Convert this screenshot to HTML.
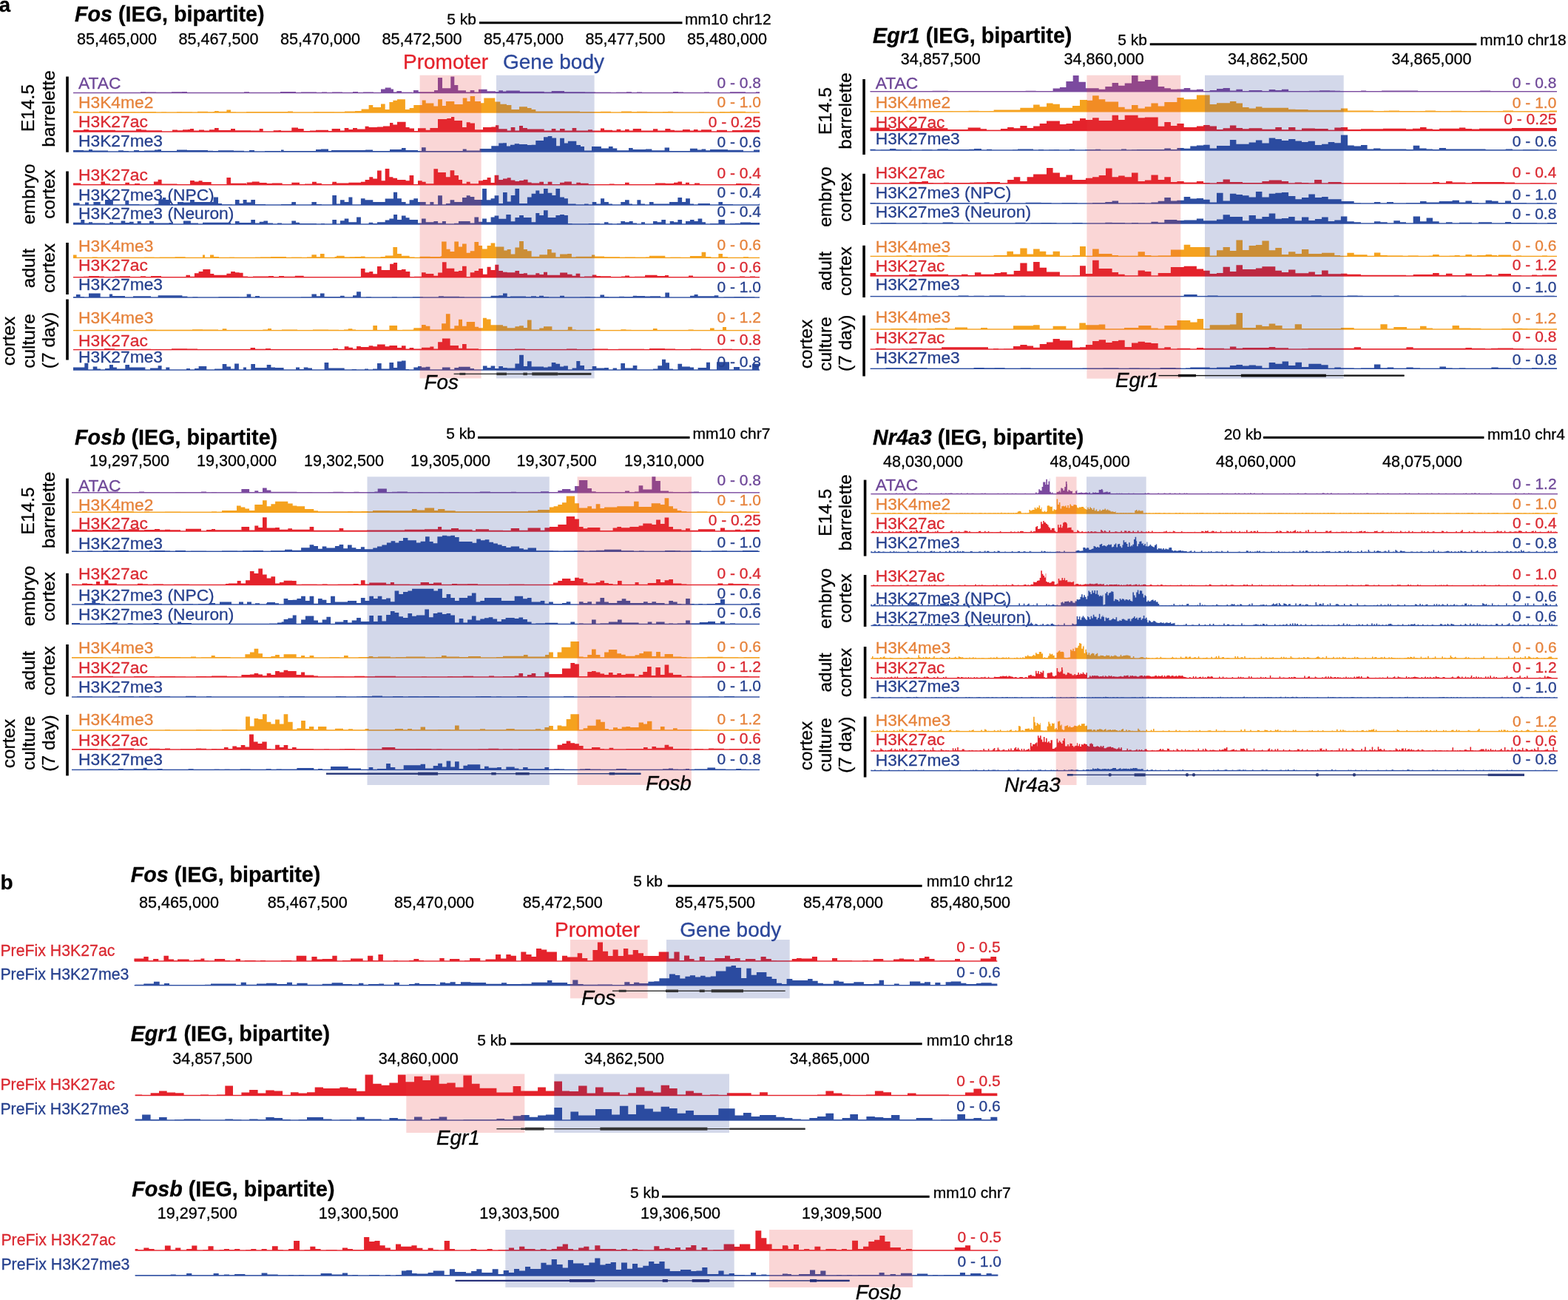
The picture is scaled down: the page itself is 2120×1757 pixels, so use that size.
<!DOCTYPE html>
<html><head><meta charset="utf-8"><title>IEG bipartite tracks</title>
<style>html,body{margin:0;padding:0;background:#fff;}svg{display:block;}</style>
</head><body>
<svg width="2120" height="1757" viewBox="0 0 2120 1757" font-family="'Liberation Sans', Arial, Helvetica, sans-serif" stroke-width="0.3">
<rect width="2120" height="1757" fill="#fff"/>
<text x="-1.2" y="16.0" font-size="27.5" fill="#000" stroke="#000" font-weight="bold">a</text>
<text x="0.6" y="1201.8" font-size="28" fill="#000" stroke="#000" font-weight="bold">b</text>
<text x="101" y="29.3" font-size="28.7" font-weight="bold" stroke="#000"><tspan font-style="italic">Fos</tspan> (IEG, bipartite)</text>
<text x="644.0" y="32.8" font-size="21" fill="#000" stroke="#000" text-anchor="end">5 kb</text>
<rect x="648" y="29.3" width="274.5" height="3" fill="#000"/>
<text x="926.0" y="32.8" font-size="21" fill="#000" stroke="#000">mm10 chr12</text>
<text x="104.0" y="60.0" font-size="21.6" fill="#000" stroke="#000">85,465,000</text>
<text x="241.5" y="60.0" font-size="21.6" fill="#000" stroke="#000">85,467,500</text>
<text x="379.0" y="60.0" font-size="21.6" fill="#000" stroke="#000">85,470,000</text>
<text x="516.5" y="60.0" font-size="21.6" fill="#000" stroke="#000">85,472,500</text>
<text x="654.0" y="60.0" font-size="21.6" fill="#000" stroke="#000">85,475,000</text>
<text x="791.5" y="60.0" font-size="21.6" fill="#000" stroke="#000">85,477,500</text>
<text x="929.0" y="60.0" font-size="21.6" fill="#000" stroke="#000">85,480,000</text>
<text x="545.0" y="93.0" font-size="28" fill="#E4222B" stroke="#E4222B">Promoter</text>
<text x="680.0" y="93.0" font-size="28" fill="#2B479A" stroke="#2B479A">Gene body</text>
<rect x="89.2" y="103.5" width="3.6" height="102.19999999999999" fill="#000"/>
<text transform="translate(46.3,146) rotate(-90)" font-size="24.5" text-anchor="middle" stroke="#000">E14.5</text>
<text transform="translate(73.5,147) rotate(-90)" font-size="24.5" text-anchor="middle" stroke="#000">barrelette</text>
<text x="106.0" y="119.9" font-size="22.8" fill="#6E4798" stroke="#6E4798">ATAC</text>
<path d="M106.0 125.5V124.9H113.0V125.5ZM127.0 125.5V124.9H148.0V125.5ZM148.0 125.5V124.9H169.0V125.5ZM190.0 125.5V124.3H197.0V125.5ZM197.0 125.5V124.5H211.0V125.5ZM211.0 125.5V124.8H232.0V125.5ZM232.0 125.5V124.3H246.0V125.5ZM246.0 125.5V124.0H253.0V125.5ZM330.0 125.5V124.2H337.0V125.5ZM337.0 125.5V124.9H358.0V125.5ZM379.0 125.5V124.1H400.0V125.5ZM407.0 125.5V124.4H428.0V125.5ZM428.0 125.5V124.9H435.0V125.5ZM435.0 125.5V124.4H442.0V125.5ZM449.0 125.5V124.4H463.0V125.5ZM477.0 125.5V123.9H484.0V125.5ZM491.0 125.5V124.5H505.0V125.5ZM505.0 125.5V124.9H512.0V125.5ZM515.0 125.5V120.5H520.7V125.5ZM520.7 125.5V118.5H528.6V125.5ZM528.6 125.5V120.5H532.0V125.5ZM532.0 125.5V124.4H536.4V125.5ZM536.4 125.5V122.9H543.0V125.5ZM543.0 125.5V124.7H557.0V125.5ZM559.0 125.5V121.9H565.7V125.5ZM565.7 125.5V124.3H587.0V125.5ZM587.0 125.5V121.9H592.0V125.5ZM592.0 125.5V105.0H598.0V125.5ZM598.0 125.5V119.3H609.3V125.5ZM609.3 125.5V103.5H614.3V125.5ZM614.3 125.5V115.0H619.3V125.5ZM619.3 125.5V122.2H630.0V125.5ZM630.0 125.5V124.5H635.7V125.5ZM635.7 125.5V121.9H641.4V125.5ZM641.4 125.5V124.5H647.0V125.5ZM647.0 125.5V120.7H658.6V125.5ZM658.6 125.5V123.3H670.0V125.5ZM670.0 125.5V124.0H674.3V125.5ZM674.3 125.5V122.2H680.0V125.5ZM680.0 125.5V123.5H684.3V125.5ZM684.3 125.5V122.5H702.9V125.5ZM702.9 125.5V123.7H735.7V125.5ZM735.7 125.5V124.5H745.7V125.5ZM745.7 125.5V123.0H763.0V125.5ZM763.0 125.5V124.3H777.0V125.5ZM777.0 125.5V124.3H791.0V125.5ZM791.0 125.5V124.4H805.0V125.5ZM805.0 125.5V124.8H819.0V125.5ZM819.0 125.5V124.8H826.0V125.5ZM833.0 125.5V124.7H847.0V125.5ZM847.0 125.5V124.2H854.0V125.5ZM861.0 125.5V124.6H868.0V125.5ZM910.0 125.5V124.1H917.0V125.5ZM917.0 125.5V124.6H924.0V125.5ZM952.0 125.5V124.6H959.0V125.5ZM987.0 125.5V124.2H1008.0V125.5ZM1015.0 125.5V124.9H1022.0V125.5ZM1022.0 125.5V124.3H1027.0V125.5Z" fill="#7B4A9F"/>
<rect x="99" y="124.8" width="928" height="1.4" fill="#7B4A9F"/>
<text x="1029.0" y="118.9" font-size="21" fill="#6E4798" stroke="#6E4798" text-anchor="end">0 - 0.8</text>
<text x="106.0" y="146.4" font-size="22.8" fill="#E6823A" stroke="#E6823A">H3K4me2</text>
<path d="M99.0 152.0V150.6H106.0V152.0ZM106.0 152.0V151.4H120.0V152.0ZM134.0 152.0V150.7H148.0V152.0ZM148.0 152.0V151.4H169.0V152.0ZM169.0 152.0V151.4H176.0V152.0ZM176.0 152.0V151.2H183.0V152.0ZM183.0 152.0V151.4H190.0V152.0ZM190.0 152.0V151.0H211.0V152.0ZM218.0 152.0V151.4H225.0V152.0ZM239.0 152.0V151.3H246.0V152.0ZM246.0 152.0V151.4H260.0V152.0ZM267.0 152.0V150.8H281.0V152.0ZM281.0 152.0V151.4H288.0V152.0ZM288.0 152.0V151.1H290.0V152.0ZM290.0 152.0V150.0H295.7V152.0ZM295.7 152.0V150.7H306.4V152.0ZM306.4 152.0V148.5H312.0V152.0ZM312.0 152.0V151.4H319.0V152.0ZM333.0 152.0V151.0H347.0V152.0ZM347.0 152.0V150.9H368.0V152.0ZM368.0 152.0V151.1H389.0V152.0ZM389.0 152.0V150.6H396.0V152.0ZM424.0 152.0V150.9H431.0V152.0ZM431.0 152.0V151.3H452.0V152.0ZM452.0 152.0V151.4H466.0V152.0ZM466.0 152.0V150.6H480.0V152.0ZM480.0 152.0V150.0H488.6V152.0ZM488.6 152.0V147.6H498.6V152.0ZM498.6 152.0V142.0H504.3V152.0ZM504.3 152.0V145.0H515.0V152.0ZM515.0 152.0V140.4H520.7V152.0ZM520.7 152.0V148.0H526.4V152.0ZM526.4 152.0V138.0H531.4V152.0ZM531.4 152.0V135.7H537.0V152.0ZM537.0 152.0V134.3H547.9V152.0ZM547.9 152.0V148.0H553.6V152.0ZM553.6 152.0V146.0H559.3V152.0ZM559.3 152.0V142.0H570.7V152.0ZM570.7 152.0V135.4H575.7V152.0ZM575.7 152.0V139.6H586.4V152.0ZM586.4 152.0V143.6H592.1V152.0ZM592.1 152.0V134.3H597.9V152.0ZM597.9 152.0V143.0H602.9V152.0ZM602.9 152.0V137.0H614.3V152.0ZM614.3 152.0V141.0H625.7V152.0ZM625.7 152.0V132.4H631.4V152.0ZM631.4 152.0V137.0H635.7V152.0ZM635.7 152.0V130.0H642.1V152.0ZM642.1 152.0V137.0H650.0V152.0ZM650.0 152.0V139.3H654.3V152.0ZM654.3 152.0V132.4H669.3V152.0ZM669.3 152.0V137.6H670.0V152.0ZM670.0 152.0V137.6H676.4V152.0ZM676.4 152.0V140.7H685.0V152.0ZM685.0 152.0V142.1H691.4V152.0ZM691.4 152.0V148.0H702.0V152.0ZM702.0 152.0V144.3H712.9V152.0ZM712.9 152.0V146.0H718.6V152.0ZM718.6 152.0V148.0H724.3V152.0ZM724.3 152.0V150.4H784.0V152.0ZM784.0 152.0V151.0H798.0V152.0ZM798.0 152.0V151.1H812.0V152.0ZM812.0 152.0V150.7H826.0V152.0ZM840.0 152.0V150.6H854.0V152.0ZM854.0 152.0V151.3H861.0V152.0ZM861.0 152.0V150.8H875.0V152.0ZM875.0 152.0V151.3H882.0V152.0ZM882.0 152.0V151.4H896.0V152.0ZM896.0 152.0V150.9H903.0V152.0ZM903.0 152.0V150.8H910.0V152.0ZM945.0 152.0V151.4H952.0V152.0ZM973.0 152.0V150.9H980.0V152.0ZM980.0 152.0V151.3H987.0V152.0ZM987.0 152.0V150.7H1008.0V152.0Z" fill="#F5A21E"/>
<rect x="99" y="151.3" width="928" height="1.4" fill="#F5A21E"/>
<text x="1029.0" y="145.1" font-size="21" fill="#E6823A" stroke="#E6823A" text-anchor="end">0 - 1.0</text>
<text x="106.0" y="172.1" font-size="22.8" fill="#DA2830" stroke="#DA2830">H3K27ac</text>
<path d="M99.0 178.0V176.0H113.0V178.0ZM113.0 178.0V175.0H120.0V178.0ZM120.0 178.0V176.0H135.0V178.0ZM135.0 178.0V175.7H156.0V178.0ZM156.0 178.0V176.4H170.0V178.0ZM170.0 178.0V176.4H184.0V178.0ZM184.0 178.0V174.4H191.0V178.0ZM191.0 178.0V175.4H198.0V178.0ZM198.0 178.0V176.3H212.0V178.0ZM212.0 178.0V176.3H219.0V178.0ZM233.0 178.0V175.6H240.0V178.0ZM240.0 178.0V176.2H247.0V178.0ZM247.0 178.0V175.3H254.0V178.0ZM254.0 178.0V174.9H257.0V178.0ZM257.0 178.0V174.0H262.0V178.0ZM262.0 178.0V176.4H269.0V178.0ZM269.0 178.0V175.4H276.0V178.0ZM276.0 178.0V176.4H283.0V178.0ZM283.0 178.0V175.3H290.0V178.0ZM290.0 178.0V173.0H295.7V178.0ZM295.7 178.0V176.0H309.7V178.0ZM309.7 178.0V176.0H312.0V178.0ZM312.0 178.0V174.0H318.0V178.0ZM318.0 178.0V176.3H325.0V178.0ZM325.0 178.0V176.3H339.0V178.0ZM339.0 178.0V176.4H350.7V178.0ZM350.7 178.0V174.0H355.7V178.0ZM369.7 178.0V176.2H376.7V178.0ZM376.7 178.0V175.9H380.0V178.0ZM380.0 178.0V176.7H394.3V178.0ZM394.3 178.0V172.5H403.0V178.0ZM403.0 178.0V174.0H410.7V178.0ZM410.7 178.0V177.0H419.0V178.0ZM419.0 178.0V176.4H427.0V178.0ZM427.0 178.0V175.7H444.0V178.0ZM444.0 178.0V177.0H448.6V178.0ZM448.6 178.0V174.0H460.0V178.0ZM460.0 178.0V176.4H465.7V178.0ZM465.7 178.0V173.0H471.4V178.0ZM471.4 178.0V175.0H477.0V178.0ZM477.0 178.0V173.0H482.9V178.0ZM482.9 178.0V174.6H493.6V178.0ZM493.6 178.0V170.7H498.6V178.0ZM498.6 178.0V172.0H510.0V178.0ZM510.0 178.0V171.5H518.0V178.0ZM518.0 178.0V170.5H527.0V178.0ZM527.0 178.0V166.0H531.4V178.0ZM531.4 178.0V168.6H537.0V178.0ZM537.0 178.0V164.7H548.6V178.0ZM548.6 178.0V172.0H553.6V178.0ZM553.6 178.0V173.6H560.0V178.0ZM560.0 178.0V177.0H565.0V178.0ZM565.0 178.0V173.3H575.7V178.0ZM575.7 178.0V175.7H581.4V178.0ZM581.4 178.0V173.0H592.0V178.0ZM592.0 178.0V161.0H604.3V178.0ZM604.3 178.0V160.0H610.0V178.0ZM610.0 178.0V158.0H614.3V178.0ZM614.3 178.0V163.0H625.0V178.0ZM625.0 178.0V172.0H630.7V178.0ZM630.7 178.0V165.3H635.7V178.0ZM635.7 178.0V166.4H642.0V178.0ZM642.0 178.0V175.3H653.0V178.0ZM653.0 178.0V172.0H664.3V178.0ZM664.3 178.0V171.4H670.0V178.0ZM670.0 178.0V169.3H674.3V178.0ZM674.3 178.0V174.3H685.7V178.0ZM685.7 178.0V176.5H690.7V178.0ZM690.7 178.0V172.0H696.4V178.0ZM696.4 178.0V176.5H702.0V178.0ZM702.0 178.0V170.0H707.0V178.0ZM707.0 178.0V173.0H712.9V178.0ZM712.9 178.0V174.5H735.7V178.0ZM735.7 178.0V176.5H745.7V178.0ZM745.7 178.0V174.0H751.4V178.0ZM751.4 178.0V176.5H757.0V178.0ZM757.0 178.0V174.0H763.6V178.0ZM763.6 178.0V176.5H773.6V178.0ZM773.6 178.0V173.0H779.3V178.0ZM779.3 178.0V176.5H795.0V178.0ZM795.0 178.0V175.3H801.0V178.0ZM801.0 178.0V176.5H812.0V178.0ZM812.0 178.0V173.6H817.0V178.0ZM817.0 178.0V175.7H828.0V178.0ZM828.0 178.0V176.5H833.6V178.0ZM833.6 178.0V174.7H839.3V178.0ZM839.3 178.0V176.5H845.0V178.0ZM845.0 178.0V174.7H850.7V178.0ZM850.7 178.0V176.5H855.7V178.0ZM855.7 178.0V174.0H867.0V178.0ZM867.0 178.0V176.5H882.9V178.0ZM882.9 178.0V174.3H889.3V178.0ZM889.3 178.0V176.5H899.3V178.0ZM899.3 178.0V174.0H906.4V178.0ZM906.4 178.0V175.7H912.0V178.0ZM912.0 178.0V176.5H922.9V178.0ZM922.9 178.0V175.0H932.9V178.0ZM932.9 178.0V176.5H937.9V178.0ZM937.9 178.0V175.0H943.6V178.0ZM943.6 178.0V176.5H948.0V178.0ZM948.0 178.0V175.3H962.0V178.0ZM969.0 178.0V175.8H983.0V178.0ZM990.0 178.0V175.9H997.0V178.0ZM997.0 178.0V175.9H1004.0V178.0ZM1004.0 178.0V175.4H1018.0V178.0ZM1018.0 178.0V175.7H1027.0V178.0Z" fill="#E4222B"/>
<rect x="99" y="177.3" width="928" height="1.4" fill="#E4222B"/>
<text x="1029.0" y="171.8" font-size="21" fill="#DA2830" stroke="#DA2830" text-anchor="end">0 - 0.25</text>
<text x="106.0" y="198.4" font-size="22.8" fill="#26408E" stroke="#26408E">H3K27me3</text>
<path d="M99.0 205.0V202.9H113.0V205.0ZM113.0 205.0V203.4H120.0V205.0ZM120.0 205.0V202.0H125.0V205.0ZM125.0 205.0V203.5H146.0V205.0ZM160.0 205.0V203.2H167.0V205.0ZM167.0 205.0V203.9H174.0V205.0ZM181.0 205.0V203.0H188.0V205.0ZM188.0 205.0V203.9H195.0V205.0ZM195.0 205.0V203.4H209.0V205.0ZM209.0 205.0V202.4H213.6V205.0ZM213.6 205.0V202.0H218.0V205.0ZM218.0 205.0V203.9H239.0V205.0ZM239.0 205.0V202.5H253.0V205.0ZM253.0 205.0V203.1H274.0V205.0ZM274.0 205.0V203.0H281.0V205.0ZM281.0 205.0V203.8H288.0V205.0ZM288.0 205.0V204.0H295.0V205.0ZM295.0 205.0V203.2H309.0V205.0ZM309.0 205.0V203.3H316.0V205.0ZM316.0 205.0V203.8H330.0V205.0ZM337.0 205.0V203.1H344.0V205.0ZM358.0 205.0V204.0H379.0V205.0ZM380.0 205.0V202.4H383.6V205.0ZM383.6 205.0V204.0H427.0V205.0ZM427.0 205.0V202.0H434.0V205.0ZM434.0 205.0V201.5H444.0V205.0ZM444.0 205.0V204.0H448.0V205.0ZM448.0 205.0V203.0H494.0V205.0ZM494.0 205.0V202.5H504.0V205.0ZM504.0 205.0V204.0H527.0V205.0ZM527.0 205.0V202.0H542.9V205.0ZM542.9 205.0V200.0H548.6V205.0ZM548.6 205.0V203.0H565.0V205.0ZM565.0 205.0V204.0H570.0V205.0ZM570.0 205.0V199.3H575.7V205.0ZM575.7 205.0V204.0H625.7V205.0ZM625.7 205.0V201.5H630.7V205.0ZM630.7 205.0V203.5H648.6V205.0ZM648.6 205.0V201.0H664.3V205.0ZM664.3 205.0V197.2H674.3V205.0ZM674.3 205.0V193.6H680.0V205.0ZM680.0 205.0V193.3H685.0V205.0ZM685.0 205.0V197.6H690.0V205.0ZM690.0 205.0V195.7H695.7V205.0ZM695.7 205.0V194.3H702.0V205.0ZM702.0 205.0V195.0H712.9V205.0ZM712.9 205.0V196.1H718.6V205.0ZM718.6 205.0V195.7H724.3V205.0ZM724.3 205.0V190.0H735.0V205.0ZM735.0 205.0V185.3H740.7V205.0ZM740.7 205.0V184.0H746.4V205.0ZM746.4 205.0V186.4H752.1V205.0ZM752.1 205.0V197.2H757.1V205.0ZM757.1 205.0V186.7H762.9V205.0ZM762.9 205.0V193.6H767.9V205.0ZM767.9 205.0V190.7H779.3V205.0ZM779.3 205.0V196.1H785.0V205.0ZM785.0 205.0V198.1H790.0V205.0ZM790.0 205.0V203.6H800.0V205.0ZM800.0 205.0V198.1H812.9V205.0ZM812.9 205.0V200.4H822.9V205.0ZM822.9 205.0V198.1H828.6V205.0ZM828.6 205.0V200.4H834.3V205.0ZM834.3 205.0V203.3H850.0V205.0ZM850.0 205.0V200.0H855.7V205.0ZM855.7 205.0V201.9H872.9V205.0ZM872.9 205.0V201.4H881.4V205.0ZM881.4 205.0V203.3H898.6V205.0ZM898.6 205.0V199.6H905.0V205.0ZM905.0 205.0V203.9H932.9V205.0ZM932.9 205.0V200.7H942.9V205.0ZM942.9 205.0V202.4H948.6V205.0ZM948.6 205.0V201.4H954.3V205.0ZM954.3 205.0V203.3H960.0V205.0ZM960.0 205.0V201.9H970.0V205.0ZM970.0 205.0V202.1H977.0V205.0ZM977.0 205.0V202.1H984.0V205.0ZM984.0 205.0V202.7H1005.0V205.0ZM1019.0 205.0V202.6H1027.0V205.0Z" fill="#2D4EA2"/>
<rect x="99" y="204.3" width="928" height="1.4" fill="#2D4EA2"/>
<text x="1029.0" y="198.8" font-size="21" fill="#26408E" stroke="#26408E" text-anchor="end">0 - 0.6</text>
<rect x="89.2" y="231.5" width="3.6" height="70.19999999999999" fill="#000"/>
<text transform="translate(46.6,262.3) rotate(-90)" font-size="24.5" text-anchor="middle" stroke="#000">embryo</text>
<text transform="translate(73.6,262.5) rotate(-90)" font-size="24.5" text-anchor="middle" stroke="#000">cortex</text>
<text x="106.0" y="243.5" font-size="22.8" fill="#DA2830" stroke="#DA2830">H3K27ac</text>
<path d="M99.0 249.7V247.4H109.3V249.7ZM109.3 249.7V248.9H116.3V249.7ZM136.4 249.7V245.4H142.0V249.7ZM142.0 249.7V248.2H149.0V249.7ZM149.0 249.7V249.0H169.3V249.7ZM169.3 249.7V246.8H175.0V249.7ZM175.0 249.7V249.0H182.0V249.7ZM182.0 249.7V248.0H189.0V249.7ZM189.0 249.7V248.9H207.9V249.7ZM207.9 249.7V245.4H213.6V249.7ZM213.6 249.7V242.8H218.6V249.7ZM218.6 249.7V248.5H239.6V249.7ZM239.6 249.7V249.1H246.6V249.7ZM246.6 249.7V249.0H253.6V249.7ZM257.0 249.7V244.0H262.9V249.7ZM262.9 249.7V245.4H268.6V249.7ZM268.6 249.7V244.3H273.6V249.7ZM273.6 249.7V246.0H285.7V249.7ZM285.7 249.7V249.1H306.4V249.7ZM306.4 249.7V240.0H312.0V249.7ZM312.0 249.7V247.7H333.0V249.7ZM333.6 249.7V246.4H340.7V249.7ZM340.7 249.7V245.4H350.7V249.7ZM350.7 249.7V247.1H360.7V249.7ZM360.7 249.7V248.1H367.7V249.7ZM367.7 249.7V247.6H381.7V249.7ZM381.7 249.7V248.9H394.3V249.7ZM394.3 249.7V246.8H405.0V249.7ZM412.0 249.7V248.4H422.0V249.7ZM422.0 249.7V245.7H427.9V249.7ZM427.9 249.7V247.8H434.9V249.7ZM448.9 249.7V248.1H449.3V249.7ZM449.3 249.7V245.7H455.0V249.7ZM455.0 249.7V247.6H471.4V249.7ZM471.4 249.7V246.8H487.9V249.7ZM487.9 249.7V245.7H493.6V249.7ZM493.6 249.7V243.1H499.3V249.7ZM499.3 249.7V239.3H504.3V249.7ZM504.3 249.7V241.4H510.0V249.7ZM510.0 249.7V230.4H515.7V249.7ZM515.7 249.7V244.3H520.7V249.7ZM520.7 249.7V228.0H526.4V249.7ZM526.4 249.7V239.3H531.4V249.7ZM531.4 249.7V240.7H537.1V249.7ZM537.1 249.7V243.1H548.6V249.7ZM548.6 249.7V244.3H553.6V249.7ZM553.6 249.7V237.1H559.3V249.7ZM565.0 249.7V244.3H570.7V249.7ZM570.7 249.7V245.7H575.7V249.7ZM575.7 249.7V248.3H586.4V249.7ZM586.4 249.7V228.3H592.1V249.7ZM592.1 249.7V233.1H602.9V249.7ZM602.9 249.7V239.3H608.6V249.7ZM608.6 249.7V230.3H614.3V249.7ZM614.3 249.7V237.1H620.0V249.7ZM620.0 249.7V243.1H625.0V249.7ZM625.0 249.7V248.3H630.7V249.7ZM630.7 249.7V245.7H635.7V249.7ZM635.7 249.7V248.3H647.0V249.7ZM647.0 249.7V244.3H652.9V249.7ZM652.9 249.7V243.1H658.6V249.7ZM658.6 249.7V240.0H663.6V249.7ZM663.6 249.7V247.1H668.6V249.7ZM668.6 249.7V236.8H674.3V249.7ZM674.3 249.7V243.1H680.0V249.7ZM680.0 249.7V241.4H685.7V249.7ZM685.7 249.7V240.3H690.7V249.7ZM690.7 249.7V243.6H696.4V249.7ZM696.4 249.7V245.0H702.1V249.7ZM702.1 249.7V244.0H707.9V249.7ZM707.9 249.7V242.8H713.6V249.7ZM713.6 249.7V246.4H718.6V249.7ZM718.6 249.7V247.4H729.3V249.7ZM729.3 249.7V245.7H735.0V249.7ZM735.0 249.7V248.7H740.7V249.7ZM740.7 249.7V245.7H746.4V249.7ZM757.0 249.7V246.8H762.9V249.7ZM762.9 249.7V245.4H772.9V249.7ZM772.9 249.7V248.7H779.3V249.7ZM779.3 249.7V246.8H785.0V249.7ZM785.0 249.7V247.8H795.7V249.7ZM823.7 249.7V248.5H830.7V249.7ZM845.0 249.7V246.8H850.7V249.7ZM864.7 249.7V249.1H885.7V249.7ZM885.7 249.7V247.4H899.7V249.7ZM899.7 249.7V248.0H911.0V249.7ZM911.0 249.7V246.8H916.4V249.7ZM916.4 249.7V245.4H922.1V249.7ZM922.1 249.7V248.7H927.0V249.7ZM927.0 249.7V246.8H932.0V249.7ZM939.0 249.7V247.6H946.0V249.7ZM953.0 249.7V249.1H960.0V249.7ZM988.0 249.7V249.1H995.0V249.7ZM995.0 249.7V248.1H1002.0V249.7ZM1002.0 249.7V248.2H1016.0V249.7ZM1016.0 249.7V248.9H1027.0V249.7Z" fill="#E4222B"/>
<rect x="99" y="249.0" width="928" height="1.4" fill="#E4222B"/>
<text x="1029.0" y="240.5" font-size="21" fill="#DA2830" stroke="#DA2830" text-anchor="end">0 - 0.4</text>
<text x="106.0" y="270.9" font-size="22.8" fill="#26408E" stroke="#26408E">H3K27me3 (NPC)</text>
<path d="M99.0 277.0V274.3H107.6V277.0ZM115.0 277.0V273.6H120.0V277.0ZM126.4 277.0V272.9H135.7V277.0ZM135.7 277.0V276.4H142.0V277.0ZM142.0 277.0V270.0H152.9V277.0ZM169.3 277.0V270.7H174.3V277.0ZM174.3 277.0V276.0H188.3V277.0ZM209.3 277.0V275.8H214.3V277.0ZM214.3 277.0V269.3H220.0V277.0ZM220.0 277.0V267.1H224.3V277.0ZM224.3 277.0V270.0H230.0V277.0ZM230.0 277.0V276.0H240.0V277.0ZM240.0 277.0V273.1H248.0V277.0ZM248.0 277.0V273.6H257.0V277.0ZM257.0 277.0V270.0H262.9V277.0ZM262.9 277.0V272.9H288.6V277.0ZM288.6 277.0V266.4H295.0V277.0ZM295.0 277.0V275.0H300.0V277.0ZM300.0 277.0V276.4H314.0V277.0ZM317.9 277.0V270.0H323.6V277.0ZM323.6 277.0V275.0H328.6V277.0ZM328.6 277.0V270.0H333.6V277.0ZM333.6 277.0V273.6H339.3V277.0ZM339.3 277.0V270.0H345.0V277.0ZM345.0 277.0V276.1H359.0V277.0ZM380.0 277.0V276.0H394.0V277.0ZM394.0 277.0V275.0H394.3V277.0ZM394.3 277.0V272.9H400.0V277.0ZM421.0 277.0V276.0H421.4V277.0ZM421.4 277.0V272.9H427.9V277.0ZM427.9 277.0V276.1H434.9V277.0ZM449.3 277.0V264.0H455.0V277.0ZM455.0 277.0V275.4H460.0V277.0ZM460.0 277.0V270.3H465.7V277.0ZM465.7 277.0V272.9H471.4V277.0ZM471.4 277.0V266.4H476.4V277.0ZM487.9 277.0V268.3H493.6V277.0ZM493.6 277.0V270.3H504.3V277.0ZM504.3 277.0V272.9H520.7V277.0ZM520.7 277.0V268.6H532.0V277.0ZM532.0 277.0V259.7H537.1V277.0ZM537.1 277.0V268.3H542.9V277.0ZM542.9 277.0V272.9H548.6V277.0ZM548.6 277.0V275.4H553.6V277.0ZM553.6 277.0V270.3H559.3V277.0ZM559.3 277.0V268.3H565.0V277.0ZM565.0 277.0V273.1H575.7V277.0ZM581.4 277.0V272.9H586.4V277.0ZM592.1 277.0V264.3H597.9V277.0ZM602.9 277.0V275.0H608.6V277.0ZM608.6 277.0V270.3H614.3V277.0ZM614.3 277.0V272.9H625.0V277.0ZM625.0 277.0V266.9H630.7V277.0ZM630.7 277.0V264.3H635.7V277.0ZM635.7 277.0V266.0H641.4V277.0ZM641.4 277.0V270.0H652.1V277.0ZM652.1 277.0V255.0H657.9V277.0ZM657.9 277.0V270.3H663.6V277.0ZM663.6 277.0V268.3H668.6V277.0ZM668.6 277.0V264.3H674.3V277.0ZM674.3 277.0V275.0H680.0V277.0ZM680.0 277.0V260.0H685.7V277.0ZM685.7 277.0V272.6H690.7V277.0ZM690.7 277.0V264.0H696.4V277.0ZM696.4 277.0V255.0H702.1V277.0ZM702.1 277.0V275.0H712.9V277.0ZM712.9 277.0V266.4H718.6V277.0ZM718.6 277.0V261.7H724.3V277.0ZM724.3 277.0V257.4H729.3V277.0ZM729.3 277.0V261.7H735.0V277.0ZM735.0 277.0V255.0H740.7V277.0ZM740.7 277.0V260.7H746.4V277.0ZM746.4 277.0V264.0H751.4V277.0ZM751.4 277.0V255.0H757.1V277.0ZM757.1 277.0V266.4H762.9V277.0ZM762.9 277.0V268.3H767.9V277.0ZM767.9 277.0V275.4H778.6V277.0ZM790.0 277.0V275.4H795.7V277.0ZM800.7 277.0V272.9H806.4V277.0ZM806.4 277.0V275.5H812.1V277.0ZM812.1 277.0V268.3H817.1V277.0ZM817.1 277.0V272.9H822.9V277.0ZM822.9 277.0V275.5H828.0V277.0ZM839.3 277.0V272.9H845.0V277.0ZM845.0 277.0V270.3H850.7V277.0ZM850.7 277.0V275.5H855.0V277.0ZM861.4 277.0V270.3H866.4V277.0ZM866.4 277.0V275.5H872.0V277.0ZM877.9 277.0V272.9H883.6V277.0ZM883.6 277.0V275.4H905.0V277.0ZM905.0 277.0V272.9H916.4V277.0ZM916.4 277.0V266.9H922.1V277.0ZM922.1 277.0V272.9H927.1V277.0ZM927.1 277.0V268.3H932.9V277.0ZM932.9 277.0V275.5H938.0V277.0ZM943.6 277.0V275.0H960.0V277.0ZM971.4 277.0V272.9H977.0V277.0ZM977.0 277.0V276.1H991.0V277.0ZM1026.0 277.0V275.6H1027.0V277.0Z" fill="#2D4EA2"/>
<rect x="99" y="276.3" width="928" height="1.4" fill="#2D4EA2"/>
<text x="1029.0" y="266.7" font-size="21" fill="#26408E" stroke="#26408E" text-anchor="end">0 - 0.4</text>
<text x="106.0" y="295.5" font-size="22.8" fill="#26408E" stroke="#26408E">H3K27me3 (Neuron)</text>
<path d="M99.0 303.0V300.7H109.3V303.0ZM109.3 303.0V297.1H114.3V303.0ZM114.3 303.0V301.4H120.0V303.0ZM120.0 303.0V300.3H125.0V303.0ZM125.0 303.0V301.5H132.0V303.0ZM132.0 303.0V301.5H142.0V303.0ZM142.0 303.0V302.0H148.0V303.0ZM148.0 303.0V300.3H153.0V303.0ZM153.0 303.0V301.4H163.6V303.0ZM163.6 303.0V298.6H169.3V303.0ZM169.3 303.0V301.0H175.0V303.0ZM175.0 303.0V299.7H180.7V303.0ZM180.7 303.0V302.0H185.7V303.0ZM185.7 303.0V298.9H190.7V303.0ZM190.7 303.0V301.8H202.0V303.0ZM202.0 303.0V298.9H207.9V303.0ZM207.9 303.0V301.4H228.6V303.0ZM228.6 303.0V301.0H234.0V303.0ZM247.9 303.0V298.6H257.9V303.0ZM257.9 303.0V301.4H268.0V303.0ZM274.0 303.0V300.7H312.0V303.0ZM317.9 303.0V298.9H323.6V303.0ZM323.6 303.0V301.1H339.3V303.0ZM339.3 303.0V297.1H345.0V303.0ZM345.0 303.0V301.5H350.7V303.0ZM350.7 303.0V299.7H356.4V303.0ZM356.4 303.0V298.6H362.0V303.0ZM362.0 303.0V301.5H369.0V303.0ZM375.0 303.0V301.5H381.0V303.0ZM394.3 303.0V298.6H400.0V303.0ZM400.0 303.0V300.7H405.0V303.0ZM405.0 303.0V302.0H427.9V303.0ZM434.0 303.0V302.0H439.0V303.0ZM449.3 303.0V296.9H455.0V303.0ZM460.0 303.0V298.3H465.7V303.0ZM465.7 303.0V295.4H471.4V303.0ZM471.4 303.0V300.3H482.1V303.0ZM482.1 303.0V293.6H487.9V303.0ZM498.6 303.0V300.7H504.3V303.0ZM504.3 303.0V302.0H510.0V303.0ZM510.0 303.0V300.3H520.7V303.0ZM520.7 303.0V297.4H526.4V303.0ZM526.4 303.0V295.4H532.1V303.0ZM532.1 303.0V290.0H537.1V303.0ZM537.1 303.0V297.1H542.9V303.0ZM542.9 303.0V291.4H548.6V303.0ZM548.6 303.0V294.3H553.6V303.0ZM553.6 303.0V296.9H565.0V303.0ZM565.0 303.0V301.4H570.0V303.0ZM570.0 303.0V295.4H575.7V303.0ZM575.7 303.0V300.3H586.4V303.0ZM586.4 303.0V298.9H592.1V303.0ZM592.1 303.0V301.5H597.9V303.0ZM597.9 303.0V298.9H602.9V303.0ZM614.0 303.0V301.7H620.0V303.0ZM620.0 303.0V298.9H635.7V303.0ZM635.7 303.0V301.5H641.4V303.0ZM641.4 303.0V293.6H647.1V303.0ZM647.1 303.0V299.7H652.1V303.0ZM652.1 303.0V295.4H657.9V303.0ZM657.9 303.0V300.3H663.6V303.0ZM663.6 303.0V293.6H668.6V303.0ZM668.6 303.0V291.4H674.3V303.0ZM674.3 303.0V295.7H684.3V303.0ZM684.3 303.0V290.0H690.7V303.0ZM690.7 303.0V299.3H696.4V303.0ZM696.4 303.0V294.0H702.1V303.0ZM702.1 303.0V291.1H707.9V303.0ZM707.9 303.0V294.0H718.6V303.0ZM718.6 303.0V300.3H724.3V303.0ZM724.3 303.0V287.9H729.3V303.0ZM729.3 303.0V291.1H735.0V303.0ZM735.0 303.0V284.3H740.7V303.0ZM740.7 303.0V294.0H751.4V303.0ZM751.4 303.0V291.1H757.1V303.0ZM757.1 303.0V290.0H762.9V303.0ZM762.9 303.0V291.1H767.9V303.0ZM767.9 303.0V302.0H773.6V303.0ZM795.7 303.0V302.0H811.0V303.0ZM817.0 303.0V300.3H822.6V303.0ZM822.6 303.0V302.0H828.0V303.0ZM834.0 303.0V302.0H839.3V303.0ZM839.3 303.0V298.9H845.0V303.0ZM845.0 303.0V300.3H850.7V303.0ZM850.7 303.0V298.9H855.7V303.0ZM855.7 303.0V301.5H861.0V303.0ZM867.0 303.0V300.3H872.0V303.0ZM883.0 303.0V298.9H888.6V303.0ZM888.6 303.0V300.3H894.3V303.0ZM894.3 303.0V296.9H900.0V303.0ZM905.7 303.0V298.9H911.0V303.0ZM911.0 303.0V300.3H916.4V303.0ZM916.4 303.0V296.9H922.1V303.0ZM927.0 303.0V298.9H932.9V303.0ZM932.9 303.0V297.1H938.6V303.0ZM938.6 303.0V298.9H943.6V303.0ZM943.6 303.0V295.4H949.3V303.0ZM949.3 303.0V300.3H954.0V303.0ZM960.0 303.0V302.0H971.4V303.0ZM971.4 303.0V297.1H980.0V303.0ZM987.0 303.0V302.1H994.0V303.0ZM994.0 303.0V301.7H1001.0V303.0ZM1001.0 303.0V300.6H1015.0V303.0ZM1015.0 303.0V301.1H1027.0V303.0Z" fill="#2D4EA2"/>
<rect x="99" y="302.3" width="928" height="1.4" fill="#2D4EA2"/>
<text x="1029.0" y="293.0" font-size="21" fill="#26408E" stroke="#26408E" text-anchor="end">0 - 0.4</text>
<rect x="89.2" y="328" width="3.6" height="70" fill="#000"/>
<text transform="translate(46.6,362.6) rotate(-90)" font-size="24.5" text-anchor="middle" stroke="#000">adult</text>
<text transform="translate(73.6,362.3) rotate(-90)" font-size="24.5" text-anchor="middle" stroke="#000">cortex</text>
<text x="106.0" y="340.4" font-size="22.8" fill="#E6823A" stroke="#E6823A">H3K4me3</text>
<path d="M99.0 348.4V344.4H103.6V348.4ZM124.6 348.4V347.5H131.6V348.4ZM194.6 348.4V347.7H208.6V348.4ZM215.6 348.4V347.7H236.6V348.4ZM236.6 348.4V347.3H250.6V348.4ZM274.0 348.4V344.4H277.0V348.4ZM284.0 348.4V344.4H289.0V348.4ZM289.0 348.4V347.1H296.0V348.4ZM310.0 348.4V347.7H317.0V348.4ZM345.0 348.4V347.7H352.0V348.4ZM352.0 348.4V347.5H366.0V348.4ZM366.0 348.4V346.9H387.0V348.4ZM394.0 348.4V347.7H408.0V348.4ZM415.0 348.4V347.6H421.4V348.4ZM421.4 348.4V344.3H427.9V348.4ZM427.9 348.4V347.2H432.9V348.4ZM432.9 348.4V343.1H438.6V348.4ZM452.6 348.4V347.0H455.0V348.4ZM455.0 348.4V345.7H465.7V348.4ZM465.7 348.4V347.5H472.7V348.4ZM472.7 348.4V347.3H479.7V348.4ZM479.7 348.4V346.9H486.7V348.4ZM486.7 348.4V347.1H487.9V348.4ZM487.9 348.4V346.4H493.6V348.4ZM493.6 348.4V347.8H514.6V348.4ZM514.6 348.4V347.1H520.7V348.4ZM520.7 348.4V345.4H531.4V348.4ZM531.4 348.4V334.0H537.1V348.4ZM537.1 348.4V343.1H542.9V348.4ZM542.9 348.4V345.7H553.6V348.4ZM553.6 348.4V347.6H560.6V348.4ZM567.6 348.4V346.8H581.6V348.4ZM581.6 348.4V347.1H595.6V348.4ZM595.6 348.4V346.3H597.1V348.4ZM597.1 348.4V326.4H603.6V348.4ZM603.6 348.4V336.8H608.6V348.4ZM608.6 348.4V340.0H614.3V348.4ZM614.3 348.4V326.4H620.0V348.4ZM620.0 348.4V333.5H625.0V348.4ZM625.0 348.4V329.4H630.7V348.4ZM630.7 348.4V341.7H635.7V348.4ZM635.7 348.4V339.3H641.4V348.4ZM641.4 348.4V327.1H647.1V348.4ZM647.1 348.4V332.1H652.1V348.4ZM652.1 348.4V336.4H658.6V348.4ZM658.6 348.4V332.1H663.6V348.4ZM663.6 348.4V328.5H669.3V348.4ZM669.3 348.4V333.5H680.0V348.4ZM680.0 348.4V333.5H681.4V348.4ZM681.4 348.4V338.4H685.7V348.4ZM685.7 348.4V337.1H690.7V348.4ZM690.7 348.4V343.5H696.4V348.4ZM696.4 348.4V334.4H702.1V348.4ZM702.1 348.4V326.0H707.9V348.4ZM707.9 348.4V337.1H712.9V348.4ZM712.9 348.4V339.3H718.6V348.4ZM718.6 348.4V346.8H729.3V348.4ZM729.3 348.4V344.3H740.0V348.4ZM740.0 348.4V337.1H745.7V348.4ZM745.7 348.4V341.4H751.4V348.4ZM751.4 348.4V347.4H757.1V348.4ZM757.1 348.4V343.5H767.1V348.4ZM767.1 348.4V343.1H772.9V348.4ZM772.9 348.4V347.4H778.6V348.4ZM778.6 348.4V346.8H800.0V348.4ZM800.0 348.4V344.4H804.3V348.4ZM804.3 348.4V346.4H817.0V348.4ZM817.0 348.4V347.2H838.0V348.4ZM838.0 348.4V347.8H845.0V348.4ZM845.0 348.4V347.4H859.0V348.4ZM859.0 348.4V347.8H873.0V348.4ZM873.0 348.4V347.6H877.9V348.4ZM877.9 348.4V345.7H899.3V348.4ZM906.3 348.4V347.8H920.3V348.4ZM932.9 348.4V346.0H948.6V348.4ZM948.6 348.4V340.7H954.3V348.4ZM954.3 348.4V346.9H961.3V348.4ZM971.4 348.4V343.1H977.0V348.4ZM977.0 348.4V347.3H984.0V348.4ZM1005.0 348.4V347.3H1012.0V348.4Z" fill="#F5A21E"/>
<rect x="99" y="347.7" width="928" height="1.4" fill="#F5A21E"/>
<text x="1029.0" y="338.3" font-size="21" fill="#E6823A" stroke="#E6823A" text-anchor="end">0 - 0.6</text>
<text x="106.0" y="365.8" font-size="22.8" fill="#DA2830" stroke="#DA2830">H3K27ac</text>
<path d="M99.0 374.7V373.9H113.0V374.7ZM113.0 374.7V373.8H120.0V374.7ZM120.0 374.7V372.9H134.0V374.7ZM134.0 374.7V373.6H141.0V374.7ZM155.0 374.7V373.5H162.0V374.7ZM162.0 374.7V373.2H176.0V374.7ZM176.0 374.7V374.1H190.0V374.7ZM190.0 374.7V373.3H197.0V374.7ZM197.0 374.7V374.0H204.0V374.7ZM204.0 374.7V373.0H218.0V374.7ZM218.0 374.7V374.1H232.0V374.7ZM251.4 374.7V371.7H257.0V374.7ZM257.0 374.7V373.7H262.9V374.7ZM262.9 374.7V369.3H268.6V374.7ZM268.6 374.7V367.1H274.3V374.7ZM274.3 374.7V364.0H284.3V374.7ZM284.3 374.7V370.0H289.3V374.7ZM289.3 374.7V371.7H306.4V374.7ZM306.4 374.7V369.7H312.1V374.7ZM312.1 374.7V367.1H317.9V374.7ZM317.9 374.7V368.3H323.6V374.7ZM323.6 374.7V368.8H328.6V374.7ZM328.6 374.7V373.6H335.0V374.7ZM342.0 374.7V373.6H363.0V374.7ZM363.0 374.7V373.1H370.0V374.7ZM370.0 374.7V374.1H377.0V374.7ZM377.0 374.7V372.9H384.0V374.7ZM384.0 374.7V373.7H391.0V374.7ZM391.0 374.7V373.7H398.0V374.7ZM398.6 374.7V372.7H410.7V374.7ZM410.7 374.7V373.9H417.7V374.7ZM417.7 374.7V373.9H438.7V374.7ZM438.7 374.7V374.1H452.7V374.7ZM473.7 374.7V374.1H487.9V374.7ZM487.9 374.7V363.1H493.6V374.7ZM493.6 374.7V368.3H499.3V374.7ZM499.3 374.7V367.1H504.3V374.7ZM504.3 374.7V370.3H510.0V374.7ZM510.0 374.7V360.0H515.7V374.7ZM515.7 374.7V365.0H527.1V374.7ZM527.1 374.7V356.8H532.1V374.7ZM532.1 374.7V355.0H537.1V374.7ZM537.1 374.7V365.0H542.9V374.7ZM542.9 374.7V364.0H548.6V374.7ZM548.6 374.7V367.1H554.3V374.7ZM554.3 374.7V374.2H560.0V374.7ZM560.0 374.7V373.8H570.0V374.7ZM570.0 374.7V368.3H575.7V374.7ZM575.7 374.7V370.0H586.4V374.7ZM586.4 374.7V372.7H592.1V374.7ZM592.1 374.7V368.6H597.9V374.7ZM597.9 374.7V354.3H603.6V374.7ZM603.6 374.7V362.8H614.3V374.7ZM614.3 374.7V367.1H620.0V374.7ZM620.0 374.7V366.0H625.0V374.7ZM625.0 374.7V359.7H630.7V374.7ZM630.7 374.7V374.0H635.7V374.7ZM635.7 374.7V368.3H641.4V374.7ZM641.4 374.7V366.0H647.1V374.7ZM647.1 374.7V363.1H652.9V374.7ZM652.9 374.7V370.7H658.6V374.7ZM658.6 374.7V360.7H663.6V374.7ZM663.6 374.7V365.0H669.3V374.7ZM669.3 374.7V357.8H674.3V374.7ZM674.3 374.7V366.0H680.0V374.7ZM680.0 374.7V367.8H685.7V374.7ZM685.7 374.7V368.3H696.4V374.7ZM696.4 374.7V366.0H702.1V374.7ZM702.1 374.7V370.0H707.9V374.7ZM707.9 374.7V369.3H712.9V374.7ZM712.9 374.7V371.4H724.3V374.7ZM724.3 374.7V369.3H729.3V374.7ZM729.3 374.7V371.1H735.0V374.7ZM735.0 374.7V367.8H740.0V374.7ZM740.0 374.7V371.7H757.1V374.7ZM757.1 374.7V368.6H767.1V374.7ZM767.1 374.7V370.7H773.6V374.7ZM773.6 374.7V372.8H778.6V374.7ZM778.6 374.7V369.7H784.3V374.7ZM790.0 374.7V373.6H800.7V374.7ZM800.7 374.7V371.4H806.4V374.7ZM806.4 374.7V373.1H812.0V374.7ZM812.0 374.7V373.2H826.0V374.7ZM826.0 374.7V374.1H840.0V374.7ZM840.0 374.7V373.6H845.0V374.7ZM845.0 374.7V372.6H851.0V374.7ZM851.0 374.7V373.9H858.0V374.7ZM858.0 374.7V373.8H872.0V374.7ZM872.0 374.7V372.9H872.1V374.7ZM872.1 374.7V371.7H888.6V374.7ZM888.6 374.7V373.0H899.0V374.7ZM899.0 374.7V372.1H904.0V374.7ZM918.0 374.7V374.0H931.0V374.7ZM931.0 374.7V372.6H937.0V374.7ZM937.0 374.7V374.1H958.0V374.7ZM1000.0 374.7V373.6H1007.0V374.7ZM1007.0 374.7V374.0H1014.0V374.7ZM1014.0 374.7V373.5H1021.0V374.7ZM1021.0 374.7V374.1H1027.0V374.7Z" fill="#E4222B"/>
<rect x="99" y="374.0" width="928" height="1.4" fill="#E4222B"/>
<text x="1029.0" y="368.0" font-size="21" fill="#DA2830" stroke="#DA2830" text-anchor="end">0 - 0.6</text>
<text x="106.0" y="392.1" font-size="22.8" fill="#26408E" stroke="#26408E">H3K27me3</text>
<path d="M99.0 402.0V400.9H102.9V402.0ZM102.9 402.0V397.9H108.6V402.0ZM108.6 402.0V401.0H114.0V402.0ZM120.0 402.0V396.4H135.7V402.0ZM147.9 402.0V397.4H152.1V402.0ZM152.1 402.0V400.0H169.0V402.0ZM180.0 402.0V400.3H204.0V402.0ZM213.6 402.0V399.3H246.4V402.0ZM246.4 402.0V400.5H253.4V402.0ZM260.4 402.0V401.3H267.4V402.0ZM295.4 402.0V401.3H309.4V402.0ZM309.4 402.0V401.3H323.4V402.0ZM323.4 402.0V401.4H330.4V402.0ZM330.4 402.0V401.3H333.6V402.0ZM333.6 402.0V397.4H339.3V402.0ZM345.0 402.0V400.0H351.0V402.0ZM407.0 402.0V401.4H421.0V402.0ZM421.4 402.0V397.4H427.9V402.0ZM427.9 402.0V400.3H432.9V402.0ZM432.9 402.0V396.4H438.6V402.0ZM438.6 402.0V401.0H460.0V402.0ZM460.0 402.0V399.7H465.7V402.0ZM477.0 402.0V399.3H482.1V402.0ZM482.1 402.0V394.3H487.9V402.0ZM494.9 402.0V401.3H501.9V402.0ZM529.9 402.0V401.3H536.9V402.0ZM557.9 402.0V401.3H571.9V402.0ZM592.9 402.0V400.3H599.9V402.0ZM599.9 402.0V400.8H606.9V402.0ZM606.9 402.0V400.7H620.9V402.0ZM620.9 402.0V401.2H627.9V402.0ZM663.6 402.0V399.7H674.3V402.0ZM674.3 402.0V399.3H680.0V402.0ZM680.0 402.0V396.4H685.7V402.0ZM685.7 402.0V401.0H690.0V402.0ZM690.0 402.0V400.4H711.0V402.0ZM711.0 402.0V401.2H718.0V402.0ZM718.0 402.0V400.3H725.0V402.0ZM725.0 402.0V401.2H729.0V402.0ZM729.0 402.0V399.7H735.0V402.0ZM735.0 402.0V400.9H742.0V402.0ZM757.0 402.0V399.7H763.0V402.0ZM784.0 402.0V401.4H791.0V402.0ZM791.0 402.0V401.1H798.0V402.0ZM798.0 402.0V401.4H805.0V402.0ZM811.4 402.0V398.6H817.1V402.0ZM817.1 402.0V401.0H823.0V402.0ZM823.0 402.0V401.4H837.0V402.0ZM837.0 402.0V400.8H844.0V402.0ZM844.0 402.0V400.9H855.7V402.0ZM855.7 402.0V399.7H861.0V402.0ZM861.0 402.0V400.0H872.0V402.0ZM872.0 402.0V400.5H879.0V402.0ZM879.0 402.0V400.2H893.0V402.0ZM899.3 402.0V395.4H905.0V402.0ZM933.0 402.0V399.7H938.6V402.0ZM938.6 402.0V397.9H943.6V402.0ZM943.6 402.0V400.3H954.0V402.0ZM954.0 402.0V400.2H965.7V402.0ZM965.7 402.0V399.3H971.4V402.0ZM978.4 402.0V401.4H992.4V402.0ZM992.4 402.0V400.9H1006.4V402.0ZM1006.4 402.0V401.3H1020.4V402.0Z" fill="#2D4EA2"/>
<rect x="99" y="401.3" width="928" height="1.4" fill="#2D4EA2"/>
<text x="1029.0" y="395.0" font-size="21" fill="#26408E" stroke="#26408E" text-anchor="end">0 - 1.0</text>
<rect x="89.2" y="404.5" width="3.6" height="82.0" fill="#000"/>
<text transform="translate(20,461) rotate(-90)" font-size="24.5" text-anchor="middle" stroke="#000">cortex</text>
<text transform="translate(46.6,461) rotate(-90)" font-size="24.5" text-anchor="middle" stroke="#000">culture</text>
<text transform="translate(73.5,460) rotate(-90)" font-size="24.5" text-anchor="middle" stroke="#000">(7 day)</text>
<text x="106.0" y="437.0" font-size="22.8" fill="#E6823A" stroke="#E6823A">H3K4me3</text>
<path d="M141.0 446.6V445.6H148.0V446.6ZM148.0 446.6V445.9H155.0V446.6ZM155.0 446.6V445.8H176.0V446.6ZM176.0 446.6V445.7H183.0V446.6ZM197.0 446.6V445.5H211.0V446.6ZM211.0 446.6V445.7H225.0V446.6ZM225.0 446.6V445.8H239.0V446.6ZM239.0 446.6V445.7H260.0V446.6ZM260.0 446.6V445.3H274.0V446.6ZM274.0 446.6V445.4H295.0V446.6ZM295.0 446.6V445.9H300.7V446.6ZM300.7 446.6V444.3H306.4V446.6ZM306.4 446.6V446.0H313.4V446.6ZM341.4 446.6V445.9H355.4V446.6ZM355.4 446.6V445.5H362.0V446.6ZM362.0 446.6V444.0H367.0V446.6ZM367.0 446.6V445.9H381.0V446.6ZM381.0 446.6V445.5H402.0V446.6ZM423.0 446.6V445.4H444.0V446.6ZM444.0 446.6V445.7H451.0V446.6ZM451.0 446.6V445.8H458.0V446.6ZM465.0 446.6V445.5H470.7V446.6ZM470.7 446.6V444.3H476.4V446.6ZM476.4 446.6V445.6H481.0V446.6ZM481.0 446.6V445.9H495.0V446.6ZM495.0 446.6V445.9H504.3V446.6ZM504.3 446.6V440.0H510.0V446.6ZM526.4 446.6V440.0H537.1V446.6ZM544.1 446.6V445.8H558.1V446.6ZM558.1 446.6V445.6H559.3V446.6ZM559.3 446.6V443.2H570.0V446.6ZM570.0 446.6V438.9H575.7V446.6ZM575.7 446.6V440.7H581.4V446.6ZM581.4 446.6V445.5H597.1V446.6ZM597.1 446.6V437.2H602.9V446.6ZM602.9 446.6V424.3H608.6V446.6ZM608.6 446.6V444.3H614.3V446.6ZM614.3 446.6V440.3H620.0V446.6ZM620.0 446.6V431.7H625.0V446.6ZM625.0 446.6V440.7H630.7V446.6ZM630.7 446.6V435.0H642.1V446.6ZM642.1 446.6V441.7H647.1V446.6ZM647.1 446.6V443.2H652.9V446.6ZM652.9 446.6V429.7H657.9V446.6ZM657.9 446.6V431.5H663.6V446.6ZM663.6 446.6V439.3H680.0V446.6ZM680.0 446.6V440.7H685.7V446.6ZM685.7 446.6V443.2H696.4V446.6ZM696.4 446.6V441.2H702.1V446.6ZM702.1 446.6V440.3H707.9V446.6ZM707.9 446.6V442.9H712.9V446.6ZM712.9 446.6V432.6H718.6V446.6ZM718.6 446.6V445.6H729.3V446.6ZM729.3 446.6V443.6H735.0V446.6ZM735.0 446.6V441.2H746.4V446.6ZM746.4 446.6V445.9H753.4V446.6ZM767.4 446.6V445.6H767.9V446.6ZM767.9 446.6V441.7H773.6V446.6ZM773.6 446.6V445.6H778.6V446.6ZM805.7 446.6V444.0H811.4V446.6ZM818.4 446.6V445.9H839.4V446.6ZM839.4 446.6V445.3H846.4V446.6ZM846.4 446.6V445.8H853.4V446.6ZM853.4 446.6V445.9H860.4V446.6ZM882.9 446.6V444.0H888.6V446.6ZM888.6 446.6V445.9H902.6V446.6ZM930.6 446.6V445.5H937.6V446.6ZM937.6 446.6V446.0H944.6V446.6ZM944.6 446.6V446.0H958.6V446.6ZM960.0 446.6V443.6H965.7V446.6ZM965.7 446.6V446.0H972.7V446.6ZM977.0 446.6V442.1H982.0V446.6ZM982.0 446.6V445.9H989.0V446.6ZM1010.0 446.6V446.0H1024.0V446.6ZM1024.0 446.6V446.0H1027.0V446.6Z" fill="#F5A21E"/>
<rect x="99" y="445.90000000000003" width="928" height="1.4" fill="#F5A21E"/>
<text x="1029.0" y="436.0" font-size="21" fill="#E6823A" stroke="#E6823A" text-anchor="end">0 - 1.2</text>
<text x="106.0" y="467.5" font-size="22.8" fill="#DA2830" stroke="#DA2830">H3K27ac</text>
<path d="M134.0 472.6V471.9H141.0V472.6ZM141.0 472.6V470.9H148.0V472.6ZM148.0 472.6V471.3H155.0V472.6ZM155.0 472.6V472.0H176.0V472.6ZM176.0 472.6V471.9H190.0V472.6ZM190.0 472.6V471.7H204.0V472.6ZM218.0 472.6V472.0H225.0V472.6ZM225.0 472.6V472.0H232.0V472.6ZM232.0 472.6V471.2H253.0V472.6ZM253.0 472.6V471.6H267.0V472.6ZM302.0 472.6V471.9H316.0V472.6ZM338.6 472.6V470.0H345.0V472.6ZM345.0 472.6V471.7H359.0V472.6ZM359.0 472.6V471.0H366.0V472.6ZM366.0 472.6V471.9H380.0V472.6ZM380.0 472.6V472.0H387.0V472.6ZM387.0 472.6V471.9H408.0V472.6ZM422.0 472.6V471.9H429.0V472.6ZM429.0 472.6V472.0H436.0V472.6ZM450.0 472.6V470.9H457.0V472.6ZM465.7 472.6V468.3H471.4V472.6ZM471.4 472.6V469.7H477.0V472.6ZM477.0 472.6V471.6H482.1V472.6ZM482.1 472.6V467.9H487.9V472.6ZM487.9 472.6V468.9H498.6V472.6ZM498.6 472.6V467.2H504.3V472.6ZM504.3 472.6V468.3H510.0V472.6ZM510.0 472.6V465.5H520.7V472.6ZM520.7 472.6V468.3H526.4V472.6ZM526.4 472.6V466.9H537.1V472.6ZM537.1 472.6V470.0H542.9V472.6ZM542.9 472.6V467.2H548.6V472.6ZM548.6 472.6V471.6H553.6V472.6ZM553.6 472.6V470.0H559.3V472.6ZM559.3 472.6V471.5H570.0V472.6ZM570.0 472.6V469.7H581.4V472.6ZM581.4 472.6V468.6H586.4V472.6ZM586.4 472.6V471.6H592.1V472.6ZM592.1 472.6V462.2H597.9V472.6ZM597.9 472.6V457.5H608.6V472.6ZM608.6 472.6V466.9H620.0V472.6ZM620.0 472.6V470.7H625.0V472.6ZM625.0 472.6V465.0H630.7V472.6ZM630.7 472.6V471.2H647.0V472.6ZM647.0 472.6V471.9H661.0V472.6ZM661.0 472.6V472.0H668.0V472.6ZM696.0 472.6V471.6H710.0V472.6ZM710.0 472.6V472.0H724.0V472.6ZM724.0 472.6V471.9H731.0V472.6ZM745.0 472.6V471.9H766.0V472.6ZM766.0 472.6V471.4H780.0V472.6ZM801.0 472.6V471.4H822.0V472.6ZM822.0 472.6V471.9H836.0V472.6ZM836.0 472.6V471.8H850.0V472.6ZM850.0 472.6V471.8H871.0V472.6ZM878.0 472.6V470.9H899.0V472.6ZM899.0 472.6V471.6H913.0V472.6ZM913.0 472.6V471.9H927.0V472.6ZM934.0 472.6V471.4H948.0V472.6ZM976.0 472.6V471.7H990.0V472.6Z" fill="#E4222B"/>
<rect x="99" y="471.90000000000003" width="928" height="1.4" fill="#E4222B"/>
<text x="1029.0" y="466.0" font-size="21" fill="#DA2830" stroke="#DA2830" text-anchor="end">0 - 0.8</text>
<text x="106.0" y="489.6" font-size="22.8" fill="#26408E" stroke="#26408E">H3K27me3</text>
<path d="M99.0 500.0V496.4H114.3V500.0ZM114.3 500.0V490.7H119.3V500.0ZM125.7 500.0V495.4H131.4V500.0ZM131.4 500.0V498.6H136.0V500.0ZM142.0 500.0V497.9H147.9V500.0ZM147.9 500.0V492.9H152.9V500.0ZM152.9 500.0V496.4H157.9V500.0ZM157.9 500.0V498.5H169.3V500.0ZM169.3 500.0V492.9H175.0V500.0ZM175.0 500.0V496.4H196.4V500.0ZM203.0 500.0V497.4H213.6V500.0ZM213.6 500.0V494.3H218.6V500.0ZM224.3 500.0V496.4H229.3V500.0ZM252.0 500.0V497.9H257.0V500.0ZM263.0 500.0V497.9H268.6V500.0ZM268.6 500.0V495.0H279.3V500.0ZM290.0 500.0V498.6H300.7V500.0ZM300.7 500.0V492.1H306.4V500.0ZM306.4 500.0V495.4H312.0V500.0ZM312.0 500.0V498.6H317.1V500.0ZM317.1 500.0V491.4H322.9V500.0ZM329.0 500.0V496.4H333.0V500.0ZM339.3 500.0V492.1H345.0V500.0ZM345.0 500.0V496.9H360.7V500.0ZM360.7 500.0V492.9H366.4V500.0ZM366.4 500.0V496.4H372.0V500.0ZM372.0 500.0V497.1H383.6V500.0ZM400.0 500.0V496.4H405.0V500.0ZM405.0 500.0V499.0H410.7V500.0ZM410.7 500.0V496.4H416.4V500.0ZM416.4 500.0V497.4H422.0V500.0ZM438.6 500.0V490.0H444.3V500.0ZM444.3 500.0V497.4H465.7V500.0ZM475.7 500.0V499.0H482.0V500.0ZM493.0 500.0V498.6H498.0V500.0ZM504.0 500.0V498.6H510.0V500.0ZM510.0 500.0V491.1H515.7V500.0ZM515.7 500.0V498.6H526.4V500.0ZM526.4 500.0V490.0H532.1V500.0ZM532.1 500.0V497.1H537.1V500.0ZM537.1 500.0V488.6H542.9V500.0ZM542.9 500.0V487.4H548.6V500.0ZM548.6 500.0V499.0H553.0V500.0ZM559.3 500.0V496.4H565.0V500.0ZM565.0 500.0V495.0H570.0V500.0ZM570.0 500.0V496.4H575.7V500.0ZM575.7 500.0V495.7H581.4V500.0ZM597.9 500.0V496.4H608.6V500.0ZM614.3 500.0V496.9H620.0V500.0ZM620.0 500.0V495.7H635.7V500.0ZM635.7 500.0V497.9H641.0V500.0ZM652.9 500.0V494.6H658.6V500.0ZM658.6 500.0V497.1H663.6V500.0ZM663.6 500.0V494.6H669.3V500.0ZM669.3 500.0V498.0H674.3V500.0ZM674.3 500.0V495.0H680.0V500.0ZM680.0 500.0V496.9H685.7V500.0ZM685.7 500.0V497.4H696.4V500.0ZM696.4 500.0V491.4H702.1V500.0ZM702.1 500.0V479.7H707.9V500.0ZM707.9 500.0V495.0H712.9V500.0ZM712.9 500.0V488.3H718.6V500.0ZM718.6 500.0V495.4H735.0V500.0ZM735.0 500.0V496.4H740.7V500.0ZM740.7 500.0V495.4H745.7V500.0ZM745.7 500.0V490.0H751.4V500.0ZM751.4 500.0V491.7H757.1V500.0ZM757.1 500.0V495.4H762.1V500.0ZM762.1 500.0V494.6H767.9V500.0ZM773.6 500.0V497.4H779.3V500.0ZM779.3 500.0V487.9H784.3V500.0ZM784.3 500.0V494.0H790.0V500.0ZM795.7 500.0V499.0H800.7V500.0ZM800.7 500.0V495.0H806.4V500.0ZM806.4 500.0V497.4H817.1V500.0ZM817.1 500.0V496.9H822.9V500.0ZM828.6 500.0V497.4H834.0V500.0ZM839.3 500.0V491.1H845.0V500.0ZM845.0 500.0V497.4H855.7V500.0ZM855.7 500.0V494.0H861.4V500.0ZM883.0 500.0V498.6H889.3V500.0ZM889.3 500.0V494.3H895.0V500.0ZM895.0 500.0V485.7H900.0V500.0ZM900.0 500.0V490.3H905.0V500.0ZM905.0 500.0V498.6H910.0V500.0ZM916.4 500.0V491.7H922.1V500.0ZM922.1 500.0V495.4H932.9V500.0ZM932.9 500.0V496.4H938.0V500.0ZM943.6 500.0V497.1H955.0V500.0ZM955.0 500.0V489.7H960.0V500.0ZM969.0 500.0V489.3H986.0V500.0ZM992.0 500.0V496.0H1000.0V500.0ZM1017.0 500.0V491.7H1026.0V500.0Z" fill="#2D4EA2"/>
<rect x="99" y="499.3" width="928" height="1.4" fill="#2D4EA2"/>
<text x="1029.0" y="495.7" font-size="21" fill="#26408E" stroke="#26408E" text-anchor="end">0 - 0.8</text>
<rect x="567.6" y="101.7" width="83.10000000000002" height="409.7" fill="rgba(232,60,62,0.21)"/>
<rect x="671" y="101.7" width="132.60000000000002" height="409.7" fill="rgba(38,62,150,0.205)"/>
<rect x="613.6" y="504.7" width="185.69999999999993" height="1.4" fill="#333"/>
<rect x="621.4" y="503.9" width="7.899999999999977" height="3" fill="#333"/>
<rect x="671.4" y="503.65" width="13.600000000000023" height="3.5" fill="#333"/>
<rect x="707.4" y="503.65" width="5.5" height="3.5" fill="#333"/>
<rect x="719.3" y="503.4" width="35.0" height="4" fill="#333"/>
<rect x="754.3" y="503.9" width="45.0" height="3" fill="#333"/>
<text x="573.6" y="526.4" font-size="27.8" fill="#000" stroke="#000" font-style="italic">Fos</text>
<text x="1180" y="58" font-size="28.7" font-weight="bold" stroke="#000"><tspan font-style="italic">Egr1</tspan> (IEG, bipartite)</text>
<text x="1551.0" y="61.0" font-size="21" fill="#000" stroke="#000" text-anchor="end">5 kb</text>
<rect x="1554.7" y="58.3" width="441.70000000000005" height="3" fill="#000"/>
<text x="2001.0" y="61.0" font-size="21" fill="#000" stroke="#000">mm10 chr18</text>
<text x="1217.7" y="87.0" font-size="21.6" fill="#000" stroke="#000">34,857,500</text>
<text x="1438.6" y="87.0" font-size="21.6" fill="#000" stroke="#000">34,860,000</text>
<text x="1660.0" y="87.0" font-size="21.6" fill="#000" stroke="#000">34,862,500</text>
<text x="1881.5" y="87.0" font-size="21.6" fill="#000" stroke="#000">34,865,000</text>
<rect x="1166.3" y="107" width="3.6" height="102" fill="#000"/>
<text transform="translate(1124,150) rotate(-90)" font-size="24.5" text-anchor="middle" stroke="#000">E14.5</text>
<text transform="translate(1151,150) rotate(-90)" font-size="24.5" text-anchor="middle" stroke="#000">barrelette</text>
<text x="1183.7" y="120.0" font-size="22.8" fill="#6E4798" stroke="#6E4798">ATAC</text>
<path d="M1176.6 123.7V122.9H1197.6V123.7ZM1260.6 123.7V122.7H1281.6V123.7ZM1351.6 123.7V123.0H1358.6V123.7ZM1358.6 123.7V123.0H1365.6V123.7ZM1386.6 123.7V122.8H1400.6V123.7ZM1400.6 123.7V122.9H1407.6V123.7ZM1423.6 123.7V119.6H1432.9V123.7ZM1432.9 123.7V117.9H1441.4V123.7ZM1441.4 123.7V110.0H1450.7V123.7ZM1450.7 123.7V102.1H1458.6V123.7ZM1458.6 123.7V110.7H1467.9V123.7ZM1467.9 123.7V119.3H1485.7V123.7ZM1485.7 123.7V120.7H1494.3V123.7ZM1494.3 123.7V117.1H1503.6V123.7ZM1503.6 123.7V111.9H1512.1V123.7ZM1512.1 123.7V115.7H1520.7V123.7ZM1520.7 123.7V112.4H1530.0V123.7ZM1530.0 123.7V102.1H1538.6V123.7ZM1538.6 123.7V110.0H1547.9V123.7ZM1547.9 123.7V108.1H1556.4V123.7ZM1556.4 123.7V102.4H1565.7V123.7ZM1565.7 123.7V117.1H1574.3V123.7ZM1574.3 123.7V119.3H1582.9V123.7ZM1582.9 123.7V120.7H1591.4V123.7ZM1591.4 123.7V120.4H1600.7V123.7ZM1600.7 123.7V119.0H1609.3V123.7ZM1609.3 123.7V121.4H1617.9V123.7ZM1617.9 123.7V120.7H1627.1V123.7ZM1627.1 123.7V122.9H1635.7V123.7ZM1635.7 123.7V122.1H1645.0V123.7ZM1645.0 123.7V120.0H1653.6V123.7ZM1653.6 123.7V119.0H1662.9V123.7ZM1662.9 123.7V122.4H1671.4V123.7ZM1671.4 123.7V120.7H1680.0V123.7ZM1680.0 123.7V122.9H1688.6V123.7ZM1688.6 123.7V121.9H1706.4V123.7ZM1706.4 123.7V122.9H1715.7V123.7ZM1715.7 123.7V121.0H1724.3V123.7ZM1724.3 123.7V122.1H1732.9V123.7ZM1732.9 123.7V120.7H1742.1V123.7ZM1749.1 123.7V123.1H1770.1V123.7ZM1770.1 123.7V122.8H1784.1V123.7ZM1784.1 123.7V122.3H1798.1V123.7ZM1798.1 123.7V122.6H1805.1V123.7ZM1805.1 123.7V122.7H1812.1V123.7ZM1826.1 123.7V123.0H1840.1V123.7ZM1840.1 123.7V122.5H1847.1V123.7ZM1868.1 123.7V122.5H1882.1V123.7ZM1882.1 123.7V122.6H1889.1V123.7ZM1889.1 123.7V122.6H1896.1V123.7ZM1896.1 123.7V122.5H1917.1V123.7ZM1931.1 123.7V123.1H1945.1V123.7ZM1966.1 123.7V123.1H1973.1V123.7ZM1973.1 123.7V123.0H1980.1V123.7ZM1980.1 123.7V122.9H2001.1V123.7ZM2001.1 123.7V122.6H2015.1V123.7ZM2015.1 123.7V123.1H2022.1V123.7ZM2022.1 123.7V123.1H2043.1V123.7ZM2043.1 123.7V122.9H2050.1V123.7ZM2057.1 123.7V123.0H2071.1V123.7ZM2071.1 123.7V123.1H2085.1V123.7Z" fill="#7B4A9F"/>
<rect x="1176.6" y="123.0" width="928.4000000000001" height="1.4" fill="#7B4A9F"/>
<text x="2104.4" y="118.8" font-size="21" fill="#6E4798" stroke="#6E4798" text-anchor="end">0 - 0.8</text>
<text x="1183.7" y="146.3" font-size="22.8" fill="#E6823A" stroke="#E6823A">H3K4me2</text>
<path d="M1176.6 150.8V150.0H1190.6V150.8ZM1190.6 150.8V150.1H1204.6V150.8ZM1211.6 150.8V150.2H1218.6V150.8ZM1225.6 150.8V149.8H1232.6V150.8ZM1260.6 150.8V150.2H1274.6V150.8ZM1281.6 150.8V150.2H1288.6V150.8ZM1309.6 150.8V149.7H1323.6V150.8ZM1323.6 150.8V150.2H1337.6V150.8ZM1337.6 150.8V150.1H1343.6V150.8ZM1343.6 150.8V148.6H1379.3V150.8ZM1379.3 150.8V145.8H1397.1V150.8ZM1397.1 150.8V141.4H1405.7V150.8ZM1405.7 150.8V144.3H1415.0V150.8ZM1415.0 150.8V139.6H1423.6V150.8ZM1423.6 150.8V140.8H1432.9V150.8ZM1432.9 150.8V145.8H1450.0V150.8ZM1450.0 150.8V142.9H1460.0V150.8ZM1460.0 150.8V135.0H1470.0V150.8ZM1470.0 150.8V135.8H1477.1V150.8ZM1477.1 150.8V129.3H1485.7V150.8ZM1485.7 150.8V134.3H1494.3V150.8ZM1494.3 150.8V137.6H1512.1V150.8ZM1512.1 150.8V144.8H1520.7V150.8ZM1520.7 150.8V147.6H1530.0V150.8ZM1530.0 150.8V141.9H1538.6V150.8ZM1538.6 150.8V146.4H1547.9V150.8ZM1547.9 150.8V144.3H1556.4V150.8ZM1556.4 150.8V139.6H1565.7V150.8ZM1565.7 150.8V143.6H1574.3V150.8ZM1574.3 150.8V137.9H1591.4V150.8ZM1591.4 150.8V131.9H1600.7V150.8ZM1600.7 150.8V134.3H1617.9V150.8ZM1617.9 150.8V128.6H1635.7V150.8ZM1635.7 150.8V141.0H1645.0V150.8ZM1645.0 150.8V139.3H1662.9V150.8ZM1662.9 150.8V137.1H1671.4V150.8ZM1671.4 150.8V139.6H1680.0V150.8ZM1680.0 150.8V145.0H1688.6V150.8ZM1688.6 150.8V146.4H1697.9V150.8ZM1697.9 150.8V144.3H1706.4V150.8ZM1706.4 150.8V145.8H1742.0V150.8ZM1742.0 150.8V147.8H1751.4V150.8ZM1751.4 150.8V148.1H1768.6V150.8ZM1768.6 150.8V148.8H1812.9V150.8ZM1812.9 150.8V146.4H1822.1V150.8ZM1822.1 150.8V149.6H1857.0V150.8ZM1857.0 150.8V150.2H1871.0V150.8ZM1871.0 150.8V149.8H1878.0V150.8ZM1878.0 150.8V149.5H1892.0V150.8ZM1892.0 150.8V150.1H1913.0V150.8ZM1920.0 150.8V149.9H1927.0V150.8ZM1927.0 150.8V149.6H1941.0V150.8ZM1941.0 150.8V150.2H1948.0V150.8ZM1962.0 150.8V149.7H1976.0V150.8ZM1976.0 150.8V150.1H1983.0V150.8ZM1990.0 150.8V150.2H2011.0V150.8ZM2025.0 150.8V150.2H2032.0V150.8ZM2032.0 150.8V149.5H2046.0V150.8ZM2060.0 150.8V150.2H2067.0V150.8ZM2095.0 150.8V149.6H2105.0V150.8Z" fill="#F5A21E"/>
<rect x="1176.6" y="150.10000000000002" width="928.4000000000001" height="1.4" fill="#F5A21E"/>
<text x="2104.4" y="145.6" font-size="21" fill="#E6823A" stroke="#E6823A" text-anchor="end">0 - 1.0</text>
<text x="1183.7" y="172.5" font-size="22.8" fill="#DA2830" stroke="#DA2830">H3K27ac</text>
<path d="M1176.6 176.5V172.5H1202.9V176.5ZM1202.9 176.5V175.0H1211.4V176.5ZM1211.4 176.5V173.3H1281.4V176.5ZM1281.4 176.5V175.0H1308.6V176.5ZM1308.6 176.5V172.5H1325.7V176.5ZM1325.7 176.5V174.3H1334.0V176.5ZM1334.0 176.5V175.7H1352.9V176.5ZM1352.9 176.5V173.9H1362.1V176.5ZM1362.1 176.5V171.9H1370.7V176.5ZM1370.7 176.5V173.3H1379.3V176.5ZM1379.3 176.5V170.0H1388.6V176.5ZM1388.6 176.5V172.9H1397.1V176.5ZM1397.1 176.5V170.4H1405.7V176.5ZM1405.7 176.5V167.1H1415.0V176.5ZM1415.0 176.5V163.6H1432.9V176.5ZM1432.9 176.5V167.9H1441.4V176.5ZM1441.4 176.5V167.1H1450.0V176.5ZM1450.0 176.5V163.3H1460.0V176.5ZM1460.0 176.5V160.0H1467.9V176.5ZM1467.9 176.5V161.9H1477.1V176.5ZM1477.1 176.5V159.3H1485.7V176.5ZM1485.7 176.5V162.9H1503.6V176.5ZM1503.6 176.5V155.7H1512.1V176.5ZM1512.1 176.5V161.9H1520.7V176.5ZM1520.7 176.5V155.7H1538.6V176.5ZM1538.6 176.5V159.3H1547.9V176.5ZM1547.9 176.5V158.6H1565.7V176.5ZM1565.7 176.5V170.7H1574.3V176.5ZM1574.3 176.5V165.0H1582.9V176.5ZM1582.9 176.5V170.0H1591.4V176.5ZM1591.4 176.5V167.1H1600.7V176.5ZM1600.7 176.5V172.1H1617.9V176.5ZM1617.9 176.5V170.4H1627.1V176.5ZM1627.1 176.5V169.0H1635.7V176.5ZM1635.7 176.5V170.4H1645.0V176.5ZM1645.0 176.5V175.0H1653.6V176.5ZM1653.6 176.5V173.3H1662.9V176.5ZM1662.9 176.5V169.6H1671.4V176.5ZM1671.4 176.5V172.9H1680.0V176.5ZM1680.0 176.5V174.3H1688.6V176.5ZM1688.6 176.5V173.3H1706.4V176.5ZM1706.4 176.5V174.7H1724.3V176.5ZM1724.3 176.5V171.9H1732.9V176.5ZM1732.9 176.5V175.3H1742.1V176.5ZM1742.1 176.5V172.1H1751.4V176.5ZM1751.4 176.5V175.7H1760.0V176.5ZM1760.0 176.5V173.6H1777.9V176.5ZM1777.9 176.5V173.9H1795.7V176.5ZM1795.7 176.5V175.7H1804.3V176.5ZM1804.3 176.5V172.5H1812.9V176.5ZM1812.9 176.5V171.9H1822.1V176.5ZM1822.1 176.5V174.9H1840.0V176.5ZM1840.0 176.5V174.3H1870.0V176.5ZM1870.0 176.5V173.7H1901.0V176.5ZM1901.0 176.5V174.5H1910.0V176.5ZM1910.0 176.5V173.7H1920.0V176.5ZM1920.0 176.5V172.1H1928.6V176.5ZM1928.6 176.5V174.3H1937.0V176.5ZM1937.0 176.5V174.9H1946.0V176.5ZM1946.0 176.5V173.7H1972.9V176.5ZM1972.9 176.5V172.5H1981.4V176.5ZM1981.4 176.5V174.0H1990.0V176.5ZM1990.0 176.5V174.5H2000.0V176.5ZM2000.0 176.5V173.7H2044.0V176.5ZM2044.0 176.5V172.9H2105.0V176.5Z" fill="#E4222B"/>
<rect x="1176.6" y="175.8" width="928.4000000000001" height="1.4" fill="#E4222B"/>
<text x="2104.4" y="167.7" font-size="21" fill="#DA2830" stroke="#DA2830" text-anchor="end">0 - 0.25</text>
<text x="1183.7" y="195.2" font-size="22.8" fill="#26408E" stroke="#26408E">H3K27me3</text>
<path d="M1176.6 203.0V201.7H1183.6V203.0ZM1190.6 203.0V202.4H1202.9V203.0ZM1202.9 203.0V201.0H1211.4V203.0ZM1211.4 203.0V202.2H1232.4V203.0ZM1246.4 203.0V202.3H1260.4V203.0ZM1267.4 203.0V201.4H1273.6V203.0ZM1273.6 203.0V201.4H1282.0V203.0ZM1282.0 203.0V202.3H1296.0V203.0ZM1296.0 203.0V202.1H1310.0V203.0ZM1310.0 203.0V201.7H1317.0V203.0ZM1317.0 203.0V201.0H1327.0V203.0ZM1334.0 203.0V201.8H1341.0V203.0ZM1369.0 203.0V202.4H1376.0V203.0ZM1376.0 203.0V201.5H1397.0V203.0ZM1404.0 203.0V202.1H1411.0V203.0ZM1418.0 203.0V202.4H1425.0V203.0ZM1425.0 203.0V202.2H1432.0V203.0ZM1446.0 203.0V201.8H1453.0V203.0ZM1467.0 203.0V202.2H1481.0V203.0ZM1481.0 203.0V201.7H1488.0V203.0ZM1516.0 203.0V201.5H1523.0V203.0ZM1530.0 203.0V202.4H1537.0V203.0ZM1537.0 203.0V201.9H1544.0V203.0ZM1544.0 203.0V202.1H1551.0V203.0ZM1551.0 203.0V202.0H1558.0V203.0ZM1558.0 203.0V201.9H1565.0V203.0ZM1565.0 203.0V202.1H1574.3V203.0ZM1574.3 203.0V200.4H1582.9V203.0ZM1582.9 203.0V202.1H1591.4V203.0ZM1591.4 203.0V200.0H1600.7V203.0ZM1600.7 203.0V200.7H1609.3V203.0ZM1609.3 203.0V197.6H1617.9V203.0ZM1617.9 203.0V196.4H1627.1V203.0ZM1627.1 203.0V195.7H1635.7V203.0ZM1635.7 203.0V200.4H1645.0V203.0ZM1645.0 203.0V197.1H1662.9V203.0ZM1662.9 203.0V189.0H1671.4V203.0ZM1671.4 203.0V194.7H1688.6V203.0ZM1688.6 203.0V192.4H1697.9V203.0ZM1697.9 203.0V189.6H1706.4V203.0ZM1706.4 203.0V193.6H1715.7V203.0ZM1715.7 203.0V186.4H1724.3V203.0ZM1724.3 203.0V187.9H1732.9V203.0ZM1732.9 203.0V190.0H1742.1V203.0ZM1742.1 203.0V187.9H1751.4V203.0ZM1751.4 203.0V190.4H1760.0V203.0ZM1760.0 203.0V192.1H1768.6V203.0ZM1768.6 203.0V190.7H1777.9V203.0ZM1777.9 203.0V196.1H1787.1V203.0ZM1787.1 203.0V194.7H1795.7V203.0ZM1795.7 203.0V191.9H1804.3V203.0ZM1804.3 203.0V193.3H1812.9V203.0ZM1812.9 203.0V182.4H1822.1V203.0ZM1822.1 203.0V196.4H1830.7V203.0ZM1830.7 203.0V197.6H1840.0V203.0ZM1840.0 203.0V196.1H1848.6V203.0ZM1848.6 203.0V201.4H1857.1V203.0ZM1857.1 203.0V200.4H1866.4V203.0ZM1866.4 203.0V201.4H1901.4V203.0ZM1901.4 203.0V202.1H1910.7V203.0ZM1910.7 203.0V196.7H1919.3V203.0ZM1919.3 203.0V200.4H1928.6V203.0ZM1928.6 203.0V201.4H1937.0V203.0ZM1937.0 203.0V202.1H1945.7V203.0ZM1945.7 203.0V200.0H1955.0V203.0ZM1955.0 203.0V201.4H2008.6V203.0ZM2008.6 203.0V202.4H2035.7V203.0ZM2035.7 203.0V201.4H2045.0V203.0ZM2059.0 203.0V202.2H2080.0V203.0Z" fill="#2D4EA2"/>
<rect x="1176.6" y="202.3" width="928.4000000000001" height="1.4" fill="#2D4EA2"/>
<text x="2104.4" y="198.0" font-size="21" fill="#26408E" stroke="#26408E" text-anchor="end">0 - 0.6</text>
<rect x="1166.3" y="234.8" width="3.6" height="69.19999999999999" fill="#000"/>
<text transform="translate(1124,266) rotate(-90)" font-size="24.5" text-anchor="middle" stroke="#000">embryo</text>
<text transform="translate(1151,266.5) rotate(-90)" font-size="24.5" text-anchor="middle" stroke="#000">cortex</text>
<text x="1183.7" y="240.5" font-size="22.8" fill="#DA2830" stroke="#DA2830">H3K27ac</text>
<path d="M1176.6 248.0V247.2H1183.6V248.0ZM1204.6 248.0V247.2H1225.6V248.0ZM1229.3 248.0V245.7H1237.9V248.0ZM1237.9 248.0V246.0H1246.4V248.0ZM1246.4 248.0V245.0H1255.0V248.0ZM1255.0 248.0V247.1H1262.0V248.0ZM1262.0 248.0V247.4H1276.0V248.0ZM1276.0 248.0V246.8H1283.0V248.0ZM1283.0 248.0V247.3H1290.0V248.0ZM1290.0 248.0V247.0H1311.0V248.0ZM1311.0 248.0V246.8H1317.0V248.0ZM1317.0 248.0V246.4H1334.0V248.0ZM1334.0 248.0V246.0H1352.0V248.0ZM1352.0 248.0V247.5H1362.1V248.0ZM1362.1 248.0V243.1H1370.7V248.0ZM1370.7 248.0V239.3H1379.3V248.0ZM1379.3 248.0V245.0H1388.6V248.0ZM1388.6 248.0V239.3H1397.1V248.0ZM1397.1 248.0V235.4H1415.0V248.0ZM1415.0 248.0V227.1H1423.6V248.0ZM1423.6 248.0V233.6H1432.9V248.0ZM1432.9 248.0V239.3H1441.4V248.0ZM1441.4 248.0V236.4H1450.0V248.0ZM1450.0 248.0V243.1H1467.9V248.0ZM1467.9 248.0V240.7H1477.1V248.0ZM1477.1 248.0V239.3H1485.7V248.0ZM1485.7 248.0V237.1H1495.0V248.0ZM1495.0 248.0V227.4H1503.6V248.0ZM1503.6 248.0V239.3H1512.1V248.0ZM1512.1 248.0V237.4H1520.7V248.0ZM1520.7 248.0V239.3H1530.0V248.0ZM1530.0 248.0V233.6H1538.6V248.0ZM1538.6 248.0V245.0H1547.9V248.0ZM1547.9 248.0V243.6H1556.4V248.0ZM1556.4 248.0V236.4H1565.7V248.0ZM1565.7 248.0V243.1H1574.3V248.0ZM1574.3 248.0V239.3H1582.9V248.0ZM1582.9 248.0V246.0H1591.4V248.0ZM1591.4 248.0V245.0H1600.7V248.0ZM1600.7 248.0V246.4H1617.9V248.0ZM1617.9 248.0V245.0H1627.1V248.0ZM1627.1 248.0V247.1H1635.7V248.0ZM1645.0 248.0V246.0H1653.6V248.0ZM1653.6 248.0V242.6H1662.9V248.0ZM1662.9 248.0V246.0H1680.0V248.0ZM1680.0 248.0V246.9H1706.4V248.0ZM1706.4 248.0V245.0H1715.7V248.0ZM1715.7 248.0V243.6H1732.9V248.0ZM1732.9 248.0V245.0H1742.1V248.0ZM1750.7 248.0V246.4H1760.0V248.0ZM1760.0 248.0V246.9H1769.3V248.0ZM1777.1 248.0V243.1H1787.1V248.0ZM1795.7 248.0V246.0H1813.6V248.0ZM1813.6 248.0V247.5H1892.0V248.0ZM1892.0 248.0V246.9H1901.0V248.0ZM1901.0 248.0V247.5H1937.0V248.0ZM1937.0 248.0V246.0H1946.0V248.0ZM1946.0 248.0V247.5H1955.0V248.0ZM1955.0 248.0V245.0H1963.6V248.0ZM1963.6 248.0V246.4H1981.4V248.0ZM1981.4 248.0V247.5H1990.0V248.0ZM1990.0 248.0V246.0H2034.0V248.0ZM2034.0 248.0V246.4H2048.0V248.0ZM2069.0 248.0V247.4H2090.0V248.0Z" fill="#E4222B"/>
<rect x="1176.6" y="247.3" width="928.4000000000001" height="1.4" fill="#E4222B"/>
<text x="2104.4" y="240.0" font-size="21" fill="#DA2830" stroke="#DA2830" text-anchor="end">0 - 0.4</text>
<text x="1183.7" y="267.9" font-size="22.8" fill="#26408E" stroke="#26408E">H3K27me3 (NPC)</text>
<path d="M1176.6 275.0V274.1H1183.6V275.0ZM1183.6 275.0V274.4H1190.6V275.0ZM1211.6 275.0V274.4H1218.6V275.0ZM1218.6 275.0V274.4H1232.6V275.0ZM1232.6 275.0V274.4H1246.6V275.0ZM1288.6 275.0V274.2H1309.6V275.0ZM1330.6 275.0V273.5H1337.6V275.0ZM1344.6 275.0V274.4H1358.6V275.0ZM1386.6 275.0V273.8H1407.6V275.0ZM1407.6 275.0V273.9H1421.6V275.0ZM1435.6 275.0V274.3H1456.6V275.0ZM1477.1 275.0V274.0H1494.3V275.0ZM1494.3 275.0V272.9H1503.6V275.0ZM1503.6 275.0V271.4H1512.1V275.0ZM1530.0 275.0V274.5H1538.6V275.0ZM1538.6 275.0V274.0H1547.9V275.0ZM1556.4 275.0V273.6H1565.7V275.0ZM1565.7 275.0V271.7H1574.3V275.0ZM1574.3 275.0V267.1H1582.9V275.0ZM1582.9 275.0V271.4H1591.4V275.0ZM1591.4 275.0V270.7H1600.7V275.0ZM1600.7 275.0V266.0H1609.3V275.0ZM1609.3 275.0V268.6H1617.9V275.0ZM1617.9 275.0V267.9H1627.1V275.0ZM1627.1 275.0V269.7H1635.7V275.0ZM1635.7 275.0V273.6H1645.0V275.0ZM1645.0 275.0V260.7H1653.6V275.0ZM1653.6 275.0V271.4H1662.9V275.0ZM1662.9 275.0V261.7H1671.4V275.0ZM1671.4 275.0V263.1H1680.0V275.0ZM1680.0 275.0V264.3H1688.6V275.0ZM1688.6 275.0V266.4H1697.9V275.0ZM1697.9 275.0V258.9H1706.4V275.0ZM1706.4 275.0V266.4H1715.7V275.0ZM1715.7 275.0V261.7H1724.3V275.0ZM1724.3 275.0V260.7H1732.9V275.0ZM1732.9 275.0V260.0H1742.1V275.0ZM1742.1 275.0V265.0H1751.4V275.0ZM1751.4 275.0V269.3H1760.0V275.0ZM1760.0 275.0V267.1H1769.3V275.0ZM1769.3 275.0V262.6H1777.9V275.0ZM1777.9 275.0V267.1H1787.1V275.0ZM1787.1 275.0V266.0H1795.7V275.0ZM1795.7 275.0V269.3H1813.6V275.0ZM1813.6 275.0V272.1H1830.7V275.0ZM1830.7 275.0V274.6H1840.0V275.0ZM1857.9 275.0V273.1H1866.4V275.0ZM1875.0 275.0V273.1H1884.0V275.0ZM1901.0 275.0V274.3H1920.0V275.0ZM1920.0 275.0V272.1H1928.6V275.0ZM1928.6 275.0V273.6H1945.7V275.0ZM1945.7 275.0V272.1H1963.6V275.0ZM1963.6 275.0V270.7H1972.9V275.0ZM1972.9 275.0V273.6H1981.4V275.0ZM1981.4 275.0V271.4H1990.0V275.0ZM1990.0 275.0V274.0H1999.0V275.0ZM2008.6 275.0V270.7H2017.1V275.0ZM2017.1 275.0V271.7H2025.7V275.0ZM2025.7 275.0V274.0H2035.0V275.0ZM2035.0 275.0V271.4H2043.0V275.0ZM2043.0 275.0V274.2H2064.0V275.0ZM2078.0 275.0V274.2H2085.0V275.0ZM2085.0 275.0V274.4H2099.0V275.0Z" fill="#2D4EA2"/>
<rect x="1176.6" y="274.3" width="928.4000000000001" height="1.4" fill="#2D4EA2"/>
<text x="2104.4" y="269.6" font-size="21" fill="#26408E" stroke="#26408E" text-anchor="end">0 - 1.0</text>
<text x="1183.7" y="294.1" font-size="22.8" fill="#26408E" stroke="#26408E">H3K27me3 (Neuron)</text>
<path d="M1190.6 302.0V301.1H1204.6V302.0ZM1204.6 302.0V301.0H1211.6V302.0ZM1246.6 302.0V301.2H1253.6V302.0ZM1274.6 302.0V300.6H1288.6V302.0ZM1288.6 302.0V301.4H1302.6V302.0ZM1372.6 302.0V300.8H1386.6V302.0ZM1393.6 302.0V301.4H1407.6V302.0ZM1407.6 302.0V300.9H1414.6V302.0ZM1414.6 302.0V301.1H1421.6V302.0ZM1421.6 302.0V301.2H1428.6V302.0ZM1449.6 302.0V301.0H1463.6V302.0ZM1494.3 302.0V300.7H1503.6V302.0ZM1503.6 302.0V301.1H1521.0V302.0ZM1530.0 302.0V301.1H1539.0V302.0ZM1556.4 302.0V299.7H1565.7V302.0ZM1565.7 302.0V300.7H1574.3V302.0ZM1574.3 302.0V297.1H1591.4V302.0ZM1591.4 302.0V297.9H1600.7V302.0ZM1600.7 302.0V297.4H1617.9V302.0ZM1617.9 302.0V295.4H1627.1V302.0ZM1627.1 302.0V298.3H1645.0V302.0ZM1645.0 302.0V296.4H1653.6V302.0ZM1653.6 302.0V290.3H1662.9V302.0ZM1662.9 302.0V292.9H1680.0V302.0ZM1680.0 302.0V298.3H1688.6V302.0ZM1688.6 302.0V291.1H1697.9V302.0ZM1697.9 302.0V295.7H1706.4V302.0ZM1706.4 302.0V292.9H1715.7V302.0ZM1715.7 302.0V288.6H1724.3V302.0ZM1724.3 302.0V295.7H1732.9V302.0ZM1732.9 302.0V295.0H1742.1V302.0ZM1742.1 302.0V292.9H1750.7V302.0ZM1750.7 302.0V298.3H1760.0V302.0ZM1760.0 302.0V293.6H1769.3V302.0ZM1769.3 302.0V297.9H1777.9V302.0ZM1777.9 302.0V296.0H1787.1V302.0ZM1787.1 302.0V293.6H1795.7V302.0ZM1795.7 302.0V298.9H1804.3V302.0ZM1804.3 302.0V297.4H1812.9V302.0ZM1812.9 302.0V292.6H1821.4V302.0ZM1821.4 302.0V299.3H1830.7V302.0ZM1830.7 302.0V300.3H1840.0V302.0ZM1857.9 302.0V299.3H1866.4V302.0ZM1866.4 302.0V300.3H1875.7V302.0ZM1884.3 302.0V298.3H1892.9V302.0ZM1892.9 302.0V300.3H1901.0V302.0ZM1910.7 302.0V292.6H1920.0V302.0ZM1920.0 302.0V299.3H1928.6V302.0ZM1928.6 302.0V294.6H1937.1V302.0ZM1937.1 302.0V299.3H1945.7V302.0ZM1955.0 302.0V300.3H1963.6V302.0ZM1972.9 302.0V300.7H1990.0V302.0ZM1999.0 302.0V300.3H2017.0V302.0ZM2035.0 302.0V300.0H2043.0V302.0ZM2043.0 302.0V301.3H2050.0V302.0ZM2050.0 302.0V301.1H2057.0V302.0ZM2057.0 302.0V301.3H2078.0V302.0ZM2092.0 302.0V301.0H2105.0V302.0Z" fill="#2D4EA2"/>
<rect x="1176.6" y="301.3" width="928.4000000000001" height="1.4" fill="#2D4EA2"/>
<text x="2104.4" y="295.8" font-size="21" fill="#26408E" stroke="#26408E" text-anchor="end">0 - 0.8</text>
<rect x="1166.3" y="331.8" width="3.6" height="70.19999999999999" fill="#000"/>
<text transform="translate(1124,366.5) rotate(-90)" font-size="24.5" text-anchor="middle" stroke="#000">adult</text>
<text transform="translate(1151,366.6) rotate(-90)" font-size="24.5" text-anchor="middle" stroke="#000">cortex</text>
<text x="1183.7" y="340.6" font-size="22.8" fill="#E6823A" stroke="#E6823A">H3K4me3</text>
<path d="M1211.6 346.4V345.8H1225.6V346.4ZM1225.6 346.4V344.9H1232.6V346.4ZM1232.6 346.4V345.8H1246.6V346.4ZM1246.6 346.4V345.5H1267.6V346.4ZM1267.6 346.4V345.1H1281.6V346.4ZM1343.6 346.4V345.0H1361.4V346.4ZM1361.4 346.4V339.7H1370.0V346.4ZM1370.0 346.4V343.6H1379.3V346.4ZM1379.3 346.4V335.4H1388.6V346.4ZM1388.6 346.4V343.6H1397.1V346.4ZM1397.1 346.4V336.4H1405.7V346.4ZM1405.7 346.4V339.7H1414.3V346.4ZM1414.3 346.4V344.3H1423.6V346.4ZM1423.6 346.4V339.7H1432.9V346.4ZM1450.0 346.4V345.0H1460.0V346.4ZM1460.0 346.4V333.1H1467.9V346.4ZM1477.1 346.4V336.4H1485.7V346.4ZM1485.7 346.4V343.1H1503.6V346.4ZM1503.6 346.4V345.0H1512.0V346.4ZM1512.0 346.4V346.0H1538.6V346.4ZM1538.6 346.4V340.3H1547.9V346.4ZM1547.9 346.4V345.0H1556.4V346.4ZM1565.7 346.4V345.4H1582.9V346.4ZM1582.9 346.4V337.4H1600.7V346.4ZM1600.7 346.4V330.7H1609.3V346.4ZM1609.3 346.4V334.0H1635.7V346.4ZM1635.7 346.4V345.7H1645.0V346.4ZM1645.0 346.4V338.3H1653.6V346.4ZM1653.6 346.4V334.0H1662.9V346.4ZM1662.9 346.4V338.9H1671.4V346.4ZM1671.4 346.4V324.6H1680.0V346.4ZM1680.0 346.4V337.9H1688.6V346.4ZM1688.6 346.4V332.1H1697.9V346.4ZM1697.9 346.4V331.1H1706.4V346.4ZM1706.4 346.4V325.4H1715.7V346.4ZM1715.7 346.4V338.3H1724.3V346.4ZM1724.3 346.4V335.0H1732.9V346.4ZM1732.9 346.4V344.0H1742.1V346.4ZM1742.1 346.4V340.3H1751.4V346.4ZM1751.4 346.4V343.1H1760.0V346.4ZM1760.0 346.4V337.1H1769.3V346.4ZM1769.3 346.4V343.1H1787.1V346.4ZM1787.1 346.4V341.7H1804.3V346.4ZM1804.3 346.4V345.0H1812.0V346.4ZM1821.4 346.4V341.7H1830.7V346.4ZM1830.7 346.4V344.3H1848.6V346.4ZM1857.9 346.4V341.4H1866.4V346.4ZM1866.4 346.4V345.0H1875.7V346.4ZM1875.7 346.4V345.6H1896.7V346.4ZM1903.7 346.4V345.5H1910.7V346.4ZM1910.7 346.4V345.5H1917.7V346.4ZM1931.7 346.4V345.8H1937.1V346.4ZM1937.1 346.4V344.0H1945.7V346.4ZM1959.7 346.4V345.7H1966.7V346.4ZM1966.7 346.4V344.9H1973.7V346.4ZM1981.4 346.4V344.0H1990.0V346.4ZM1990.0 346.4V345.8H1997.0V346.4ZM1997.0 346.4V344.9H2008.6V346.4ZM2008.6 346.4V344.0H2017.0V346.4ZM2017.0 346.4V345.0H2024.0V346.4ZM2025.7 346.4V344.6H2043.0V346.4ZM2050.0 346.4V345.6H2057.0V346.4ZM2085.0 346.4V345.6H2092.0V346.4Z" fill="#F5A21E"/>
<rect x="1176.6" y="345.7" width="928.4000000000001" height="1.4" fill="#F5A21E"/>
<text x="2104.4" y="338.7" font-size="21" fill="#E6823A" stroke="#E6823A" text-anchor="end">0 - 0.6</text>
<text x="1183.7" y="366.9" font-size="22.8" fill="#DA2830" stroke="#DA2830">H3K27ac</text>
<path d="M1176.6 373.0V368.9H1184.3V373.0ZM1184.3 373.0V371.7H1229.0V373.0ZM1229.0 373.0V370.7H1237.9V373.0ZM1237.9 373.0V371.7H1247.0V373.0ZM1247.0 373.0V370.7H1282.0V373.0ZM1282.0 373.0V371.7H1300.0V373.0ZM1300.0 373.0V370.7H1308.6V373.0ZM1308.6 373.0V372.1H1317.9V373.0ZM1317.9 373.0V368.3H1326.4V373.0ZM1326.4 373.0V370.7H1344.3V373.0ZM1344.3 373.0V368.9H1352.9V373.0ZM1352.9 373.0V367.9H1361.4V373.0ZM1361.4 373.0V370.7H1370.7V373.0ZM1370.7 373.0V366.0H1379.3V373.0ZM1379.3 373.0V355.4H1388.6V373.0ZM1388.6 373.0V366.4H1397.1V373.0ZM1397.1 373.0V354.0H1405.7V373.0ZM1405.7 373.0V361.7H1415.0V373.0ZM1415.0 373.0V367.4H1432.9V373.0ZM1432.9 373.0V372.8H1450.0V373.0ZM1450.0 373.0V372.6H1460.0V373.0ZM1460.0 373.0V359.3H1467.9V373.0ZM1467.9 373.0V370.0H1477.1V373.0ZM1477.1 373.0V351.7H1485.7V373.0ZM1485.7 373.0V363.1H1503.6V373.0ZM1503.6 373.0V367.9H1512.1V373.0ZM1512.1 373.0V370.7H1520.7V373.0ZM1520.7 373.0V372.8H1538.6V373.0ZM1538.6 373.0V365.4H1547.9V373.0ZM1547.9 373.0V366.9H1556.4V373.0ZM1565.7 373.0V368.9H1582.9V373.0ZM1582.9 373.0V361.1H1600.7V373.0ZM1600.7 373.0V359.7H1617.9V373.0ZM1617.9 373.0V363.6H1627.1V373.0ZM1627.1 373.0V365.7H1635.7V373.0ZM1635.7 373.0V370.0H1645.0V373.0ZM1645.0 373.0V368.9H1653.6V373.0ZM1653.6 373.0V360.7H1662.9V373.0ZM1662.9 373.0V366.9H1671.4V373.0ZM1671.4 373.0V358.3H1680.0V373.0ZM1680.0 373.0V364.0H1697.9V373.0ZM1697.9 373.0V362.6H1706.4V373.0ZM1706.4 373.0V360.3H1724.3V373.0ZM1724.3 373.0V365.7H1732.9V373.0ZM1732.9 373.0V367.9H1742.1V373.0ZM1742.1 373.0V364.6H1751.4V373.0ZM1751.4 373.0V369.3H1769.3V373.0ZM1769.3 373.0V367.4H1777.9V373.0ZM1777.9 373.0V371.1H1787.1V373.0ZM1787.1 373.0V365.4H1795.7V373.0ZM1795.7 373.0V370.3H1812.9V373.0ZM1812.9 373.0V369.7H1821.4V373.0ZM1821.4 373.0V370.7H1840.0V373.0ZM1840.0 373.0V371.7H1901.0V373.0ZM1901.0 373.0V372.7H1910.7V373.0ZM1910.7 373.0V371.1H1937.1V373.0ZM1937.1 373.0V368.9H1945.7V373.0ZM1945.7 373.0V371.7H1955.0V373.0ZM1955.0 373.0V369.7H1963.6V373.0ZM1963.6 373.0V372.1H1981.4V373.0ZM1981.4 373.0V369.7H1990.0V373.0ZM1990.0 373.0V372.1H2008.6V373.0ZM2008.6 373.0V370.7H2017.0V373.0ZM2017.0 373.0V372.5H2025.7V373.0ZM2025.7 373.0V370.0H2043.0V373.0ZM2043.0 373.0V372.2H2057.0V373.0ZM2071.0 373.0V371.6H2078.0V373.0ZM2078.0 373.0V372.2H2085.0V373.0ZM2085.0 373.0V371.5H2099.0V373.0ZM2099.0 373.0V371.6H2105.0V373.0Z" fill="#E4222B"/>
<rect x="1176.6" y="372.3" width="928.4000000000001" height="1.4" fill="#E4222B"/>
<text x="2104.4" y="364.5" font-size="21" fill="#DA2830" stroke="#DA2830" text-anchor="end">0 - 1.2</text>
<text x="1183.7" y="391.9" font-size="22.8" fill="#26408E" stroke="#26408E">H3K27me3</text>
<path d="M1197.6 400.6V400.0H1211.6V400.6ZM1246.6 400.6V399.8H1253.6V400.6ZM1281.6 400.6V400.0H1295.6V400.6ZM1295.6 400.6V399.4H1309.6V400.6ZM1316.6 400.6V399.8H1330.6V400.6ZM1337.6 400.6V399.6H1351.6V400.6ZM1351.6 400.6V399.5H1358.6V400.6ZM1372.6 400.6V400.0H1379.6V400.6ZM1379.6 400.6V399.8H1386.6V400.6ZM1484.6 400.6V400.0H1505.6V400.6ZM1540.6 400.6V400.0H1561.6V400.6ZM1561.6 400.6V400.0H1575.6V400.6ZM1589.6 400.6V400.0H1600.7V400.6ZM1600.7 400.6V397.9H1618.6V400.6ZM1632.6 400.6V399.5H1639.6V400.6ZM1639.6 400.6V399.5H1646.6V400.6ZM1772.6 400.6V399.5H1786.6V400.6ZM1793.6 400.6V400.0H1807.6V400.6ZM1814.6 400.6V400.0H1821.6V400.6ZM1821.6 400.6V399.5H1835.6V400.6ZM1835.6 400.6V399.8H1842.6V400.6ZM1842.6 400.6V399.9H1849.6V400.6ZM1884.6 400.6V399.4H1891.6V400.6ZM1961.6 400.6V400.0H1975.6V400.6ZM1975.6 400.6V399.7H1982.6V400.6ZM2024.6 400.6V400.0H2031.6V400.6ZM2087.6 400.6V399.8H2101.6V400.6Z" fill="#2D4EA2"/>
<rect x="1176.6" y="399.90000000000003" width="928.4000000000001" height="1.4" fill="#2D4EA2"/>
<text x="2104.4" y="395.0" font-size="21" fill="#26408E" stroke="#26408E" text-anchor="end">0 - 1.0</text>
<rect x="1166.3" y="426.4" width="3.6" height="82.10000000000002" fill="#000"/>
<text transform="translate(1098,465) rotate(-90)" font-size="24.5" text-anchor="middle" stroke="#000">cortex</text>
<text transform="translate(1124,465) rotate(-90)" font-size="24.5" text-anchor="middle" stroke="#000">culture</text>
<text transform="translate(1151,463.8) rotate(-90)" font-size="24.5" text-anchor="middle" stroke="#000">(7 day)</text>
<text x="1183.7" y="436.0" font-size="22.8" fill="#E6823A" stroke="#E6823A">H3K4me3</text>
<path d="M1204.6 445.0V444.0H1211.6V445.0ZM1211.6 445.0V444.1H1218.6V445.0ZM1218.6 445.0V443.9H1225.6V445.0ZM1225.6 445.0V444.3H1239.6V445.0ZM1253.6 445.0V444.0H1264.0V445.0ZM1264.0 445.0V443.6H1281.0V445.0ZM1291.0 445.0V442.6H1308.0V445.0ZM1326.0 445.0V443.1H1335.0V445.0ZM1370.0 445.0V440.3H1397.1V445.0ZM1397.1 445.0V439.3H1405.7V445.0ZM1423.6 445.0V440.7H1441.4V445.0ZM1459.3 445.0V436.4H1467.9V445.0ZM1467.9 445.0V439.3H1485.7V445.0ZM1485.7 445.0V438.6H1494.3V445.0ZM1494.3 445.0V444.7H1520.0V445.0ZM1520.0 445.0V443.1H1539.3V445.0ZM1539.3 445.0V440.0H1556.4V445.0ZM1556.4 445.0V443.6H1565.7V445.0ZM1574.3 445.0V440.0H1591.4V445.0ZM1591.4 445.0V432.9H1609.3V445.0ZM1609.3 445.0V435.4H1618.6V445.0ZM1618.6 445.0V431.1H1627.1V445.0ZM1627.1 445.0V444.5H1635.7V445.0ZM1635.7 445.0V439.3H1662.9V445.0ZM1662.9 445.0V438.6H1671.4V445.0ZM1671.4 445.0V423.1H1680.0V445.0ZM1680.0 445.0V442.9H1697.9V445.0ZM1697.9 445.0V439.3H1706.4V445.0ZM1706.4 445.0V441.1H1715.7V445.0ZM1715.7 445.0V437.4H1724.3V445.0ZM1724.3 445.0V440.0H1733.6V445.0ZM1733.6 445.0V444.3H1750.7V445.0ZM1750.7 445.0V438.3H1760.0V445.0ZM1760.0 445.0V444.3H1812.9V445.0ZM1812.9 445.0V443.1H1830.7V445.0ZM1866.4 445.0V438.3H1875.7V445.0ZM1875.7 445.0V444.5H1884.3V445.0ZM1884.3 445.0V442.1H1902.1V445.0ZM1902.1 445.0V444.5H1920.0V445.0ZM1920.0 445.0V440.7H1928.6V445.0ZM1928.6 445.0V443.6H1937.0V445.0ZM1963.6 445.0V440.0H1972.9V445.0ZM1972.9 445.0V443.6H1981.4V445.0ZM1981.4 445.0V443.6H1988.4V445.0ZM1988.4 445.0V443.8H2002.4V445.0ZM2030.4 445.0V444.1H2051.4V445.0ZM2051.4 445.0V443.7H2058.4V445.0ZM2058.4 445.0V444.1H2065.4V445.0ZM2065.4 445.0V444.4H2079.4V445.0ZM2100.4 445.0V444.4H2105.0V445.0Z" fill="#F5A21E"/>
<rect x="1176.6" y="444.3" width="928.4000000000001" height="1.4" fill="#F5A21E"/>
<text x="2104.4" y="436.5" font-size="21" fill="#E6823A" stroke="#E6823A" text-anchor="end">0 - 1.2</text>
<text x="1183.7" y="463.5" font-size="22.8" fill="#DA2830" stroke="#DA2830">H3K27ac</text>
<path d="M1183.6 472.0V470.8H1197.6V472.0ZM1218.6 472.0V471.4H1232.6V472.0ZM1232.6 472.0V470.8H1246.6V472.0ZM1246.6 472.0V471.0H1253.6V472.0ZM1253.6 472.0V471.0H1273.0V472.0ZM1273.0 472.0V469.3H1336.0V472.0ZM1343.0 472.0V471.0H1350.0V472.0ZM1357.0 472.0V471.4H1370.0V472.0ZM1370.0 472.0V467.9H1379.3V472.0ZM1379.3 472.0V466.0H1388.6V472.0ZM1388.6 472.0V467.4H1397.1V472.0ZM1397.1 472.0V469.7H1405.7V472.0ZM1405.7 472.0V465.0H1415.0V472.0ZM1415.0 472.0V462.6H1423.6V472.0ZM1423.6 472.0V457.9H1432.9V472.0ZM1432.9 472.0V460.3H1450.0V472.0ZM1450.0 472.0V469.7H1460.0V472.0ZM1460.0 472.0V469.3H1467.9V472.0ZM1467.9 472.0V466.0H1477.1V472.0ZM1477.1 472.0V461.1H1485.7V472.0ZM1485.7 472.0V459.3H1495.0V472.0ZM1495.0 472.0V463.1H1503.6V472.0ZM1503.6 472.0V461.1H1512.1V472.0ZM1512.1 472.0V459.7H1520.7V472.0ZM1520.7 472.0V468.9H1530.0V472.0ZM1530.0 472.0V463.6H1538.6V472.0ZM1538.6 472.0V461.7H1547.9V472.0ZM1547.9 472.0V463.1H1556.4V472.0ZM1556.4 472.0V464.0H1565.7V472.0ZM1565.7 472.0V470.7H1574.3V472.0ZM1574.3 472.0V469.3H1582.9V472.0ZM1591.4 472.0V470.7H1609.3V472.0ZM1617.9 472.0V470.0H1627.0V472.0ZM1627.0 472.0V470.7H1655.0V472.0ZM1662.9 472.0V468.6H1671.4V472.0ZM1671.4 472.0V470.7H1680.0V472.0ZM1680.0 472.0V470.0H1715.7V472.0ZM1715.7 472.0V468.9H1724.3V472.0ZM1724.3 472.0V470.3H1742.0V472.0ZM1760.0 472.0V471.5H1768.6V472.0ZM1768.6 472.0V470.7H1830.7V472.0ZM1830.7 472.0V469.3H1840.0V472.0ZM1840.0 472.0V471.2H1901.4V472.0ZM1901.4 472.0V469.3H1910.7V472.0ZM1910.7 472.0V470.7H1981.4V472.0ZM1981.4 472.0V470.0H1990.0V472.0ZM1990.0 472.0V470.7H2008.0V472.0ZM2008.0 472.0V471.5H2016.0V472.0ZM2016.0 472.0V470.7H2025.0V472.0ZM2025.0 472.0V470.5H2046.0V472.0ZM2046.0 472.0V470.9H2060.0V472.0Z" fill="#E4222B"/>
<rect x="1176.6" y="471.3" width="928.4000000000001" height="1.4" fill="#E4222B"/>
<text x="2104.4" y="462.3" font-size="21" fill="#DA2830" stroke="#DA2830" text-anchor="end">0 - 0.8</text>
<text x="1183.7" y="490.9" font-size="22.8" fill="#26408E" stroke="#26408E">H3K27me3</text>
<path d="M1197.6 498.3V497.3H1218.6V498.3ZM1218.6 498.3V497.2H1232.6V498.3ZM1232.6 498.3V497.3H1246.6V498.3ZM1246.6 498.3V497.3H1253.6V498.3ZM1316.6 498.3V497.0H1330.6V498.3ZM1330.6 498.3V497.6H1344.6V498.3ZM1344.6 498.3V497.3H1358.6V498.3ZM1379.6 498.3V497.5H1393.6V498.3ZM1463.6 498.3V497.7H1477.6V498.3ZM1477.6 498.3V497.7H1491.6V498.3ZM1491.6 498.3V497.5H1512.6V498.3ZM1526.6 498.3V497.4H1540.6V498.3ZM1540.6 498.3V497.7H1554.6V498.3ZM1568.6 498.3V497.1H1589.6V498.3ZM1589.6 498.3V497.4H1596.6V498.3ZM1603.0 498.3V497.4H1609.3V498.3ZM1609.3 498.3V496.4H1635.7V498.3ZM1635.7 498.3V497.4H1645.0V498.3ZM1645.0 498.3V496.4H1662.9V498.3ZM1662.9 498.3V494.0H1671.4V498.3ZM1671.4 498.3V492.9H1680.0V498.3ZM1680.0 498.3V494.6H1688.6V498.3ZM1688.6 498.3V493.6H1697.9V498.3ZM1697.9 498.3V494.6H1706.4V498.3ZM1706.4 498.3V497.4H1715.7V498.3ZM1715.7 498.3V490.0H1724.3V498.3ZM1724.3 498.3V491.7H1733.6V498.3ZM1733.6 498.3V488.6H1742.1V498.3ZM1742.1 498.3V494.0H1751.4V498.3ZM1751.4 498.3V489.7H1760.0V498.3ZM1760.0 498.3V496.0H1769.3V498.3ZM1769.3 498.3V491.7H1786.4V498.3ZM1786.4 498.3V493.2H1795.7V498.3ZM1795.7 498.3V497.9H1804.3V498.3ZM1804.3 498.3V496.4H1812.9V498.3ZM1812.9 498.3V497.4H1830.7V498.3ZM1840.0 498.3V497.4H1857.9V498.3ZM1857.9 498.3V492.6H1866.4V498.3ZM1866.4 498.3V497.4H1875.7V498.3ZM1875.7 498.3V496.4H1884.3V498.3ZM1901.4 498.3V496.4H1910.7V498.3ZM1910.7 498.3V497.4H1920.0V498.3ZM1946.4 498.3V495.4H1955.0V498.3ZM1955.0 498.3V497.4H1963.6V498.3ZM1972.9 498.3V497.4H1981.4V498.3ZM2016.4 498.3V496.4H2025.7V498.3ZM2025.7 498.3V497.4H2043.0V498.3ZM2050.0 498.3V497.7H2057.0V498.3ZM2071.0 498.3V497.2H2078.0V498.3ZM2078.0 498.3V497.5H2085.0V498.3ZM2085.0 498.3V497.6H2092.0V498.3ZM2092.0 498.3V497.4H2105.0V498.3Z" fill="#2D4EA2"/>
<rect x="1176.6" y="497.6" width="928.4000000000001" height="1.4" fill="#2D4EA2"/>
<text x="2104.4" y="492.8" font-size="21" fill="#26408E" stroke="#26408E" text-anchor="end">0 - 0.8</text>
<rect x="1469.4" y="101.7" width="126.89999999999986" height="410.0" fill="rgba(232,60,62,0.21)"/>
<rect x="1629" y="101.7" width="187.70000000000005" height="410.0" fill="rgba(38,62,150,0.205)"/>
<rect x="1566.4" y="506.90000000000003" width="332.1999999999998" height="1.4" fill="#151515"/>
<rect x="1592.9" y="505.85" width="24.09999999999991" height="3.5" fill="#151515"/>
<rect x="1677.9" y="505.70000000000005" width="115.0" height="3.8" fill="#151515"/>
<rect x="1817" y="506.5" width="81.59999999999991" height="2.2" fill="#151515"/>
<text x="1508.0" y="523.0" font-size="27.8" fill="#000" stroke="#000" font-style="italic">Egr1</text>
<text x="101" y="601.4" font-size="28.7" font-weight="bold" stroke="#000"><tspan font-style="italic">Fosb</tspan> (IEG, bipartite)</text>
<text x="643.0" y="593.0" font-size="21" fill="#000" stroke="#000" text-anchor="end">5 kb</text>
<rect x="646" y="589.8" width="286.6" height="3" fill="#000"/>
<text x="936.4" y="593.0" font-size="21" fill="#000" stroke="#000">mm10 chr7</text>
<text x="121.0" y="629.7" font-size="21.6" fill="#000" stroke="#000">19,297,500</text>
<text x="266.0" y="629.7" font-size="21.6" fill="#000" stroke="#000">19,300,000</text>
<text x="411.0" y="629.7" font-size="21.6" fill="#000" stroke="#000">19,302,500</text>
<text x="555.0" y="629.7" font-size="21.6" fill="#000" stroke="#000">19,305,000</text>
<text x="698.6" y="629.7" font-size="21.6" fill="#000" stroke="#000">19,307,500</text>
<text x="844.0" y="629.7" font-size="21.6" fill="#000" stroke="#000">19,310,000</text>
<rect x="89.2" y="646.6" width="3.6" height="101.69999999999993" fill="#000"/>
<text transform="translate(46.3,690.4) rotate(-90)" font-size="24.5" text-anchor="middle" stroke="#000">E14.5</text>
<text transform="translate(73.5,689.5) rotate(-90)" font-size="24.5" text-anchor="middle" stroke="#000">barrelette</text>
<text x="106.0" y="664.0" font-size="22.8" fill="#6E4798" stroke="#6E4798">ATAC</text>
<path d="M111.0 665.8V664.8H118.0V665.8ZM139.0 665.8V665.0H146.0V665.8ZM146.0 665.8V664.4H160.0V665.8ZM160.0 665.8V665.1H174.0V665.8ZM174.0 665.8V665.2H181.0V665.8ZM181.0 665.8V665.1H188.0V665.8ZM188.0 665.8V664.4H195.0V665.8ZM195.0 665.8V665.0H216.0V665.8ZM237.0 665.8V665.0H251.0V665.8ZM251.0 665.8V665.2H272.0V665.8ZM272.0 665.8V664.5H279.0V665.8ZM286.0 665.8V665.1H293.0V665.8ZM326.4 665.8V661.0H337.1V665.8ZM337.1 665.8V665.1H344.3V665.8ZM344.3 665.8V663.3H349.3V665.8ZM349.3 665.8V665.1H355.0V665.8ZM355.0 665.8V659.6H360.7V665.8ZM360.7 665.8V662.4H366.4V665.8ZM366.4 665.8V664.8H380.4V665.8ZM380.4 665.8V664.7H401.4V665.8ZM401.4 665.8V665.2H415.4V665.8ZM415.4 665.8V665.1H422.4V665.8ZM443.4 665.8V665.2H450.4V665.8ZM450.4 665.8V664.8H464.4V665.8ZM464.4 665.8V665.2H478.4V665.8ZM478.4 665.8V664.8H485.4V665.8ZM485.4 665.8V665.1H492.4V665.8ZM492.4 665.8V665.2H499.4V665.8ZM499.4 665.8V665.0H506.4V665.8ZM506.4 665.8V664.6H510.7V665.8ZM510.7 665.8V660.4H522.9V665.8ZM522.9 665.8V665.2H529.9V665.8ZM529.9 665.8V664.7H536.9V665.8ZM536.9 665.8V664.4H550.9V665.8ZM564.9 665.8V665.1H571.9V665.8ZM592.9 665.8V664.9H599.9V665.8ZM606.9 665.8V665.1H620.9V665.8ZM641.9 665.8V665.0H648.9V665.8ZM648.9 665.8V664.6H662.9V665.8ZM662.9 665.8V665.1H669.9V665.8ZM669.9 665.8V665.1H683.9V665.8ZM683.9 665.8V665.1H690.9V665.8ZM690.9 665.8V664.7H697.9V665.8ZM718.9 665.8V665.2H725.9V665.8ZM725.9 665.8V665.2H731.0V665.8ZM731.0 665.8V664.3H742.0V665.8ZM742.0 665.8V665.1H749.0V665.8ZM749.0 665.8V665.1H754.3V665.8ZM754.3 665.8V662.9H760.0V665.8ZM760.0 665.8V661.0H771.4V665.8ZM771.4 665.8V663.3H777.1V665.8ZM777.1 665.8V657.1H782.9V665.8ZM782.9 665.8V649.0H794.3V665.8ZM794.3 665.8V660.0H800.0V665.8ZM800.0 665.8V664.3H805.7V665.8ZM805.7 665.8V665.2H826.7V665.8ZM845.0 665.8V663.6H851.0V665.8ZM858.0 665.8V664.5H863.6V665.8ZM863.6 665.8V656.2H869.3V665.8ZM869.3 665.8V661.4H881.4V665.8ZM881.4 665.8V644.3H886.4V665.8ZM886.4 665.8V650.0H892.9V665.8ZM892.9 665.8V663.6H904.0V665.8ZM904.0 665.8V664.8H910.0V665.8ZM910.0 665.8V665.0H931.0V665.8ZM931.0 665.8V664.8H938.0V665.8ZM938.0 665.8V664.5H945.0V665.8ZM959.0 665.8V665.2H966.0V665.8ZM966.0 665.8V665.1H973.0V665.8ZM973.0 665.8V665.2H980.0V665.8ZM980.0 665.8V665.1H987.0V665.8Z" fill="#7B4A9F"/>
<rect x="97" y="665.0999999999999" width="930" height="1.4" fill="#7B4A9F"/>
<text x="1029.0" y="656.0" font-size="21" fill="#6E4798" stroke="#6E4798" text-anchor="end">0 - 0.8</text>
<text x="106.0" y="690.3" font-size="22.8" fill="#E6823A" stroke="#E6823A">H3K4me2</text>
<path d="M111.0 692.3V691.1H118.0V692.3ZM146.0 692.3V691.6H153.0V692.3ZM153.0 692.3V691.0H160.0V692.3ZM160.0 692.3V691.3H181.0V692.3ZM195.0 692.3V691.4H202.0V692.3ZM223.0 692.3V691.7H230.0V692.3ZM230.0 692.3V691.7H237.0V692.3ZM237.0 692.3V691.7H244.0V692.3ZM286.0 692.3V691.5H293.0V692.3ZM300.0 692.3V689.9H320.0V692.3ZM320.0 692.3V683.4H325.7V692.3ZM325.7 692.3V685.6H331.4V692.3ZM331.4 692.3V687.4H337.1V692.3ZM337.1 692.3V689.9H344.3V692.3ZM344.3 692.3V682.0H355.0V692.3ZM355.0 692.3V676.3H360.7V692.3ZM360.7 692.3V684.2H366.4V692.3ZM366.4 692.3V681.3H372.1V692.3ZM372.1 692.3V677.7H389.3V692.3ZM389.3 692.3V680.6H395.7V692.3ZM395.7 692.3V683.4H401.4V692.3ZM401.4 692.3V684.2H412.1V692.3ZM412.1 692.3V688.0H424.3V692.3ZM424.3 692.3V690.3H430.0V692.3ZM430.0 692.3V691.3H470.0V692.3ZM470.0 692.3V690.9H477.0V692.3ZM477.0 692.3V691.3H488.6V692.3ZM488.6 692.3V690.9H498.0V692.3ZM498.0 692.3V691.3H504.0V692.3ZM504.0 692.3V689.9H527.0V692.3ZM527.0 692.3V690.3H557.0V692.3ZM557.0 692.3V688.0H563.6V692.3ZM563.6 692.3V689.4H574.3V692.3ZM574.3 692.3V686.6H587.1V692.3ZM587.1 692.3V689.9H592.1V692.3ZM592.1 692.3V688.0H601.4V692.3ZM601.4 692.3V690.3H615.7V692.3ZM615.7 692.3V691.3H714.0V692.3ZM714.0 692.3V690.6H727.0V692.3ZM727.0 692.3V688.9H742.9V692.3ZM742.9 692.3V685.6H748.6V692.3ZM748.6 692.3V684.2H754.3V692.3ZM754.3 692.3V682.0H760.0V692.3ZM760.0 692.3V679.2H765.7V692.3ZM765.7 692.3V670.6H777.1V692.3ZM777.1 692.3V680.3H782.9V692.3ZM782.9 692.3V686.6H794.3V692.3ZM794.3 692.3V684.2H800.0V692.3ZM800.0 692.3V687.4H805.7V692.3ZM805.7 692.3V681.3H811.4V692.3ZM811.4 692.3V687.0H817.1V692.3ZM817.1 692.3V685.6H834.3V692.3ZM834.3 692.3V684.2H857.1V692.3ZM857.1 692.3V677.7H863.6V692.3ZM863.6 692.3V684.9H880.7V692.3ZM880.7 692.3V680.3H892.9V692.3ZM892.9 692.3V682.0H898.6V692.3ZM898.6 692.3V673.2H904.3V692.3ZM904.3 692.3V684.2H910.0V692.3ZM910.0 692.3V687.4H915.7V692.3ZM915.7 692.3V689.9H921.4V692.3ZM921.4 692.3V691.3H928.4V692.3ZM942.4 692.3V691.6H956.4V692.3ZM970.4 692.3V691.7H977.4V692.3ZM998.4 692.3V691.4H1019.4V692.3Z" fill="#F5A21E"/>
<rect x="97" y="691.5999999999999" width="930" height="1.4" fill="#F5A21E"/>
<text x="1029.0" y="682.6" font-size="21" fill="#E6823A" stroke="#E6823A" text-anchor="end">0 - 1.0</text>
<text x="106.0" y="715.4" font-size="22.8" fill="#DA2830" stroke="#DA2830">H3K27ac</text>
<path d="M97.0 718.0V715.7H118.0V718.0ZM118.0 718.0V716.5H125.0V718.0ZM125.0 718.0V716.0H132.0V718.0ZM132.0 718.0V715.9H146.0V718.0ZM146.0 718.0V716.3H160.0V718.0ZM160.0 718.0V715.9H174.0V718.0ZM174.0 718.0V715.3H188.0V718.0ZM188.0 718.0V716.5H195.0V718.0ZM195.0 718.0V716.0H209.0V718.0ZM209.0 718.0V714.9H216.0V718.0ZM216.0 718.0V716.3H223.0V718.0ZM223.0 718.0V715.8H230.0V718.0ZM230.0 718.0V716.3H244.0V718.0ZM251.0 718.0V714.8H272.0V718.0ZM279.0 718.0V716.0H286.0V718.0ZM286.0 718.0V715.0H291.0V718.0ZM291.0 718.0V716.3H305.0V718.0ZM305.0 718.0V716.3H326.0V718.0ZM326.0 718.0V716.5H326.4V718.0ZM326.4 718.0V712.1H337.1V718.0ZM337.1 718.0V716.5H344.3V718.0ZM344.3 718.0V710.4H349.3V718.0ZM349.3 718.0V712.9H355.0V718.0ZM355.0 718.0V699.3H360.7V718.0ZM360.7 718.0V713.6H372.1V718.0ZM372.1 718.0V712.9H377.9V718.0ZM377.9 718.0V715.7H389.3V718.0ZM389.3 718.0V714.3H395.0V718.0ZM395.0 718.0V715.7H418.6V718.0ZM418.6 718.0V712.1H424.3V718.0ZM424.3 718.0V716.7H458.6V718.0ZM458.6 718.0V713.9H464.3V718.0ZM464.3 718.0V716.7H496.0V718.0ZM496.0 718.0V716.4H547.0V718.0ZM547.0 718.0V715.7H574.0V718.0ZM574.0 718.0V715.3H592.1V718.0ZM592.1 718.0V712.1H597.1V718.0ZM597.1 718.0V715.7H610.0V718.0ZM610.0 718.0V713.9H620.0V718.0ZM620.0 718.0V715.7H638.6V718.0ZM638.6 718.0V717.5H643.0V718.0ZM643.0 718.0V715.3H661.0V718.0ZM661.0 718.0V716.7H680.0V718.0ZM680.0 718.0V717.1H690.7V718.0ZM690.7 718.0V713.9H702.1V718.0ZM702.1 718.0V716.7H713.6V718.0ZM713.6 718.0V713.6H730.7V718.0ZM730.7 718.0V716.7H736.4V718.0ZM736.4 718.0V713.3H742.9V718.0ZM742.9 718.0V712.1H754.3V718.0ZM754.3 718.0V709.0H765.7V718.0ZM765.7 718.0V697.9H777.1V718.0ZM777.1 718.0V701.4H782.9V718.0ZM782.9 718.0V712.1H788.6V718.0ZM788.6 718.0V714.3H794.3V718.0ZM794.3 718.0V712.9H811.4V718.0ZM811.4 718.0V717.1H828.6V718.0ZM828.6 718.0V713.6H834.3V718.0ZM834.3 718.0V711.9H840.0V718.0ZM840.0 718.0V713.3H851.4V718.0ZM851.4 718.0V712.1H863.6V718.0ZM863.6 718.0V710.4H869.3V718.0ZM869.3 718.0V707.6H881.4V718.0ZM881.4 718.0V709.0H887.1V718.0ZM887.1 718.0V702.4H892.9V718.0ZM892.9 718.0V708.1H898.6V718.0ZM898.6 718.0V699.6H904.3V718.0ZM904.3 718.0V711.9H910.0V718.0ZM910.0 718.0V715.3H921.4V718.0ZM921.4 718.0V716.4H927.0V718.0ZM927.0 718.0V714.3H932.9V718.0ZM932.9 718.0V716.7H944.0V718.0ZM944.0 718.0V715.3H967.0V718.0ZM974.0 718.0V713.6H980.0V718.0ZM980.0 718.0V716.5H994.0V718.0ZM994.0 718.0V715.7H1001.0V718.0ZM1001.0 718.0V716.4H1008.0V718.0ZM1008.0 718.0V715.7H1015.0V718.0ZM1015.0 718.0V716.0H1027.0V718.0Z" fill="#E4222B"/>
<rect x="97" y="717.3" width="930" height="1.4" fill="#E4222B"/>
<text x="1029.0" y="709.5" font-size="21" fill="#DA2830" stroke="#DA2830" text-anchor="end">0 - 0.25</text>
<text x="106.0" y="741.7" font-size="22.8" fill="#26408E" stroke="#26408E">H3K27me3</text>
<path d="M97.0 745.3V744.7H104.0V745.3ZM118.0 745.3V744.5H125.0V745.3ZM139.0 745.3V744.1H146.0V745.3ZM146.0 745.3V744.4H153.0V745.3ZM153.0 745.3V744.4H160.0V745.3ZM160.0 745.3V744.1H174.0V745.3ZM202.0 745.3V744.2H209.0V745.3ZM209.0 745.3V744.1H223.0V745.3ZM223.0 745.3V744.6H230.0V745.3ZM237.0 745.3V744.0H251.0V745.3ZM258.0 745.3V744.7H279.0V745.3ZM300.0 745.3V744.6H321.0V745.3ZM321.0 745.3V744.7H328.0V745.3ZM328.0 745.3V744.3H342.0V745.3ZM342.0 745.3V744.1H356.0V745.3ZM366.0 745.3V744.2H385.0V745.3ZM385.0 745.3V742.7H395.0V745.3ZM395.0 745.3V743.7H407.1V745.3ZM407.1 745.3V740.3H418.6V745.3ZM418.6 745.3V736.3H424.3V745.3ZM424.3 745.3V738.0H430.0V745.3ZM430.0 745.3V741.7H435.7V745.3ZM435.7 745.3V738.4H441.4V745.3ZM441.4 745.3V740.6H452.9V745.3ZM452.9 745.3V738.0H458.6V745.3ZM458.6 745.3V736.0H464.3V745.3ZM464.3 745.3V741.3H470.0V745.3ZM470.0 745.3V736.6H475.7V745.3ZM475.7 745.3V740.3H481.4V745.3ZM481.4 745.3V742.0H487.9V745.3ZM487.9 745.3V739.2H492.9V745.3ZM492.9 745.3V742.3H504.3V745.3ZM504.3 745.3V740.6H510.0V745.3ZM510.0 745.3V738.4H516.4V745.3ZM516.4 745.3V736.6H522.9V745.3ZM522.9 745.3V733.4H528.6V745.3ZM528.6 745.3V731.3H534.3V745.3ZM534.3 745.3V733.4H539.3V745.3ZM539.3 745.3V730.9H545.0V745.3ZM545.0 745.3V727.0H551.4V745.3ZM551.4 745.3V730.3H562.9V745.3ZM562.9 745.3V733.4H568.6V745.3ZM568.6 745.3V731.7H575.0V745.3ZM575.0 745.3V725.2H580.7V745.3ZM580.7 745.3V732.0H585.7V745.3ZM585.7 745.3V734.2H591.4V745.3ZM591.4 745.3V725.2H597.9V745.3ZM597.9 745.3V723.7H604.3V745.3ZM604.3 745.3V724.6H609.3V745.3ZM609.3 745.3V723.7H615.0V745.3ZM615.0 745.3V726.0H620.7V745.3ZM620.7 745.3V732.0H638.6V745.3ZM638.6 745.3V733.7H644.3V745.3ZM644.3 745.3V728.4H650.0V745.3ZM650.0 745.3V730.3H655.7V745.3ZM655.7 745.3V729.2H661.4V745.3ZM661.4 745.3V732.7H667.1V745.3ZM667.1 745.3V734.6H672.9V745.3ZM672.9 745.3V736.3H678.6V745.3ZM678.6 745.3V738.0H684.3V745.3ZM684.3 745.3V739.9H690.7V745.3ZM690.7 745.3V738.4H702.1V745.3ZM702.1 745.3V741.3H707.9V745.3ZM707.9 745.3V742.7H713.6V745.3ZM713.6 745.3V740.6H725.0V745.3ZM725.0 745.3V744.2H748.0V745.3ZM748.0 745.3V744.6H755.0V745.3ZM755.0 745.3V744.7H762.0V745.3ZM762.0 745.3V744.5H776.0V745.3ZM776.0 745.3V744.2H790.0V745.3ZM790.0 745.3V744.7H797.0V745.3ZM797.0 745.3V744.3H806.0V745.3ZM806.0 745.3V743.7H817.0V745.3ZM817.0 745.3V742.7H840.0V745.3ZM840.0 745.3V744.2H857.0V745.3ZM864.0 745.3V744.5H871.0V745.3ZM899.0 745.3V744.1H913.0V745.3ZM913.0 745.3V744.3H920.0V745.3ZM920.0 745.3V744.7H934.0V745.3ZM934.0 745.3V744.3H948.0V745.3ZM962.0 745.3V744.4H976.0V745.3ZM976.0 745.3V744.3H983.0V745.3ZM983.0 745.3V744.7H997.0V745.3ZM997.0 745.3V744.7H1004.0V745.3ZM1004.0 745.3V744.0H1011.0V745.3ZM1011.0 745.3V744.1H1025.0V745.3Z" fill="#2D4EA2"/>
<rect x="97" y="744.5999999999999" width="930" height="1.4" fill="#2D4EA2"/>
<text x="1029.0" y="740.3" font-size="21" fill="#26408E" stroke="#26408E" text-anchor="end">0 - 1.0</text>
<rect x="89.2" y="774.8" width="3.6" height="69.40000000000009" fill="#000"/>
<text transform="translate(46.6,805.5) rotate(-90)" font-size="24.5" text-anchor="middle" stroke="#000">embryo</text>
<text transform="translate(73.6,806.3) rotate(-90)" font-size="24.5" text-anchor="middle" stroke="#000">cortex</text>
<text x="106.0" y="783.0" font-size="22.8" fill="#DA2830" stroke="#DA2830">H3K27ac</text>
<path d="M97.0 790.5V789.8H104.0V790.5ZM111.0 790.5V788.6H118.0V790.5ZM118.0 790.5V789.1H125.0V790.5ZM125.0 790.5V789.8H130.0V790.5ZM130.0 790.5V786.1H135.0V790.5ZM135.0 790.5V789.5H141.4V790.5ZM141.4 790.5V784.3H146.4V790.5ZM146.4 790.5V788.6H157.9V790.5ZM157.9 790.5V789.9H164.9V790.5ZM185.9 790.5V788.8H192.9V790.5ZM192.9 790.5V789.6H199.9V790.5ZM199.9 790.5V789.9H206.9V790.5ZM206.9 790.5V789.4H220.9V790.5ZM234.9 790.5V789.7H241.9V790.5ZM241.9 790.5V789.8H255.9V790.5ZM297.9 790.5V789.9H304.9V790.5ZM304.9 790.5V788.9H309.0V790.5ZM309.0 790.5V788.6H320.7V790.5ZM320.7 790.5V785.0H325.7V790.5ZM325.7 790.5V788.6H332.1V790.5ZM332.1 790.5V784.3H337.9V790.5ZM337.9 790.5V772.1H343.6V790.5ZM343.6 790.5V775.0H349.3V790.5ZM349.3 790.5V768.6H355.0V790.5ZM355.0 790.5V776.4H360.7V790.5ZM360.7 790.5V781.4H366.4V790.5ZM366.4 790.5V779.3H372.1V790.5ZM372.1 790.5V788.6H377.9V790.5ZM377.9 790.5V787.1H383.6V790.5ZM383.6 790.5V784.7H395.0V790.5ZM395.0 790.5V785.0H400.7V790.5ZM407.7 790.5V789.7H421.7V790.5ZM421.7 790.5V789.8H428.7V790.5ZM435.7 790.5V789.5H442.7V790.5ZM442.7 790.5V789.9H449.7V790.5ZM456.7 790.5V789.7H470.7V790.5ZM470.7 790.5V789.7H477.7V790.5ZM477.7 790.5V789.0H484.7V790.5ZM487.9 790.5V784.3H493.6V790.5ZM493.6 790.5V789.5H499.3V790.5ZM499.3 790.5V787.6H522.1V790.5ZM522.1 790.5V789.5H527.9V790.5ZM527.9 790.5V787.1H532.9V790.5ZM532.9 790.5V789.7H553.9V790.5ZM568.6 790.5V787.1H580.0V790.5ZM580.0 790.5V789.0H586.0V790.5ZM586.0 790.5V787.6H597.0V790.5ZM604.0 790.5V789.9H611.0V790.5ZM611.0 790.5V789.1H618.0V790.5ZM618.0 790.5V789.4H632.0V790.5ZM632.0 790.5V789.3H646.0V790.5ZM674.0 790.5V789.9H688.0V790.5ZM688.0 790.5V789.7H709.0V790.5ZM747.9 790.5V787.6H754.3V790.5ZM754.3 790.5V785.0H760.0V790.5ZM760.0 790.5V781.9H771.4V790.5ZM771.4 790.5V785.0H777.1V790.5ZM777.1 790.5V780.7H782.9V790.5ZM782.9 790.5V781.9H788.6V790.5ZM788.6 790.5V787.1H794.3V790.5ZM794.3 790.5V788.6H805.7V790.5ZM805.7 790.5V787.1H811.4V790.5ZM811.4 790.5V784.7H817.1V790.5ZM817.1 790.5V788.1H822.9V790.5ZM822.9 790.5V789.0H828.6V790.5ZM828.6 790.5V790.0H835.0V790.5ZM835.0 790.5V785.0H840.7V790.5ZM840.7 790.5V790.0H858.6V790.5ZM858.6 790.5V787.1H863.6V790.5ZM863.6 790.5V790.0H875.7V790.5ZM875.7 790.5V788.1H887.1V790.5ZM887.1 790.5V782.9H892.9V790.5ZM892.9 790.5V787.1H898.6V790.5ZM898.6 790.5V784.3H904.3V790.5ZM904.3 790.5V782.9H910.0V790.5ZM910.0 790.5V788.6H921.4V790.5ZM921.4 790.5V789.6H928.4V790.5ZM928.4 790.5V789.9H949.4V790.5ZM970.4 790.5V788.6H977.4V790.5ZM984.4 790.5V788.6H991.4V790.5ZM991.4 790.5V789.3H1012.4V790.5Z" fill="#E4222B"/>
<rect x="97" y="789.8" width="930" height="1.4" fill="#E4222B"/>
<text x="1029.0" y="781.5" font-size="21" fill="#DA2830" stroke="#DA2830" text-anchor="end">0 - 0.4</text>
<text x="106.0" y="811.8" font-size="22.8" fill="#26408E" stroke="#26408E">H3K27me3 (NPC)</text>
<path d="M114.0 817.0V815.0H124.3V817.0ZM124.3 817.0V811.4H129.3V817.0ZM129.3 817.0V815.0H135.0V817.0ZM135.0 817.0V815.8H142.0V817.0ZM156.0 817.0V816.3H163.0V817.0ZM205.0 817.0V815.8H219.0V817.0ZM247.0 817.0V816.2H261.0V817.0ZM268.0 817.0V816.3H282.0V817.0ZM282.0 817.0V815.5H285.0V817.0ZM285.0 817.0V815.0H291.0V817.0ZM297.0 817.0V813.6H313.0V817.0ZM323.0 817.0V813.6H329.0V817.0ZM334.0 817.0V813.6H340.0V817.0ZM345.0 817.0V815.3H351.0V817.0ZM360.0 817.0V815.3H361.0V817.0ZM361.0 817.0V813.9H372.0V817.0ZM372.0 817.0V815.3H377.0V817.0ZM383.6 817.0V809.0H389.3V817.0ZM389.3 817.0V811.0H395.7V817.0ZM395.7 817.0V810.7H401.4V817.0ZM401.4 817.0V809.0H407.1V817.0ZM407.1 817.0V805.7H412.9V817.0ZM412.9 817.0V812.1H418.6V817.0ZM418.6 817.0V805.7H424.3V817.0ZM424.3 817.0V815.7H430.0V817.0ZM430.0 817.0V809.0H435.7V817.0ZM435.7 817.0V810.7H441.4V817.0ZM441.4 817.0V815.0H447.1V817.0ZM447.1 817.0V805.7H452.9V817.0ZM452.9 817.0V813.6H470.0V817.0ZM470.0 817.0V811.9H482.1V817.0ZM482.1 817.0V815.0H487.9V817.0ZM487.9 817.0V807.9H493.6V817.0ZM493.6 817.0V811.9H499.3V817.0ZM499.3 817.0V805.7H505.0V817.0ZM505.0 817.0V809.0H510.7V817.0ZM510.7 817.0V805.7H516.4V817.0ZM516.4 817.0V810.0H522.1V817.0ZM522.1 817.0V808.6H527.9V817.0ZM527.9 817.0V813.3H533.6V817.0ZM533.6 817.0V798.6H539.3V817.0ZM539.3 817.0V802.9H545.0V817.0ZM545.0 817.0V800.0H551.4V817.0ZM551.4 817.0V798.6H557.1V817.0ZM557.1 817.0V795.7H586.4V817.0ZM586.4 817.0V798.6H592.1V817.0ZM592.1 817.0V795.7H597.9V817.0ZM597.9 817.0V807.9H603.6V817.0ZM603.6 817.0V802.9H609.3V817.0ZM609.3 817.0V807.9H615.0V817.0ZM615.0 817.0V811.9H620.7V817.0ZM620.7 817.0V807.9H632.1V817.0ZM632.1 817.0V805.3H637.9V817.0ZM637.9 817.0V801.4H643.6V817.0ZM643.6 817.0V813.6H649.3V817.0ZM649.3 817.0V811.9H655.0V817.0ZM655.0 817.0V807.9H677.9V817.0ZM677.9 817.0V811.9H680.0V817.0ZM680.0 817.0V812.1H695.7V817.0ZM695.7 817.0V805.7H707.1V817.0ZM707.1 817.0V809.3H712.9V817.0ZM712.9 817.0V807.9H718.6V817.0ZM718.6 817.0V813.6H730.7V817.0ZM730.7 817.0V811.9H736.4V817.0ZM736.4 817.0V815.7H742.1V817.0ZM742.1 817.0V813.6H747.9V817.0ZM747.9 817.0V816.1H760.0V817.0ZM760.0 817.0V815.0H765.7V817.0ZM765.7 817.0V813.3H771.4V817.0ZM782.9 817.0V813.3H788.6V817.0ZM788.6 817.0V815.0H794.3V817.0ZM794.3 817.0V813.3H800.0V817.0ZM805.7 817.0V813.3H811.4V817.0ZM811.4 817.0V808.1H817.1V817.0ZM817.1 817.0V813.6H822.9V817.0ZM822.9 817.0V815.0H834.3V817.0ZM834.3 817.0V811.9H840.7V817.0ZM840.7 817.0V809.3H846.4V817.0ZM846.4 817.0V811.9H852.1V817.0ZM852.1 817.0V815.0H870.0V817.0ZM870.0 817.0V813.3H875.7V817.0ZM875.7 817.0V815.0H881.4V817.0ZM881.4 817.0V813.3H887.1V817.0ZM887.1 817.0V815.0H898.6V817.0ZM904.3 817.0V811.9H910.0V817.0ZM910.0 817.0V813.6H915.7V817.0ZM915.7 817.0V816.1H921.4V817.0ZM927.1 817.0V809.0H932.9V817.0ZM932.9 817.0V816.1H938.6V817.0ZM944.3 817.0V816.1H950.0V817.0ZM955.7 817.0V816.1H967.0V817.0ZM967.0 817.0V815.0H974.0V817.0ZM974.0 817.0V810.0H980.0V817.0ZM1008.0 817.0V816.4H1015.0V817.0ZM1015.0 817.0V815.6H1022.0V817.0ZM1022.0 817.0V815.3H1027.0V817.0Z" fill="#2D4EA2"/>
<rect x="97" y="816.3" width="930" height="1.4" fill="#2D4EA2"/>
<text x="1029.0" y="808.5" font-size="21" fill="#26408E" stroke="#26408E" text-anchor="end">0 - 0.6</text>
<text x="106.0" y="838.0" font-size="22.8" fill="#26408E" stroke="#26408E">H3K27me3 (Neuron)</text>
<path d="M97.0 843.5V842.1H108.0V843.5ZM108.0 843.5V842.9H115.0V843.5ZM136.0 843.5V842.4H143.0V843.5ZM143.0 843.5V842.0H152.0V843.5ZM152.0 843.5V841.4H158.0V843.5ZM158.0 843.5V840.4H158.6V843.5ZM172.6 843.5V842.3H179.6V843.5ZM193.6 843.5V842.8H207.6V843.5ZM207.6 843.5V841.9H214.6V843.5ZM235.6 843.5V842.8H240.0V843.5ZM240.0 843.5V840.4H245.0V843.5ZM245.0 843.5V842.0H259.0V843.5ZM259.0 843.5V842.9H266.0V843.5ZM266.0 843.5V842.9H273.0V843.5ZM364.0 843.5V842.8H375.0V843.5ZM375.0 843.5V841.4H380.7V843.5ZM380.7 843.5V840.4H383.6V843.5ZM383.6 843.5V837.1H389.3V843.5ZM389.3 843.5V835.6H395.7V843.5ZM395.7 843.5V831.4H400.7V843.5ZM400.7 843.5V843.0H407.1V843.5ZM407.1 843.5V837.5H412.9V843.5ZM412.9 843.5V832.4H424.3V843.5ZM424.3 843.5V838.5H430.0V843.5ZM430.0 843.5V841.4H435.7V843.5ZM435.7 843.5V837.5H441.4V843.5ZM441.4 843.5V833.8H447.1V843.5ZM447.1 843.5V843.0H452.9V843.5ZM452.9 843.5V840.6H464.3V843.5ZM464.3 843.5V838.1H470.0V843.5ZM470.0 843.5V841.4H475.7V843.5ZM475.7 843.5V838.5H482.1V843.5ZM482.1 843.5V834.9H487.9V843.5ZM487.9 843.5V839.9H499.3V843.5ZM499.3 843.5V832.1H505.0V843.5ZM505.0 843.5V839.9H510.7V843.5ZM510.7 843.5V832.1H516.4V843.5ZM516.4 843.5V839.5H522.1V843.5ZM522.1 843.5V830.9H527.9V843.5ZM527.9 843.5V826.1H533.6V843.5ZM533.6 843.5V828.1H539.3V843.5ZM539.3 843.5V833.2H545.0V843.5ZM545.0 843.5V834.9H551.4V843.5ZM551.4 843.5V828.9H557.1V843.5ZM557.1 843.5V832.8H562.9V843.5ZM562.9 843.5V831.4H574.3V843.5ZM574.3 843.5V823.5H580.0V843.5ZM580.0 843.5V834.2H585.7V843.5ZM585.7 843.5V828.9H591.4V843.5ZM591.4 843.5V827.8H597.9V843.5ZM597.9 843.5V829.9H603.6V843.5ZM603.6 843.5V828.9H609.3V843.5ZM609.3 843.5V831.4H615.0V843.5ZM615.0 843.5V841.4H620.7V843.5ZM620.7 843.5V836.1H626.4V843.5ZM626.4 843.5V841.4H632.1V843.5ZM632.1 843.5V837.5H637.9V843.5ZM637.9 843.5V832.4H643.6V843.5ZM643.6 843.5V838.5H649.3V843.5ZM649.3 843.5V836.4H655.0V843.5ZM655.0 843.5V835.2H660.7V843.5ZM660.7 843.5V834.2H666.4V843.5ZM666.4 843.5V836.4H672.1V843.5ZM672.1 843.5V839.9H677.9V843.5ZM677.9 843.5V837.1H683.6V843.5ZM683.6 843.5V834.9H690.0V843.5ZM690.0 843.5V834.9H695.7V843.5ZM695.7 843.5V836.1H701.4V843.5ZM701.4 843.5V834.6H707.1V843.5ZM707.1 843.5V837.1H712.9V843.5ZM712.9 843.5V840.6H718.6V843.5ZM718.6 843.5V843.0H724.3V843.5ZM724.3 843.5V842.4H737.0V843.5ZM737.0 843.5V841.8H754.3V843.5ZM771.4 843.5V840.6H777.1V843.5ZM783.0 843.5V842.5H788.6V843.5ZM800.0 843.5V837.5H805.7V843.5ZM811.4 843.5V842.5H822.9V843.5ZM822.9 843.5V840.6H835.0V843.5ZM835.0 843.5V837.5H840.7V843.5ZM840.7 843.5V841.4H863.6V843.5ZM875.7 843.5V840.6H881.4V843.5ZM887.1 843.5V840.6H898.6V843.5ZM904.3 843.5V842.5H910.0V843.5ZM915.7 843.5V842.5H927.1V843.5ZM927.1 843.5V838.5H932.9V843.5ZM932.9 843.5V842.5H945.7V843.5ZM945.7 843.5V840.9H957.0V843.5ZM957.0 843.5V839.9H967.0V843.5ZM967.0 843.5V842.5H974.0V843.5ZM974.0 843.5V839.9H980.0V843.5ZM987.0 843.5V842.6H994.0V843.5Z" fill="#2D4EA2"/>
<rect x="97" y="842.8" width="930" height="1.4" fill="#2D4EA2"/>
<text x="1029.0" y="835.4" font-size="21" fill="#26408E" stroke="#26408E" text-anchor="end">0 - 0.6</text>
<rect x="89.2" y="871" width="3.6" height="70.39999999999998" fill="#000"/>
<text transform="translate(46.6,906.5) rotate(-90)" font-size="24.5" text-anchor="middle" stroke="#000">adult</text>
<text transform="translate(73.6,906.6) rotate(-90)" font-size="24.5" text-anchor="middle" stroke="#000">cortex</text>
<text x="106.0" y="883.0" font-size="22.8" fill="#E6823A" stroke="#E6823A">H3K4me3</text>
<path d="M97.0 889.0V888.3H111.0V889.0ZM111.0 889.0V888.3H125.0V889.0ZM125.0 889.0V888.0H132.0V889.0ZM132.0 889.0V888.2H139.0V889.0ZM160.0 889.0V888.2H167.0V889.0ZM167.0 889.0V887.9H188.0V889.0ZM188.0 889.0V888.3H195.0V889.0ZM195.0 889.0V888.1H209.0V889.0ZM209.0 889.0V887.5H216.0V889.0ZM216.0 889.0V888.0H223.0V889.0ZM223.0 889.0V888.0H244.0V889.0ZM244.0 889.0V888.4H258.0V889.0ZM258.0 889.0V887.6H265.0V889.0ZM272.0 889.0V888.4H285.7V889.0ZM285.7 889.0V886.1H290.7V889.0ZM290.7 889.0V888.1H297.7V889.0ZM297.7 889.0V888.0H311.7V889.0ZM331.4 889.0V884.3H337.9V889.0ZM337.9 889.0V881.4H343.6V889.0ZM343.6 889.0V876.7H349.3V889.0ZM349.3 889.0V883.3H355.0V889.0ZM355.0 889.0V888.1H366.4V889.0ZM366.4 889.0V887.1H372.1V889.0ZM372.1 889.0V885.0H377.9V889.0ZM377.9 889.0V888.5H383.6V889.0ZM383.6 889.0V884.3H395.0V889.0ZM395.0 889.0V884.3H400.7V889.0ZM400.7 889.0V888.5H407.1V889.0ZM407.1 889.0V886.1H412.1V889.0ZM412.1 889.0V888.5H418.6V889.0ZM418.6 889.0V886.1H424.3V889.0ZM445.3 889.0V888.3H459.3V889.0ZM465.0 889.0V886.1H470.7V889.0ZM484.7 889.0V888.1H498.6V889.0ZM498.6 889.0V887.1H504.3V889.0ZM504.3 889.0V888.3H511.0V889.0ZM511.0 889.0V887.6H527.9V889.0ZM534.9 889.0V888.3H548.9V889.0ZM548.9 889.0V887.4H568.6V889.0ZM568.6 889.0V887.6H575.0V889.0ZM589.0 889.0V888.3H597.0V889.0ZM597.0 889.0V886.1H603.6V889.0ZM603.6 889.0V887.6H621.0V889.0ZM621.0 889.0V887.9H633.0V889.0ZM633.0 889.0V887.1H650.0V889.0ZM671.0 889.0V887.9H680.0V889.0ZM680.0 889.0V886.7H707.9V889.0ZM707.9 889.0V885.0H713.6V889.0ZM713.6 889.0V887.6H737.1V889.0ZM737.1 889.0V885.0H742.1V889.0ZM742.1 889.0V881.4H747.9V889.0ZM747.9 889.0V888.5H753.6V889.0ZM753.6 889.0V881.4H759.3V889.0ZM759.3 889.0V874.7H771.4V889.0ZM771.4 889.0V867.1H782.9V889.0ZM782.9 889.0V887.6H788.6V889.0ZM788.6 889.0V888.5H794.3V889.0ZM794.3 889.0V885.0H800.0V889.0ZM800.0 889.0V877.6H805.7V889.0ZM805.7 889.0V885.0H811.4V889.0ZM811.4 889.0V888.5H817.1V889.0ZM817.1 889.0V881.4H822.9V889.0ZM822.9 889.0V877.9H834.3V889.0ZM834.3 889.0V883.3H840.0V889.0ZM840.0 889.0V884.7H845.7V889.0ZM845.7 889.0V886.7H858.6V889.0ZM858.6 889.0V885.3H864.3V889.0ZM864.3 889.0V882.9H870.0V889.0ZM870.0 889.0V880.4H881.4V889.0ZM881.4 889.0V887.1H887.1V889.0ZM887.1 889.0V881.0H892.9V889.0ZM892.9 889.0V887.5H898.6V889.0ZM898.6 889.0V883.9H910.0V889.0ZM910.0 889.0V887.6H921.4V889.0ZM921.4 889.0V888.0H928.4V889.0ZM942.4 889.0V888.4H956.4V889.0ZM956.4 889.0V887.8H977.4V889.0ZM977.4 889.0V888.4H984.4V889.0ZM984.4 889.0V888.4H998.4V889.0ZM1005.4 889.0V888.2H1026.4V889.0ZM1026.4 889.0V888.2H1027.0V889.0Z" fill="#F5A21E"/>
<rect x="97" y="888.3" width="930" height="1.4" fill="#F5A21E"/>
<text x="1029.0" y="880.5" font-size="21" fill="#E6823A" stroke="#E6823A" text-anchor="end">0 - 0.6</text>
<text x="106.0" y="909.6" font-size="22.8" fill="#DA2830" stroke="#DA2830">H3K27ac</text>
<path d="M97.0 915.0V914.3H118.0V915.0ZM118.0 915.0V914.0H125.0V915.0ZM125.0 915.0V913.8H139.0V915.0ZM139.0 915.0V913.8H153.0V915.0ZM181.0 915.0V913.9H188.0V915.0ZM188.0 915.0V914.0H209.0V915.0ZM216.0 915.0V914.1H237.0V915.0ZM237.0 915.0V914.4H251.0V915.0ZM265.0 915.0V914.1H279.0V915.0ZM279.0 915.0V914.2H286.0V915.0ZM286.0 915.0V913.6H307.0V915.0ZM307.0 915.0V914.3H321.0V915.0ZM326.4 915.0V912.1H337.9V915.0ZM337.9 915.0V911.4H343.6V915.0ZM343.6 915.0V910.0H349.3V915.0ZM349.3 915.0V911.4H355.0V915.0ZM355.0 915.0V913.3H360.7V915.0ZM360.7 915.0V910.0H366.4V915.0ZM366.4 915.0V912.1H372.1V915.0ZM372.1 915.0V907.1H377.9V915.0ZM377.9 915.0V908.6H383.6V915.0ZM383.6 915.0V905.7H389.3V915.0ZM389.3 915.0V907.1H395.0V915.0ZM395.0 915.0V907.1H400.7V915.0ZM400.7 915.0V911.9H407.1V915.0ZM407.1 915.0V908.6H412.1V915.0ZM412.1 915.0V912.4H424.3V915.0ZM424.3 915.0V913.6H430.0V915.0ZM430.0 915.0V914.4H451.0V915.0ZM451.0 915.0V914.2H465.0V915.0ZM465.0 915.0V914.4H479.0V915.0ZM479.0 915.0V913.8H493.0V915.0ZM493.0 915.0V914.4H507.0V915.0ZM507.0 915.0V913.7H528.0V915.0ZM528.0 915.0V913.7H535.0V915.0ZM570.0 915.0V914.4H577.0V915.0ZM605.0 915.0V914.2H612.0V915.0ZM612.0 915.0V914.4H626.0V915.0ZM626.0 915.0V913.8H640.0V915.0ZM661.0 915.0V913.6H668.0V915.0ZM680.0 915.0V914.3H695.7V915.0ZM695.7 915.0V913.3H701.4V915.0ZM701.4 915.0V910.0H707.1V915.0ZM707.1 915.0V914.4H712.9V915.0ZM712.9 915.0V911.9H718.6V915.0ZM718.6 915.0V910.0H724.3V915.0ZM724.3 915.0V914.4H736.4V915.0ZM736.4 915.0V908.6H742.1V915.0ZM742.1 915.0V911.0H760.0V915.0ZM760.0 915.0V903.6H771.4V915.0ZM771.4 915.0V896.1H777.1V915.0ZM777.1 915.0V897.6H782.9V915.0ZM782.9 915.0V914.3H794.3V915.0ZM794.3 915.0V908.1H800.0V915.0ZM800.0 915.0V907.1H805.7V915.0ZM805.7 915.0V908.6H811.4V915.0ZM811.4 915.0V910.4H817.1V915.0ZM817.1 915.0V912.1H822.9V915.0ZM822.9 915.0V909.0H828.6V915.0ZM828.6 915.0V912.1H834.3V915.0ZM834.3 915.0V910.0H840.0V915.0ZM840.0 915.0V912.1H845.7V915.0ZM845.7 915.0V910.7H857.9V915.0ZM857.9 915.0V914.5H863.6V915.0ZM863.6 915.0V911.9H869.3V915.0ZM869.3 915.0V908.1H875.0V915.0ZM875.0 915.0V901.0H880.7V915.0ZM880.7 915.0V912.9H886.4V915.0ZM886.4 915.0V902.1H892.9V915.0ZM892.9 915.0V912.1H898.6V915.0ZM898.6 915.0V898.6H904.3V915.0ZM904.3 915.0V909.6H910.0V915.0ZM910.0 915.0V912.1H921.4V915.0ZM921.4 915.0V914.4H928.4V915.0ZM928.4 915.0V913.7H935.4V915.0ZM949.4 915.0V914.4H963.4V915.0ZM963.4 915.0V914.2H984.4V915.0ZM984.4 915.0V914.3H1005.4V915.0ZM1005.4 915.0V914.1H1012.4V915.0ZM1012.4 915.0V914.4H1026.4V915.0ZM1026.4 915.0V913.9H1027.0V915.0Z" fill="#E4222B"/>
<rect x="97" y="914.3" width="930" height="1.4" fill="#E4222B"/>
<text x="1029.0" y="907.9" font-size="21" fill="#DA2830" stroke="#DA2830" text-anchor="end">0 - 1.2</text>
<text x="106.0" y="936.4" font-size="22.8" fill="#26408E" stroke="#26408E">H3K27me3</text>
<path d="M104.0 942.0V941.3H125.0V942.0ZM160.0 942.0V941.0H167.0V942.0ZM167.0 942.0V941.0H181.0V942.0ZM188.0 942.0V941.1H202.0V942.0ZM209.0 942.0V941.3H230.0V942.0ZM251.0 942.0V940.7H265.0V942.0ZM279.0 942.0V940.9H286.0V942.0ZM377.0 942.0V941.3H384.0V942.0ZM391.0 942.0V941.3H412.0V942.0ZM454.0 942.0V940.9H461.0V942.0ZM461.0 942.0V941.2H468.0V942.0ZM482.0 942.0V941.4H489.0V942.0ZM489.0 942.0V941.1H496.0V942.0ZM496.0 942.0V941.3H503.0V942.0ZM503.0 942.0V940.6H517.0V942.0ZM531.0 942.0V940.9H545.0V942.0ZM552.0 942.0V941.2H566.0V942.0ZM566.0 942.0V941.4H573.0V942.0ZM573.0 942.0V941.1H594.0V942.0ZM608.0 942.0V941.4H615.0V942.0ZM615.0 942.0V941.4H622.0V942.0ZM643.0 942.0V941.2H650.0V942.0ZM650.0 942.0V940.9H664.0V942.0ZM671.0 942.0V941.4H678.0V942.0ZM699.0 942.0V941.1H713.0V942.0ZM762.0 942.0V940.9H776.0V942.0ZM797.0 942.0V941.0H811.0V942.0ZM811.0 942.0V940.9H825.0V942.0ZM832.0 942.0V941.1H846.0V942.0ZM846.0 942.0V941.2H860.0V942.0ZM860.0 942.0V941.3H874.0V942.0ZM874.0 942.0V941.2H881.0V942.0ZM958.0 942.0V941.4H972.0V942.0ZM979.0 942.0V941.1H993.0V942.0Z" fill="#2D4EA2"/>
<rect x="97" y="941.3" width="930" height="1.4" fill="#2D4EA2"/>
<text x="1029.0" y="934.0" font-size="21" fill="#26408E" stroke="#26408E" text-anchor="end">0 - 1.0</text>
<rect x="89.2" y="966" width="3.6" height="82.40000000000009" fill="#000"/>
<text transform="translate(20,1005) rotate(-90)" font-size="24.5" text-anchor="middle" stroke="#000">cortex</text>
<text transform="translate(46.6,1004.3) rotate(-90)" font-size="24.5" text-anchor="middle" stroke="#000">culture</text>
<text transform="translate(73.5,1004.5) rotate(-90)" font-size="24.5" text-anchor="middle" stroke="#000">(7 day)</text>
<text x="106.0" y="980.4" font-size="22.8" fill="#E6823A" stroke="#E6823A">H3K4me3</text>
<path d="M97.0 987.0V986.2H111.0V987.0ZM111.0 987.0V986.4H118.0V987.0ZM118.0 987.0V986.4H132.0V987.0ZM132.0 987.0V985.9H139.0V987.0ZM139.0 987.0V986.2H146.0V987.0ZM146.0 987.0V986.2H153.0V987.0ZM153.0 987.0V986.4H160.0V987.0ZM160.0 987.0V986.0H174.0V987.0ZM174.0 987.0V985.9H181.0V987.0ZM181.0 987.0V985.9H188.0V987.0ZM188.0 987.0V986.3H195.0V987.0ZM223.0 987.0V986.3H230.0V987.0ZM265.0 987.0V986.3H272.0V987.0ZM272.0 987.0V986.4H286.0V987.0ZM300.0 987.0V985.9H321.0V987.0ZM321.0 987.0V986.4H332.1V987.0ZM332.1 987.0V968.6H337.9V987.0ZM337.9 987.0V981.4H343.6V987.0ZM343.6 987.0V971.0H349.3V987.0ZM349.3 987.0V972.1H355.0V987.0ZM355.0 987.0V965.3H360.7V987.0ZM360.7 987.0V975.7H366.4V987.0ZM366.4 987.0V978.6H372.1V987.0ZM372.1 987.0V972.4H377.9V987.0ZM377.9 987.0V978.6H383.6V987.0ZM383.6 987.0V965.3H389.3V987.0ZM389.3 987.0V975.7H395.7V987.0ZM395.7 987.0V985.7H401.4V987.0ZM401.4 987.0V984.3H407.1V987.0ZM407.1 987.0V973.9H412.9V987.0ZM412.9 987.0V985.0H417.9V987.0ZM417.9 987.0V982.1H424.3V987.0ZM424.3 987.0V986.0H430.0V987.0ZM430.0 987.0V981.9H441.4V987.0ZM441.4 987.0V986.5H453.0V987.0ZM453.0 987.0V984.7H464.0V987.0ZM464.0 987.0V986.5H471.0V987.0ZM471.0 987.0V985.3H477.0V987.0ZM477.0 987.0V986.5H493.6V987.0ZM493.6 987.0V985.0H498.6V987.0ZM498.6 987.0V986.5H534.0V987.0ZM534.0 987.0V985.0H545.0V987.0ZM545.0 987.0V986.5H551.0V987.0ZM551.0 987.0V985.0H557.0V987.0ZM557.0 987.0V986.5H568.6V987.0ZM568.6 987.0V982.4H575.0V987.0ZM575.0 987.0V986.5H592.0V987.0ZM592.0 987.0V986.1H609.0V987.0ZM609.0 987.0V986.5H615.0V987.0ZM615.0 987.0V980.4H620.7V987.0ZM620.7 987.0V986.5H649.0V987.0ZM649.0 987.0V985.3H656.0V987.0ZM656.0 987.0V986.5H684.3V987.0ZM684.3 987.0V985.0H695.7V987.0ZM695.7 987.0V986.5H724.0V987.0ZM724.0 987.0V985.3H731.0V987.0ZM731.0 987.0V986.5H736.4V987.0ZM736.4 987.0V982.9H742.1V987.0ZM742.1 987.0V981.0H747.9V987.0ZM747.9 987.0V986.5H753.6V987.0ZM753.6 987.0V980.4H759.3V987.0ZM759.3 987.0V981.4H765.7V987.0ZM765.7 987.0V971.9H771.4V987.0ZM771.4 987.0V965.3H782.9V987.0ZM782.9 987.0V986.5H788.6V987.0ZM788.6 987.0V984.3H794.3V987.0ZM794.3 987.0V980.7H805.7V987.0ZM805.7 987.0V972.4H812.1V987.0ZM812.1 987.0V975.7H817.9V987.0ZM817.9 987.0V985.0H822.9V987.0ZM822.9 987.0V986.5H829.0V987.0ZM829.0 987.0V983.3H835.0V987.0ZM835.0 987.0V985.0H840.7V987.0ZM840.7 987.0V982.4H846.4V987.0ZM846.4 987.0V981.9H852.1V987.0ZM852.1 987.0V982.9H863.6V987.0ZM863.6 987.0V976.4H870.0V987.0ZM870.0 987.0V978.6H875.0V987.0ZM875.0 987.0V974.7H881.4V987.0ZM881.4 987.0V986.5H892.9V987.0ZM892.9 987.0V982.1H898.6V987.0ZM898.6 987.0V986.5H910.0V987.0ZM910.0 987.0V984.3H915.7V987.0ZM915.7 987.0V985.9H936.7V987.0ZM936.7 987.0V986.2H950.7V987.0ZM950.7 987.0V986.4H957.7V987.0ZM978.7 987.0V986.4H999.7V987.0ZM999.7 987.0V985.8H1013.7V987.0Z" fill="#F5A21E"/>
<rect x="97" y="986.3" width="930" height="1.4" fill="#F5A21E"/>
<text x="1029.0" y="979.1" font-size="21" fill="#E6823A" stroke="#E6823A" text-anchor="end">0 - 1.2</text>
<text x="106.0" y="1007.5" font-size="22.8" fill="#DA2830" stroke="#DA2830">H3K27ac</text>
<path d="M97.0 1013.0V1012.1H111.0V1013.0ZM111.0 1013.0V1012.1H132.0V1013.0ZM139.0 1013.0V1012.4H146.0V1013.0ZM153.0 1013.0V1011.8H160.0V1013.0ZM160.0 1013.0V1011.6H181.0V1013.0ZM202.0 1013.0V1011.7H216.0V1013.0ZM216.0 1013.0V1012.3H223.0V1013.0ZM223.0 1013.0V1011.6H230.0V1013.0ZM244.0 1013.0V1012.3H265.0V1013.0ZM265.0 1013.0V1011.6H272.0V1013.0ZM272.0 1013.0V1011.7H279.0V1013.0ZM286.0 1013.0V1012.0H293.0V1013.0ZM293.0 1013.0V1012.2H302.9V1013.0ZM302.9 1013.0V1010.0H308.6V1013.0ZM308.6 1013.0V1012.0H314.3V1013.0ZM314.3 1013.0V1008.6H320.0V1013.0ZM320.0 1013.0V1010.0H325.7V1013.0ZM325.7 1013.0V1007.1H331.4V1013.0ZM331.4 1013.0V1009.6H337.1V1013.0ZM337.1 1013.0V992.4H342.9V1013.0ZM342.9 1013.0V1002.4H348.6V1013.0ZM348.6 1013.0V1005.0H354.3V1013.0ZM354.3 1013.0V1002.4H360.7V1013.0ZM360.7 1013.0V1012.1H366.4V1013.0ZM372.1 1013.0V1006.7H377.9V1013.0ZM377.9 1013.0V1010.0H383.6V1013.0ZM383.6 1013.0V1007.1H389.3V1013.0ZM389.3 1013.0V1012.0H395.0V1013.0ZM395.0 1013.0V1010.0H400.7V1013.0ZM400.7 1013.0V1012.0H418.0V1013.0ZM418.0 1013.0V1011.9H424.0V1013.0ZM438.0 1013.0V1012.4H445.0V1013.0ZM459.0 1013.0V1012.4H466.0V1013.0ZM466.0 1013.0V1011.9H480.0V1013.0ZM516.4 1013.0V1010.0H534.3V1013.0ZM534.3 1013.0V1012.2H555.3V1013.0ZM555.3 1013.0V1012.2H562.3V1013.0ZM562.3 1013.0V1012.0H583.3V1013.0ZM590.3 1013.0V1012.4H597.3V1013.0ZM646.3 1013.0V1012.4H660.3V1013.0ZM660.3 1013.0V1011.8H674.3V1013.0ZM680.0 1013.0V1012.4H693.0V1013.0ZM701.0 1013.0V1012.1H719.0V1013.0ZM719.0 1013.0V1011.9H742.0V1013.0ZM753.6 1013.0V1006.7H760.0V1013.0ZM760.0 1013.0V1005.0H765.7V1013.0ZM765.7 1013.0V1001.4H771.4V1013.0ZM771.4 1013.0V1004.3H777.1V1013.0ZM777.1 1013.0V1005.3H782.9V1013.0ZM782.9 1013.0V1008.1H788.6V1013.0ZM788.6 1013.0V1011.9H800.0V1013.0ZM800.0 1013.0V1010.0H811.4V1013.0ZM811.4 1013.0V1011.9H817.0V1013.0ZM823.6 1013.0V1010.7H829.3V1013.0ZM846.4 1013.0V1011.9H870.0V1013.0ZM870.0 1013.0V1010.0H875.7V1013.0ZM875.7 1013.0V1011.9H881.4V1013.0ZM881.4 1013.0V1009.0H887.1V1013.0ZM887.1 1013.0V1010.7H898.6V1013.0ZM898.6 1013.0V1006.7H904.3V1013.0ZM904.3 1013.0V1009.3H910.0V1013.0ZM910.0 1013.0V1012.1H932.0V1013.0ZM938.6 1013.0V1011.9H944.0V1013.0ZM944.0 1013.0V1012.3H951.0V1013.0ZM958.0 1013.0V1011.6H965.0V1013.0ZM965.0 1013.0V1011.7H979.0V1013.0ZM986.0 1013.0V1012.3H1007.0V1013.0ZM1007.0 1013.0V1011.8H1027.0V1013.0Z" fill="#E4222B"/>
<rect x="97" y="1012.3" width="930" height="1.4" fill="#E4222B"/>
<text x="1029.0" y="1005.3" font-size="21" fill="#DA2830" stroke="#DA2830" text-anchor="end">0 - 0.6</text>
<text x="106.0" y="1033.8" font-size="22.8" fill="#26408E" stroke="#26408E">H3K27me3</text>
<path d="M118.0 1040.4V1039.8H132.0V1040.4ZM132.0 1040.4V1039.8H139.0V1040.4ZM139.0 1040.4V1039.8H153.0V1040.4ZM160.0 1040.4V1039.0H167.0V1040.4ZM167.0 1040.4V1039.7H181.0V1040.4ZM181.0 1040.4V1039.2H193.6V1040.4ZM193.6 1040.4V1037.8H198.6V1040.4ZM198.6 1040.4V1039.7H212.6V1040.4ZM212.6 1040.4V1039.0H219.6V1040.4ZM254.6 1040.4V1039.2H261.6V1040.4ZM289.6 1040.4V1039.8H296.6V1040.4ZM303.6 1040.4V1039.8H310.6V1040.4ZM324.6 1040.4V1039.5H338.6V1040.4ZM359.6 1040.4V1039.3H366.6V1040.4ZM373.6 1040.4V1039.6H380.6V1040.4ZM380.6 1040.4V1039.7H394.6V1040.4ZM394.6 1040.4V1039.8H401.4V1040.4ZM401.4 1040.4V1038.1H424.3V1040.4ZM424.3 1040.4V1039.9H430.0V1040.4ZM430.0 1040.4V1039.0H436.0V1040.4ZM447.1 1040.4V1036.1H470.7V1040.4ZM470.7 1040.4V1038.5H488.0V1040.4ZM488.0 1040.4V1039.9H498.6V1040.4ZM498.6 1040.4V1037.1H504.3V1040.4ZM504.3 1040.4V1039.9H510.0V1040.4ZM510.0 1040.4V1039.0H522.1V1040.4ZM522.1 1040.4V1032.1H527.9V1040.4ZM527.9 1040.4V1037.1H534.3V1040.4ZM534.3 1040.4V1039.9H545.7V1040.4ZM545.7 1040.4V1034.3H568.6V1040.4ZM568.6 1040.4V1032.8H575.0V1040.4ZM575.0 1040.4V1038.5H585.7V1040.4ZM585.7 1040.4V1035.0H592.1V1040.4ZM592.1 1040.4V1031.8H597.9V1040.4ZM597.9 1040.4V1036.4H603.6V1040.4ZM603.6 1040.4V1028.5H609.3V1040.4ZM609.3 1040.4V1036.4H615.0V1040.4ZM615.0 1040.4V1029.3H620.7V1040.4ZM620.7 1040.4V1039.0H626.4V1040.4ZM626.4 1040.4V1034.7H632.1V1040.4ZM632.1 1040.4V1033.3H649.3V1040.4ZM649.3 1040.4V1039.0H655.0V1040.4ZM655.0 1040.4V1035.7H660.7V1040.4ZM660.7 1040.4V1037.8H672.1V1040.4ZM672.1 1040.4V1037.1H677.9V1040.4ZM677.9 1040.4V1039.9H684.3V1040.4ZM684.3 1040.4V1036.4H695.7V1040.4ZM695.7 1040.4V1038.5H701.4V1040.4ZM701.4 1040.4V1039.9H707.1V1040.4ZM707.1 1040.4V1037.1H713.6V1040.4ZM713.6 1040.4V1039.3H736.4V1040.4ZM736.4 1040.4V1037.1H742.1V1040.4ZM742.1 1040.4V1039.8H749.1V1040.4ZM749.1 1040.4V1039.2H756.1V1040.4ZM756.1 1040.4V1039.5H763.1V1040.4ZM784.1 1040.4V1039.6H791.1V1040.4ZM791.1 1040.4V1039.1H798.1V1040.4ZM798.1 1040.4V1039.8H812.1V1040.4ZM833.1 1040.4V1039.1H847.1V1040.4ZM896.1 1040.4V1039.2H904.0V1040.4ZM904.0 1040.4V1038.5H910.0V1040.4ZM910.0 1040.4V1039.7H917.0V1040.4ZM924.0 1040.4V1039.8H927.0V1040.4ZM927.0 1040.4V1038.9H932.0V1040.4ZM939.0 1040.4V1039.4H956.4V1040.4ZM956.4 1040.4V1037.5H967.1V1040.4ZM967.1 1040.4V1039.4H981.1V1040.4ZM995.1 1040.4V1039.1H1002.1V1040.4ZM1002.1 1040.4V1039.7H1009.1V1040.4Z" fill="#2D4EA2"/>
<rect x="97" y="1039.7" width="930" height="1.4" fill="#2D4EA2"/>
<text x="1029.0" y="1033.3" font-size="21" fill="#26408E" stroke="#26408E" text-anchor="end">0 - 0.8</text>
<rect x="780.6" y="644.3" width="154.39999999999998" height="416.70000000000005" fill="rgba(232,60,62,0.21)"/>
<rect x="496.5" y="644.3" width="246.29999999999995" height="416.70000000000005" fill="rgba(38,62,150,0.205)"/>
<rect x="441" y="1045.0" width="425.4" height="1.4" fill="#2B3A7A"/>
<rect x="441" y="1044.5" width="124" height="2.4" fill="#2B3A7A"/>
<rect x="565" y="1043.7" width="27.100000000000023" height="4" fill="#2B3A7A"/>
<rect x="664.3" y="1043.95" width="6.400000000000091" height="3.5" fill="#2B3A7A"/>
<rect x="697.1" y="1043.95" width="18.600000000000023" height="3.5" fill="#2B3A7A"/>
<rect x="823.6" y="1043.95" width="7.7999999999999545" height="3.5" fill="#2B3A7A"/>
<rect x="831.4" y="1044.5" width="35.0" height="2.4" fill="#2B3A7A"/>
<text x="873.0" y="1067.5" font-size="27.8" fill="#000" stroke="#000" font-style="italic">Fosb</text>
<text x="1180" y="601.4" font-size="28.7" font-weight="bold" stroke="#000"><tspan font-style="italic">Nr4a3</tspan> (IEG, bipartite)</text>
<text x="1706.0" y="593.6" font-size="21" fill="#000" stroke="#000" text-anchor="end">20 kb</text>
<rect x="1708" y="589.8" width="298.5" height="3" fill="#000"/>
<text x="2011.0" y="593.6" font-size="21" fill="#000" stroke="#000">mm10 chr4</text>
<text x="1194.0" y="630.5" font-size="21.6" fill="#000" stroke="#000">48,030,000</text>
<text x="1419.6" y="630.5" font-size="21.6" fill="#000" stroke="#000">48,045,000</text>
<text x="1644.0" y="630.5" font-size="21.6" fill="#000" stroke="#000">48,060,000</text>
<text x="1869.0" y="630.5" font-size="21.6" fill="#000" stroke="#000">48,075,000</text>
<rect x="1167.8" y="648.6" width="3.6" height="103.0" fill="#000"/>
<text transform="translate(1124,692.7) rotate(-90)" font-size="24.5" text-anchor="middle" stroke="#000">E14.5</text>
<text transform="translate(1151,692.8) rotate(-90)" font-size="24.5" text-anchor="middle" stroke="#000">barrelette</text>
<text x="1183.7" y="662.6" font-size="22.8" fill="#6E4798" stroke="#6E4798">ATAC</text>
<path d="M1177.4 667.6V667.2H1179.0V667.6ZM1180.6 667.6V666.9H1182.2V667.6ZM1182.2 667.6V667.1H1183.8V667.6ZM1183.8 667.6V667.2H1185.4V667.6ZM1185.4 667.6V667.2H1187.0V667.6ZM1187.0 667.6V667.2H1188.6V667.6ZM1190.2 667.6V667.2H1191.8V667.6ZM1193.4 667.6V666.9H1195.0V667.6ZM1195.0 667.6V667.0H1196.6V667.6ZM1196.6 667.6V667.1H1198.2V667.6ZM1199.8 667.6V667.0H1201.4V667.6ZM1201.4 667.6V666.7H1203.0V667.6ZM1203.0 667.6V667.2H1204.6V667.6ZM1204.6 667.6V667.2H1206.2V667.6ZM1206.2 667.6V667.2H1207.8V667.6ZM1211.0 667.6V666.5H1212.6V667.6ZM1214.2 667.6V667.0H1215.8V667.6ZM1215.8 667.6V666.7H1217.4V667.6ZM1217.4 667.6V667.2H1219.0V667.6ZM1219.0 667.6V666.4H1220.6V667.6ZM1220.6 667.6V667.1H1222.2V667.6ZM1222.2 667.6V666.9H1223.8V667.6ZM1223.8 667.6V666.8H1225.4V667.6ZM1228.6 667.6V667.1H1230.2V667.6ZM1236.6 667.6V666.6H1238.2V667.6ZM1238.2 667.6V666.8H1239.8V667.6ZM1241.4 667.6V666.7H1243.0V667.6ZM1243.0 667.6V667.1H1244.6V667.6ZM1244.6 667.6V666.7H1246.2V667.6ZM1247.8 667.6V667.2H1249.4V667.6ZM1249.4 667.6V667.2H1251.0V667.6ZM1252.6 667.6V666.7H1254.2V667.6ZM1254.2 667.6V667.0H1255.8V667.6ZM1255.8 667.6V666.6H1257.4V667.6ZM1259.0 667.6V667.1H1260.6V667.6ZM1262.2 667.6V667.0H1263.8V667.6ZM1267.0 667.6V666.9H1268.6V667.6ZM1268.6 667.6V667.0H1270.2V667.6ZM1270.2 667.6V667.2H1271.8V667.6ZM1271.8 667.6V666.5H1273.4V667.6ZM1275.0 667.6V667.0H1276.6V667.6ZM1276.6 667.6V667.2H1278.2V667.6ZM1278.2 667.6V666.6H1279.8V667.6ZM1281.4 667.6V666.7H1283.0V667.6ZM1283.0 667.6V666.7H1284.6V667.6ZM1284.6 667.6V666.6H1286.2V667.6ZM1286.2 667.6V666.6H1287.8V667.6ZM1292.6 667.6V666.7H1294.2V667.6ZM1294.2 667.6V666.7H1295.8V667.6ZM1297.4 667.6V667.2H1299.0V667.6ZM1299.0 667.6V666.6H1300.6V667.6ZM1303.8 667.6V667.0H1305.4V667.6ZM1307.0 667.6V666.6H1308.6V667.6ZM1310.2 667.6V667.2H1311.8V667.6ZM1313.4 667.6V666.8H1315.0V667.6ZM1315.0 667.6V666.8H1316.6V667.6ZM1316.6 667.6V666.9H1318.2V667.6ZM1319.8 667.6V666.9H1321.4V667.6ZM1321.4 667.6V666.9H1323.0V667.6ZM1324.6 667.6V667.2H1326.2V667.6ZM1326.2 667.6V666.7H1327.8V667.6ZM1327.8 667.6V666.8H1329.4V667.6ZM1329.4 667.6V667.1H1331.0V667.6ZM1331.0 667.6V666.6H1332.6V667.6ZM1334.2 667.6V666.9H1335.8V667.6ZM1335.8 667.6V667.2H1337.4V667.6ZM1337.4 667.6V667.1H1339.0V667.6ZM1339.0 667.6V667.2H1340.6V667.6ZM1347.0 667.6V667.2H1348.6V667.6ZM1348.6 667.6V666.7H1350.2V667.6ZM1350.2 667.6V667.1H1351.8V667.6ZM1353.4 667.6V667.0H1355.0V667.6ZM1356.6 667.6V666.7H1358.2V667.6ZM1361.4 667.6V666.8H1363.0V667.6ZM1366.2 667.6V667.2H1367.8V667.6ZM1367.8 667.6V666.8H1369.4V667.6ZM1371.0 667.6V667.2H1372.6V667.6ZM1372.6 667.6V666.7H1374.2V667.6ZM1374.2 667.6V667.0H1375.8V667.6ZM1375.8 667.6V667.0H1377.4V667.6ZM1377.4 667.6V667.2H1379.0V667.6ZM1379.0 667.6V667.1H1380.6V667.6ZM1385.4 667.6V666.7H1387.0V667.6ZM1388.6 667.6V667.2H1390.2V667.6ZM1391.8 667.6V666.9H1393.4V667.6ZM1393.4 667.6V667.2H1395.0V667.6ZM1396.6 667.6V667.2H1398.2V667.6ZM1399.8 667.6V667.1H1400.0V667.6ZM1400.0 667.6V665.5H1401.6V667.6ZM1401.6 667.6V666.8H1403.2V667.6ZM1403.2 667.6V666.3H1404.3V667.6ZM1404.3 667.6V661.2H1405.9V667.6ZM1405.9 667.6V662.8H1407.5V667.6ZM1407.5 667.6V663.3H1408.6V667.6ZM1408.6 667.6V658.0H1410.2V667.6ZM1410.2 667.6V651.6H1411.8V667.6ZM1411.8 667.6V651.6H1413.4V667.6ZM1413.4 667.6V655.0H1414.3V667.6ZM1414.3 667.6V647.7H1415.9V667.6ZM1415.9 667.6V655.1H1417.5V667.6ZM1417.5 667.6V650.4H1419.1V667.6ZM1419.1 667.6V646.5H1419.3V667.6ZM1419.3 667.6V664.8H1420.9V667.6ZM1420.9 667.6V666.5H1422.5V667.6ZM1422.5 667.6V665.3H1423.6V667.6ZM1423.6 667.6V667.3H1425.2V667.6ZM1425.2 667.6V667.3H1426.8V667.6ZM1426.8 667.6V667.1H1428.4V667.6ZM1428.4 667.6V667.3H1428.6V667.6ZM1428.6 667.6V665.1H1430.2V667.6ZM1430.2 667.6V664.7H1431.8V667.6ZM1431.8 667.6V663.6H1433.4V667.6ZM1433.4 667.6V665.6H1434.3V667.6ZM1434.3 667.6V659.4H1435.9V667.6ZM1435.9 667.6V660.3H1437.5V667.6ZM1437.5 667.6V663.1H1439.1V667.6ZM1439.1 667.6V661.2H1439.3V667.6ZM1439.3 667.6V658.0H1440.9V667.6ZM1440.9 667.6V650.8H1442.5V667.6ZM1442.5 667.6V654.2H1442.9V667.6ZM1442.9 667.6V664.2H1444.5V667.6ZM1444.5 667.6V662.0H1446.1V667.6ZM1446.1 667.6V663.2H1447.7V667.6ZM1447.7 667.6V664.0H1449.3V667.6ZM1449.3 667.6V663.4H1450.0V667.6ZM1450.0 667.6V667.1H1451.6V667.6ZM1451.6 667.6V666.6H1453.2V667.6ZM1453.2 667.6V667.0H1454.0V667.6ZM1454.0 667.6V663.8H1455.6V667.6ZM1455.6 667.6V662.6H1456.4V667.6ZM1456.4 667.6V666.6H1458.0V667.6ZM1458.0 667.6V666.0H1459.6V667.6ZM1459.6 667.6V666.1H1461.2V667.6ZM1461.2 667.6V665.6H1462.8V667.6ZM1462.8 667.6V666.0H1464.4V667.6ZM1464.4 667.6V666.3H1466.0V667.6ZM1466.0 667.6V666.1H1467.6V667.6ZM1467.6 667.6V665.4H1469.2V667.6ZM1469.2 667.6V665.9H1470.8V667.6ZM1470.8 667.6V666.6H1472.4V667.6ZM1472.4 667.6V665.5H1474.0V667.6ZM1474.0 667.6V667.0H1475.6V667.6ZM1475.6 667.6V666.8H1477.2V667.6ZM1477.2 667.6V665.5H1478.8V667.6ZM1478.8 667.6V666.0H1480.4V667.6ZM1480.4 667.6V665.5H1482.0V667.6ZM1482.0 667.6V666.0H1483.6V667.6ZM1483.6 667.6V665.9H1485.2V667.6ZM1485.2 667.6V666.0H1485.7V667.6ZM1485.7 667.6V662.1H1487.3V667.6ZM1487.3 667.6V661.9H1488.9V667.6ZM1488.9 667.6V661.1H1490.5V667.6ZM1490.5 667.6V662.6H1491.4V667.6ZM1491.4 667.6V665.5H1493.0V667.6ZM1493.0 667.6V665.2H1494.6V667.6ZM1494.6 667.6V664.8H1496.2V667.6ZM1496.2 667.6V664.4H1497.8V667.6ZM1497.8 667.6V665.6H1499.4V667.6ZM1499.4 667.6V664.9H1501.0V667.6ZM1501.0 667.6V664.8H1501.4V667.6ZM1507.8 667.6V667.2H1509.4V667.6ZM1509.4 667.6V666.8H1511.0V667.6ZM1512.6 667.6V666.8H1514.2V667.6ZM1515.8 667.6V666.8H1517.4V667.6ZM1519.0 667.6V667.0H1520.6V667.6ZM1525.4 667.6V666.8H1527.0V667.6ZM1528.6 667.6V667.1H1530.2V667.6ZM1530.2 667.6V667.2H1531.8V667.6ZM1531.8 667.6V666.7H1533.4V667.6ZM1536.6 667.6V667.1H1538.2V667.6ZM1539.8 667.6V667.2H1541.4V667.6ZM1543.0 667.6V666.9H1544.6V667.6ZM1547.8 667.6V666.6H1549.4V667.6ZM1549.4 667.6V667.1H1551.0V667.6ZM1551.0 667.6V666.4H1552.6V667.6ZM1552.6 667.6V666.4H1554.2V667.6ZM1554.2 667.6V667.1H1555.8V667.6ZM1562.2 667.6V667.1H1563.8V667.6ZM1563.8 667.6V667.1H1565.4V667.6ZM1565.4 667.6V666.5H1567.0V667.6ZM1567.0 667.6V667.2H1568.6V667.6ZM1568.6 667.6V667.2H1570.2V667.6ZM1573.4 667.6V666.4H1575.0V667.6ZM1575.0 667.6V666.7H1576.6V667.6ZM1579.8 667.6V666.7H1581.4V667.6ZM1581.4 667.6V666.6H1583.0V667.6ZM1583.0 667.6V667.0H1584.6V667.6ZM1584.6 667.6V667.1H1586.2V667.6ZM1587.8 667.6V666.5H1589.4V667.6ZM1591.0 667.6V667.2H1592.6V667.6ZM1592.6 667.6V667.0H1594.2V667.6ZM1594.2 667.6V666.6H1595.8V667.6ZM1600.6 667.6V666.4H1602.2V667.6ZM1602.2 667.6V666.9H1603.8V667.6ZM1603.8 667.6V666.5H1605.4V667.6ZM1605.4 667.6V667.0H1607.0V667.6ZM1608.6 667.6V667.2H1610.2V667.6ZM1610.2 667.6V667.0H1611.8V667.6ZM1613.4 667.6V667.1H1615.0V667.6ZM1627.8 667.6V666.9H1629.4V667.6ZM1629.4 667.6V667.2H1631.0V667.6ZM1631.0 667.6V667.2H1632.6V667.6ZM1632.6 667.6V666.8H1634.2V667.6ZM1639.0 667.6V667.2H1640.6V667.6ZM1640.6 667.6V667.0H1642.2V667.6ZM1648.6 667.6V667.2H1650.2V667.6ZM1650.2 667.6V667.2H1651.8V667.6ZM1651.8 667.6V666.5H1653.4V667.6ZM1653.4 667.6V667.0H1655.0V667.6ZM1656.6 667.6V667.1H1658.2V667.6ZM1658.2 667.6V666.7H1659.8V667.6ZM1666.2 667.6V667.2H1667.8V667.6ZM1669.4 667.6V666.5H1671.0V667.6ZM1671.0 667.6V667.2H1672.6V667.6ZM1674.2 667.6V666.6H1675.8V667.6ZM1679.0 667.6V667.1H1680.6V667.6ZM1680.6 667.6V667.0H1682.2V667.6ZM1682.2 667.6V666.4H1683.8V667.6ZM1683.8 667.6V667.2H1685.4V667.6ZM1685.4 667.6V667.2H1687.0V667.6ZM1687.0 667.6V666.7H1688.6V667.6ZM1690.2 667.6V666.3H1691.8V667.6ZM1691.8 667.6V666.9H1693.4V667.6ZM1695.0 667.6V666.5H1696.6V667.6ZM1698.2 667.6V667.1H1699.8V667.6ZM1699.8 667.6V667.0H1701.4V667.6ZM1701.4 667.6V667.0H1703.0V667.6ZM1704.6 667.6V667.0H1706.2V667.6ZM1706.2 667.6V666.4H1707.8V667.6ZM1709.4 667.6V667.0H1711.0V667.6ZM1714.2 667.6V667.2H1715.8V667.6ZM1720.6 667.6V667.2H1722.2V667.6ZM1723.8 667.6V667.2H1725.4V667.6ZM1727.0 667.6V667.1H1728.6V667.6ZM1731.8 667.6V667.0H1733.4V667.6ZM1733.4 667.6V667.2H1735.0V667.6ZM1735.0 667.6V666.8H1736.6V667.6ZM1736.6 667.6V667.1H1738.2V667.6ZM1743.0 667.6V666.7H1744.6V667.6ZM1749.4 667.6V667.0H1751.0V667.6ZM1754.2 667.6V666.6H1755.8V667.6ZM1757.4 667.6V667.0H1759.0V667.6ZM1760.6 667.6V667.1H1762.2V667.6ZM1763.8 667.6V666.5H1765.4V667.6ZM1765.4 667.6V666.7H1767.0V667.6ZM1768.6 667.6V667.0H1770.2V667.6ZM1770.2 667.6V667.2H1771.8V667.6ZM1775.0 667.6V667.0H1776.6V667.6ZM1776.6 667.6V667.1H1778.2V667.6ZM1779.8 667.6V666.8H1781.4V667.6ZM1781.4 667.6V667.0H1783.0V667.6ZM1784.6 667.6V667.1H1786.2V667.6ZM1787.8 667.6V666.2H1789.4V667.6ZM1789.4 667.6V666.6H1791.0V667.6ZM1791.0 667.6V666.9H1792.6V667.6ZM1794.2 667.6V666.6H1795.8V667.6ZM1797.4 667.6V667.0H1799.0V667.6ZM1799.0 667.6V666.3H1800.6V667.6ZM1805.4 667.6V667.2H1807.0V667.6ZM1808.6 667.6V666.7H1810.2V667.6ZM1810.2 667.6V667.2H1811.8V667.6ZM1813.4 667.6V667.0H1815.0V667.6ZM1823.0 667.6V666.8H1824.6V667.6ZM1824.6 667.6V666.9H1826.2V667.6ZM1826.2 667.6V667.2H1827.8V667.6ZM1829.4 667.6V666.4H1831.0V667.6ZM1831.0 667.6V667.1H1832.6V667.6ZM1832.6 667.6V666.9H1834.2V667.6ZM1835.8 667.6V667.0H1837.4V667.6ZM1839.0 667.6V666.8H1840.6V667.6ZM1842.2 667.6V667.1H1843.8V667.6ZM1843.8 667.6V666.7H1845.4V667.6ZM1845.4 667.6V667.2H1847.0V667.6ZM1847.0 667.6V666.4H1848.6V667.6ZM1848.6 667.6V666.6H1850.2V667.6ZM1850.2 667.6V667.2H1851.8V667.6ZM1856.6 667.6V667.0H1858.2V667.6ZM1861.4 667.6V666.6H1863.0V667.6ZM1863.0 667.6V666.7H1864.6V667.6ZM1867.8 667.6V667.0H1869.4V667.6ZM1869.4 667.6V666.8H1871.0V667.6ZM1875.8 667.6V666.5H1877.4V667.6ZM1883.8 667.6V667.2H1885.4V667.6ZM1887.0 667.6V666.9H1888.6V667.6ZM1888.6 667.6V666.9H1890.2V667.6ZM1890.2 667.6V667.2H1891.8V667.6ZM1891.8 667.6V666.8H1893.4V667.6ZM1896.6 667.6V666.9H1898.2V667.6ZM1898.2 667.6V666.7H1899.8V667.6ZM1899.8 667.6V666.6H1901.4V667.6ZM1901.4 667.6V667.1H1903.0V667.6ZM1903.0 667.6V667.0H1904.6V667.6ZM1904.6 667.6V666.5H1906.2V667.6ZM1906.2 667.6V666.9H1907.8V667.6ZM1909.4 667.6V667.1H1911.0V667.6ZM1911.0 667.6V666.9H1912.6V667.6ZM1912.6 667.6V667.2H1914.2V667.6ZM1914.2 667.6V667.0H1915.8V667.6ZM1917.4 667.6V666.5H1919.0V667.6ZM1920.6 667.6V667.1H1922.2V667.6ZM1922.2 667.6V667.1H1923.8V667.6ZM1925.4 667.6V667.2H1927.0V667.6ZM1928.6 667.6V666.7H1930.2V667.6ZM1930.2 667.6V667.2H1931.8V667.6ZM1933.4 667.6V666.9H1935.0V667.6ZM1935.0 667.6V666.6H1936.6V667.6ZM1939.8 667.6V666.9H1941.4V667.6ZM1941.4 667.6V667.2H1943.0V667.6ZM1943.0 667.6V667.2H1944.6V667.6ZM1944.6 667.6V666.4H1946.2V667.6ZM1947.8 667.6V667.2H1949.4V667.6ZM1949.4 667.6V667.1H1951.0V667.6ZM1952.6 667.6V667.2H1954.2V667.6ZM1954.2 667.6V666.7H1955.8V667.6ZM1957.4 667.6V667.1H1959.0V667.6ZM1959.0 667.6V667.2H1960.6V667.6ZM1960.6 667.6V666.9H1962.2V667.6ZM1963.8 667.6V667.2H1965.4V667.6ZM1965.4 667.6V666.7H1967.0V667.6ZM1967.0 667.6V666.9H1968.6V667.6ZM1970.2 667.6V667.1H1971.8V667.6ZM1973.4 667.6V666.9H1975.0V667.6ZM1975.0 667.6V667.2H1976.6V667.6ZM1976.6 667.6V667.0H1978.2V667.6ZM1978.2 667.6V666.7H1979.8V667.6ZM1981.4 667.6V666.6H1983.0V667.6ZM1983.0 667.6V667.2H1984.6V667.6ZM1984.6 667.6V667.0H1986.2V667.6ZM1986.2 667.6V667.2H1987.8V667.6ZM1989.4 667.6V666.4H1991.0V667.6ZM1991.0 667.6V666.9H1992.6V667.6ZM1992.6 667.6V666.6H1994.2V667.6ZM1994.2 667.6V666.5H1995.8V667.6ZM1995.8 667.6V667.1H1997.4V667.6ZM1997.4 667.6V667.1H1999.0V667.6ZM1999.0 667.6V666.5H2000.6V667.6ZM2007.0 667.6V667.0H2008.6V667.6ZM2015.0 667.6V666.6H2016.6V667.6ZM2023.0 667.6V667.0H2024.6V667.6ZM2024.6 667.6V667.2H2026.2V667.6ZM2026.2 667.6V667.0H2027.8V667.6ZM2029.4 667.6V667.1H2031.0V667.6ZM2032.6 667.6V666.9H2034.2V667.6ZM2034.2 667.6V667.1H2035.8V667.6ZM2040.6 667.6V667.1H2042.2V667.6ZM2042.2 667.6V666.9H2043.8V667.6ZM2048.6 667.6V666.6H2050.2V667.6ZM2059.8 667.6V666.4H2061.4V667.6ZM2063.0 667.6V667.0H2064.6V667.6ZM2064.6 667.6V667.2H2066.2V667.6ZM2066.2 667.6V666.6H2067.8V667.6ZM2067.8 667.6V667.2H2069.4V667.6ZM2069.4 667.6V666.7H2071.0V667.6ZM2074.2 667.6V667.0H2075.8V667.6ZM2079.0 667.6V667.2H2080.6V667.6ZM2080.6 667.6V667.2H2082.2V667.6ZM2083.8 667.6V667.0H2085.4V667.6ZM2085.4 667.6V667.0H2087.0V667.6ZM2087.0 667.6V666.9H2088.6V667.6ZM2091.8 667.6V667.1H2093.4V667.6ZM2099.8 667.6V667.0H2101.4V667.6Z" fill="#7B4A9F"/>
<rect x="1177.4" y="666.9" width="928.5999999999999" height="1.4" fill="#7B4A9F"/>
<text x="2104.6" y="660.8" font-size="21" fill="#6E4798" stroke="#6E4798" text-anchor="end">0 - 1.2</text>
<text x="1183.7" y="688.7" font-size="22.8" fill="#E6823A" stroke="#E6823A">H3K4me2</text>
<path d="M1180.6 694.0V693.5H1182.2V694.0ZM1182.2 694.0V693.6H1183.8V694.0ZM1193.4 694.0V693.4H1195.0V694.0ZM1195.0 694.0V693.4H1196.6V694.0ZM1199.8 694.0V693.1H1201.4V694.0ZM1201.4 694.0V693.5H1203.0V694.0ZM1203.0 694.0V693.2H1204.6V694.0ZM1206.2 694.0V693.2H1207.8V694.0ZM1207.8 694.0V693.1H1209.4V694.0ZM1209.4 694.0V693.1H1211.0V694.0ZM1214.2 694.0V692.9H1215.8V694.0ZM1215.8 694.0V693.2H1217.4V694.0ZM1217.4 694.0V693.1H1219.0V694.0ZM1219.0 694.0V693.6H1220.6V694.0ZM1230.2 694.0V693.6H1231.8V694.0ZM1231.8 694.0V693.6H1233.4V694.0ZM1235.0 694.0V693.5H1236.6V694.0ZM1238.2 694.0V693.4H1239.8V694.0ZM1239.8 694.0V693.4H1241.4V694.0ZM1243.0 694.0V692.9H1244.6V694.0ZM1244.6 694.0V693.5H1246.2V694.0ZM1249.4 694.0V693.2H1251.0V694.0ZM1252.6 694.0V693.3H1254.2V694.0ZM1254.2 694.0V693.2H1255.8V694.0ZM1255.8 694.0V693.1H1257.4V694.0ZM1257.4 694.0V693.2H1259.0V694.0ZM1262.2 694.0V693.3H1263.8V694.0ZM1263.8 694.0V693.4H1265.4V694.0ZM1265.4 694.0V693.1H1267.0V694.0ZM1270.2 694.0V693.3H1271.8V694.0ZM1271.8 694.0V693.1H1273.4V694.0ZM1276.6 694.0V693.6H1278.2V694.0ZM1278.2 694.0V692.8H1279.8V694.0ZM1292.6 694.0V693.5H1294.2V694.0ZM1297.4 694.0V693.2H1299.0V694.0ZM1299.0 694.0V693.6H1300.6V694.0ZM1300.6 694.0V693.3H1302.2V694.0ZM1303.8 694.0V693.1H1305.4V694.0ZM1307.0 694.0V693.6H1308.6V694.0ZM1308.6 694.0V693.6H1310.2V694.0ZM1313.4 694.0V693.1H1315.0V694.0ZM1315.0 694.0V693.4H1316.6V694.0ZM1318.2 694.0V693.6H1319.8V694.0ZM1323.0 694.0V693.5H1324.6V694.0ZM1324.6 694.0V693.1H1326.2V694.0ZM1326.2 694.0V693.2H1327.8V694.0ZM1331.0 694.0V692.9H1332.6V694.0ZM1335.8 694.0V693.6H1337.4V694.0ZM1337.4 694.0V693.5H1339.0V694.0ZM1339.0 694.0V693.6H1340.6V694.0ZM1342.2 694.0V693.6H1343.8V694.0ZM1343.8 694.0V693.4H1345.4V694.0ZM1345.4 694.0V693.6H1347.0V694.0ZM1348.6 694.0V692.9H1350.2V694.0ZM1351.8 694.0V693.6H1353.4V694.0ZM1353.4 694.0V692.8H1355.0V694.0ZM1356.6 694.0V693.4H1358.2V694.0ZM1358.2 694.0V692.9H1359.8V694.0ZM1361.4 694.0V693.6H1363.0V694.0ZM1363.0 694.0V693.1H1364.6V694.0ZM1366.2 694.0V693.2H1367.8V694.0ZM1369.4 694.0V693.1H1371.0V694.0ZM1372.6 694.0V693.0H1374.2V694.0ZM1374.2 694.0V693.0H1375.7V694.0ZM1375.7 694.0V691.5H1377.3V694.0ZM1377.3 694.0V690.7H1378.9V694.0ZM1378.9 694.0V691.1H1380.5V694.0ZM1380.5 694.0V692.7H1381.0V694.0ZM1385.8 694.0V693.3H1387.4V694.0ZM1389.0 694.0V693.2H1390.6V694.0ZM1390.6 694.0V693.4H1391.4V694.0ZM1391.4 694.0V689.1H1393.0V694.0ZM1393.0 694.0V690.3H1394.6V694.0ZM1394.6 694.0V689.5H1396.2V694.0ZM1396.2 694.0V689.0H1397.8V694.0ZM1397.8 694.0V689.0H1398.6V694.0ZM1398.6 694.0V686.0H1400.2V694.0ZM1400.2 694.0V687.8H1401.8V694.0ZM1401.8 694.0V685.4H1402.9V694.0ZM1402.9 694.0V686.3H1404.5V694.0ZM1404.5 694.0V683.3H1406.1V694.0ZM1406.1 694.0V687.9H1407.7V694.0ZM1407.7 694.0V685.8H1408.6V694.0ZM1408.6 694.0V691.6H1410.2V694.0ZM1410.2 694.0V691.8H1411.8V694.0ZM1411.8 694.0V690.4H1413.4V694.0ZM1413.4 694.0V691.9H1415.0V694.0ZM1415.0 694.0V691.1H1415.7V694.0ZM1415.7 694.0V683.4H1417.3V694.0ZM1417.3 694.0V683.2H1418.9V694.0ZM1418.9 694.0V684.5H1420.5V694.0ZM1420.5 694.0V684.9H1422.1V694.0ZM1422.1 694.0V684.5H1422.9V694.0ZM1422.9 694.0V690.4H1424.5V694.0ZM1424.5 694.0V688.3H1426.1V694.0ZM1426.1 694.0V689.3H1427.7V694.0ZM1427.7 694.0V688.8H1428.6V694.0ZM1428.6 694.0V674.6H1430.2V694.0ZM1430.2 694.0V681.9H1431.8V694.0ZM1431.8 694.0V679.0H1433.4V694.0ZM1433.4 694.0V682.5H1433.6V694.0ZM1433.6 694.0V687.6H1435.2V694.0ZM1435.2 694.0V684.2H1436.8V694.0ZM1436.8 694.0V683.7H1438.4V694.0ZM1438.4 694.0V684.4H1440.0V694.0ZM1440.0 694.0V683.4H1441.6V694.0ZM1441.6 694.0V686.1H1443.2V694.0ZM1443.2 694.0V682.9H1444.8V694.0ZM1444.8 694.0V686.6H1446.4V694.0ZM1446.4 694.0V681.6H1448.0V694.0ZM1448.0 694.0V683.6H1449.6V694.0ZM1449.6 694.0V684.0H1451.2V694.0ZM1451.2 694.0V682.3H1452.8V694.0ZM1452.8 694.0V681.9H1454.4V694.0ZM1454.4 694.0V682.7H1456.0V694.0ZM1456.0 694.0V685.7H1457.1V694.0ZM1457.1 694.0V686.4H1458.7V694.0ZM1458.7 694.0V685.4H1460.3V694.0ZM1460.3 694.0V685.6H1461.9V694.0ZM1461.9 694.0V685.0H1463.5V694.0ZM1463.5 694.0V685.1H1465.1V694.0ZM1465.1 694.0V686.5H1466.7V694.0ZM1466.7 694.0V688.1H1468.3V694.0ZM1468.3 694.0V684.0H1468.6V694.0ZM1468.6 694.0V688.7H1470.2V694.0ZM1470.2 694.0V685.7H1471.8V694.0ZM1471.8 694.0V687.9H1473.4V694.0ZM1473.4 694.0V685.6H1475.0V694.0ZM1475.0 694.0V687.0H1476.6V694.0ZM1476.6 694.0V689.0H1478.2V694.0ZM1478.2 694.0V686.5H1479.8V694.0ZM1479.8 694.0V689.5H1480.0V694.0ZM1480.0 694.0V690.2H1481.6V694.0ZM1481.6 694.0V688.6H1483.2V694.0ZM1483.2 694.0V691.1H1484.8V694.0ZM1484.8 694.0V690.7H1486.4V694.0ZM1486.4 694.0V688.7H1488.0V694.0ZM1488.0 694.0V691.0H1488.6V694.0ZM1488.6 694.0V690.0H1490.2V694.0ZM1490.2 694.0V688.7H1491.8V694.0ZM1491.8 694.0V688.9H1493.4V694.0ZM1493.4 694.0V687.4H1495.0V694.0ZM1495.0 694.0V689.5H1496.6V694.0ZM1496.6 694.0V688.6H1498.2V694.0ZM1498.2 694.0V689.7H1499.8V694.0ZM1499.8 694.0V688.6H1500.0V694.0ZM1500.0 694.0V690.3H1501.6V694.0ZM1501.6 694.0V691.6H1503.2V694.0ZM1503.2 694.0V691.2H1504.8V694.0ZM1504.8 694.0V691.8H1506.4V694.0ZM1506.4 694.0V691.9H1508.0V694.0ZM1508.0 694.0V691.1H1508.6V694.0ZM1508.6 694.0V693.5H1510.2V694.0ZM1510.2 694.0V693.0H1511.8V694.0ZM1511.8 694.0V693.7H1513.4V694.0ZM1513.4 694.0V693.2H1515.0V694.0ZM1515.0 694.0V693.0H1516.6V694.0ZM1516.6 694.0V693.4H1518.2V694.0ZM1518.2 694.0V692.9H1519.8V694.0ZM1519.8 694.0V693.6H1521.4V694.0ZM1521.4 694.0V693.1H1523.0V694.0ZM1523.0 694.0V693.6H1524.6V694.0ZM1524.6 694.0V693.3H1526.2V694.0ZM1526.2 694.0V693.2H1527.8V694.0ZM1527.8 694.0V693.0H1529.4V694.0ZM1529.4 694.0V693.3H1531.0V694.0ZM1531.0 694.0V693.6H1532.6V694.0ZM1532.6 694.0V693.6H1534.2V694.0ZM1534.2 694.0V693.2H1534.3V694.0ZM1534.3 694.0V689.9H1535.9V694.0ZM1535.9 694.0V689.0H1537.5V694.0ZM1537.5 694.0V690.8H1539.1V694.0ZM1539.1 694.0V689.5H1540.7V694.0ZM1540.7 694.0V690.5H1542.3V694.0ZM1542.3 694.0V690.5H1543.9V694.0ZM1543.9 694.0V690.2H1545.5V694.0ZM1545.5 694.0V690.8H1545.7V694.0ZM1548.9 694.0V693.0H1550.5V694.0ZM1552.1 694.0V693.6H1553.7V694.0ZM1553.7 694.0V693.2H1555.3V694.0ZM1558.5 694.0V693.6H1560.1V694.0ZM1561.7 694.0V693.1H1563.3V694.0ZM1563.3 694.0V693.5H1564.9V694.0ZM1564.9 694.0V693.5H1566.5V694.0ZM1566.5 694.0V693.1H1568.1V694.0ZM1568.1 694.0V693.4H1569.7V694.0ZM1572.9 694.0V693.1H1574.5V694.0ZM1574.5 694.0V693.5H1576.1V694.0ZM1579.3 694.0V693.5H1580.9V694.0ZM1580.9 694.0V693.4H1582.5V694.0ZM1588.9 694.0V693.0H1590.5V694.0ZM1590.5 694.0V693.6H1592.1V694.0ZM1593.7 694.0V693.0H1595.3V694.0ZM1595.3 694.0V693.2H1596.9V694.0ZM1598.5 694.0V693.0H1600.1V694.0ZM1604.9 694.0V693.6H1606.5V694.0ZM1608.1 694.0V693.6H1609.7V694.0ZM1614.5 694.0V693.5H1616.1V694.0ZM1617.7 694.0V693.0H1619.3V694.0ZM1620.9 694.0V693.5H1622.5V694.0ZM1622.5 694.0V693.3H1624.1V694.0ZM1624.1 694.0V693.3H1625.7V694.0ZM1625.7 694.0V693.1H1627.3V694.0ZM1630.5 694.0V693.4H1632.1V694.0ZM1632.1 694.0V693.6H1633.7V694.0ZM1635.3 694.0V693.4H1636.9V694.0ZM1640.1 694.0V693.4H1641.7V694.0ZM1643.3 694.0V693.5H1644.9V694.0ZM1646.5 694.0V693.5H1648.1V694.0ZM1648.1 694.0V693.1H1649.7V694.0ZM1649.7 694.0V693.6H1651.3V694.0ZM1652.9 694.0V693.2H1654.5V694.0ZM1656.1 694.0V693.3H1657.7V694.0ZM1657.7 694.0V693.6H1659.3V694.0ZM1659.3 694.0V693.2H1660.9V694.0ZM1662.5 694.0V693.2H1664.1V694.0ZM1665.7 694.0V693.2H1667.3V694.0ZM1668.9 694.0V693.0H1670.5V694.0ZM1670.5 694.0V693.2H1672.1V694.0ZM1673.7 694.0V693.6H1675.3V694.0ZM1675.3 694.0V693.6H1676.9V694.0ZM1676.9 694.0V693.5H1678.5V694.0ZM1680.1 694.0V693.6H1681.7V694.0ZM1681.7 694.0V693.6H1683.3V694.0ZM1686.5 694.0V693.0H1688.1V694.0ZM1688.1 694.0V693.6H1689.7V694.0ZM1691.3 694.0V693.6H1692.9V694.0ZM1692.9 694.0V693.4H1694.5V694.0ZM1696.1 694.0V693.5H1697.7V694.0ZM1702.5 694.0V693.3H1704.1V694.0ZM1708.9 694.0V693.4H1710.5V694.0ZM1712.1 694.0V693.6H1713.7V694.0ZM1713.7 694.0V693.4H1715.3V694.0ZM1715.3 694.0V693.3H1716.9V694.0ZM1716.9 694.0V693.5H1718.5V694.0ZM1718.5 694.0V693.6H1720.1V694.0ZM1721.7 694.0V693.5H1723.3V694.0ZM1723.3 694.0V693.2H1724.9V694.0ZM1728.1 694.0V693.0H1729.7V694.0ZM1729.7 694.0V693.4H1731.3V694.0ZM1731.3 694.0V693.2H1732.9V694.0ZM1732.9 694.0V693.5H1734.5V694.0ZM1734.5 694.0V693.6H1736.1V694.0ZM1737.7 694.0V693.4H1739.3V694.0ZM1739.3 694.0V693.2H1740.9V694.0ZM1742.5 694.0V693.5H1744.1V694.0ZM1750.5 694.0V693.0H1752.1V694.0ZM1755.3 694.0V693.6H1756.9V694.0ZM1760.1 694.0V693.0H1761.7V694.0ZM1764.9 694.0V693.0H1766.5V694.0ZM1766.5 694.0V693.5H1768.1V694.0ZM1768.1 694.0V693.6H1769.7V694.0ZM1769.7 694.0V693.4H1771.3V694.0ZM1772.9 694.0V693.3H1774.5V694.0ZM1774.5 694.0V693.6H1776.1V694.0ZM1777.7 694.0V693.6H1779.3V694.0ZM1780.9 694.0V693.6H1782.5V694.0ZM1784.1 694.0V693.2H1785.7V694.0ZM1788.9 694.0V693.3H1790.5V694.0ZM1790.5 694.0V693.6H1792.1V694.0ZM1793.7 694.0V693.5H1795.3V694.0ZM1795.3 694.0V692.9H1796.9V694.0ZM1798.5 694.0V693.0H1800.1V694.0ZM1800.1 694.0V693.2H1801.7V694.0ZM1801.7 694.0V693.3H1803.3V694.0ZM1803.3 694.0V693.1H1804.9V694.0ZM1811.3 694.0V693.1H1812.9V694.0ZM1816.1 694.0V693.5H1817.7V694.0ZM1819.3 694.0V693.6H1820.9V694.0ZM1822.5 694.0V693.6H1824.1V694.0ZM1824.1 694.0V693.5H1825.7V694.0ZM1825.7 694.0V693.0H1827.3V694.0ZM1830.5 694.0V692.9H1832.1V694.0ZM1832.1 694.0V693.6H1833.7V694.0ZM1835.3 694.0V693.0H1836.9V694.0ZM1838.5 694.0V693.5H1840.1V694.0ZM1840.1 694.0V693.6H1841.7V694.0ZM1843.3 694.0V693.6H1844.9V694.0ZM1844.9 694.0V693.6H1846.5V694.0ZM1846.5 694.0V693.4H1848.1V694.0ZM1848.1 694.0V693.0H1849.7V694.0ZM1849.7 694.0V693.0H1851.3V694.0ZM1852.9 694.0V693.3H1854.5V694.0ZM1856.1 694.0V693.6H1857.7V694.0ZM1857.7 694.0V693.5H1859.3V694.0ZM1860.9 694.0V693.5H1862.5V694.0ZM1862.5 694.0V693.5H1864.1V694.0ZM1865.7 694.0V692.9H1867.3V694.0ZM1867.3 694.0V693.6H1868.9V694.0ZM1868.9 694.0V693.4H1870.5V694.0ZM1870.5 694.0V693.2H1872.1V694.0ZM1873.7 694.0V693.5H1875.3V694.0ZM1875.3 694.0V693.1H1876.9V694.0ZM1880.1 694.0V693.6H1881.7V694.0ZM1886.5 694.0V692.9H1888.1V694.0ZM1889.7 694.0V693.6H1891.3V694.0ZM1891.3 694.0V693.6H1892.9V694.0ZM1900.9 694.0V693.3H1902.5V694.0ZM1902.5 694.0V693.6H1904.1V694.0ZM1904.1 694.0V693.5H1905.7V694.0ZM1907.3 694.0V693.1H1908.9V694.0ZM1910.5 694.0V693.1H1912.1V694.0ZM1920.1 694.0V693.3H1921.7V694.0ZM1921.7 694.0V693.4H1923.3V694.0ZM1923.3 694.0V693.4H1924.9V694.0ZM1924.9 694.0V693.5H1926.5V694.0ZM1926.5 694.0V693.3H1928.1V694.0ZM1929.7 694.0V693.1H1931.3V694.0ZM1934.5 694.0V693.4H1936.1V694.0ZM1936.1 694.0V693.4H1937.7V694.0ZM1937.7 694.0V693.0H1939.3V694.0ZM1942.5 694.0V693.4H1944.1V694.0ZM1944.1 694.0V693.3H1945.7V694.0ZM1952.1 694.0V693.6H1953.7V694.0ZM1955.3 694.0V693.3H1956.9V694.0ZM1956.9 694.0V693.6H1958.5V694.0ZM1958.5 694.0V693.4H1960.1V694.0ZM1960.1 694.0V693.6H1961.7V694.0ZM1968.1 694.0V693.2H1969.7V694.0ZM1969.7 694.0V693.6H1971.3V694.0ZM1971.3 694.0V693.3H1972.9V694.0ZM1976.1 694.0V693.5H1977.7V694.0ZM1979.3 694.0V693.4H1980.9V694.0ZM1982.5 694.0V693.6H1984.1V694.0ZM1984.1 694.0V693.1H1985.7V694.0ZM1985.7 694.0V693.1H1987.3V694.0ZM1987.3 694.0V693.5H1988.9V694.0ZM1988.9 694.0V693.0H1990.5V694.0ZM1990.5 694.0V693.1H1992.1V694.0ZM1998.5 694.0V692.9H2000.1V694.0ZM2000.1 694.0V693.4H2001.7V694.0ZM2001.7 694.0V693.3H2003.3V694.0ZM2006.5 694.0V693.6H2008.1V694.0ZM2011.3 694.0V693.1H2012.9V694.0ZM2012.9 694.0V693.5H2014.5V694.0ZM2016.1 694.0V693.6H2017.7V694.0ZM2017.7 694.0V693.2H2019.3V694.0ZM2019.3 694.0V693.0H2020.9V694.0ZM2020.9 694.0V693.6H2022.5V694.0ZM2022.5 694.0V693.3H2024.1V694.0ZM2024.1 694.0V693.0H2025.7V694.0ZM2033.7 694.0V693.4H2035.3V694.0ZM2035.3 694.0V693.6H2036.9V694.0ZM2036.9 694.0V693.3H2038.5V694.0ZM2038.5 694.0V693.2H2040.1V694.0ZM2040.1 694.0V693.6H2041.7V694.0ZM2041.7 694.0V693.6H2043.3V694.0ZM2044.9 694.0V693.6H2046.5V694.0ZM2046.5 694.0V693.4H2048.1V694.0ZM2048.1 694.0V693.5H2049.7V694.0ZM2049.7 694.0V693.4H2051.3V694.0ZM2051.3 694.0V693.1H2052.9V694.0ZM2052.9 694.0V693.2H2054.5V694.0ZM2054.5 694.0V693.6H2056.1V694.0ZM2056.1 694.0V693.5H2057.7V694.0ZM2059.3 694.0V693.5H2060.9V694.0ZM2060.9 694.0V693.2H2062.5V694.0ZM2062.5 694.0V693.5H2064.1V694.0ZM2067.3 694.0V693.4H2068.9V694.0ZM2072.1 694.0V693.1H2073.7V694.0ZM2075.3 694.0V693.1H2076.9V694.0ZM2076.9 694.0V693.0H2078.5V694.0ZM2078.5 694.0V692.9H2080.1V694.0ZM2080.1 694.0V693.6H2081.7V694.0ZM2091.3 694.0V693.1H2092.9V694.0ZM2092.9 694.0V693.5H2094.5V694.0ZM2096.1 694.0V693.5H2097.7V694.0ZM2097.7 694.0V693.6H2099.3V694.0ZM2099.3 694.0V693.0H2100.9V694.0ZM2100.9 694.0V693.4H2102.5V694.0ZM2102.5 694.0V693.1H2104.1V694.0Z" fill="#F5A21E"/>
<rect x="1177.4" y="693.3" width="928.5999999999999" height="1.4" fill="#F5A21E"/>
<text x="2104.6" y="688.1" font-size="21" fill="#E6823A" stroke="#E6823A" text-anchor="end">0 - 1.0</text>
<text x="1183.7" y="715.3" font-size="22.8" fill="#DA2830" stroke="#DA2830">H3K27ac</text>
<path d="M1179.0 719.8V717.8H1180.6V719.8ZM1180.6 719.8V717.7H1182.2V719.8ZM1183.8 719.8V718.1H1185.4V719.8ZM1185.4 719.8V719.0H1187.0V719.8ZM1187.0 719.8V718.8H1188.6V719.8ZM1188.6 719.8V718.3H1190.2V719.8ZM1191.8 719.8V717.7H1193.4V719.8ZM1195.0 719.8V719.4H1196.6V719.8ZM1196.6 719.8V719.1H1198.2V719.8ZM1199.8 719.8V719.2H1201.4V719.8ZM1201.4 719.8V717.4H1203.0V719.8ZM1203.0 719.8V719.1H1204.6V719.8ZM1204.6 719.8V719.2H1206.2V719.8ZM1206.2 719.8V718.2H1207.8V719.8ZM1209.4 719.8V718.8H1211.0V719.8ZM1211.0 719.8V718.1H1212.6V719.8ZM1212.6 719.8V718.6H1214.2V719.8ZM1214.2 719.8V718.6H1215.8V719.8ZM1215.8 719.8V717.8H1217.4V719.8ZM1217.4 719.8V718.1H1219.0V719.8ZM1219.0 719.8V718.9H1220.6V719.8ZM1220.6 719.8V718.2H1222.2V719.8ZM1222.2 719.8V719.4H1223.8V719.8ZM1223.8 719.8V719.2H1225.4V719.8ZM1227.0 719.8V718.8H1228.6V719.8ZM1228.6 719.8V718.9H1230.2V719.8ZM1230.2 719.8V718.1H1231.8V719.8ZM1231.8 719.8V717.4H1233.4V719.8ZM1235.0 719.8V718.1H1236.6V719.8ZM1238.2 719.8V716.0H1239.8V719.8ZM1239.8 719.8V717.6H1241.4V719.8ZM1241.4 719.8V719.4H1243.0V719.8ZM1243.0 719.8V717.6H1244.6V719.8ZM1244.6 719.8V717.3H1246.2V719.8ZM1246.2 719.8V719.1H1247.8V719.8ZM1247.8 719.8V719.4H1249.4V719.8ZM1249.4 719.8V719.3H1251.0V719.8ZM1252.6 719.8V717.8H1254.2V719.8ZM1254.2 719.8V717.3H1255.8V719.8ZM1257.4 719.8V719.3H1259.0V719.8ZM1260.6 719.8V718.7H1262.2V719.8ZM1263.8 719.8V718.2H1265.4V719.8ZM1265.4 719.8V718.7H1267.0V719.8ZM1267.0 719.8V717.3H1268.6V719.8ZM1270.2 719.8V719.3H1271.8V719.8ZM1271.8 719.8V719.3H1273.4V719.8ZM1275.0 719.8V719.3H1276.6V719.8ZM1279.8 719.8V719.4H1281.4V719.8ZM1283.0 719.8V719.4H1284.6V719.8ZM1284.6 719.8V717.9H1286.2V719.8ZM1286.2 719.8V717.3H1287.8V719.8ZM1291.0 719.8V718.7H1292.6V719.8ZM1292.6 719.8V718.6H1294.2V719.8ZM1295.8 719.8V718.3H1297.4V719.8ZM1297.4 719.8V718.9H1299.0V719.8ZM1299.0 719.8V719.1H1300.6V719.8ZM1302.2 719.8V718.8H1303.8V719.8ZM1303.8 719.8V717.3H1305.4V719.8ZM1305.4 719.8V717.5H1307.0V719.8ZM1307.0 719.8V717.7H1308.6V719.8ZM1310.2 719.8V718.1H1311.8V719.8ZM1311.8 719.8V719.3H1313.4V719.8ZM1319.8 719.8V719.0H1321.4V719.8ZM1321.4 719.8V719.4H1323.0V719.8ZM1323.0 719.8V718.1H1324.6V719.8ZM1324.6 719.8V717.8H1326.2V719.8ZM1326.2 719.8V719.2H1327.8V719.8ZM1329.4 719.8V719.2H1331.0V719.8ZM1331.0 719.8V717.8H1332.6V719.8ZM1332.6 719.8V719.4H1334.2V719.8ZM1334.2 719.8V719.2H1335.8V719.8ZM1335.8 719.8V718.0H1337.4V719.8ZM1339.0 719.8V719.4H1340.6V719.8ZM1340.6 719.8V718.9H1342.2V719.8ZM1345.4 719.8V719.4H1347.0V719.8ZM1347.0 719.8V719.1H1348.6V719.8ZM1348.6 719.8V719.1H1350.2V719.8ZM1350.2 719.8V719.0H1351.8V719.8ZM1351.8 719.8V718.1H1353.4V719.8ZM1353.4 719.8V719.2H1355.0V719.8ZM1356.6 719.8V719.2H1358.2V719.8ZM1358.2 719.8V719.0H1359.8V719.8ZM1359.8 719.8V718.9H1361.4V719.8ZM1361.4 719.8V719.2H1363.0V719.8ZM1363.0 719.8V719.3H1364.6V719.8ZM1364.6 719.8V719.2H1366.2V719.8ZM1366.2 719.8V718.2H1367.8V719.8ZM1367.8 719.8V719.1H1369.4V719.8ZM1369.4 719.8V719.1H1371.0V719.8ZM1371.0 719.8V718.5H1372.6V719.8ZM1375.8 719.8V718.3H1377.4V719.8ZM1377.4 719.8V719.4H1379.0V719.8ZM1379.0 719.8V718.0H1380.6V719.8ZM1380.6 719.8V717.7H1382.2V719.8ZM1382.2 719.8V718.1H1383.8V719.8ZM1385.4 719.8V719.0H1387.0V719.8ZM1387.0 719.8V719.0H1388.6V719.8ZM1391.8 719.8V719.1H1393.4V719.8ZM1393.4 719.8V717.4H1395.0V719.8ZM1395.0 719.8V719.0H1396.6V719.8ZM1396.6 719.8V718.3H1398.2V719.8ZM1398.2 719.8V717.9H1399.8V719.8ZM1399.8 719.8V718.8H1400.0V719.8ZM1400.0 719.8V712.3H1401.6V719.8ZM1401.6 719.8V711.1H1403.2V719.8ZM1403.2 719.8V714.9H1404.8V719.8ZM1404.8 719.8V714.7H1406.4V719.8ZM1406.4 719.8V714.1H1407.1V719.8ZM1407.1 719.8V705.3H1408.7V719.8ZM1408.7 719.8V708.3H1410.3V719.8ZM1410.3 719.8V704.0H1411.9V719.8ZM1411.9 719.8V706.1H1413.5V719.8ZM1413.5 719.8V706.5H1414.3V719.8ZM1414.3 719.8V708.1H1415.9V719.8ZM1415.9 719.8V709.5H1417.5V719.8ZM1417.5 719.8V712.0H1418.6V719.8ZM1418.6 719.8V713.5H1420.2V719.8ZM1420.2 719.8V716.3H1421.8V719.8ZM1421.8 719.8V714.1H1423.4V719.8ZM1423.4 719.8V713.7H1425.0V719.8ZM1425.0 719.8V713.8H1425.7V719.8ZM1425.7 719.8V717.5H1427.3V719.8ZM1427.3 719.8V719.0H1428.9V719.8ZM1428.9 719.8V718.7H1430.0V719.8ZM1430.0 719.8V709.3H1431.6V719.8ZM1431.6 719.8V713.1H1433.2V719.8ZM1433.2 719.8V709.0H1434.8V719.8ZM1434.8 719.8V713.3H1436.4V719.8ZM1436.4 719.8V711.0H1437.1V719.8ZM1437.1 719.8V706.4H1438.7V719.8ZM1438.7 719.8V705.4H1440.3V719.8ZM1440.3 719.8V705.9H1441.9V719.8ZM1441.9 719.8V707.6H1442.9V719.8ZM1442.9 719.8V713.5H1444.5V719.8ZM1444.5 719.8V713.0H1446.1V719.8ZM1446.1 719.8V713.1H1447.7V719.8ZM1447.7 719.8V712.8H1448.6V719.8ZM1448.6 719.8V716.3H1450.2V719.8ZM1450.2 719.8V716.8H1451.4V719.8ZM1453.0 719.8V719.4H1454.6V719.8ZM1454.6 719.8V719.1H1456.2V719.8ZM1456.2 719.8V716.4H1457.8V719.8ZM1457.8 719.8V717.7H1459.4V719.8ZM1461.0 719.8V718.8H1462.6V719.8ZM1462.6 719.8V718.1H1464.2V719.8ZM1465.8 719.8V719.2H1467.4V719.8ZM1467.4 719.8V718.8H1469.0V719.8ZM1470.6 719.8V718.0H1472.2V719.8ZM1473.8 719.8V718.5H1475.4V719.8ZM1475.4 719.8V718.1H1477.0V719.8ZM1477.0 719.8V719.1H1478.6V719.8ZM1478.6 719.8V718.6H1480.2V719.8ZM1480.2 719.8V718.2H1481.8V719.8ZM1481.8 719.8V718.8H1483.4V719.8ZM1488.2 719.8V716.0H1489.8V719.8ZM1489.8 719.8V717.6H1491.4V719.8ZM1491.4 719.8V718.8H1493.0V719.8ZM1493.0 719.8V716.9H1494.6V719.8ZM1494.6 719.8V718.6H1496.2V719.8ZM1497.8 719.8V719.4H1499.4V719.8ZM1499.4 719.8V717.0H1501.0V719.8ZM1502.6 719.8V719.4H1504.2V719.8ZM1504.2 719.8V719.3H1505.8V719.8ZM1507.4 719.8V718.2H1509.0V719.8ZM1509.0 719.8V718.6H1510.6V719.8ZM1515.4 719.8V717.5H1517.0V719.8ZM1520.2 719.8V717.3H1521.8V719.8ZM1521.8 719.8V717.6H1523.4V719.8ZM1525.0 719.8V717.8H1526.6V719.8ZM1526.6 719.8V717.7H1528.2V719.8ZM1528.2 719.8V719.4H1529.8V719.8ZM1531.4 719.8V717.6H1533.0V719.8ZM1533.0 719.8V719.1H1534.6V719.8ZM1537.8 719.8V717.3H1539.4V719.8ZM1539.4 719.8V719.4H1541.0V719.8ZM1541.0 719.8V719.4H1542.6V719.8ZM1542.6 719.8V717.8H1544.2V719.8ZM1544.2 719.8V718.8H1545.8V719.8ZM1545.8 719.8V719.4H1547.4V719.8ZM1547.4 719.8V719.2H1549.0V719.8ZM1549.0 719.8V718.5H1550.6V719.8ZM1552.2 719.8V718.0H1553.8V719.8ZM1553.8 719.8V719.2H1555.4V719.8ZM1555.4 719.8V719.4H1557.0V719.8ZM1557.0 719.8V717.6H1558.6V719.8ZM1561.8 719.8V719.1H1563.4V719.8ZM1566.6 719.8V719.1H1568.2V719.8ZM1568.2 719.8V719.4H1569.8V719.8ZM1573.0 719.8V718.5H1574.6V719.8ZM1574.6 719.8V718.6H1576.2V719.8ZM1576.2 719.8V717.6H1577.8V719.8ZM1581.0 719.8V718.8H1582.6V719.8ZM1585.8 719.8V717.6H1587.4V719.8ZM1587.4 719.8V718.2H1589.0V719.8ZM1592.2 719.8V719.3H1593.8V719.8ZM1595.4 719.8V719.3H1597.0V719.8ZM1597.0 719.8V718.1H1598.6V719.8ZM1600.2 719.8V719.2H1601.8V719.8ZM1605.0 719.8V719.0H1606.6V719.8ZM1606.6 719.8V719.2H1608.2V719.8ZM1608.2 719.8V719.3H1609.8V719.8ZM1609.8 719.8V719.1H1611.4V719.8ZM1611.4 719.8V719.4H1613.0V719.8ZM1614.6 719.8V718.7H1616.2V719.8ZM1617.8 719.8V719.4H1619.4V719.8ZM1619.4 719.8V719.4H1621.0V719.8ZM1624.2 719.8V717.7H1625.8V719.8ZM1625.8 719.8V718.1H1627.4V719.8ZM1629.0 719.8V717.5H1630.6V719.8ZM1630.6 719.8V717.9H1632.2V719.8ZM1632.2 719.8V717.3H1633.8V719.8ZM1633.8 719.8V719.1H1635.4V719.8ZM1635.4 719.8V719.3H1637.0V719.8ZM1637.0 719.8V718.5H1638.6V719.8ZM1638.6 719.8V717.5H1640.2V719.8ZM1640.2 719.8V717.7H1641.8V719.8ZM1641.8 719.8V719.0H1643.4V719.8ZM1643.4 719.8V718.3H1645.0V719.8ZM1649.8 719.8V717.5H1651.4V719.8ZM1653.0 719.8V719.1H1654.6V719.8ZM1654.6 719.8V718.9H1656.2V719.8ZM1656.2 719.8V719.0H1657.8V719.8ZM1657.8 719.8V718.5H1659.4V719.8ZM1659.4 719.8V719.3H1661.0V719.8ZM1661.0 719.8V718.7H1662.6V719.8ZM1662.6 719.8V719.2H1664.2V719.8ZM1664.2 719.8V717.3H1665.8V719.8ZM1665.8 719.8V718.7H1667.4V719.8ZM1667.4 719.8V719.3H1669.0V719.8ZM1669.0 719.8V717.7H1670.6V719.8ZM1672.2 719.8V719.3H1673.8V719.8ZM1673.8 719.8V719.3H1675.4V719.8ZM1675.4 719.8V717.7H1677.0V719.8ZM1678.6 719.8V718.8H1680.2V719.8ZM1680.2 719.8V719.4H1681.8V719.8ZM1681.8 719.8V718.8H1683.4V719.8ZM1683.4 719.8V719.4H1685.0V719.8ZM1685.0 719.8V716.5H1686.6V719.8ZM1688.2 719.8V719.3H1689.8V719.8ZM1689.8 719.8V718.5H1691.4V719.8ZM1691.4 719.8V717.8H1693.0V719.8ZM1694.6 719.8V717.8H1696.2V719.8ZM1696.2 719.8V717.8H1697.8V719.8ZM1697.8 719.8V719.1H1699.4V719.8ZM1699.4 719.8V717.3H1701.0V719.8ZM1701.0 719.8V719.1H1702.6V719.8ZM1702.6 719.8V719.1H1704.2V719.8ZM1704.2 719.8V719.0H1705.8V719.8ZM1705.8 719.8V719.1H1707.4V719.8ZM1707.4 719.8V719.0H1709.0V719.8ZM1709.0 719.8V719.0H1710.6V719.8ZM1710.6 719.8V718.8H1712.2V719.8ZM1713.8 719.8V719.2H1715.4V719.8ZM1720.2 719.8V719.2H1721.8V719.8ZM1723.4 719.8V719.1H1725.0V719.8ZM1725.0 719.8V717.9H1726.6V719.8ZM1726.6 719.8V717.6H1728.2V719.8ZM1729.8 719.8V717.2H1731.4V719.8ZM1731.4 719.8V717.9H1733.0V719.8ZM1734.6 719.8V719.0H1736.2V719.8ZM1739.4 719.8V717.5H1741.0V719.8ZM1741.0 719.8V718.0H1742.6V719.8ZM1742.6 719.8V719.4H1744.2V719.8ZM1744.2 719.8V718.1H1745.8V719.8ZM1745.8 719.8V719.2H1747.4V719.8ZM1747.4 719.8V718.3H1749.0V719.8ZM1749.0 719.8V717.4H1750.6V719.8ZM1750.6 719.8V716.4H1752.2V719.8ZM1753.8 719.8V717.9H1755.4V719.8ZM1757.0 719.8V718.0H1758.6V719.8ZM1758.6 719.8V718.8H1760.2V719.8ZM1761.8 719.8V719.4H1763.4V719.8ZM1765.0 719.8V717.3H1766.6V719.8ZM1766.6 719.8V719.3H1768.2V719.8ZM1768.2 719.8V715.9H1769.8V719.8ZM1769.8 719.8V719.3H1771.4V719.8ZM1774.6 719.8V718.9H1776.2V719.8ZM1777.8 719.8V717.2H1779.4V719.8ZM1781.0 719.8V719.0H1782.6V719.8ZM1782.6 719.8V719.2H1784.2V719.8ZM1784.2 719.8V719.0H1785.8V719.8ZM1785.8 719.8V719.0H1787.4V719.8ZM1789.0 719.8V719.4H1790.6V719.8ZM1790.6 719.8V719.4H1792.2V719.8ZM1792.2 719.8V717.4H1793.8V719.8ZM1793.8 719.8V717.4H1795.4V719.8ZM1795.4 719.8V718.7H1797.0V719.8ZM1797.0 719.8V718.1H1798.6V719.8ZM1798.6 719.8V717.3H1800.2V719.8ZM1805.0 719.8V719.3H1806.6V719.8ZM1806.6 719.8V718.7H1808.2V719.8ZM1808.2 719.8V719.3H1809.8V719.8ZM1809.8 719.8V719.0H1811.4V719.8ZM1811.4 719.8V719.4H1813.0V719.8ZM1813.0 719.8V718.6H1814.6V719.8ZM1814.6 719.8V718.4H1816.2V719.8ZM1816.2 719.8V718.5H1817.8V719.8ZM1819.4 719.8V718.3H1821.0V719.8ZM1822.6 719.8V719.3H1824.2V719.8ZM1824.2 719.8V719.3H1825.8V719.8ZM1825.8 719.8V717.9H1827.4V719.8ZM1827.4 719.8V718.9H1829.0V719.8ZM1829.0 719.8V719.2H1830.6V719.8ZM1830.6 719.8V719.4H1832.2V719.8ZM1833.8 719.8V718.5H1835.4V719.8ZM1835.4 719.8V719.0H1837.0V719.8ZM1837.0 719.8V718.2H1838.6V719.8ZM1838.6 719.8V717.9H1840.2V719.8ZM1840.2 719.8V717.5H1841.8V719.8ZM1843.4 719.8V717.9H1845.0V719.8ZM1845.0 719.8V717.8H1846.6V719.8ZM1846.6 719.8V719.3H1848.2V719.8ZM1848.2 719.8V718.7H1849.8V719.8ZM1849.8 719.8V718.9H1851.4V719.8ZM1853.0 719.8V719.2H1854.6V719.8ZM1856.2 719.8V719.4H1857.8V719.8ZM1857.8 719.8V717.7H1859.4V719.8ZM1859.4 719.8V718.1H1861.0V719.8ZM1861.0 719.8V717.4H1862.6V719.8ZM1862.6 719.8V719.1H1864.2V719.8ZM1864.2 719.8V719.3H1865.8V719.8ZM1865.8 719.8V719.3H1867.4V719.8ZM1867.4 719.8V718.2H1869.0V719.8ZM1869.0 719.8V717.3H1870.6V719.8ZM1873.8 719.8V719.4H1875.4V719.8ZM1875.4 719.8V719.3H1877.0V719.8ZM1877.0 719.8V718.8H1878.6V719.8ZM1880.2 719.8V718.0H1881.8V719.8ZM1881.8 719.8V719.4H1883.4V719.8ZM1883.4 719.8V718.6H1885.0V719.8ZM1885.0 719.8V719.3H1886.6V719.8ZM1886.6 719.8V719.0H1888.2V719.8ZM1888.2 719.8V718.8H1889.8V719.8ZM1891.4 719.8V719.3H1893.0V719.8ZM1893.0 719.8V717.4H1894.6V719.8ZM1894.6 719.8V718.7H1896.2V719.8ZM1896.2 719.8V719.3H1897.8V719.8ZM1897.8 719.8V719.3H1899.4V719.8ZM1899.4 719.8V718.4H1901.0V719.8ZM1901.0 719.8V719.4H1902.6V719.8ZM1902.6 719.8V719.1H1904.2V719.8ZM1904.2 719.8V717.5H1905.8V719.8ZM1909.0 719.8V718.0H1910.6V719.8ZM1912.2 719.8V719.0H1913.8V719.8ZM1913.8 719.8V719.2H1915.4V719.8ZM1917.0 719.8V719.4H1918.6V719.8ZM1920.2 719.8V719.4H1921.8V719.8ZM1921.8 719.8V717.4H1923.4V719.8ZM1923.4 719.8V719.2H1925.0V719.8ZM1925.0 719.8V718.0H1926.6V719.8ZM1928.2 719.8V719.2H1929.8V719.8ZM1929.8 719.8V717.9H1931.4V719.8ZM1931.4 719.8V719.3H1933.0V719.8ZM1936.2 719.8V718.5H1937.8V719.8ZM1937.8 719.8V718.1H1939.4V719.8ZM1939.4 719.8V719.1H1941.0V719.8ZM1941.0 719.8V719.3H1942.6V719.8ZM1942.6 719.8V719.1H1944.2V719.8ZM1944.2 719.8V719.0H1945.8V719.8ZM1945.8 719.8V718.9H1947.4V719.8ZM1947.4 719.8V719.4H1949.0V719.8ZM1949.0 719.8V717.4H1950.6V719.8ZM1950.6 719.8V717.8H1952.2V719.8ZM1953.8 719.8V719.4H1955.4V719.8ZM1955.4 719.8V718.2H1957.0V719.8ZM1957.0 719.8V719.3H1958.6V719.8ZM1958.6 719.8V719.3H1960.2V719.8ZM1960.2 719.8V719.0H1961.8V719.8ZM1961.8 719.8V719.0H1963.4V719.8ZM1963.4 719.8V719.4H1965.0V719.8ZM1965.0 719.8V719.4H1966.6V719.8ZM1966.6 719.8V719.4H1968.2V719.8ZM1968.2 719.8V718.1H1969.8V719.8ZM1971.4 719.8V719.1H1973.0V719.8ZM1974.6 719.8V718.1H1976.2V719.8ZM1976.2 719.8V716.2H1977.8V719.8ZM1977.8 719.8V719.2H1979.4V719.8ZM1979.4 719.8V719.1H1981.0V719.8ZM1981.0 719.8V719.4H1982.6V719.8ZM1982.6 719.8V719.1H1984.2V719.8ZM1984.2 719.8V719.2H1985.8V719.8ZM1985.8 719.8V718.1H1987.4V719.8ZM1989.0 719.8V719.3H1990.6V719.8ZM1992.2 719.8V717.4H1993.8V719.8ZM1993.8 719.8V718.6H1995.4V719.8ZM1995.4 719.8V719.4H1997.0V719.8ZM1997.0 719.8V718.8H1998.6V719.8ZM1998.6 719.8V719.3H2000.2V719.8ZM2003.4 719.8V718.4H2005.0V719.8ZM2005.0 719.8V719.3H2006.6V719.8ZM2006.6 719.8V717.5H2008.2V719.8ZM2008.2 719.8V719.2H2009.8V719.8ZM2009.8 719.8V719.1H2011.4V719.8ZM2013.0 719.8V719.0H2014.6V719.8ZM2014.6 719.8V719.2H2016.2V719.8ZM2017.8 719.8V719.2H2019.4V719.8ZM2019.4 719.8V718.6H2021.0V719.8ZM2021.0 719.8V719.2H2022.6V719.8ZM2022.6 719.8V718.5H2024.2V719.8ZM2024.2 719.8V717.3H2025.8V719.8ZM2025.8 719.8V718.6H2027.4V719.8ZM2027.4 719.8V718.6H2029.0V719.8ZM2029.0 719.8V717.7H2030.6V719.8ZM2030.6 719.8V719.4H2032.2V719.8ZM2033.8 719.8V717.5H2035.4V719.8ZM2035.4 719.8V719.3H2037.0V719.8ZM2038.6 719.8V719.3H2040.2V719.8ZM2040.2 719.8V718.5H2041.8V719.8ZM2041.8 719.8V718.2H2043.4V719.8ZM2043.4 719.8V719.3H2045.0V719.8ZM2045.0 719.8V719.0H2046.6V719.8ZM2046.6 719.8V718.5H2048.2V719.8ZM2048.2 719.8V718.3H2049.8V719.8ZM2049.8 719.8V718.5H2051.4V719.8ZM2051.4 719.8V718.7H2053.0V719.8ZM2053.0 719.8V717.3H2054.6V719.8ZM2054.6 719.8V717.2H2056.2V719.8ZM2056.2 719.8V717.8H2057.8V719.8ZM2057.8 719.8V718.9H2059.4V719.8ZM2059.4 719.8V719.0H2061.0V719.8ZM2062.6 719.8V717.9H2064.2V719.8ZM2064.2 719.8V719.0H2065.8V719.8ZM2065.8 719.8V719.3H2067.4V719.8ZM2067.4 719.8V719.1H2069.0V719.8ZM2070.6 719.8V717.9H2072.2V719.8ZM2072.2 719.8V717.6H2073.8V719.8ZM2075.4 719.8V717.4H2077.0V719.8ZM2078.6 719.8V719.4H2080.2V719.8ZM2080.2 719.8V718.9H2081.8V719.8ZM2081.8 719.8V718.5H2083.4V719.8ZM2083.4 719.8V719.4H2085.0V719.8ZM2088.2 719.8V719.2H2089.8V719.8ZM2091.4 719.8V718.5H2093.0V719.8ZM2093.0 719.8V717.4H2094.6V719.8ZM2096.2 719.8V717.5H2097.8V719.8ZM2099.4 719.8V718.7H2101.0V719.8ZM2101.0 719.8V718.7H2102.6V719.8ZM2102.6 719.8V718.5H2104.2V719.8ZM2104.2 719.8V719.2H2105.8V719.8Z" fill="#E4222B"/>
<rect x="1177.4" y="719.0999999999999" width="928.5999999999999" height="1.4" fill="#E4222B"/>
<text x="2104.6" y="714.2" font-size="21" fill="#DA2830" stroke="#DA2830" text-anchor="end">0 - 0.4</text>
<text x="1183.7" y="741.4" font-size="22.8" fill="#26408E" stroke="#26408E">H3K27me3</text>
<path d="M1177.4 746.6V745.2H1179.0V746.6ZM1179.0 746.6V746.2H1180.6V746.6ZM1180.6 746.6V746.1H1182.2V746.6ZM1182.2 746.6V744.5H1183.8V746.6ZM1183.8 746.6V746.1H1185.4V746.6ZM1187.0 746.6V744.9H1188.6V746.6ZM1188.6 746.6V745.4H1190.2V746.6ZM1191.8 746.6V746.0H1193.4V746.6ZM1193.4 746.6V745.6H1195.0V746.6ZM1195.0 746.6V745.7H1196.6V746.6ZM1196.6 746.6V746.2H1198.2V746.6ZM1201.4 746.6V746.1H1203.0V746.6ZM1203.0 746.6V745.2H1204.6V746.6ZM1207.8 746.6V744.8H1209.4V746.6ZM1211.0 746.6V745.6H1212.6V746.6ZM1212.6 746.6V746.1H1214.2V746.6ZM1214.2 746.6V745.8H1215.8V746.6ZM1220.6 746.6V746.1H1222.2V746.6ZM1227.0 746.6V744.6H1228.6V746.6ZM1228.6 746.6V745.8H1230.2V746.6ZM1230.2 746.6V746.2H1231.8V746.6ZM1233.4 746.6V745.9H1235.0V746.6ZM1235.0 746.6V746.2H1236.6V746.6ZM1238.2 746.6V746.1H1239.8V746.6ZM1239.8 746.6V744.4H1241.4V746.6ZM1243.0 746.6V745.7H1244.6V746.6ZM1244.6 746.6V745.8H1246.2V746.6ZM1246.2 746.6V746.0H1247.8V746.6ZM1247.8 746.6V746.1H1249.4V746.6ZM1249.4 746.6V745.3H1251.0V746.6ZM1251.0 746.6V746.0H1252.6V746.6ZM1252.6 746.6V746.0H1254.2V746.6ZM1254.2 746.6V746.2H1255.8V746.6ZM1257.4 746.6V745.0H1259.0V746.6ZM1259.0 746.6V744.4H1260.6V746.6ZM1260.6 746.6V746.1H1262.2V746.6ZM1262.2 746.6V744.8H1263.8V746.6ZM1267.0 746.6V746.1H1268.6V746.6ZM1268.6 746.6V746.0H1270.2V746.6ZM1270.2 746.6V745.1H1271.8V746.6ZM1278.2 746.6V744.9H1279.8V746.6ZM1283.0 746.6V744.2H1284.6V746.6ZM1284.6 746.6V745.4H1286.2V746.6ZM1286.2 746.6V746.2H1287.8V746.6ZM1289.4 746.6V745.0H1291.0V746.6ZM1294.2 746.6V744.6H1295.8V746.6ZM1295.8 746.6V746.1H1297.4V746.6ZM1297.4 746.6V745.0H1299.0V746.6ZM1300.6 746.6V744.8H1302.2V746.6ZM1302.2 746.6V745.3H1303.8V746.6ZM1303.8 746.6V746.2H1305.4V746.6ZM1305.4 746.6V746.2H1307.0V746.6ZM1307.0 746.6V746.2H1308.6V746.6ZM1308.6 746.6V746.2H1310.2V746.6ZM1310.2 746.6V746.2H1311.8V746.6ZM1311.8 746.6V745.1H1313.4V746.6ZM1313.4 746.6V745.3H1315.0V746.6ZM1316.6 746.6V746.1H1318.2V746.6ZM1318.2 746.6V746.1H1319.8V746.6ZM1323.0 746.6V745.5H1324.6V746.6ZM1324.6 746.6V745.3H1326.2V746.6ZM1326.2 746.6V746.0H1327.8V746.6ZM1327.8 746.6V746.1H1329.4V746.6ZM1329.4 746.6V745.7H1331.0V746.6ZM1331.0 746.6V744.6H1332.6V746.6ZM1334.2 746.6V744.7H1335.8V746.6ZM1335.8 746.6V744.7H1337.4V746.6ZM1337.4 746.6V746.2H1339.0V746.6ZM1340.6 746.6V746.0H1342.2V746.6ZM1342.2 746.6V746.2H1343.8V746.6ZM1343.8 746.6V744.9H1345.4V746.6ZM1345.4 746.6V746.2H1347.0V746.6ZM1347.0 746.6V746.2H1348.6V746.6ZM1348.6 746.6V744.4H1350.2V746.6ZM1350.2 746.6V744.7H1351.8V746.6ZM1351.8 746.6V746.2H1353.4V746.6ZM1353.4 746.6V746.1H1355.0V746.6ZM1358.2 746.6V745.4H1359.8V746.6ZM1363.0 746.6V745.9H1364.6V746.6ZM1364.6 746.6V745.9H1366.2V746.6ZM1367.8 746.6V744.9H1369.4V746.6ZM1369.4 746.6V746.1H1371.0V746.6ZM1371.0 746.6V746.0H1372.6V746.6ZM1375.8 746.6V745.2H1377.4V746.6ZM1377.4 746.6V745.1H1379.0V746.6ZM1382.2 746.6V746.0H1383.8V746.6ZM1383.8 746.6V744.9H1385.4V746.6ZM1385.4 746.6V745.6H1387.0V746.6ZM1391.8 746.6V744.8H1393.4V746.6ZM1393.4 746.6V745.8H1395.0V746.6ZM1395.0 746.6V746.2H1396.6V746.6ZM1396.6 746.6V746.1H1398.2V746.6ZM1398.2 746.6V746.0H1399.8V746.6ZM1399.8 746.6V745.9H1401.4V746.6ZM1401.4 746.6V746.2H1403.0V746.6ZM1407.8 746.6V744.4H1409.4V746.6ZM1411.0 746.6V744.8H1412.6V746.6ZM1412.6 746.6V745.2H1414.2V746.6ZM1415.8 746.6V745.7H1417.4V746.6ZM1419.0 746.6V745.8H1420.6V746.6ZM1420.6 746.6V746.2H1422.2V746.6ZM1423.8 746.6V746.1H1425.4V746.6ZM1427.0 746.6V745.8H1428.6V746.6ZM1428.6 746.6V745.2H1430.2V746.6ZM1430.2 746.6V745.6H1431.8V746.6ZM1431.8 746.6V745.3H1433.4V746.6ZM1436.6 746.6V746.2H1438.2V746.6ZM1438.2 746.6V744.5H1439.8V746.6ZM1441.4 746.6V746.1H1443.0V746.6ZM1444.6 746.6V745.9H1446.2V746.6ZM1446.2 746.6V746.1H1447.8V746.6ZM1447.8 746.6V746.0H1449.4V746.6ZM1452.6 746.6V746.2H1454.2V746.6ZM1454.2 746.6V745.9H1454.3V746.6ZM1454.3 746.6V744.5H1455.9V746.6ZM1455.9 746.6V744.0H1457.5V746.6ZM1457.5 746.6V743.8H1459.1V746.6ZM1459.1 746.6V744.4H1460.7V746.6ZM1460.7 746.6V744.8H1462.3V746.6ZM1462.3 746.6V744.2H1463.9V746.6ZM1463.9 746.6V745.0H1464.3V746.6ZM1464.3 746.6V740.0H1465.9V746.6ZM1465.9 746.6V740.0H1467.5V746.6ZM1467.5 746.6V741.5H1469.1V746.6ZM1469.1 746.6V740.3H1470.7V746.6ZM1470.7 746.6V740.6H1472.3V746.6ZM1472.3 746.6V742.9H1473.9V746.6ZM1473.9 746.6V743.0H1475.5V746.6ZM1475.5 746.6V742.0H1477.1V746.6ZM1477.1 746.6V741.4H1478.6V746.6ZM1478.6 746.6V738.1H1480.2V746.6ZM1480.2 746.6V738.8H1481.8V746.6ZM1481.8 746.6V740.0H1483.4V746.6ZM1483.4 746.6V738.9H1485.0V746.6ZM1485.0 746.6V740.1H1486.6V746.6ZM1486.6 746.6V736.0H1488.2V746.6ZM1488.2 746.6V735.7H1488.6V746.6ZM1488.6 746.6V734.9H1490.2V746.6ZM1490.2 746.6V738.1H1491.8V746.6ZM1491.8 746.6V737.0H1493.4V746.6ZM1493.4 746.6V737.7H1495.0V746.6ZM1495.0 746.6V738.5H1496.6V746.6ZM1496.6 746.6V736.9H1498.2V746.6ZM1498.2 746.6V735.8H1499.8V746.6ZM1499.8 746.6V736.6H1501.4V746.6ZM1501.4 746.6V735.8H1503.0V746.6ZM1503.0 746.6V739.4H1504.6V746.6ZM1504.6 746.6V738.8H1506.2V746.6ZM1506.2 746.6V736.0H1507.8V746.6ZM1507.8 746.6V734.5H1509.4V746.6ZM1509.4 746.6V739.5H1511.0V746.6ZM1511.0 746.6V735.6H1512.6V746.6ZM1512.6 746.6V735.0H1514.2V746.6ZM1514.2 746.6V738.2H1515.8V746.6ZM1515.8 746.6V740.2H1517.4V746.6ZM1517.4 746.6V736.5H1518.6V746.6ZM1518.6 746.6V730.3H1520.2V746.6ZM1520.2 746.6V733.0H1521.8V746.6ZM1521.8 746.6V732.4H1522.9V746.6ZM1522.9 746.6V735.1H1524.5V746.6ZM1524.5 746.6V739.1H1526.1V746.6ZM1526.1 746.6V733.2H1527.7V746.6ZM1527.7 746.6V738.6H1529.3V746.6ZM1529.3 746.6V737.3H1530.9V746.6ZM1530.9 746.6V738.4H1531.4V746.6ZM1531.4 746.6V735.7H1533.0V746.6ZM1533.0 746.6V729.1H1534.6V746.6ZM1534.6 746.6V725.8H1536.2V746.6ZM1536.2 746.6V731.2H1537.1V746.6ZM1537.1 746.6V738.3H1538.7V746.6ZM1538.7 746.6V735.3H1540.3V746.6ZM1540.3 746.6V732.1H1541.9V746.6ZM1541.9 746.6V731.5H1543.5V746.6ZM1543.5 746.6V734.8H1545.1V746.6ZM1545.1 746.6V733.9H1545.7V746.6ZM1545.7 746.6V737.0H1547.3V746.6ZM1547.3 746.6V734.9H1548.9V746.6ZM1548.9 746.6V738.2H1550.5V746.6ZM1550.5 746.6V732.5H1551.4V746.6ZM1551.4 746.6V738.5H1553.0V746.6ZM1553.0 746.6V737.8H1554.6V746.6ZM1554.6 746.6V736.1H1556.2V746.6ZM1556.2 746.6V737.7H1557.8V746.6ZM1557.8 746.6V738.8H1559.4V746.6ZM1559.4 746.6V739.6H1561.0V746.6ZM1561.0 746.6V736.9H1562.6V746.6ZM1562.6 746.6V735.6H1564.2V746.6ZM1564.2 746.6V738.2H1564.3V746.6ZM1564.3 746.6V742.5H1565.9V746.6ZM1565.9 746.6V741.0H1567.5V746.6ZM1567.5 746.6V741.4H1569.1V746.6ZM1569.1 746.6V741.3H1570.7V746.6ZM1570.7 746.6V742.5H1572.3V746.6ZM1572.3 746.6V741.0H1573.9V746.6ZM1573.9 746.6V742.8H1575.5V746.6ZM1575.5 746.6V741.4H1577.1V746.6ZM1577.1 746.6V742.2H1578.7V746.6ZM1578.7 746.6V742.5H1580.3V746.6ZM1580.3 746.6V740.3H1581.9V746.6ZM1581.9 746.6V740.1H1583.5V746.6ZM1583.5 746.6V740.3H1584.3V746.6ZM1584.3 746.6V743.7H1585.9V746.6ZM1585.9 746.6V744.8H1587.5V746.6ZM1587.5 746.6V743.9H1589.1V746.6ZM1589.1 746.6V744.3H1590.7V746.6ZM1590.7 746.6V744.7H1592.3V746.6ZM1592.3 746.6V744.3H1593.9V746.6ZM1593.9 746.6V744.0H1595.5V746.6ZM1595.5 746.6V743.7H1597.1V746.6ZM1597.1 746.6V744.8H1598.7V746.6ZM1598.7 746.6V744.2H1600.0V746.6ZM1600.0 746.6V744.9H1601.6V746.6ZM1601.6 746.6V744.9H1603.2V746.6ZM1603.2 746.6V745.1H1604.8V746.6ZM1606.4 746.6V745.7H1608.0V746.6ZM1608.0 746.6V745.2H1609.6V746.6ZM1609.6 746.6V744.2H1611.2V746.6ZM1611.2 746.6V746.2H1612.8V746.6ZM1612.8 746.6V746.2H1614.4V746.6ZM1614.4 746.6V744.4H1616.0V746.6ZM1617.6 746.6V746.1H1619.2V746.6ZM1622.4 746.6V745.7H1624.0V746.6ZM1624.0 746.6V744.3H1625.6V746.6ZM1625.6 746.6V746.0H1627.2V746.6ZM1627.2 746.6V746.2H1628.8V746.6ZM1628.8 746.6V745.7H1630.4V746.6ZM1632.0 746.6V746.2H1633.6V746.6ZM1633.6 746.6V745.2H1635.2V746.6ZM1636.8 746.6V745.0H1638.4V746.6ZM1641.6 746.6V746.0H1643.2V746.6ZM1643.2 746.6V745.6H1644.8V746.6ZM1644.8 746.6V745.2H1646.4V746.6ZM1646.4 746.6V745.8H1648.0V746.6ZM1648.0 746.6V745.8H1649.6V746.6ZM1651.2 746.6V744.5H1652.8V746.6ZM1652.8 746.6V745.8H1654.4V746.6ZM1657.6 746.6V746.0H1659.2V746.6ZM1659.2 746.6V744.5H1660.8V746.6ZM1664.0 746.6V746.1H1665.6V746.6ZM1672.0 746.6V746.2H1673.6V746.6ZM1673.6 746.6V745.8H1675.2V746.6ZM1675.2 746.6V745.6H1676.8V746.6ZM1676.8 746.6V746.0H1678.4V746.6ZM1683.2 746.6V746.2H1684.8V746.6ZM1684.8 746.6V744.3H1686.4V746.6ZM1686.4 746.6V744.5H1688.0V746.6ZM1689.6 746.6V745.1H1691.2V746.6ZM1691.2 746.6V746.1H1692.8V746.6ZM1692.8 746.6V745.7H1694.4V746.6ZM1694.4 746.6V745.9H1696.0V746.6ZM1696.0 746.6V745.6H1697.6V746.6ZM1697.6 746.6V745.8H1699.2V746.6ZM1699.2 746.6V744.5H1700.8V746.6ZM1700.8 746.6V745.6H1702.4V746.6ZM1702.4 746.6V744.4H1704.0V746.6ZM1705.6 746.6V746.1H1707.2V746.6ZM1707.2 746.6V745.5H1708.8V746.6ZM1708.8 746.6V745.6H1710.4V746.6ZM1710.4 746.6V746.2H1712.0V746.6ZM1718.4 746.6V745.1H1720.0V746.6ZM1721.6 746.6V745.5H1723.2V746.6ZM1723.2 746.6V746.1H1724.8V746.6ZM1724.8 746.6V746.0H1726.4V746.6ZM1728.0 746.6V744.7H1729.6V746.6ZM1729.6 746.6V745.9H1731.2V746.6ZM1731.2 746.6V746.2H1732.8V746.6ZM1732.8 746.6V745.8H1734.4V746.6ZM1734.4 746.6V746.2H1736.0V746.6ZM1736.0 746.6V745.8H1737.6V746.6ZM1737.6 746.6V745.9H1739.2V746.6ZM1742.4 746.6V745.7H1744.0V746.6ZM1747.2 746.6V745.4H1748.8V746.6ZM1748.8 746.6V745.2H1750.4V746.6ZM1750.4 746.6V745.9H1752.0V746.6ZM1752.0 746.6V745.7H1753.6V746.6ZM1753.6 746.6V746.2H1755.2V746.6ZM1756.8 746.6V744.2H1758.4V746.6ZM1758.4 746.6V745.9H1760.0V746.6ZM1760.0 746.6V745.4H1761.6V746.6ZM1761.6 746.6V744.4H1763.2V746.6ZM1763.2 746.6V746.2H1764.8V746.6ZM1764.8 746.6V744.2H1766.4V746.6ZM1766.4 746.6V744.1H1768.0V746.6ZM1768.0 746.6V745.4H1769.6V746.6ZM1772.8 746.6V745.5H1774.4V746.6ZM1774.4 746.6V745.5H1776.0V746.6ZM1777.6 746.6V746.0H1779.2V746.6ZM1779.2 746.6V745.2H1780.8V746.6ZM1780.8 746.6V746.0H1782.4V746.6ZM1782.4 746.6V745.9H1784.0V746.6ZM1784.0 746.6V745.8H1785.6V746.6ZM1787.2 746.6V745.3H1788.8V746.6ZM1788.8 746.6V745.3H1790.4V746.6ZM1790.4 746.6V746.0H1792.0V746.6ZM1792.0 746.6V745.3H1793.6V746.6ZM1793.6 746.6V745.1H1795.2V746.6ZM1795.2 746.6V745.2H1796.8V746.6ZM1796.8 746.6V744.8H1798.4V746.6ZM1800.0 746.6V745.9H1801.6V746.6ZM1803.2 746.6V746.0H1804.8V746.6ZM1804.8 746.6V745.2H1806.4V746.6ZM1806.4 746.6V746.2H1808.0V746.6ZM1808.0 746.6V746.2H1809.6V746.6ZM1809.6 746.6V744.8H1811.2V746.6ZM1811.2 746.6V744.9H1812.8V746.6ZM1812.8 746.6V746.1H1814.4V746.6ZM1814.4 746.6V746.1H1816.0V746.6ZM1816.0 746.6V746.2H1817.6V746.6ZM1817.6 746.6V744.5H1819.2V746.6ZM1820.8 746.6V745.2H1822.4V746.6ZM1822.4 746.6V744.2H1824.0V746.6ZM1824.0 746.6V746.1H1825.6V746.6ZM1825.6 746.6V745.0H1827.2V746.6ZM1835.2 746.6V744.9H1836.8V746.6ZM1836.8 746.6V746.1H1838.4V746.6ZM1838.4 746.6V746.1H1840.0V746.6ZM1840.0 746.6V744.1H1841.6V746.6ZM1844.8 746.6V745.4H1846.4V746.6ZM1846.4 746.6V745.7H1848.0V746.6ZM1848.0 746.6V746.2H1849.6V746.6ZM1849.6 746.6V743.1H1851.2V746.6ZM1851.2 746.6V745.4H1852.8V746.6ZM1852.8 746.6V746.0H1854.4V746.6ZM1857.6 746.6V744.3H1859.2V746.6ZM1859.2 746.6V746.2H1860.8V746.6ZM1860.8 746.6V744.7H1862.4V746.6ZM1862.4 746.6V744.2H1864.0V746.6ZM1864.0 746.6V745.1H1865.6V746.6ZM1865.6 746.6V745.2H1867.2V746.6ZM1867.2 746.6V745.9H1868.8V746.6ZM1868.8 746.6V746.2H1870.4V746.6ZM1870.4 746.6V745.6H1872.0V746.6ZM1872.0 746.6V744.5H1873.6V746.6ZM1873.6 746.6V745.4H1875.2V746.6ZM1875.2 746.6V746.2H1876.8V746.6ZM1876.8 746.6V743.4H1878.4V746.6ZM1880.0 746.6V745.9H1881.6V746.6ZM1881.6 746.6V746.2H1883.2V746.6ZM1883.2 746.6V745.4H1884.8V746.6ZM1884.8 746.6V745.9H1886.4V746.6ZM1886.4 746.6V743.2H1888.0V746.6ZM1888.0 746.6V744.6H1889.6V746.6ZM1892.8 746.6V744.2H1894.4V746.6ZM1894.4 746.6V744.5H1896.0V746.6ZM1896.0 746.6V745.2H1897.6V746.6ZM1897.6 746.6V744.8H1899.2V746.6ZM1899.2 746.6V745.7H1900.8V746.6ZM1900.8 746.6V745.9H1902.4V746.6ZM1904.0 746.6V746.2H1905.6V746.6ZM1905.6 746.6V746.1H1907.2V746.6ZM1907.2 746.6V745.4H1908.8V746.6ZM1908.8 746.6V745.6H1910.4V746.6ZM1910.4 746.6V746.1H1912.0V746.6ZM1913.6 746.6V746.2H1915.2V746.6ZM1915.2 746.6V745.5H1916.8V746.6ZM1918.4 746.6V745.9H1920.0V746.6ZM1920.0 746.6V745.5H1921.6V746.6ZM1921.6 746.6V745.2H1923.2V746.6ZM1923.2 746.6V746.1H1924.8V746.6ZM1924.8 746.6V746.1H1926.4V746.6ZM1926.4 746.6V746.0H1928.0V746.6ZM1928.0 746.6V746.0H1929.6V746.6ZM1929.6 746.6V745.9H1931.2V746.6ZM1931.2 746.6V745.1H1932.8V746.6ZM1932.8 746.6V746.2H1934.4V746.6ZM1934.4 746.6V745.5H1936.0V746.6ZM1936.0 746.6V745.9H1937.6V746.6ZM1937.6 746.6V743.3H1939.2V746.6ZM1939.2 746.6V746.2H1940.8V746.6ZM1940.8 746.6V746.1H1942.4V746.6ZM1942.4 746.6V746.2H1944.0V746.6ZM1944.0 746.6V744.5H1945.6V746.6ZM1945.6 746.6V746.0H1947.2V746.6ZM1947.2 746.6V745.8H1948.8V746.6ZM1948.8 746.6V746.2H1950.4V746.6ZM1952.0 746.6V745.8H1953.6V746.6ZM1953.6 746.6V745.6H1955.2V746.6ZM1955.2 746.6V745.0H1956.8V746.6ZM1956.8 746.6V744.6H1958.4V746.6ZM1958.4 746.6V745.3H1960.0V746.6ZM1961.6 746.6V745.1H1963.2V746.6ZM1966.4 746.6V745.2H1968.0V746.6ZM1968.0 746.6V745.7H1969.6V746.6ZM1969.6 746.6V746.1H1971.2V746.6ZM1971.2 746.6V744.9H1972.8V746.6ZM1974.4 746.6V744.2H1976.0V746.6ZM1976.0 746.6V744.8H1977.6V746.6ZM1979.2 746.6V745.3H1980.8V746.6ZM1980.8 746.6V745.1H1982.4V746.6ZM1982.4 746.6V746.1H1984.0V746.6ZM1985.6 746.6V746.0H1987.2V746.6ZM1988.8 746.6V743.6H1990.4V746.6ZM1990.4 746.6V745.8H1992.0V746.6ZM1992.0 746.6V746.1H1993.6V746.6ZM1993.6 746.6V746.1H1995.2V746.6ZM1995.2 746.6V745.2H1996.8V746.6ZM1996.8 746.6V744.1H1998.4V746.6ZM2000.0 746.6V745.9H2001.6V746.6ZM2001.6 746.6V746.1H2003.2V746.6ZM2003.2 746.6V744.9H2004.8V746.6ZM2004.8 746.6V746.1H2006.4V746.6ZM2008.0 746.6V744.6H2009.6V746.6ZM2016.0 746.6V746.1H2017.6V746.6ZM2017.6 746.6V746.2H2019.2V746.6ZM2019.2 746.6V745.7H2020.8V746.6ZM2020.8 746.6V745.6H2022.4V746.6ZM2025.6 746.6V744.8H2027.2V746.6ZM2027.2 746.6V745.5H2028.8V746.6ZM2030.4 746.6V745.5H2032.0V746.6ZM2035.2 746.6V745.7H2036.8V746.6ZM2036.8 746.6V744.5H2038.4V746.6ZM2038.4 746.6V745.5H2040.0V746.6ZM2040.0 746.6V746.0H2041.6V746.6ZM2041.6 746.6V745.1H2043.2V746.6ZM2043.2 746.6V745.6H2044.8V746.6ZM2046.4 746.6V745.7H2048.0V746.6ZM2048.0 746.6V745.2H2049.6V746.6ZM2049.6 746.6V745.6H2051.2V746.6ZM2052.8 746.6V745.0H2054.4V746.6ZM2056.0 746.6V743.3H2057.6V746.6ZM2057.6 746.6V745.2H2059.2V746.6ZM2059.2 746.6V744.2H2060.8V746.6ZM2062.4 746.6V746.1H2064.0V746.6ZM2064.0 746.6V746.2H2065.6V746.6ZM2065.6 746.6V745.5H2067.2V746.6ZM2067.2 746.6V745.5H2068.8V746.6ZM2068.8 746.6V746.1H2070.4V746.6ZM2073.6 746.6V745.9H2075.2V746.6ZM2075.2 746.6V746.1H2076.8V746.6ZM2076.8 746.6V744.7H2078.4V746.6ZM2081.6 746.6V746.1H2083.2V746.6ZM2084.8 746.6V745.8H2086.4V746.6ZM2086.4 746.6V746.2H2088.0V746.6ZM2088.0 746.6V744.4H2089.6V746.6ZM2091.2 746.6V746.2H2092.8V746.6ZM2092.8 746.6V745.6H2094.4V746.6ZM2094.4 746.6V745.8H2096.0V746.6ZM2097.6 746.6V745.9H2099.2V746.6ZM2100.8 746.6V744.8H2102.4V746.6ZM2102.4 746.6V745.7H2104.0V746.6ZM2104.0 746.6V744.8H2105.6V746.6ZM2105.6 746.6V746.2H2106.0V746.6Z" fill="#2D4EA2"/>
<rect x="1177.4" y="745.9" width="928.5999999999999" height="1.4" fill="#2D4EA2"/>
<text x="2104.6" y="741.1" font-size="21" fill="#26408E" stroke="#26408E" text-anchor="end">0 - 0.8</text>
<rect x="1167.8" y="777" width="3.6" height="70" fill="#000"/>
<text transform="translate(1124,808.8) rotate(-90)" font-size="24.5" text-anchor="middle" stroke="#000">embryo</text>
<text transform="translate(1151,808.5) rotate(-90)" font-size="24.5" text-anchor="middle" stroke="#000">cortex</text>
<text x="1183.7" y="786.0" font-size="22.8" fill="#DA2830" stroke="#DA2830">H3K27ac</text>
<path d="M1180.6 791.7V790.3H1182.2V791.7ZM1182.2 791.7V791.2H1183.8V791.7ZM1183.8 791.7V791.2H1185.4V791.7ZM1185.4 791.7V790.6H1187.0V791.7ZM1187.0 791.7V791.2H1188.6V791.7ZM1190.2 791.7V791.3H1191.8V791.7ZM1193.4 791.7V791.2H1195.0V791.7ZM1196.6 791.7V791.3H1198.2V791.7ZM1198.2 791.7V791.3H1199.8V791.7ZM1201.4 791.7V791.1H1203.0V791.7ZM1204.6 791.7V791.1H1206.2V791.7ZM1206.2 791.7V790.8H1207.8V791.7ZM1207.8 791.7V790.7H1209.4V791.7ZM1209.4 791.7V791.1H1211.0V791.7ZM1217.4 791.7V790.4H1219.0V791.7ZM1220.6 791.7V791.1H1222.2V791.7ZM1222.2 791.7V790.9H1223.8V791.7ZM1225.4 791.7V790.6H1227.0V791.7ZM1227.0 791.7V790.2H1228.6V791.7ZM1228.6 791.7V791.2H1230.2V791.7ZM1230.2 791.7V791.0H1231.8V791.7ZM1235.0 791.7V791.0H1236.6V791.7ZM1236.6 791.7V790.8H1238.2V791.7ZM1238.2 791.7V790.5H1239.8V791.7ZM1241.4 791.7V791.2H1243.0V791.7ZM1243.0 791.7V791.1H1244.6V791.7ZM1244.6 791.7V791.2H1246.2V791.7ZM1247.8 791.7V790.7H1249.4V791.7ZM1249.4 791.7V790.6H1251.0V791.7ZM1251.0 791.7V790.7H1252.6V791.7ZM1252.6 791.7V790.4H1254.2V791.7ZM1255.8 791.7V790.3H1257.4V791.7ZM1259.0 791.7V790.6H1260.6V791.7ZM1262.2 791.7V790.3H1263.8V791.7ZM1263.8 791.7V790.4H1265.4V791.7ZM1267.0 791.7V791.3H1268.6V791.7ZM1273.4 791.7V790.9H1275.0V791.7ZM1275.0 791.7V791.2H1276.6V791.7ZM1278.2 791.7V790.7H1279.8V791.7ZM1279.8 791.7V790.8H1281.4V791.7ZM1281.4 791.7V790.5H1283.0V791.7ZM1283.0 791.7V791.3H1284.6V791.7ZM1286.2 791.7V790.9H1287.8V791.7ZM1287.8 791.7V791.1H1289.4V791.7ZM1289.4 791.7V790.9H1291.0V791.7ZM1295.8 791.7V790.7H1297.4V791.7ZM1297.4 791.7V790.7H1299.0V791.7ZM1300.6 791.7V791.2H1302.2V791.7ZM1302.2 791.7V791.2H1303.8V791.7ZM1303.8 791.7V790.2H1305.4V791.7ZM1308.6 791.7V791.3H1310.2V791.7ZM1310.2 791.7V791.2H1311.8V791.7ZM1316.6 791.7V791.1H1318.2V791.7ZM1318.2 791.7V789.7H1319.8V791.7ZM1321.4 791.7V791.3H1323.0V791.7ZM1323.0 791.7V790.4H1324.6V791.7ZM1324.6 791.7V791.1H1326.2V791.7ZM1326.2 791.7V790.4H1327.8V791.7ZM1327.8 791.7V790.6H1329.4V791.7ZM1331.0 791.7V790.8H1332.6V791.7ZM1332.6 791.7V791.2H1334.2V791.7ZM1335.8 791.7V791.3H1337.4V791.7ZM1339.0 791.7V791.3H1340.6V791.7ZM1340.6 791.7V791.0H1342.2V791.7ZM1342.2 791.7V790.6H1343.8V791.7ZM1343.8 791.7V790.9H1345.4V791.7ZM1345.4 791.7V791.2H1347.0V791.7ZM1347.0 791.7V790.3H1348.6V791.7ZM1350.2 791.7V790.9H1351.8V791.7ZM1355.0 791.7V790.7H1356.6V791.7ZM1356.6 791.7V790.8H1358.2V791.7ZM1358.2 791.7V791.0H1359.8V791.7ZM1359.8 791.7V790.2H1361.4V791.7ZM1363.0 791.7V790.7H1364.6V791.7ZM1366.2 791.7V791.1H1367.8V791.7ZM1367.8 791.7V789.6H1369.4V791.7ZM1369.4 791.7V790.5H1371.0V791.7ZM1371.0 791.7V791.3H1372.6V791.7ZM1375.8 791.7V790.6H1377.4V791.7ZM1377.4 791.7V791.0H1379.0V791.7ZM1382.9 791.7V790.8H1384.5V791.7ZM1384.5 791.7V790.1H1386.1V791.7ZM1386.1 791.7V789.9H1387.7V791.7ZM1387.7 791.7V790.9H1389.3V791.7ZM1389.3 791.7V790.3H1390.9V791.7ZM1390.9 791.7V791.2H1392.5V791.7ZM1392.5 791.7V790.4H1394.1V791.7ZM1394.1 791.7V789.8H1395.7V791.7ZM1395.7 791.7V790.0H1397.1V791.7ZM1397.1 791.7V786.6H1398.7V791.7ZM1398.7 791.7V787.1H1400.3V791.7ZM1400.3 791.7V786.8H1401.9V791.7ZM1401.9 791.7V785.1H1403.5V791.7ZM1403.5 791.7V784.5H1405.1V791.7ZM1405.1 791.7V784.5H1405.7V791.7ZM1405.7 791.7V780.9H1407.3V791.7ZM1407.3 791.7V771.2H1408.9V791.7ZM1408.9 791.7V775.7H1410.5V791.7ZM1410.5 791.7V778.1H1412.1V791.7ZM1412.1 791.7V780.5H1413.7V791.7ZM1413.7 791.7V775.1H1414.3V791.7ZM1414.3 791.7V786.1H1415.9V791.7ZM1415.9 791.7V787.1H1417.5V791.7ZM1417.5 791.7V786.4H1418.6V791.7ZM1418.6 791.7V788.0H1420.2V791.7ZM1420.2 791.7V787.3H1421.8V791.7ZM1421.8 791.7V785.7H1423.4V791.7ZM1423.4 791.7V785.8H1425.0V791.7ZM1425.0 791.7V786.0H1425.7V791.7ZM1425.7 791.7V790.3H1427.3V791.7ZM1427.3 791.7V789.7H1428.9V791.7ZM1428.9 791.7V788.8H1430.5V791.7ZM1430.5 791.7V790.9H1430.7V791.7ZM1430.7 791.7V782.1H1432.3V791.7ZM1432.3 791.7V784.6H1433.9V791.7ZM1433.9 791.7V784.4H1435.5V791.7ZM1435.5 791.7V780.9H1437.1V791.7ZM1437.1 791.7V784.0H1438.7V791.7ZM1438.7 791.7V781.3H1440.0V791.7ZM1440.0 791.7V784.5H1441.6V791.7ZM1441.6 791.7V784.1H1443.2V791.7ZM1443.2 791.7V786.5H1444.8V791.7ZM1444.8 791.7V786.4H1446.4V791.7ZM1446.4 791.7V786.6H1448.0V791.7ZM1448.0 791.7V786.9H1449.6V791.7ZM1449.6 791.7V786.5H1451.2V791.7ZM1451.2 791.7V785.8H1452.1V791.7ZM1452.1 791.7V790.4H1453.7V791.7ZM1453.7 791.7V789.6H1455.3V791.7ZM1455.3 791.7V789.1H1456.9V791.7ZM1456.9 791.7V789.3H1458.5V791.7ZM1458.5 791.7V790.3H1460.1V791.7ZM1460.1 791.7V789.7H1461.7V791.7ZM1461.7 791.7V790.4H1463.3V791.7ZM1463.3 791.7V790.2H1464.9V791.7ZM1464.9 791.7V790.0H1466.5V791.7ZM1466.5 791.7V789.3H1468.1V791.7ZM1468.1 791.7V789.4H1469.7V791.7ZM1469.7 791.7V789.6H1471.3V791.7ZM1471.3 791.7V789.5H1471.4V791.7ZM1471.4 791.7V789.4H1473.0V791.7ZM1473.0 791.7V788.8H1474.6V791.7ZM1474.6 791.7V789.3H1476.2V791.7ZM1476.2 791.7V789.2H1477.8V791.7ZM1477.8 791.7V789.4H1479.4V791.7ZM1479.4 791.7V789.3H1481.0V791.7ZM1481.0 791.7V788.8H1482.6V791.7ZM1482.6 791.7V788.5H1484.2V791.7ZM1484.2 791.7V789.8H1485.8V791.7ZM1485.8 791.7V789.4H1487.4V791.7ZM1487.4 791.7V789.2H1489.0V791.7ZM1489.0 791.7V789.7H1490.6V791.7ZM1490.6 791.7V789.6H1492.2V791.7ZM1492.2 791.7V789.1H1492.9V791.7ZM1492.9 791.7V791.2H1494.5V791.7ZM1494.5 791.7V790.8H1496.1V791.7ZM1496.1 791.7V790.1H1497.7V791.7ZM1497.7 791.7V790.9H1499.3V791.7ZM1499.3 791.7V790.1H1500.9V791.7ZM1500.9 791.7V789.9H1502.5V791.7ZM1502.5 791.7V789.9H1504.1V791.7ZM1504.1 791.7V790.2H1505.7V791.7ZM1505.7 791.7V789.9H1507.3V791.7ZM1507.3 791.7V790.0H1508.9V791.7ZM1508.9 791.7V789.7H1510.5V791.7ZM1510.5 791.7V790.5H1512.1V791.7ZM1512.1 791.7V790.1H1513.7V791.7ZM1513.7 791.7V791.0H1515.3V791.7ZM1515.3 791.7V790.3H1516.9V791.7ZM1516.9 791.7V791.0H1518.5V791.7ZM1518.5 791.7V790.6H1520.1V791.7ZM1520.1 791.7V790.7H1521.7V791.7ZM1521.7 791.7V790.5H1523.3V791.7ZM1523.3 791.7V789.8H1524.9V791.7ZM1524.9 791.7V790.5H1526.5V791.7ZM1526.5 791.7V789.9H1528.1V791.7ZM1528.1 791.7V789.8H1529.7V791.7ZM1529.7 791.7V790.9H1531.3V791.7ZM1531.3 791.7V790.6H1532.9V791.7ZM1532.9 791.7V790.5H1534.5V791.7ZM1534.5 791.7V789.8H1536.1V791.7ZM1536.1 791.7V789.8H1537.7V791.7ZM1537.7 791.7V790.9H1539.3V791.7ZM1539.3 791.7V789.8H1540.9V791.7ZM1540.9 791.7V791.1H1542.5V791.7ZM1542.5 791.7V790.4H1544.1V791.7ZM1544.1 791.7V790.8H1545.0V791.7ZM1545.0 791.7V790.1H1546.6V791.7ZM1546.6 791.7V789.7H1548.0V791.7ZM1548.0 791.7V790.1H1549.6V791.7ZM1549.6 791.7V791.0H1551.2V791.7ZM1551.2 791.7V790.9H1552.8V791.7ZM1552.8 791.7V791.1H1553.0V791.7ZM1553.0 791.7V791.2H1554.6V791.7ZM1554.6 791.7V790.1H1556.2V791.7ZM1556.2 791.7V790.3H1557.8V791.7ZM1557.8 791.7V791.3H1559.4V791.7ZM1559.4 791.7V791.3H1561.0V791.7ZM1561.0 791.7V791.3H1562.6V791.7ZM1564.2 791.7V790.5H1565.8V791.7ZM1565.8 791.7V790.8H1567.4V791.7ZM1567.4 791.7V791.3H1569.0V791.7ZM1569.0 791.7V790.1H1570.6V791.7ZM1570.6 791.7V790.3H1572.2V791.7ZM1572.2 791.7V791.0H1573.8V791.7ZM1575.4 791.7V790.7H1577.0V791.7ZM1577.0 791.7V791.1H1578.6V791.7ZM1581.8 791.7V790.7H1583.4V791.7ZM1583.4 791.7V791.3H1585.0V791.7ZM1586.6 791.7V791.1H1588.2V791.7ZM1591.4 791.7V790.7H1593.0V791.7ZM1593.0 791.7V791.0H1594.6V791.7ZM1594.6 791.7V790.8H1596.2V791.7ZM1596.2 791.7V790.3H1597.8V791.7ZM1601.0 791.7V790.8H1602.6V791.7ZM1604.2 791.7V791.1H1605.8V791.7ZM1605.8 791.7V791.3H1607.4V791.7ZM1607.4 791.7V790.6H1609.0V791.7ZM1609.0 791.7V791.2H1610.6V791.7ZM1610.6 791.7V790.6H1612.2V791.7ZM1612.2 791.7V791.3H1613.8V791.7ZM1613.8 791.7V790.8H1615.4V791.7ZM1618.6 791.7V790.9H1620.2V791.7ZM1621.8 791.7V791.2H1623.4V791.7ZM1623.4 791.7V791.3H1625.0V791.7ZM1628.2 791.7V791.2H1629.8V791.7ZM1629.8 791.7V790.6H1631.4V791.7ZM1631.4 791.7V790.9H1633.0V791.7ZM1633.0 791.7V791.2H1634.6V791.7ZM1634.6 791.7V789.8H1636.2V791.7ZM1636.2 791.7V790.0H1637.8V791.7ZM1639.4 791.7V791.3H1641.0V791.7ZM1647.4 791.7V791.2H1649.0V791.7ZM1649.0 791.7V790.7H1650.6V791.7ZM1650.6 791.7V790.4H1652.2V791.7ZM1652.2 791.7V790.5H1653.8V791.7ZM1657.0 791.7V790.1H1658.6V791.7ZM1658.6 791.7V791.1H1660.2V791.7ZM1660.2 791.7V791.3H1661.8V791.7ZM1661.8 791.7V791.2H1663.4V791.7ZM1663.4 791.7V790.6H1665.0V791.7ZM1665.0 791.7V790.3H1666.6V791.7ZM1666.6 791.7V790.5H1668.2V791.7ZM1668.2 791.7V790.9H1669.8V791.7ZM1676.2 791.7V790.7H1677.8V791.7ZM1679.4 791.7V791.0H1681.0V791.7ZM1681.0 791.7V790.1H1682.6V791.7ZM1682.6 791.7V790.4H1684.2V791.7ZM1684.2 791.7V790.6H1685.8V791.7ZM1685.8 791.7V790.1H1687.4V791.7ZM1689.0 791.7V790.7H1690.6V791.7ZM1692.2 791.7V789.6H1693.8V791.7ZM1693.8 791.7V791.1H1695.4V791.7ZM1698.6 791.7V791.1H1700.2V791.7ZM1700.2 791.7V790.9H1701.8V791.7ZM1701.8 791.7V790.5H1703.4V791.7ZM1703.4 791.7V791.3H1705.0V791.7ZM1705.0 791.7V790.3H1706.6V791.7ZM1708.2 791.7V791.1H1709.8V791.7ZM1711.4 791.7V791.1H1713.0V791.7ZM1713.0 791.7V791.3H1714.6V791.7ZM1714.6 791.7V791.2H1716.2V791.7ZM1716.2 791.7V790.5H1717.8V791.7ZM1717.8 791.7V791.2H1719.4V791.7ZM1719.4 791.7V790.9H1721.0V791.7ZM1721.0 791.7V790.4H1722.6V791.7ZM1725.8 791.7V791.0H1727.4V791.7ZM1727.4 791.7V790.5H1729.0V791.7ZM1729.0 791.7V791.3H1730.6V791.7ZM1730.6 791.7V790.4H1732.2V791.7ZM1733.8 791.7V791.3H1735.4V791.7ZM1735.4 791.7V791.3H1737.0V791.7ZM1737.0 791.7V791.3H1738.6V791.7ZM1738.6 791.7V790.5H1740.2V791.7ZM1745.0 791.7V790.7H1746.6V791.7ZM1746.6 791.7V789.9H1748.2V791.7ZM1748.2 791.7V790.7H1749.8V791.7ZM1751.4 791.7V791.3H1753.0V791.7ZM1754.6 791.7V791.1H1756.2V791.7ZM1757.8 791.7V790.8H1759.4V791.7ZM1759.4 791.7V791.2H1761.0V791.7ZM1761.0 791.7V791.1H1762.6V791.7ZM1764.2 791.7V790.4H1765.8V791.7ZM1765.8 791.7V791.0H1767.4V791.7ZM1769.0 791.7V791.3H1770.6V791.7ZM1770.6 791.7V790.1H1772.2V791.7ZM1772.2 791.7V791.0H1773.8V791.7ZM1773.8 791.7V791.0H1775.4V791.7ZM1777.0 791.7V790.6H1778.6V791.7ZM1781.8 791.7V790.1H1783.4V791.7ZM1785.0 791.7V791.0H1786.6V791.7ZM1786.6 791.7V790.9H1788.2V791.7ZM1789.8 791.7V790.5H1791.4V791.7ZM1794.6 791.7V791.0H1796.2V791.7ZM1796.2 791.7V791.1H1797.8V791.7ZM1799.4 791.7V791.2H1801.0V791.7ZM1801.0 791.7V791.3H1802.6V791.7ZM1804.2 791.7V791.3H1805.8V791.7ZM1805.8 791.7V790.6H1807.4V791.7ZM1807.4 791.7V790.9H1809.0V791.7ZM1809.0 791.7V791.3H1810.6V791.7ZM1812.2 791.7V791.3H1813.8V791.7ZM1815.4 791.7V791.2H1817.0V791.7ZM1817.0 791.7V791.2H1818.6V791.7ZM1818.6 791.7V791.2H1820.2V791.7ZM1820.2 791.7V790.3H1821.8V791.7ZM1821.8 791.7V790.7H1823.4V791.7ZM1823.4 791.7V791.3H1825.0V791.7ZM1825.0 791.7V791.1H1826.6V791.7ZM1826.6 791.7V790.8H1828.2V791.7ZM1828.2 791.7V790.6H1829.8V791.7ZM1829.8 791.7V790.9H1831.4V791.7ZM1831.4 791.7V791.3H1833.0V791.7ZM1833.0 791.7V791.2H1834.6V791.7ZM1834.6 791.7V791.3H1836.2V791.7ZM1836.2 791.7V790.8H1837.8V791.7ZM1839.4 791.7V790.4H1841.0V791.7ZM1841.0 791.7V791.3H1842.6V791.7ZM1842.6 791.7V791.3H1844.2V791.7ZM1844.2 791.7V791.2H1845.8V791.7ZM1845.8 791.7V790.1H1847.4V791.7ZM1847.4 791.7V790.3H1849.0V791.7ZM1849.0 791.7V790.3H1850.6V791.7ZM1852.2 791.7V791.0H1853.8V791.7ZM1855.4 791.7V791.1H1857.0V791.7ZM1857.0 791.7V790.4H1858.6V791.7ZM1858.6 791.7V791.1H1860.2V791.7ZM1860.2 791.7V791.0H1861.8V791.7ZM1863.4 791.7V790.2H1865.0V791.7ZM1868.2 791.7V791.0H1869.8V791.7ZM1869.8 791.7V791.0H1871.4V791.7ZM1871.4 791.7V791.2H1873.0V791.7ZM1873.0 791.7V791.3H1874.6V791.7ZM1874.6 791.7V791.1H1876.2V791.7ZM1879.4 791.7V791.3H1881.0V791.7ZM1881.0 791.7V790.4H1882.6V791.7ZM1882.6 791.7V790.5H1884.2V791.7ZM1884.2 791.7V791.0H1885.8V791.7ZM1889.0 791.7V790.3H1890.6V791.7ZM1890.6 791.7V790.5H1892.2V791.7ZM1892.2 791.7V790.3H1893.8V791.7ZM1893.8 791.7V791.2H1895.4V791.7ZM1898.6 791.7V791.2H1900.2V791.7ZM1901.8 791.7V790.8H1903.4V791.7ZM1903.4 791.7V790.0H1905.0V791.7ZM1906.6 791.7V790.3H1908.2V791.7ZM1908.2 791.7V791.3H1909.8V791.7ZM1909.8 791.7V790.7H1911.4V791.7ZM1916.2 791.7V790.1H1917.8V791.7ZM1919.4 791.7V790.5H1921.0V791.7ZM1930.6 791.7V791.1H1932.2V791.7ZM1932.2 791.7V791.3H1933.8V791.7ZM1933.8 791.7V791.1H1935.4V791.7ZM1937.0 791.7V791.1H1938.6V791.7ZM1940.2 791.7V790.4H1941.8V791.7ZM1941.8 791.7V791.3H1943.4V791.7ZM1945.0 791.7V790.8H1946.6V791.7ZM1946.6 791.7V790.8H1948.2V791.7ZM1948.2 791.7V790.4H1949.8V791.7ZM1949.8 791.7V791.2H1951.4V791.7ZM1951.4 791.7V790.6H1953.0V791.7ZM1953.0 791.7V791.3H1954.6V791.7ZM1954.6 791.7V790.4H1956.2V791.7ZM1956.2 791.7V790.2H1957.8V791.7ZM1959.4 791.7V791.3H1961.0V791.7ZM1961.0 791.7V791.0H1962.6V791.7ZM1962.6 791.7V790.8H1964.2V791.7ZM1967.4 791.7V791.2H1969.0V791.7ZM1970.6 791.7V791.0H1972.2V791.7ZM1973.8 791.7V791.0H1975.4V791.7ZM1975.4 791.7V791.2H1977.0V791.7ZM1978.6 791.7V791.2H1980.2V791.7ZM1981.8 791.7V791.3H1983.4V791.7ZM1986.6 791.7V791.3H1988.2V791.7ZM1989.8 791.7V790.7H1991.4V791.7ZM1991.4 791.7V790.4H1993.0V791.7ZM1993.0 791.7V791.3H1994.6V791.7ZM1994.6 791.7V791.0H1996.2V791.7ZM1996.2 791.7V790.9H1997.8V791.7ZM1997.8 791.7V790.5H1999.4V791.7ZM1999.4 791.7V791.1H2001.0V791.7ZM2001.0 791.7V791.1H2002.6V791.7ZM2002.6 791.7V790.6H2004.2V791.7ZM2004.2 791.7V790.9H2005.8V791.7ZM2005.8 791.7V790.3H2007.4V791.7ZM2007.4 791.7V790.5H2009.0V791.7ZM2013.8 791.7V790.8H2015.4V791.7ZM2018.6 791.7V791.3H2020.2V791.7ZM2021.8 791.7V790.6H2023.4V791.7ZM2025.0 791.7V790.4H2026.6V791.7ZM2026.6 791.7V790.4H2028.2V791.7ZM2028.2 791.7V791.3H2029.8V791.7ZM2029.8 791.7V791.3H2031.4V791.7ZM2031.4 791.7V791.3H2033.0V791.7ZM2034.6 791.7V791.2H2036.2V791.7ZM2036.2 791.7V791.1H2037.8V791.7ZM2037.8 791.7V790.7H2039.4V791.7ZM2042.6 791.7V790.7H2044.2V791.7ZM2047.4 791.7V790.4H2049.0V791.7ZM2049.0 791.7V791.3H2050.6V791.7ZM2052.2 791.7V791.2H2053.8V791.7ZM2057.0 791.7V791.3H2058.6V791.7ZM2058.6 791.7V791.1H2060.2V791.7ZM2060.2 791.7V791.1H2061.8V791.7ZM2063.4 791.7V791.2H2065.0V791.7ZM2068.2 791.7V791.3H2069.8V791.7ZM2073.0 791.7V791.3H2074.6V791.7ZM2074.6 791.7V790.2H2076.2V791.7ZM2076.2 791.7V790.9H2077.8V791.7ZM2077.8 791.7V791.2H2079.4V791.7ZM2079.4 791.7V790.6H2081.0V791.7ZM2081.0 791.7V791.3H2082.6V791.7ZM2082.6 791.7V791.2H2084.2V791.7ZM2087.4 791.7V790.8H2089.0V791.7ZM2092.2 791.7V791.3H2093.8V791.7ZM2097.0 791.7V791.3H2098.6V791.7ZM2098.6 791.7V790.2H2100.2V791.7ZM2100.2 791.7V790.6H2101.8V791.7ZM2101.8 791.7V791.2H2103.4V791.7Z" fill="#E4222B"/>
<rect x="1177.4" y="791.0" width="928.5999999999999" height="1.4" fill="#E4222B"/>
<text x="2104.6" y="783.1" font-size="21" fill="#DA2830" stroke="#DA2830" text-anchor="end">0 - 1.0</text>
<text x="1183.7" y="816.2" font-size="22.8" fill="#26408E" stroke="#26408E">H3K27me3 (NPC)</text>
<path d="M1177.4 818.8V816.7H1179.0V818.8ZM1180.6 818.8V817.1H1182.2V818.8ZM1182.2 818.8V816.0H1183.8V818.8ZM1188.6 818.8V816.4H1190.2V818.8ZM1191.8 818.8V816.7H1193.4V818.8ZM1196.6 818.8V817.4H1198.2V818.8ZM1203.0 818.8V818.2H1204.6V818.8ZM1206.2 818.8V814.9H1207.8V818.8ZM1211.0 818.8V818.3H1212.6V818.8ZM1215.8 818.8V817.6H1217.4V818.8ZM1219.0 818.8V816.5H1220.6V818.8ZM1220.6 818.8V818.3H1222.2V818.8ZM1223.8 818.8V818.4H1225.4V818.8ZM1225.4 818.8V818.4H1227.0V818.8ZM1227.0 818.8V815.3H1228.6V818.8ZM1228.6 818.8V815.0H1230.2V818.8ZM1230.2 818.8V816.5H1231.8V818.8ZM1231.8 818.8V815.0H1233.4V818.8ZM1233.4 818.8V814.8H1235.0V818.8ZM1235.0 818.8V815.8H1236.6V818.8ZM1236.6 818.8V816.7H1238.2V818.8ZM1238.2 818.8V814.9H1239.8V818.8ZM1239.8 818.8V816.4H1241.4V818.8ZM1241.4 818.8V816.4H1243.0V818.8ZM1244.6 818.8V818.3H1246.2V818.8ZM1246.2 818.8V815.9H1247.8V818.8ZM1247.8 818.8V818.4H1249.4V818.8ZM1249.4 818.8V818.4H1251.0V818.8ZM1251.0 818.8V818.4H1252.6V818.8ZM1254.2 818.8V817.2H1255.8V818.8ZM1257.4 818.8V818.0H1259.0V818.8ZM1259.0 818.8V817.9H1260.6V818.8ZM1260.6 818.8V818.3H1262.2V818.8ZM1262.2 818.8V815.3H1263.8V818.8ZM1265.4 818.8V818.3H1267.0V818.8ZM1267.0 818.8V817.1H1268.6V818.8ZM1268.6 818.8V817.3H1270.2V818.8ZM1271.0 818.8V815.9H1272.6V818.8ZM1272.6 818.8V815.7H1274.2V818.8ZM1274.2 818.8V815.8H1275.8V818.8ZM1275.8 818.8V816.0H1277.4V818.8ZM1277.4 818.8V816.0H1279.0V818.8ZM1279.0 818.8V816.4H1280.6V818.8ZM1280.6 818.8V815.7H1282.2V818.8ZM1282.2 818.8V815.6H1283.0V818.8ZM1284.6 818.8V816.2H1286.2V818.8ZM1286.2 818.8V816.6H1287.8V818.8ZM1287.8 818.8V816.7H1289.4V818.8ZM1289.4 818.8V818.4H1291.0V818.8ZM1292.6 818.8V816.6H1294.2V818.8ZM1294.2 818.8V816.8H1295.8V818.8ZM1297.4 818.8V818.0H1299.0V818.8ZM1299.0 818.8V818.4H1300.6V818.8ZM1300.6 818.8V818.4H1302.2V818.8ZM1302.2 818.8V815.9H1303.8V818.8ZM1303.8 818.8V815.6H1305.4V818.8ZM1308.6 818.8V816.5H1310.2V818.8ZM1310.2 818.8V818.4H1311.8V818.8ZM1315.0 818.8V815.1H1316.6V818.8ZM1316.6 818.8V816.9H1318.2V818.8ZM1318.2 818.8V817.8H1319.8V818.8ZM1319.8 818.8V817.9H1321.4V818.8ZM1321.4 818.8V816.3H1323.0V818.8ZM1323.0 818.8V816.7H1324.6V818.8ZM1326.2 818.8V817.4H1327.8V818.8ZM1329.4 818.8V817.4H1331.0V818.8ZM1331.0 818.8V814.2H1332.6V818.8ZM1334.2 818.8V818.3H1335.8V818.8ZM1339.0 818.8V818.4H1340.6V818.8ZM1342.2 818.8V818.1H1343.8V818.8ZM1343.8 818.8V817.1H1345.4V818.8ZM1351.8 818.8V818.2H1353.4V818.8ZM1356.6 818.8V815.7H1358.2V818.8ZM1358.2 818.8V813.6H1359.8V818.8ZM1359.8 818.8V818.4H1361.4V818.8ZM1361.4 818.8V818.3H1363.0V818.8ZM1363.0 818.8V818.3H1364.6V818.8ZM1377.4 818.8V815.5H1379.0V818.8ZM1382.2 818.8V818.3H1383.8V818.8ZM1383.8 818.8V815.8H1385.4V818.8ZM1388.6 818.8V816.9H1390.2V818.8ZM1390.2 818.8V815.7H1391.8V818.8ZM1395.0 818.8V818.0H1396.6V818.8ZM1396.6 818.8V817.6H1398.2V818.8ZM1401.4 818.8V815.4H1403.0V818.8ZM1406.2 818.8V818.0H1407.8V818.8ZM1414.2 818.8V816.3H1415.8V818.8ZM1417.4 818.8V817.2H1419.0V818.8ZM1420.6 818.8V818.0H1422.2V818.8ZM1422.2 818.8V817.2H1423.8V818.8ZM1423.8 818.8V817.0H1425.4V818.8ZM1425.4 818.8V818.3H1427.0V818.8ZM1427.0 818.8V818.3H1428.6V818.8ZM1428.6 818.8V817.4H1430.2V818.8ZM1434.3 818.8V814.3H1435.9V818.8ZM1435.9 818.8V813.6H1437.5V818.8ZM1437.5 818.8V815.2H1439.1V818.8ZM1439.1 818.8V812.9H1440.7V818.8ZM1440.7 818.8V813.0H1442.3V818.8ZM1442.3 818.8V812.8H1443.9V818.8ZM1443.9 818.8V812.6H1445.5V818.8ZM1445.5 818.8V814.0H1447.1V818.8ZM1447.1 818.8V812.3H1448.7V818.8ZM1448.7 818.8V812.4H1450.3V818.8ZM1450.3 818.8V814.4H1451.9V818.8ZM1451.9 818.8V814.8H1453.5V818.8ZM1453.5 818.8V812.6H1455.1V818.8ZM1455.1 818.8V812.5H1455.7V818.8ZM1455.7 818.8V809.9H1457.3V818.8ZM1457.3 818.8V810.4H1458.9V818.8ZM1458.9 818.8V810.0H1460.5V818.8ZM1460.5 818.8V806.8H1462.1V818.8ZM1462.1 818.8V803.2H1463.7V818.8ZM1463.7 818.8V807.4H1465.3V818.8ZM1465.3 818.8V804.2H1466.9V818.8ZM1466.9 818.8V806.7H1468.5V818.8ZM1468.5 818.8V809.7H1470.1V818.8ZM1470.1 818.8V805.4H1471.4V818.8ZM1471.4 818.8V798.4H1473.0V818.8ZM1473.0 818.8V800.3H1474.6V818.8ZM1474.6 818.8V802.9H1476.2V818.8ZM1476.2 818.8V798.3H1477.8V818.8ZM1477.8 818.8V801.2H1479.4V818.8ZM1479.4 818.8V797.9H1481.0V818.8ZM1481.0 818.8V802.8H1482.6V818.8ZM1482.6 818.8V797.9H1484.2V818.8ZM1484.2 818.8V803.8H1485.8V818.8ZM1485.8 818.8V805.8H1487.4V818.8ZM1487.4 818.8V804.8H1489.0V818.8ZM1489.0 818.8V805.7H1490.6V818.8ZM1490.6 818.8V804.0H1491.4V818.8ZM1491.4 818.8V817.5H1493.0V818.8ZM1493.0 818.8V817.1H1494.3V818.8ZM1494.3 818.8V801.9H1495.9V818.8ZM1495.9 818.8V800.1H1497.5V818.8ZM1497.5 818.8V804.6H1499.1V818.8ZM1499.1 818.8V801.5H1500.7V818.8ZM1500.7 818.8V800.8H1502.3V818.8ZM1502.3 818.8V799.2H1503.9V818.8ZM1503.9 818.8V799.7H1505.5V818.8ZM1505.5 818.8V803.0H1505.7V818.8ZM1505.7 818.8V812.2H1507.3V818.8ZM1507.3 818.8V809.7H1508.9V818.8ZM1508.9 818.8V810.3H1510.5V818.8ZM1510.5 818.8V811.1H1512.1V818.8ZM1512.1 818.8V812.8H1513.7V818.8ZM1513.7 818.8V809.0H1515.3V818.8ZM1515.3 818.8V810.8H1516.9V818.8ZM1516.9 818.8V809.3H1518.5V818.8ZM1518.5 818.8V809.8H1520.1V818.8ZM1520.1 818.8V811.4H1521.7V818.8ZM1521.7 818.8V809.9H1523.3V818.8ZM1523.3 818.8V810.4H1524.9V818.8ZM1524.9 818.8V811.2H1526.5V818.8ZM1526.5 818.8V810.0H1528.1V818.8ZM1528.1 818.8V812.0H1529.7V818.8ZM1529.7 818.8V812.8H1531.3V818.8ZM1531.3 818.8V812.4H1531.4V818.8ZM1531.4 818.8V800.5H1533.0V818.8ZM1533.0 818.8V804.6H1534.6V818.8ZM1534.6 818.8V807.5H1536.2V818.8ZM1536.2 818.8V800.5H1537.8V818.8ZM1537.8 818.8V797.5H1539.4V818.8ZM1539.4 818.8V802.8H1541.0V818.8ZM1541.0 818.8V798.2H1542.6V818.8ZM1542.6 818.8V798.4H1544.2V818.8ZM1544.2 818.8V802.5H1545.8V818.8ZM1545.8 818.8V807.4H1547.4V818.8ZM1547.4 818.8V804.5H1549.0V818.8ZM1549.0 818.8V805.8H1550.0V818.8ZM1550.0 818.8V813.3H1551.6V818.8ZM1551.6 818.8V811.5H1553.2V818.8ZM1553.2 818.8V812.9H1554.8V818.8ZM1554.8 818.8V812.5H1556.4V818.8ZM1556.4 818.8V811.0H1558.0V818.8ZM1558.0 818.8V810.5H1559.6V818.8ZM1559.6 818.8V812.2H1561.2V818.8ZM1561.2 818.8V811.3H1562.8V818.8ZM1562.8 818.8V813.5H1564.4V818.8ZM1564.4 818.8V813.5H1565.7V818.8ZM1565.7 818.8V815.9H1567.3V818.8ZM1568.9 818.8V818.4H1570.5V818.8ZM1570.5 818.8V818.2H1572.1V818.8ZM1572.1 818.8V818.4H1573.7V818.8ZM1573.7 818.8V818.4H1575.3V818.8ZM1575.3 818.8V818.3H1576.9V818.8ZM1576.9 818.8V818.4H1578.5V818.8ZM1580.1 818.8V818.0H1581.7V818.8ZM1581.7 818.8V818.4H1583.3V818.8ZM1583.3 818.8V817.7H1584.9V818.8ZM1586.5 818.8V815.9H1588.1V818.8ZM1588.1 818.8V818.3H1589.7V818.8ZM1594.5 818.8V817.4H1596.1V818.8ZM1597.7 818.8V817.2H1599.3V818.8ZM1599.3 818.8V818.2H1600.9V818.8ZM1602.5 818.8V818.4H1604.1V818.8ZM1604.1 818.8V816.3H1605.7V818.8ZM1605.7 818.8V815.9H1607.3V818.8ZM1610.5 818.8V818.3H1612.1V818.8ZM1615.3 818.8V818.0H1616.9V818.8ZM1618.5 818.8V817.6H1620.1V818.8ZM1621.7 818.8V814.7H1623.3V818.8ZM1624.9 818.8V817.2H1626.5V818.8ZM1628.1 818.8V817.6H1629.7V818.8ZM1629.7 818.8V818.4H1631.3V818.8ZM1637.7 818.8V818.4H1639.3V818.8ZM1639.3 818.8V817.7H1640.9V818.8ZM1644.1 818.8V816.7H1645.7V818.8ZM1645.7 818.8V817.5H1647.3V818.8ZM1647.3 818.8V818.1H1648.9V818.8ZM1648.9 818.8V818.3H1650.5V818.8ZM1650.5 818.8V818.3H1652.1V818.8ZM1658.5 818.8V817.1H1660.1V818.8ZM1660.1 818.8V818.4H1661.7V818.8ZM1663.3 818.8V817.6H1664.9V818.8ZM1664.9 818.8V816.3H1666.5V818.8ZM1666.5 818.8V816.9H1668.1V818.8ZM1668.1 818.8V816.6H1669.7V818.8ZM1671.3 818.8V818.3H1672.9V818.8ZM1672.9 818.8V817.2H1674.5V818.8ZM1674.5 818.8V818.3H1676.1V818.8ZM1676.1 818.8V816.6H1677.7V818.8ZM1677.7 818.8V816.8H1679.3V818.8ZM1679.3 818.8V818.4H1680.9V818.8ZM1687.3 818.8V817.6H1688.9V818.8ZM1688.9 818.8V816.4H1690.5V818.8ZM1692.1 818.8V815.4H1693.7V818.8ZM1695.3 818.8V818.3H1696.9V818.8ZM1698.5 818.8V817.9H1700.1V818.8ZM1701.7 818.8V818.1H1703.3V818.8ZM1703.3 818.8V817.5H1704.9V818.8ZM1704.9 818.8V817.4H1706.5V818.8ZM1706.5 818.8V817.2H1708.1V818.8ZM1708.1 818.8V817.0H1709.7V818.8ZM1711.3 818.8V817.3H1712.9V818.8ZM1716.1 818.8V818.2H1717.7V818.8ZM1719.3 818.8V817.0H1720.9V818.8ZM1720.9 818.8V815.4H1722.5V818.8ZM1722.5 818.8V816.9H1724.1V818.8ZM1724.1 818.8V816.6H1725.7V818.8ZM1725.7 818.8V815.6H1727.3V818.8ZM1727.3 818.8V818.3H1728.9V818.8ZM1728.9 818.8V815.1H1730.5V818.8ZM1730.5 818.8V817.1H1732.1V818.8ZM1733.7 818.8V818.1H1735.3V818.8ZM1735.3 818.8V815.4H1736.9V818.8ZM1736.9 818.8V816.1H1738.5V818.8ZM1738.5 818.8V816.7H1740.1V818.8ZM1740.1 818.8V817.9H1741.7V818.8ZM1741.7 818.8V816.4H1743.3V818.8ZM1743.3 818.8V816.2H1744.9V818.8ZM1749.7 818.8V818.3H1751.3V818.8ZM1751.3 818.8V815.6H1752.9V818.8ZM1756.1 818.8V816.5H1757.7V818.8ZM1757.7 818.8V815.9H1759.3V818.8ZM1759.3 818.8V818.4H1760.9V818.8ZM1760.9 818.8V817.2H1762.5V818.8ZM1764.1 818.8V817.3H1765.7V818.8ZM1765.7 818.8V816.5H1767.3V818.8ZM1767.3 818.8V817.1H1768.9V818.8ZM1770.5 818.8V817.8H1772.1V818.8ZM1776.9 818.8V818.3H1778.5V818.8ZM1778.5 818.8V813.9H1780.1V818.8ZM1780.1 818.8V817.4H1781.7V818.8ZM1783.3 818.8V816.3H1784.9V818.8ZM1784.9 818.8V815.9H1786.5V818.8ZM1786.5 818.8V817.6H1788.1V818.8ZM1788.1 818.8V815.2H1789.7V818.8ZM1794.5 818.8V816.7H1796.1V818.8ZM1797.7 818.8V815.5H1799.3V818.8ZM1805.7 818.8V816.4H1807.3V818.8ZM1807.3 818.8V816.3H1808.9V818.8ZM1808.9 818.8V817.0H1810.5V818.8ZM1813.7 818.8V817.7H1815.3V818.8ZM1816.9 818.8V816.0H1818.5V818.8ZM1818.5 818.8V818.3H1820.1V818.8ZM1820.1 818.8V818.3H1821.7V818.8ZM1824.9 818.8V816.5H1826.5V818.8ZM1826.5 818.8V817.1H1828.1V818.8ZM1828.1 818.8V818.4H1829.7V818.8ZM1831.3 818.8V818.2H1832.9V818.8ZM1834.5 818.8V815.6H1836.1V818.8ZM1836.1 818.8V817.7H1837.7V818.8ZM1842.5 818.8V818.0H1844.1V818.8ZM1844.1 818.8V817.4H1845.7V818.8ZM1845.7 818.8V817.8H1847.3V818.8ZM1852.1 818.8V818.3H1853.7V818.8ZM1853.7 818.8V818.4H1855.3V818.8ZM1856.9 818.8V817.8H1858.5V818.8ZM1860.1 818.8V818.0H1861.7V818.8ZM1861.7 818.8V817.2H1863.3V818.8ZM1864.9 818.8V818.2H1866.5V818.8ZM1866.5 818.8V816.4H1868.1V818.8ZM1869.7 818.8V818.2H1871.3V818.8ZM1871.3 818.8V817.6H1872.9V818.8ZM1872.9 818.8V817.8H1874.5V818.8ZM1876.1 818.8V816.3H1877.7V818.8ZM1877.7 818.8V818.4H1879.3V818.8ZM1879.3 818.8V816.5H1880.9V818.8ZM1887.3 818.8V818.4H1888.9V818.8ZM1888.9 818.8V817.2H1890.5V818.8ZM1890.5 818.8V817.6H1892.1V818.8ZM1892.1 818.8V818.3H1893.7V818.8ZM1895.3 818.8V818.3H1896.9V818.8ZM1898.5 818.8V816.7H1900.1V818.8ZM1903.3 818.8V817.9H1904.9V818.8ZM1908.1 818.8V817.9H1909.7V818.8ZM1909.7 818.8V818.4H1911.3V818.8ZM1912.9 818.8V816.4H1914.5V818.8ZM1914.5 818.8V816.9H1916.1V818.8ZM1916.1 818.8V818.1H1917.7V818.8ZM1917.7 818.8V818.3H1919.3V818.8ZM1919.3 818.8V815.9H1920.9V818.8ZM1920.9 818.8V818.3H1922.5V818.8ZM1922.5 818.8V816.9H1924.1V818.8ZM1927.3 818.8V816.9H1928.9V818.8ZM1928.9 818.8V816.8H1930.5V818.8ZM1932.1 818.8V817.9H1933.7V818.8ZM1933.7 818.8V817.9H1935.3V818.8ZM1936.9 818.8V818.2H1938.5V818.8ZM1938.5 818.8V816.4H1940.1V818.8ZM1941.7 818.8V816.2H1943.3V818.8ZM1944.9 818.8V816.7H1946.5V818.8ZM1948.1 818.8V817.8H1949.7V818.8ZM1949.7 818.8V816.5H1951.3V818.8ZM1951.3 818.8V817.6H1952.9V818.8ZM1952.9 818.8V818.0H1954.5V818.8ZM1954.5 818.8V818.4H1956.1V818.8ZM1956.1 818.8V816.3H1957.7V818.8ZM1959.3 818.8V818.3H1960.9V818.8ZM1960.9 818.8V817.5H1962.5V818.8ZM1962.5 818.8V818.2H1964.1V818.8ZM1964.1 818.8V817.6H1965.7V818.8ZM1965.7 818.8V816.5H1967.3V818.8ZM1968.9 818.8V817.4H1970.5V818.8ZM1970.5 818.8V818.3H1972.1V818.8ZM1975.3 818.8V817.7H1976.9V818.8ZM1976.9 818.8V817.4H1978.5V818.8ZM1978.5 818.8V818.1H1980.1V818.8ZM1980.1 818.8V815.7H1981.7V818.8ZM1981.7 818.8V815.5H1983.3V818.8ZM1983.3 818.8V818.4H1984.9V818.8ZM1984.9 818.8V817.3H1986.5V818.8ZM1988.1 818.8V816.7H1989.7V818.8ZM1992.9 818.8V817.7H1994.5V818.8ZM1997.7 818.8V818.0H1999.3V818.8ZM1999.3 818.8V818.4H2000.9V818.8ZM2000.9 818.8V818.3H2002.5V818.8ZM2002.5 818.8V818.1H2004.1V818.8ZM2004.1 818.8V815.2H2005.7V818.8ZM2005.7 818.8V816.3H2007.3V818.8ZM2007.3 818.8V817.2H2008.9V818.8ZM2008.9 818.8V816.2H2010.5V818.8ZM2010.5 818.8V817.9H2012.1V818.8ZM2012.1 818.8V817.4H2013.7V818.8ZM2016.9 818.8V815.5H2018.5V818.8ZM2018.5 818.8V817.9H2020.1V818.8ZM2020.1 818.8V817.7H2021.7V818.8ZM2024.9 818.8V817.6H2026.5V818.8ZM2026.5 818.8V817.9H2028.1V818.8ZM2028.1 818.8V818.4H2029.7V818.8ZM2029.7 818.8V818.4H2031.3V818.8ZM2031.3 818.8V818.4H2032.9V818.8ZM2032.9 818.8V818.0H2034.5V818.8ZM2036.1 818.8V815.5H2037.7V818.8ZM2039.3 818.8V817.7H2040.9V818.8ZM2045.7 818.8V817.5H2047.3V818.8ZM2047.3 818.8V816.3H2048.9V818.8ZM2050.5 818.8V817.9H2052.1V818.8ZM2061.7 818.8V815.4H2063.3V818.8ZM2064.9 818.8V815.3H2066.5V818.8ZM2068.1 818.8V818.2H2069.7V818.8ZM2069.7 818.8V818.0H2071.3V818.8ZM2072.9 818.8V815.7H2074.5V818.8ZM2085.7 818.8V815.7H2087.3V818.8ZM2088.9 818.8V815.6H2090.5V818.8ZM2090.5 818.8V816.0H2092.1V818.8ZM2092.1 818.8V817.8H2093.7V818.8ZM2095.3 818.8V816.8H2096.9V818.8ZM2098.5 818.8V818.3H2100.1V818.8ZM2100.1 818.8V818.1H2101.7V818.8ZM2101.7 818.8V818.3H2103.3V818.8ZM2103.3 818.8V815.9H2104.9V818.8Z" fill="#2D4EA2"/>
<rect x="1177.4" y="818.0999999999999" width="928.5999999999999" height="1.4" fill="#2D4EA2"/>
<text x="2104.6" y="812.8" font-size="21" fill="#26408E" stroke="#26408E" text-anchor="end">0 - 0.6</text>
<text x="1183.7" y="841.6" font-size="22.8" fill="#26408E" stroke="#26408E">H3K27me3 (Neuron)</text>
<path d="M1179.0 845.5V844.7H1180.6V845.5ZM1180.6 845.5V843.8H1182.2V845.5ZM1182.2 845.5V843.5H1183.8V845.5ZM1183.8 845.5V843.9H1185.4V845.5ZM1187.0 845.5V844.0H1188.6V845.5ZM1188.6 845.5V843.5H1190.2V845.5ZM1198.2 845.5V844.8H1199.8V845.5ZM1199.8 845.5V844.6H1201.4V845.5ZM1201.4 845.5V845.1H1203.0V845.5ZM1204.6 845.5V844.1H1206.2V845.5ZM1206.2 845.5V844.1H1207.8V845.5ZM1211.0 845.5V844.8H1212.6V845.5ZM1214.2 845.5V844.9H1215.8V845.5ZM1215.8 845.5V845.1H1217.4V845.5ZM1217.4 845.5V844.7H1219.0V845.5ZM1219.0 845.5V842.9H1220.6V845.5ZM1223.8 845.5V844.7H1225.4V845.5ZM1227.0 845.5V844.7H1228.6V845.5ZM1228.6 845.5V843.1H1230.2V845.5ZM1230.2 845.5V845.1H1231.8V845.5ZM1231.8 845.5V844.4H1233.4V845.5ZM1233.4 845.5V844.5H1235.0V845.5ZM1235.0 845.5V844.2H1236.6V845.5ZM1236.6 845.5V843.8H1238.2V845.5ZM1238.2 845.5V842.9H1239.8V845.5ZM1243.0 845.5V845.1H1244.6V845.5ZM1246.2 845.5V844.7H1247.8V845.5ZM1247.8 845.5V843.4H1249.4V845.5ZM1251.0 845.5V842.7H1252.6V845.5ZM1252.6 845.5V844.7H1254.2V845.5ZM1254.2 845.5V842.7H1255.8V845.5ZM1255.8 845.5V844.6H1257.4V845.5ZM1259.0 845.5V842.6H1260.6V845.5ZM1260.6 845.5V845.0H1262.2V845.5ZM1263.8 845.5V843.7H1265.4V845.5ZM1265.4 845.5V843.9H1267.0V845.5ZM1267.0 845.5V843.3H1268.6V845.5ZM1268.6 845.5V843.4H1270.2V845.5ZM1270.2 845.5V844.6H1271.8V845.5ZM1271.8 845.5V844.6H1273.4V845.5ZM1276.6 845.5V844.8H1278.2V845.5ZM1278.2 845.5V842.9H1279.8V845.5ZM1279.8 845.5V844.6H1281.4V845.5ZM1284.6 845.5V845.1H1286.2V845.5ZM1292.6 845.5V844.9H1294.2V845.5ZM1294.2 845.5V844.7H1295.8V845.5ZM1303.8 845.5V843.6H1305.4V845.5ZM1305.4 845.5V843.1H1307.0V845.5ZM1308.6 845.5V843.9H1310.2V845.5ZM1313.4 845.5V845.1H1315.0V845.5ZM1316.6 845.5V843.2H1318.2V845.5ZM1318.2 845.5V845.1H1319.8V845.5ZM1324.6 845.5V842.9H1326.2V845.5ZM1326.2 845.5V842.6H1327.8V845.5ZM1335.8 845.5V843.2H1337.4V845.5ZM1337.4 845.5V845.1H1339.0V845.5ZM1340.6 845.5V843.1H1342.2V845.5ZM1342.2 845.5V844.9H1343.8V845.5ZM1347.0 845.5V843.6H1348.6V845.5ZM1351.8 845.5V843.5H1353.4V845.5ZM1355.0 845.5V842.7H1356.6V845.5ZM1363.0 845.5V843.2H1364.6V845.5ZM1364.6 845.5V844.1H1366.2V845.5ZM1366.2 845.5V844.8H1367.8V845.5ZM1369.4 845.5V844.6H1371.0V845.5ZM1372.6 845.5V845.1H1374.2V845.5ZM1375.8 845.5V844.8H1377.4V845.5ZM1377.4 845.5V845.1H1379.0V845.5ZM1379.0 845.5V844.9H1380.6V845.5ZM1382.2 845.5V844.3H1383.8V845.5ZM1383.8 845.5V843.4H1385.4V845.5ZM1387.0 845.5V845.1H1388.6V845.5ZM1388.6 845.5V843.3H1390.2V845.5ZM1390.2 845.5V843.9H1391.8V845.5ZM1391.8 845.5V843.3H1393.4V845.5ZM1393.4 845.5V841.6H1395.0V845.5ZM1395.0 845.5V843.1H1396.6V845.5ZM1396.6 845.5V844.9H1398.2V845.5ZM1398.2 845.5V844.6H1399.8V845.5ZM1399.8 845.5V842.9H1401.4V845.5ZM1401.4 845.5V844.0H1403.0V845.5ZM1406.2 845.5V844.6H1407.8V845.5ZM1407.8 845.5V844.8H1409.4V845.5ZM1409.4 845.5V843.1H1411.0V845.5ZM1414.2 845.5V844.2H1415.8V845.5ZM1415.8 845.5V843.4H1417.4V845.5ZM1417.4 845.5V844.5H1419.0V845.5ZM1420.6 845.5V843.0H1422.2V845.5ZM1422.2 845.5V842.8H1423.8V845.5ZM1423.8 845.5V843.9H1425.4V845.5ZM1430.2 845.5V844.4H1431.8V845.5ZM1435.0 845.5V845.1H1436.6V845.5ZM1438.2 845.5V842.5H1439.8V845.5ZM1443.0 845.5V845.0H1444.6V845.5ZM1447.8 845.5V845.1H1449.4V845.5ZM1449.4 845.5V842.7H1451.0V845.5ZM1451.0 845.5V843.6H1452.6V845.5ZM1452.6 845.5V844.3H1454.2V845.5ZM1454.2 845.5V843.5H1455.7V845.5ZM1455.7 845.5V832.9H1457.3V845.5ZM1457.3 845.5V836.9H1458.9V845.5ZM1458.9 845.5V833.2H1460.5V845.5ZM1460.5 845.5V837.7H1462.1V845.5ZM1462.1 845.5V834.6H1463.7V845.5ZM1463.7 845.5V832.5H1465.3V845.5ZM1465.3 845.5V834.6H1466.9V845.5ZM1466.9 845.5V836.5H1468.5V845.5ZM1468.5 845.5V838.0H1470.1V845.5ZM1470.1 845.5V833.1H1471.4V845.5ZM1471.4 845.5V834.3H1473.0V845.5ZM1473.0 845.5V837.1H1474.6V845.5ZM1474.6 845.5V832.7H1476.2V845.5ZM1476.2 845.5V835.6H1477.8V845.5ZM1477.8 845.5V830.8H1479.4V845.5ZM1479.4 845.5V833.5H1481.0V845.5ZM1481.0 845.5V833.7H1482.6V845.5ZM1482.6 845.5V837.2H1484.2V845.5ZM1484.2 845.5V834.9H1485.8V845.5ZM1485.8 845.5V829.7H1487.4V845.5ZM1487.4 845.5V836.5H1489.0V845.5ZM1489.0 845.5V833.6H1490.6V845.5ZM1490.6 845.5V831.8H1491.4V845.5ZM1491.4 845.5V833.8H1493.0V845.5ZM1493.0 845.5V839.3H1494.6V845.5ZM1494.6 845.5V834.6H1496.2V845.5ZM1496.2 845.5V835.7H1497.8V845.5ZM1497.8 845.5V835.1H1499.4V845.5ZM1499.4 845.5V838.3H1501.0V845.5ZM1501.0 845.5V838.3H1502.6V845.5ZM1502.6 845.5V836.9H1504.2V845.5ZM1504.2 845.5V835.7H1505.8V845.5ZM1505.8 845.5V837.1H1507.4V845.5ZM1507.4 845.5V837.2H1508.6V845.5ZM1508.6 845.5V834.2H1510.2V845.5ZM1510.2 845.5V839.6H1511.8V845.5ZM1511.8 845.5V839.5H1513.4V845.5ZM1513.4 845.5V838.2H1515.0V845.5ZM1515.0 845.5V838.9H1516.6V845.5ZM1516.6 845.5V836.8H1518.2V845.5ZM1518.2 845.5V836.6H1519.8V845.5ZM1519.8 845.5V837.4H1521.4V845.5ZM1521.4 845.5V838.6H1523.0V845.5ZM1523.0 845.5V838.7H1524.6V845.5ZM1524.6 845.5V836.6H1526.2V845.5ZM1526.2 845.5V836.3H1527.8V845.5ZM1527.8 845.5V839.5H1529.4V845.5ZM1529.4 845.5V836.6H1531.0V845.5ZM1531.0 845.5V836.6H1531.4V845.5ZM1531.4 845.5V835.0H1533.0V845.5ZM1533.0 845.5V833.2H1534.6V845.5ZM1534.6 845.5V836.0H1536.2V845.5ZM1536.2 845.5V834.8H1537.8V845.5ZM1537.8 845.5V837.4H1539.4V845.5ZM1539.4 845.5V835.1H1541.0V845.5ZM1541.0 845.5V834.6H1542.6V845.5ZM1542.6 845.5V837.7H1544.2V845.5ZM1544.2 845.5V836.0H1545.8V845.5ZM1545.8 845.5V832.0H1547.4V845.5ZM1547.4 845.5V836.2H1549.0V845.5ZM1549.0 845.5V834.7H1550.6V845.5ZM1550.6 845.5V837.8H1551.4V845.5ZM1551.4 845.5V841.2H1553.0V845.5ZM1553.0 845.5V838.5H1554.6V845.5ZM1554.6 845.5V839.4H1556.2V845.5ZM1556.2 845.5V840.9H1557.8V845.5ZM1557.8 845.5V840.6H1559.4V845.5ZM1559.4 845.5V838.9H1561.0V845.5ZM1561.0 845.5V839.7H1562.6V845.5ZM1562.6 845.5V841.2H1564.2V845.5ZM1564.2 845.5V841.7H1565.7V845.5ZM1565.7 845.5V842.1H1567.3V845.5ZM1567.3 845.5V841.8H1568.9V845.5ZM1568.9 845.5V841.0H1570.5V845.5ZM1570.5 845.5V842.1H1572.1V845.5ZM1572.1 845.5V841.5H1573.7V845.5ZM1573.7 845.5V842.4H1575.3V845.5ZM1575.3 845.5V841.7H1576.9V845.5ZM1576.9 845.5V841.2H1578.5V845.5ZM1578.5 845.5V841.9H1580.1V845.5ZM1580.1 845.5V841.9H1581.7V845.5ZM1581.7 845.5V841.1H1583.3V845.5ZM1583.3 845.5V843.0H1584.9V845.5ZM1584.9 845.5V842.6H1586.5V845.5ZM1586.5 845.5V842.3H1588.1V845.5ZM1588.1 845.5V841.8H1588.6V845.5ZM1588.6 845.5V845.1H1590.2V845.5ZM1590.2 845.5V844.9H1591.8V845.5ZM1591.8 845.5V844.8H1593.4V845.5ZM1599.8 845.5V844.8H1601.4V845.5ZM1601.4 845.5V844.8H1603.0V845.5ZM1603.0 845.5V843.0H1604.6V845.5ZM1604.6 845.5V845.1H1606.2V845.5ZM1611.0 845.5V844.5H1612.6V845.5ZM1612.6 845.5V844.4H1614.2V845.5ZM1615.8 845.5V845.1H1617.4V845.5ZM1620.6 845.5V843.1H1622.2V845.5ZM1628.6 845.5V843.9H1630.2V845.5ZM1633.4 845.5V845.1H1635.0V845.5ZM1635.0 845.5V843.3H1636.6V845.5ZM1639.8 845.5V843.1H1641.4V845.5ZM1643.0 845.5V845.0H1644.6V845.5ZM1647.8 845.5V844.8H1649.4V845.5ZM1652.6 845.5V845.1H1654.2V845.5ZM1654.2 845.5V842.7H1655.8V845.5ZM1655.8 845.5V844.9H1657.4V845.5ZM1659.0 845.5V843.7H1660.6V845.5ZM1660.6 845.5V843.8H1662.2V845.5ZM1662.2 845.5V844.9H1663.8V845.5ZM1663.8 845.5V845.1H1665.4V845.5ZM1665.4 845.5V844.5H1667.0V845.5ZM1667.0 845.5V844.3H1668.6V845.5ZM1673.4 845.5V844.7H1675.0V845.5ZM1678.2 845.5V842.5H1679.8V845.5ZM1679.8 845.5V845.1H1681.4V845.5ZM1681.4 845.5V844.8H1683.0V845.5ZM1687.8 845.5V844.9H1689.4V845.5ZM1691.0 845.5V845.1H1692.6V845.5ZM1694.2 845.5V844.4H1695.8V845.5ZM1695.8 845.5V844.3H1697.4V845.5ZM1697.4 845.5V843.5H1699.0V845.5ZM1699.0 845.5V844.3H1700.6V845.5ZM1700.6 845.5V844.4H1702.2V845.5ZM1703.8 845.5V844.3H1705.4V845.5ZM1705.4 845.5V844.9H1707.0V845.5ZM1707.0 845.5V842.9H1708.6V845.5ZM1708.6 845.5V843.4H1710.2V845.5ZM1711.8 845.5V843.6H1713.4V845.5ZM1713.4 845.5V844.9H1715.0V845.5ZM1719.8 845.5V845.1H1721.4V845.5ZM1723.0 845.5V843.4H1724.6V845.5ZM1729.4 845.5V844.4H1731.0V845.5ZM1731.0 845.5V844.7H1732.6V845.5ZM1734.2 845.5V843.9H1735.8V845.5ZM1735.8 845.5V844.7H1737.4V845.5ZM1737.4 845.5V844.4H1739.0V845.5ZM1739.0 845.5V843.2H1740.6V845.5ZM1742.2 845.5V845.1H1743.8V845.5ZM1743.8 845.5V842.9H1745.4V845.5ZM1747.0 845.5V842.6H1748.6V845.5ZM1750.2 845.5V842.6H1751.8V845.5ZM1751.8 845.5V844.6H1753.4V845.5ZM1753.4 845.5V843.0H1755.0V845.5ZM1756.6 845.5V845.0H1758.2V845.5ZM1758.2 845.5V843.8H1759.8V845.5ZM1764.6 845.5V843.4H1766.2V845.5ZM1772.6 845.5V844.1H1774.2V845.5ZM1775.8 845.5V844.9H1777.4V845.5ZM1780.6 845.5V844.5H1782.2V845.5ZM1782.2 845.5V844.6H1783.8V845.5ZM1787.0 845.5V844.2H1788.6V845.5ZM1790.2 845.5V844.8H1791.8V845.5ZM1793.4 845.5V844.9H1795.0V845.5ZM1795.0 845.5V844.6H1796.6V845.5ZM1798.2 845.5V845.1H1799.8V845.5ZM1799.8 845.5V845.1H1801.4V845.5ZM1803.0 845.5V844.6H1804.6V845.5ZM1807.8 845.5V844.7H1809.4V845.5ZM1809.4 845.5V843.7H1811.0V845.5ZM1814.2 845.5V844.7H1815.8V845.5ZM1815.8 845.5V842.6H1817.4V845.5ZM1820.6 845.5V843.3H1822.2V845.5ZM1823.8 845.5V843.8H1825.4V845.5ZM1830.2 845.5V844.9H1831.8V845.5ZM1831.8 845.5V845.1H1833.4V845.5ZM1833.4 845.5V844.3H1835.0V845.5ZM1835.0 845.5V845.1H1836.6V845.5ZM1836.6 845.5V843.6H1838.2V845.5ZM1838.2 845.5V844.7H1839.8V845.5ZM1841.4 845.5V843.8H1843.0V845.5ZM1846.2 845.5V845.1H1847.8V845.5ZM1847.8 845.5V843.6H1849.4V845.5ZM1849.4 845.5V844.9H1851.0V845.5ZM1851.0 845.5V845.0H1852.6V845.5ZM1854.2 845.5V842.5H1855.8V845.5ZM1857.4 845.5V843.4H1859.0V845.5ZM1860.6 845.5V842.8H1862.2V845.5ZM1863.8 845.5V844.3H1865.4V845.5ZM1868.6 845.5V844.2H1870.2V845.5ZM1871.8 845.5V845.1H1873.4V845.5ZM1873.4 845.5V844.3H1875.0V845.5ZM1875.0 845.5V845.1H1876.6V845.5ZM1876.6 845.5V843.5H1878.2V845.5ZM1878.2 845.5V843.3H1879.8V845.5ZM1879.8 845.5V842.9H1881.4V845.5ZM1881.4 845.5V844.5H1883.0V845.5ZM1886.2 845.5V844.9H1887.8V845.5ZM1889.4 845.5V844.6H1891.0V845.5ZM1891.0 845.5V844.7H1892.6V845.5ZM1895.8 845.5V843.4H1897.4V845.5ZM1897.4 845.5V845.1H1899.0V845.5ZM1903.8 845.5V844.0H1905.4V845.5ZM1907.0 845.5V843.8H1908.6V845.5ZM1908.6 845.5V843.8H1910.2V845.5ZM1910.2 845.5V844.1H1911.8V845.5ZM1911.8 845.5V842.9H1913.4V845.5ZM1916.6 845.5V844.0H1918.2V845.5ZM1919.8 845.5V845.0H1921.4V845.5ZM1923.0 845.5V843.7H1924.6V845.5ZM1924.6 845.5V845.0H1926.2V845.5ZM1926.2 845.5V845.1H1927.8V845.5ZM1929.4 845.5V844.6H1931.0V845.5ZM1932.6 845.5V844.9H1934.2V845.5ZM1934.2 845.5V844.9H1935.8V845.5ZM1935.8 845.5V844.1H1937.4V845.5ZM1937.4 845.5V844.8H1939.0V845.5ZM1939.0 845.5V845.1H1940.6V845.5ZM1943.8 845.5V844.9H1945.4V845.5ZM1945.4 845.5V844.8H1947.0V845.5ZM1947.0 845.5V843.2H1948.6V845.5ZM1948.6 845.5V843.4H1950.2V845.5ZM1951.8 845.5V844.4H1953.4V845.5ZM1953.4 845.5V844.1H1955.0V845.5ZM1956.6 845.5V843.0H1958.2V845.5ZM1958.2 845.5V844.6H1959.8V845.5ZM1961.4 845.5V842.9H1963.0V845.5ZM1963.0 845.5V843.4H1964.6V845.5ZM1964.6 845.5V843.9H1966.2V845.5ZM1969.4 845.5V844.9H1971.0V845.5ZM1974.2 845.5V843.9H1975.8V845.5ZM1979.0 845.5V844.7H1980.6V845.5ZM1980.6 845.5V843.1H1982.2V845.5ZM1982.2 845.5V844.5H1983.8V845.5ZM1987.0 845.5V842.7H1988.6V845.5ZM1988.6 845.5V845.1H1990.2V845.5ZM1990.2 845.5V844.5H1991.8V845.5ZM1991.8 845.5V843.2H1993.4V845.5ZM1995.0 845.5V845.1H1996.6V845.5ZM1996.6 845.5V842.6H1998.2V845.5ZM1999.8 845.5V843.6H2001.4V845.5ZM2001.4 845.5V844.7H2003.0V845.5ZM2004.6 845.5V844.4H2006.2V845.5ZM2006.2 845.5V845.0H2007.8V845.5ZM2007.8 845.5V844.4H2009.4V845.5ZM2009.4 845.5V844.5H2011.0V845.5ZM2014.2 845.5V844.8H2015.8V845.5ZM2015.8 845.5V844.6H2017.4V845.5ZM2017.4 845.5V845.1H2019.0V845.5ZM2020.6 845.5V845.1H2022.2V845.5ZM2022.2 845.5V843.0H2023.8V845.5ZM2023.8 845.5V843.2H2025.4V845.5ZM2025.4 845.5V845.1H2027.0V845.5ZM2027.0 845.5V845.0H2028.6V845.5ZM2030.2 845.5V843.0H2031.8V845.5ZM2031.8 845.5V845.0H2033.4V845.5ZM2036.6 845.5V844.4H2038.2V845.5ZM2038.2 845.5V843.8H2039.8V845.5ZM2039.8 845.5V842.2H2041.4V845.5ZM2044.6 845.5V844.0H2046.2V845.5ZM2052.6 845.5V845.0H2054.2V845.5ZM2054.2 845.5V844.0H2055.8V845.5ZM2055.8 845.5V844.5H2057.4V845.5ZM2059.0 845.5V844.6H2060.6V845.5ZM2060.6 845.5V843.7H2062.2V845.5ZM2065.4 845.5V842.7H2067.0V845.5ZM2067.0 845.5V845.0H2068.6V845.5ZM2068.6 845.5V844.9H2070.2V845.5ZM2070.2 845.5V844.9H2071.8V845.5ZM2071.8 845.5V844.6H2073.4V845.5ZM2076.6 845.5V844.9H2078.2V845.5ZM2081.4 845.5V843.2H2083.0V845.5ZM2086.2 845.5V844.9H2087.8V845.5ZM2087.8 845.5V844.9H2089.4V845.5ZM2091.0 845.5V844.8H2092.6V845.5ZM2092.6 845.5V845.1H2094.2V845.5ZM2094.2 845.5V842.8H2095.8V845.5ZM2097.4 845.5V842.9H2099.0V845.5ZM2099.0 845.5V844.8H2100.6V845.5ZM2100.6 845.5V844.2H2102.2V845.5Z" fill="#2D4EA2"/>
<rect x="1177.4" y="844.8" width="928.5999999999999" height="1.4" fill="#2D4EA2"/>
<text x="2104.6" y="840.1" font-size="21" fill="#26408E" stroke="#26408E" text-anchor="end">0 - 0.6</text>
<rect x="1167.8" y="874" width="3.6" height="70" fill="#000"/>
<text transform="translate(1124,909) rotate(-90)" font-size="24.5" text-anchor="middle" stroke="#000">adult</text>
<text transform="translate(1151,909) rotate(-90)" font-size="24.5" text-anchor="middle" stroke="#000">cortex</text>
<text x="1183.7" y="882.7" font-size="22.8" fill="#E6823A" stroke="#E6823A">H3K4me3</text>
<path d="M1179.0 890.0V887.1H1180.6V890.0ZM1182.2 890.0V889.2H1183.8V890.0ZM1183.8 890.0V889.5H1185.4V890.0ZM1185.4 890.0V888.9H1187.0V890.0ZM1188.6 890.0V889.0H1190.2V890.0ZM1190.2 890.0V888.1H1191.8V890.0ZM1193.4 890.0V887.8H1195.0V890.0ZM1195.0 890.0V887.2H1196.6V890.0ZM1196.6 890.0V889.3H1198.2V890.0ZM1198.2 890.0V889.6H1199.8V890.0ZM1201.4 890.0V889.4H1203.0V890.0ZM1203.0 890.0V888.7H1204.6V890.0ZM1204.6 890.0V888.9H1206.2V890.0ZM1206.2 890.0V889.2H1207.8V890.0ZM1215.8 890.0V889.5H1217.4V890.0ZM1217.4 890.0V889.2H1219.0V890.0ZM1222.2 890.0V889.3H1223.8V890.0ZM1223.8 890.0V889.5H1225.4V890.0ZM1225.4 890.0V888.9H1227.0V890.0ZM1227.0 890.0V888.3H1228.6V890.0ZM1228.6 890.0V888.7H1230.2V890.0ZM1231.8 890.0V889.1H1233.4V890.0ZM1233.4 890.0V889.5H1235.0V890.0ZM1239.8 890.0V889.5H1241.4V890.0ZM1241.4 890.0V885.6H1243.0V890.0ZM1243.0 890.0V888.3H1244.6V890.0ZM1244.6 890.0V889.4H1246.2V890.0ZM1246.2 890.0V889.6H1247.8V890.0ZM1247.8 890.0V887.9H1249.4V890.0ZM1251.0 890.0V887.7H1252.6V890.0ZM1252.6 890.0V888.4H1254.2V890.0ZM1254.2 890.0V889.2H1255.8V890.0ZM1255.8 890.0V888.0H1257.4V890.0ZM1260.6 890.0V888.7H1262.2V890.0ZM1262.2 890.0V887.0H1263.8V890.0ZM1265.4 890.0V889.1H1267.0V890.0ZM1267.0 890.0V889.4H1268.6V890.0ZM1270.2 890.0V889.3H1271.8V890.0ZM1271.8 890.0V888.2H1273.4V890.0ZM1273.4 890.0V888.7H1275.0V890.0ZM1275.0 890.0V889.0H1276.6V890.0ZM1279.8 890.0V888.8H1281.4V890.0ZM1283.0 890.0V888.0H1284.6V890.0ZM1286.2 890.0V889.1H1287.8V890.0ZM1287.8 890.0V889.5H1289.4V890.0ZM1289.4 890.0V888.7H1291.0V890.0ZM1291.0 890.0V887.8H1292.6V890.0ZM1292.6 890.0V888.9H1294.2V890.0ZM1295.8 890.0V887.3H1297.4V890.0ZM1297.4 890.0V888.1H1299.0V890.0ZM1299.0 890.0V888.5H1300.6V890.0ZM1300.6 890.0V888.3H1302.2V890.0ZM1302.2 890.0V889.5H1303.8V890.0ZM1305.4 890.0V889.0H1307.0V890.0ZM1307.0 890.0V889.4H1308.6V890.0ZM1310.2 890.0V888.5H1311.8V890.0ZM1313.4 890.0V889.4H1315.0V890.0ZM1315.0 890.0V888.2H1316.6V890.0ZM1318.2 890.0V888.7H1319.8V890.0ZM1323.0 890.0V889.6H1324.6V890.0ZM1326.2 890.0V889.4H1327.8V890.0ZM1327.8 890.0V889.2H1329.4V890.0ZM1329.4 890.0V889.5H1331.0V890.0ZM1335.8 890.0V889.3H1337.4V890.0ZM1337.4 890.0V889.3H1339.0V890.0ZM1339.0 890.0V888.6H1340.6V890.0ZM1342.2 890.0V888.7H1343.8V890.0ZM1343.8 890.0V888.8H1345.4V890.0ZM1345.4 890.0V889.6H1347.0V890.0ZM1347.0 890.0V887.8H1348.6V890.0ZM1348.6 890.0V889.6H1350.2V890.0ZM1350.2 890.0V889.5H1351.8V890.0ZM1353.4 890.0V888.9H1355.0V890.0ZM1355.0 890.0V888.6H1356.6V890.0ZM1356.6 890.0V888.8H1358.2V890.0ZM1358.2 890.0V889.5H1359.8V890.0ZM1359.8 890.0V888.4H1361.4V890.0ZM1363.0 890.0V888.2H1364.6V890.0ZM1371.0 890.0V889.1H1372.6V890.0ZM1374.2 890.0V888.5H1375.8V890.0ZM1375.8 890.0V889.4H1377.4V890.0ZM1379.0 890.0V888.7H1380.6V890.0ZM1382.2 890.0V888.2H1383.8V890.0ZM1383.8 890.0V889.4H1385.4V890.0ZM1385.4 890.0V889.3H1385.7V890.0ZM1385.7 890.0V886.8H1387.3V890.0ZM1387.3 890.0V887.3H1388.9V890.0ZM1388.9 890.0V885.4H1390.5V890.0ZM1390.5 890.0V886.9H1392.1V890.0ZM1392.1 890.0V886.9H1393.7V890.0ZM1393.7 890.0V887.2H1395.3V890.0ZM1395.3 890.0V886.2H1396.9V890.0ZM1396.9 890.0V885.1H1398.5V890.0ZM1398.5 890.0V886.3H1400.0V890.0ZM1400.0 890.0V882.3H1401.6V890.0ZM1401.6 890.0V883.7H1403.2V890.0ZM1403.2 890.0V883.9H1404.8V890.0ZM1404.8 890.0V881.1H1406.4V890.0ZM1406.4 890.0V881.1H1408.0V890.0ZM1408.0 890.0V883.5H1409.6V890.0ZM1409.6 890.0V882.6H1410.0V890.0ZM1410.0 890.0V889.2H1411.6V890.0ZM1411.6 890.0V888.2H1413.2V890.0ZM1413.2 890.0V888.9H1414.8V890.0ZM1414.8 890.0V889.1H1416.4V890.0ZM1416.4 890.0V888.6H1417.1V890.0ZM1417.1 890.0V886.4H1418.7V890.0ZM1418.7 890.0V883.2H1420.3V890.0ZM1420.3 890.0V884.6H1421.9V890.0ZM1421.9 890.0V883.7H1423.5V890.0ZM1423.5 890.0V886.1H1425.1V890.0ZM1425.1 890.0V885.7H1425.7V890.0ZM1425.7 890.0V889.2H1427.3V890.0ZM1427.3 890.0V889.1H1428.6V890.0ZM1428.6 890.0V882.1H1430.2V890.0ZM1430.2 890.0V880.4H1431.8V890.0ZM1431.8 890.0V879.3H1433.4V890.0ZM1433.4 890.0V880.9H1435.0V890.0ZM1435.0 890.0V880.7H1436.6V890.0ZM1436.6 890.0V881.0H1438.2V890.0ZM1438.2 890.0V882.5H1438.6V890.0ZM1438.6 890.0V888.8H1440.2V890.0ZM1440.2 890.0V889.2H1441.8V890.0ZM1441.8 890.0V889.5H1443.4V890.0ZM1443.4 890.0V888.7H1445.0V890.0ZM1445.0 890.0V888.5H1446.6V890.0ZM1446.6 890.0V888.6H1447.1V890.0ZM1447.1 890.0V878.0H1448.7V890.0ZM1448.7 890.0V879.6H1450.3V890.0ZM1450.3 890.0V876.7H1451.9V890.0ZM1451.9 890.0V880.0H1453.5V890.0ZM1453.5 890.0V875.1H1454.3V890.0ZM1454.3 890.0V875.8H1455.9V890.0ZM1455.9 890.0V875.5H1457.5V890.0ZM1457.5 890.0V872.7H1459.1V890.0ZM1459.1 890.0V868.9H1460.7V890.0ZM1460.7 890.0V869.9H1462.3V890.0ZM1462.3 890.0V876.7H1463.9V890.0ZM1463.9 890.0V873.6H1465.5V890.0ZM1465.5 890.0V871.3H1465.7V890.0ZM1465.7 890.0V882.7H1467.3V890.0ZM1467.3 890.0V877.7H1468.9V890.0ZM1468.9 890.0V881.5H1470.0V890.0ZM1470.0 890.0V884.8H1471.6V890.0ZM1471.6 890.0V882.2H1473.2V890.0ZM1473.2 890.0V885.5H1474.8V890.0ZM1474.8 890.0V883.8H1476.4V890.0ZM1476.4 890.0V882.8H1478.0V890.0ZM1478.0 890.0V883.3H1479.6V890.0ZM1479.6 890.0V885.8H1481.2V890.0ZM1481.2 890.0V883.9H1482.8V890.0ZM1482.8 890.0V882.7H1484.3V890.0ZM1484.3 890.0V886.7H1485.9V890.0ZM1485.9 890.0V886.8H1487.5V890.0ZM1487.5 890.0V885.7H1489.1V890.0ZM1489.1 890.0V886.1H1490.7V890.0ZM1490.7 890.0V886.1H1492.3V890.0ZM1492.3 890.0V886.9H1493.9V890.0ZM1493.9 890.0V886.8H1495.5V890.0ZM1495.5 890.0V885.4H1497.1V890.0ZM1497.1 890.0V885.9H1498.7V890.0ZM1498.7 890.0V885.8H1500.3V890.0ZM1500.3 890.0V887.4H1501.9V890.0ZM1501.9 890.0V886.2H1503.5V890.0ZM1503.5 890.0V887.0H1505.1V890.0ZM1505.1 890.0V886.4H1506.7V890.0ZM1506.7 890.0V885.6H1508.3V890.0ZM1508.3 890.0V886.2H1509.9V890.0ZM1509.9 890.0V887.2H1511.5V890.0ZM1511.5 890.0V887.5H1513.1V890.0ZM1513.1 890.0V887.2H1514.7V890.0ZM1514.7 890.0V885.1H1516.3V890.0ZM1516.3 890.0V887.0H1517.9V890.0ZM1517.9 890.0V886.3H1519.5V890.0ZM1519.5 890.0V886.1H1521.1V890.0ZM1521.1 890.0V885.7H1522.7V890.0ZM1522.7 890.0V885.5H1524.3V890.0ZM1524.3 890.0V885.8H1525.9V890.0ZM1525.9 890.0V886.3H1527.5V890.0ZM1527.5 890.0V886.4H1528.6V890.0ZM1528.6 890.0V889.0H1530.2V890.0ZM1530.2 890.0V888.9H1531.8V890.0ZM1531.8 890.0V887.1H1533.4V890.0ZM1533.4 890.0V889.6H1535.0V890.0ZM1539.8 890.0V888.9H1541.4V890.0ZM1541.4 890.0V888.2H1543.0V890.0ZM1543.0 890.0V888.1H1544.6V890.0ZM1544.6 890.0V888.3H1546.2V890.0ZM1546.2 890.0V889.5H1547.8V890.0ZM1549.4 890.0V888.5H1551.0V890.0ZM1551.0 890.0V889.6H1552.6V890.0ZM1552.6 890.0V889.1H1554.2V890.0ZM1557.4 890.0V889.5H1559.0V890.0ZM1562.2 890.0V889.1H1563.8V890.0ZM1563.8 890.0V888.4H1565.4V890.0ZM1567.0 890.0V889.6H1568.6V890.0ZM1568.6 890.0V887.8H1570.2V890.0ZM1570.2 890.0V889.4H1571.8V890.0ZM1571.8 890.0V889.5H1573.4V890.0ZM1573.4 890.0V889.4H1575.0V890.0ZM1575.0 890.0V889.6H1576.6V890.0ZM1583.0 890.0V889.1H1584.6V890.0ZM1584.6 890.0V887.8H1586.2V890.0ZM1586.2 890.0V889.1H1587.8V890.0ZM1589.4 890.0V888.7H1591.0V890.0ZM1595.8 890.0V887.6H1597.4V890.0ZM1597.4 890.0V889.1H1599.0V890.0ZM1599.0 890.0V889.3H1600.6V890.0ZM1602.2 890.0V887.5H1603.8V890.0ZM1603.8 890.0V887.4H1605.4V890.0ZM1605.4 890.0V889.4H1607.0V890.0ZM1607.0 890.0V887.7H1608.6V890.0ZM1608.6 890.0V887.4H1610.2V890.0ZM1611.8 890.0V889.5H1613.4V890.0ZM1613.4 890.0V888.7H1615.0V890.0ZM1615.0 890.0V888.1H1616.6V890.0ZM1616.6 890.0V889.5H1618.2V890.0ZM1618.2 890.0V889.6H1619.8V890.0ZM1619.8 890.0V887.2H1621.4V890.0ZM1621.4 890.0V889.6H1623.0V890.0ZM1626.2 890.0V889.3H1627.8V890.0ZM1627.8 890.0V889.6H1629.4V890.0ZM1629.4 890.0V889.1H1631.0V890.0ZM1631.0 890.0V888.4H1632.6V890.0ZM1637.4 890.0V887.7H1639.0V890.0ZM1642.2 890.0V888.7H1643.8V890.0ZM1643.8 890.0V887.0H1645.4V890.0ZM1645.4 890.0V889.5H1647.0V890.0ZM1647.0 890.0V886.4H1648.6V890.0ZM1648.6 890.0V889.2H1650.2V890.0ZM1651.8 890.0V888.3H1653.4V890.0ZM1653.4 890.0V887.9H1655.0V890.0ZM1658.2 890.0V889.1H1659.8V890.0ZM1659.8 890.0V888.9H1661.4V890.0ZM1661.4 890.0V889.6H1663.0V890.0ZM1669.4 890.0V887.0H1671.0V890.0ZM1671.0 890.0V889.6H1672.6V890.0ZM1672.6 890.0V887.1H1674.2V890.0ZM1674.2 890.0V888.9H1675.8V890.0ZM1677.4 890.0V888.3H1679.0V890.0ZM1679.0 890.0V888.3H1680.6V890.0ZM1682.2 890.0V887.1H1683.8V890.0ZM1683.8 890.0V889.6H1685.4V890.0ZM1688.6 890.0V889.1H1690.2V890.0ZM1690.2 890.0V889.6H1691.8V890.0ZM1693.4 890.0V889.6H1695.0V890.0ZM1695.0 890.0V889.3H1696.6V890.0ZM1701.4 890.0V889.2H1703.0V890.0ZM1704.6 890.0V887.2H1706.2V890.0ZM1707.8 890.0V889.4H1709.4V890.0ZM1711.0 890.0V888.3H1712.6V890.0ZM1712.6 890.0V889.6H1714.2V890.0ZM1715.8 890.0V888.4H1717.4V890.0ZM1717.4 890.0V888.9H1719.0V890.0ZM1719.0 890.0V888.7H1720.6V890.0ZM1720.6 890.0V888.2H1722.2V890.0ZM1723.8 890.0V889.4H1725.4V890.0ZM1725.4 890.0V889.5H1727.0V890.0ZM1727.0 890.0V889.5H1728.6V890.0ZM1730.2 890.0V889.3H1731.8V890.0ZM1731.8 890.0V887.8H1733.4V890.0ZM1735.0 890.0V887.7H1736.6V890.0ZM1736.6 890.0V889.3H1738.2V890.0ZM1738.2 890.0V888.6H1739.8V890.0ZM1741.4 890.0V889.4H1743.0V890.0ZM1743.0 890.0V889.4H1744.6V890.0ZM1744.6 890.0V887.0H1746.2V890.0ZM1746.2 890.0V888.7H1747.8V890.0ZM1747.8 890.0V889.6H1749.4V890.0ZM1754.2 890.0V889.6H1755.8V890.0ZM1755.8 890.0V888.5H1757.4V890.0ZM1759.0 890.0V889.2H1760.6V890.0ZM1762.2 890.0V888.1H1763.8V890.0ZM1763.8 890.0V889.6H1765.4V890.0ZM1767.0 890.0V888.3H1768.6V890.0ZM1768.6 890.0V888.4H1770.2V890.0ZM1770.2 890.0V889.5H1771.8V890.0ZM1778.2 890.0V889.2H1779.8V890.0ZM1779.8 890.0V887.9H1781.4V890.0ZM1781.4 890.0V887.2H1783.0V890.0ZM1783.0 890.0V888.2H1784.6V890.0ZM1786.2 890.0V889.5H1787.8V890.0ZM1787.8 890.0V888.2H1789.4V890.0ZM1792.6 890.0V886.7H1794.2V890.0ZM1795.8 890.0V889.2H1797.4V890.0ZM1800.6 890.0V889.5H1802.2V890.0ZM1802.2 890.0V887.8H1803.8V890.0ZM1807.0 890.0V888.6H1808.6V890.0ZM1810.2 890.0V888.3H1811.8V890.0ZM1815.0 890.0V887.7H1816.6V890.0ZM1816.6 890.0V888.7H1818.2V890.0ZM1818.2 890.0V888.3H1819.8V890.0ZM1823.0 890.0V889.1H1824.6V890.0ZM1827.8 890.0V888.9H1829.4V890.0ZM1829.4 890.0V889.5H1831.0V890.0ZM1831.0 890.0V887.8H1832.6V890.0ZM1834.2 890.0V888.1H1835.8V890.0ZM1835.8 890.0V888.7H1837.4V890.0ZM1845.4 890.0V888.6H1847.0V890.0ZM1855.0 890.0V887.4H1856.6V890.0ZM1858.2 890.0V888.3H1859.8V890.0ZM1859.8 890.0V887.9H1861.4V890.0ZM1863.0 890.0V889.6H1864.6V890.0ZM1864.6 890.0V889.5H1866.2V890.0ZM1866.2 890.0V888.5H1867.8V890.0ZM1867.8 890.0V888.2H1869.4V890.0ZM1871.0 890.0V887.7H1872.6V890.0ZM1872.6 890.0V889.6H1874.2V890.0ZM1877.4 890.0V888.3H1879.0V890.0ZM1880.6 890.0V888.3H1882.2V890.0ZM1882.2 890.0V889.1H1883.8V890.0ZM1883.8 890.0V889.2H1885.4V890.0ZM1885.4 890.0V889.6H1887.0V890.0ZM1888.6 890.0V889.4H1890.2V890.0ZM1891.8 890.0V889.4H1893.4V890.0ZM1898.2 890.0V889.6H1899.8V890.0ZM1899.8 890.0V889.6H1901.4V890.0ZM1901.4 890.0V889.2H1903.0V890.0ZM1903.0 890.0V887.9H1904.6V890.0ZM1904.6 890.0V889.0H1906.2V890.0ZM1906.2 890.0V887.7H1907.8V890.0ZM1907.8 890.0V888.0H1909.4V890.0ZM1909.4 890.0V889.3H1911.0V890.0ZM1911.0 890.0V887.6H1912.6V890.0ZM1912.6 890.0V889.5H1914.2V890.0ZM1914.2 890.0V889.3H1915.8V890.0ZM1915.8 890.0V889.6H1917.4V890.0ZM1920.6 890.0V887.4H1922.2V890.0ZM1923.8 890.0V889.5H1925.4V890.0ZM1925.4 890.0V889.3H1927.0V890.0ZM1927.0 890.0V888.8H1928.6V890.0ZM1930.2 890.0V886.7H1931.8V890.0ZM1936.6 890.0V889.0H1938.2V890.0ZM1938.2 890.0V889.4H1939.8V890.0ZM1939.8 890.0V887.3H1941.4V890.0ZM1949.4 890.0V887.2H1951.0V890.0ZM1952.6 890.0V888.8H1954.2V890.0ZM1954.2 890.0V889.4H1955.8V890.0ZM1957.4 890.0V889.5H1959.0V890.0ZM1959.0 890.0V889.0H1960.6V890.0ZM1960.6 890.0V886.0H1962.2V890.0ZM1962.2 890.0V888.0H1963.8V890.0ZM1963.8 890.0V889.4H1965.4V890.0ZM1965.4 890.0V888.7H1967.0V890.0ZM1967.0 890.0V887.8H1968.6V890.0ZM1968.6 890.0V889.4H1970.2V890.0ZM1979.8 890.0V889.0H1981.4V890.0ZM1981.4 890.0V887.8H1983.0V890.0ZM1984.6 890.0V888.3H1986.2V890.0ZM1986.2 890.0V889.5H1987.8V890.0ZM1992.6 890.0V889.2H1994.2V890.0ZM2002.2 890.0V888.7H2003.8V890.0ZM2003.8 890.0V888.9H2005.4V890.0ZM2005.4 890.0V887.1H2007.0V890.0ZM2015.0 890.0V889.5H2016.6V890.0ZM2023.0 890.0V887.2H2024.6V890.0ZM2027.8 890.0V889.6H2029.4V890.0ZM2035.8 890.0V889.6H2037.4V890.0ZM2039.0 890.0V887.2H2040.6V890.0ZM2043.8 890.0V888.9H2045.4V890.0ZM2047.0 890.0V887.6H2048.6V890.0ZM2051.8 890.0V889.1H2053.4V890.0ZM2055.0 890.0V888.2H2056.6V890.0ZM2058.2 890.0V888.9H2059.8V890.0ZM2061.4 890.0V886.9H2063.0V890.0ZM2064.6 890.0V889.5H2066.2V890.0ZM2066.2 890.0V887.0H2067.8V890.0ZM2067.8 890.0V887.7H2069.4V890.0ZM2069.4 890.0V889.3H2071.0V890.0ZM2072.6 890.0V888.8H2074.2V890.0ZM2075.8 890.0V889.3H2077.4V890.0ZM2077.4 890.0V887.9H2079.0V890.0ZM2079.0 890.0V889.0H2080.6V890.0ZM2083.8 890.0V889.6H2085.4V890.0ZM2087.0 890.0V889.3H2088.6V890.0ZM2088.6 890.0V889.4H2090.2V890.0ZM2091.8 890.0V889.0H2093.4V890.0ZM2093.4 890.0V887.7H2095.0V890.0ZM2095.0 890.0V887.5H2096.6V890.0ZM2096.6 890.0V887.6H2098.2V890.0ZM2098.2 890.0V888.9H2099.8V890.0ZM2103.0 890.0V889.2H2104.6V890.0ZM2104.6 890.0V889.6H2106.0V890.0Z" fill="#F5A21E"/>
<rect x="1177.4" y="889.3" width="928.5999999999999" height="1.4" fill="#F5A21E"/>
<text x="2104.6" y="881.7" font-size="21" fill="#E6823A" stroke="#E6823A" text-anchor="end">0 - 0.6</text>
<text x="1183.7" y="909.5" font-size="22.8" fill="#DA2830" stroke="#DA2830">H3K27ac</text>
<path d="M1177.4 916.7V915.0H1179.0V916.7ZM1180.6 916.7V916.3H1182.2V916.7ZM1182.2 916.7V915.9H1183.8V916.7ZM1185.4 916.7V915.8H1187.0V916.7ZM1188.6 916.7V915.5H1190.2V916.7ZM1190.2 916.7V915.7H1191.8V916.7ZM1191.8 916.7V915.6H1193.4V916.7ZM1193.4 916.7V916.2H1195.0V916.7ZM1195.0 916.7V915.6H1196.6V916.7ZM1199.8 916.7V915.3H1201.4V916.7ZM1201.4 916.7V915.7H1203.0V916.7ZM1203.0 916.7V915.6H1204.6V916.7ZM1204.6 916.7V914.6H1206.2V916.7ZM1206.2 916.7V915.7H1207.8V916.7ZM1207.8 916.7V916.3H1209.4V916.7ZM1209.4 916.7V914.4H1211.0V916.7ZM1211.0 916.7V916.2H1212.6V916.7ZM1212.6 916.7V914.3H1214.2V916.7ZM1214.2 916.7V916.2H1215.8V916.7ZM1222.2 916.7V915.8H1223.8V916.7ZM1223.8 916.7V916.2H1225.4V916.7ZM1225.4 916.7V914.8H1227.0V916.7ZM1227.0 916.7V916.2H1228.6V916.7ZM1230.2 916.7V915.6H1231.8V916.7ZM1231.8 916.7V915.8H1233.4V916.7ZM1233.4 916.7V916.2H1235.0V916.7ZM1235.0 916.7V915.1H1236.6V916.7ZM1236.6 916.7V915.1H1238.2V916.7ZM1238.2 916.7V914.8H1239.8V916.7ZM1239.8 916.7V915.9H1241.4V916.7ZM1241.4 916.7V915.3H1243.0V916.7ZM1243.0 916.7V915.5H1244.6V916.7ZM1244.6 916.7V916.3H1246.2V916.7ZM1247.8 916.7V915.4H1249.4V916.7ZM1249.4 916.7V914.4H1251.0V916.7ZM1251.0 916.7V915.5H1252.6V916.7ZM1252.6 916.7V914.2H1254.2V916.7ZM1254.2 916.7V915.0H1255.8V916.7ZM1260.6 916.7V915.9H1262.2V916.7ZM1262.2 916.7V915.1H1263.8V916.7ZM1263.8 916.7V916.2H1265.4V916.7ZM1265.4 916.7V915.9H1267.0V916.7ZM1267.0 916.7V914.4H1268.6V916.7ZM1270.2 916.7V916.3H1271.8V916.7ZM1275.0 916.7V915.1H1276.6V916.7ZM1278.2 916.7V914.4H1279.8V916.7ZM1279.8 916.7V916.2H1281.4V916.7ZM1281.4 916.7V915.9H1283.0V916.7ZM1284.6 916.7V916.2H1286.2V916.7ZM1289.4 916.7V916.2H1291.0V916.7ZM1294.2 916.7V914.8H1295.8V916.7ZM1295.8 916.7V915.1H1297.4V916.7ZM1297.4 916.7V916.0H1299.0V916.7ZM1299.0 916.7V915.1H1300.6V916.7ZM1300.6 916.7V915.2H1302.2V916.7ZM1302.2 916.7V915.8H1303.8V916.7ZM1303.8 916.7V915.8H1305.4V916.7ZM1305.4 916.7V915.5H1307.0V916.7ZM1307.0 916.7V916.2H1308.6V916.7ZM1308.6 916.7V914.9H1310.2V916.7ZM1311.8 916.7V915.5H1313.4V916.7ZM1315.0 916.7V915.9H1316.6V916.7ZM1316.6 916.7V915.0H1318.2V916.7ZM1319.8 916.7V915.2H1321.4V916.7ZM1321.4 916.7V915.8H1323.0V916.7ZM1323.0 916.7V916.3H1324.6V916.7ZM1324.6 916.7V915.7H1326.2V916.7ZM1326.2 916.7V915.2H1327.8V916.7ZM1327.8 916.7V915.6H1329.4V916.7ZM1329.4 916.7V915.6H1331.0V916.7ZM1331.0 916.7V914.7H1332.6V916.7ZM1332.6 916.7V915.9H1334.2V916.7ZM1335.8 916.7V914.8H1337.4V916.7ZM1340.6 916.7V916.3H1342.2V916.7ZM1343.8 916.7V914.8H1345.4V916.7ZM1345.4 916.7V914.4H1345.7V916.7ZM1345.7 916.7V915.0H1347.3V916.7ZM1347.3 916.7V915.0H1348.9V916.7ZM1348.9 916.7V915.0H1350.5V916.7ZM1350.5 916.7V914.8H1352.1V916.7ZM1352.1 916.7V913.9H1353.7V916.7ZM1353.7 916.7V914.2H1355.3V916.7ZM1355.3 916.7V913.6H1356.9V916.7ZM1356.9 916.7V913.9H1358.5V916.7ZM1358.5 916.7V913.9H1360.1V916.7ZM1360.1 916.7V913.6H1361.7V916.7ZM1361.7 916.7V914.7H1363.3V916.7ZM1363.3 916.7V913.6H1364.9V916.7ZM1364.9 916.7V913.7H1366.5V916.7ZM1366.5 916.7V914.6H1368.1V916.7ZM1368.1 916.7V914.1H1368.6V916.7ZM1368.6 916.7V914.9H1370.2V916.7ZM1370.2 916.7V915.8H1371.8V916.7ZM1371.8 916.7V914.9H1373.4V916.7ZM1373.4 916.7V915.3H1375.0V916.7ZM1375.0 916.7V916.2H1376.6V916.7ZM1376.6 916.7V915.9H1378.2V916.7ZM1378.2 916.7V915.1H1379.8V916.7ZM1379.8 916.7V915.1H1381.4V916.7ZM1381.4 916.7V915.1H1383.0V916.7ZM1383.0 916.7V916.2H1384.6V916.7ZM1384.6 916.7V915.7H1386.2V916.7ZM1386.2 916.7V915.1H1387.8V916.7ZM1387.8 916.7V915.4H1389.4V916.7ZM1389.4 916.7V916.0H1390.0V916.7ZM1390.0 916.7V913.0H1391.6V916.7ZM1391.6 916.7V912.5H1393.2V916.7ZM1393.2 916.7V912.0H1394.8V916.7ZM1394.8 916.7V913.4H1396.4V916.7ZM1396.4 916.7V913.4H1398.0V916.7ZM1398.0 916.7V913.9H1399.6V916.7ZM1399.6 916.7V914.0H1400.0V916.7ZM1400.0 916.7V906.8H1401.6V916.7ZM1401.6 916.7V910.3H1403.2V916.7ZM1403.2 916.7V907.1H1404.8V916.7ZM1404.8 916.7V911.0H1406.4V916.7ZM1406.4 916.7V908.0H1408.0V916.7ZM1408.0 916.7V909.3H1409.6V916.7ZM1409.6 916.7V906.6H1411.2V916.7ZM1411.2 916.7V906.9H1411.4V916.7ZM1411.4 916.7V915.2H1413.0V916.7ZM1413.0 916.7V916.2H1414.6V916.7ZM1414.6 916.7V915.9H1415.7V916.7ZM1415.7 916.7V909.8H1417.3V916.7ZM1417.3 916.7V909.5H1418.9V916.7ZM1418.9 916.7V909.5H1420.5V916.7ZM1420.5 916.7V908.6H1422.1V916.7ZM1422.1 916.7V909.2H1422.9V916.7ZM1422.9 916.7V913.6H1424.5V916.7ZM1424.5 916.7V914.3H1426.1V916.7ZM1426.1 916.7V913.3H1427.7V916.7ZM1427.7 916.7V912.8H1428.6V916.7ZM1428.6 916.7V903.0H1430.2V916.7ZM1430.2 916.7V907.7H1431.8V916.7ZM1431.8 916.7V908.8H1433.4V916.7ZM1433.4 916.7V907.5H1435.0V916.7ZM1435.0 916.7V902.0H1436.6V916.7ZM1436.6 916.7V905.2H1437.1V916.7ZM1437.1 916.7V910.4H1438.7V916.7ZM1438.7 916.7V910.7H1440.3V916.7ZM1440.3 916.7V912.2H1441.9V916.7ZM1441.9 916.7V911.5H1442.9V916.7ZM1442.9 916.7V909.0H1444.5V916.7ZM1444.5 916.7V909.4H1446.1V916.7ZM1446.1 916.7V910.5H1447.7V916.7ZM1447.7 916.7V910.7H1449.3V916.7ZM1449.3 916.7V912.6H1450.9V916.7ZM1450.9 916.7V912.5H1452.5V916.7ZM1452.5 916.7V910.9H1454.1V916.7ZM1454.1 916.7V912.4H1455.7V916.7ZM1455.7 916.7V912.1H1457.3V916.7ZM1457.3 916.7V909.0H1458.9V916.7ZM1458.9 916.7V911.7H1460.5V916.7ZM1460.5 916.7V910.3H1462.1V916.7ZM1462.1 916.7V911.1H1463.7V916.7ZM1463.7 916.7V908.7H1465.3V916.7ZM1465.3 916.7V910.7H1466.9V916.7ZM1466.9 916.7V911.7H1468.5V916.7ZM1468.5 916.7V909.3H1470.0V916.7ZM1470.0 916.7V916.0H1471.6V916.7ZM1471.6 916.7V915.6H1473.0V916.7ZM1473.0 916.7V913.3H1474.6V916.7ZM1474.6 916.7V914.6H1476.2V916.7ZM1476.2 916.7V913.1H1477.8V916.7ZM1477.8 916.7V913.5H1479.4V916.7ZM1479.4 916.7V913.0H1481.0V916.7ZM1481.0 916.7V913.6H1482.6V916.7ZM1482.6 916.7V913.1H1484.2V916.7ZM1484.2 916.7V913.8H1485.8V916.7ZM1485.8 916.7V914.5H1487.4V916.7ZM1487.4 916.7V913.9H1489.0V916.7ZM1489.0 916.7V914.2H1490.6V916.7ZM1490.6 916.7V913.2H1492.2V916.7ZM1492.2 916.7V914.7H1493.8V916.7ZM1493.8 916.7V913.2H1495.4V916.7ZM1495.4 916.7V914.2H1497.0V916.7ZM1497.0 916.7V914.6H1498.6V916.7ZM1498.6 916.7V913.0H1500.2V916.7ZM1500.2 916.7V914.1H1501.8V916.7ZM1501.8 916.7V913.2H1503.4V916.7ZM1503.4 916.7V914.4H1505.0V916.7ZM1505.0 916.7V914.1H1506.6V916.7ZM1506.6 916.7V914.4H1508.2V916.7ZM1508.2 916.7V914.6H1509.8V916.7ZM1509.8 916.7V914.7H1511.4V916.7ZM1511.4 916.7V914.6H1513.0V916.7ZM1513.0 916.7V914.2H1514.6V916.7ZM1514.6 916.7V913.8H1516.2V916.7ZM1516.2 916.7V914.5H1517.8V916.7ZM1517.8 916.7V914.4H1519.4V916.7ZM1519.4 916.7V913.1H1521.0V916.7ZM1521.0 916.7V913.4H1522.6V916.7ZM1522.6 916.7V913.0H1524.2V916.7ZM1524.2 916.7V912.8H1525.8V916.7ZM1525.8 916.7V914.7H1527.4V916.7ZM1527.4 916.7V913.2H1529.0V916.7ZM1529.0 916.7V913.6H1530.6V916.7ZM1530.6 916.7V913.1H1532.2V916.7ZM1532.2 916.7V914.1H1533.8V916.7ZM1533.8 916.7V913.6H1535.4V916.7ZM1535.4 916.7V913.8H1537.0V916.7ZM1537.0 916.7V914.5H1538.6V916.7ZM1538.6 916.7V914.4H1540.2V916.7ZM1540.2 916.7V913.5H1541.8V916.7ZM1541.8 916.7V913.1H1543.4V916.7ZM1543.4 916.7V913.1H1545.0V916.7ZM1545.0 916.7V914.3H1546.6V916.7ZM1546.6 916.7V912.9H1548.2V916.7ZM1548.2 916.7V913.8H1549.8V916.7ZM1549.8 916.7V913.3H1551.4V916.7ZM1551.4 916.7V913.2H1553.0V916.7ZM1553.0 916.7V913.3H1554.6V916.7ZM1554.6 916.7V914.0H1556.2V916.7ZM1556.2 916.7V914.4H1557.8V916.7ZM1557.8 916.7V914.2H1559.4V916.7ZM1559.4 916.7V914.3H1561.0V916.7ZM1561.0 916.7V913.2H1562.6V916.7ZM1562.6 916.7V912.9H1564.2V916.7ZM1564.2 916.7V914.2H1565.8V916.7ZM1565.8 916.7V913.3H1567.4V916.7ZM1567.4 916.7V914.0H1569.0V916.7ZM1569.0 916.7V913.7H1570.6V916.7ZM1570.6 916.7V912.8H1572.2V916.7ZM1572.2 916.7V914.7H1573.8V916.7ZM1573.8 916.7V913.0H1575.4V916.7ZM1575.4 916.7V914.6H1577.0V916.7ZM1577.0 916.7V913.3H1578.6V916.7ZM1578.6 916.7V912.8H1580.2V916.7ZM1580.2 916.7V913.1H1581.8V916.7ZM1581.8 916.7V914.3H1583.4V916.7ZM1583.4 916.7V913.3H1585.0V916.7ZM1585.0 916.7V913.1H1586.6V916.7ZM1586.6 916.7V914.3H1588.2V916.7ZM1588.2 916.7V913.8H1589.8V916.7ZM1589.8 916.7V913.3H1591.4V916.7ZM1591.4 916.7V914.2H1593.0V916.7ZM1593.0 916.7V913.1H1594.6V916.7ZM1594.6 916.7V913.2H1596.2V916.7ZM1596.2 916.7V913.4H1597.8V916.7ZM1597.8 916.7V913.1H1599.4V916.7ZM1599.4 916.7V914.3H1600.0V916.7ZM1600.0 916.7V914.8H1601.6V916.7ZM1601.6 916.7V915.0H1603.2V916.7ZM1603.2 916.7V915.6H1604.8V916.7ZM1604.8 916.7V915.9H1606.4V916.7ZM1608.0 916.7V915.0H1609.6V916.7ZM1612.8 916.7V914.1H1614.4V916.7ZM1614.4 916.7V915.9H1616.0V916.7ZM1616.0 916.7V914.2H1617.6V916.7ZM1619.2 916.7V916.0H1620.8V916.7ZM1620.8 916.7V914.9H1622.4V916.7ZM1622.4 916.7V914.7H1624.0V916.7ZM1625.6 916.7V914.5H1627.2V916.7ZM1627.2 916.7V916.2H1628.8V916.7ZM1628.8 916.7V915.2H1630.4V916.7ZM1630.4 916.7V916.3H1632.0V916.7ZM1632.0 916.7V914.5H1633.6V916.7ZM1633.6 916.7V914.3H1635.2V916.7ZM1635.2 916.7V915.2H1636.8V916.7ZM1636.8 916.7V914.1H1638.4V916.7ZM1638.4 916.7V914.5H1640.0V916.7ZM1640.0 916.7V916.0H1641.6V916.7ZM1641.6 916.7V916.2H1643.2V916.7ZM1643.2 916.7V915.9H1644.8V916.7ZM1644.8 916.7V916.2H1646.4V916.7ZM1646.4 916.7V916.0H1648.0V916.7ZM1648.0 916.7V914.5H1649.6V916.7ZM1651.2 916.7V916.1H1652.8V916.7ZM1652.8 916.7V914.4H1654.4V916.7ZM1657.6 916.7V915.4H1659.2V916.7ZM1659.2 916.7V915.9H1660.8V916.7ZM1660.8 916.7V916.0H1662.4V916.7ZM1662.4 916.7V916.1H1664.0V916.7ZM1664.0 916.7V916.1H1665.6V916.7ZM1665.6 916.7V914.9H1667.2V916.7ZM1667.2 916.7V916.2H1668.8V916.7ZM1670.4 916.7V916.3H1672.0V916.7ZM1673.6 916.7V914.5H1675.2V916.7ZM1675.2 916.7V915.7H1676.8V916.7ZM1676.8 916.7V914.7H1678.4V916.7ZM1678.4 916.7V915.7H1680.0V916.7ZM1680.0 916.7V915.3H1681.6V916.7ZM1683.2 916.7V915.9H1684.8V916.7ZM1684.8 916.7V916.3H1686.4V916.7ZM1688.0 916.7V914.1H1689.6V916.7ZM1689.6 916.7V916.3H1691.2V916.7ZM1691.2 916.7V914.2H1692.8V916.7ZM1694.4 916.7V916.2H1696.0V916.7ZM1696.0 916.7V915.9H1697.6V916.7ZM1697.6 916.7V916.0H1699.2V916.7ZM1699.2 916.7V915.7H1700.8V916.7ZM1702.4 916.7V916.2H1704.0V916.7ZM1704.0 916.7V914.7H1705.6V916.7ZM1705.6 916.7V916.2H1707.2V916.7ZM1707.2 916.7V915.5H1708.8V916.7ZM1708.8 916.7V915.9H1710.4V916.7ZM1710.4 916.7V915.1H1712.0V916.7ZM1713.6 916.7V916.1H1715.2V916.7ZM1715.2 916.7V915.9H1716.8V916.7ZM1716.8 916.7V912.9H1718.4V916.7ZM1718.4 916.7V915.9H1720.0V916.7ZM1720.0 916.7V915.8H1721.6V916.7ZM1721.6 916.7V916.1H1723.2V916.7ZM1723.2 916.7V916.3H1724.8V916.7ZM1724.8 916.7V915.9H1726.4V916.7ZM1726.4 916.7V916.2H1728.0V916.7ZM1728.0 916.7V916.3H1729.6V916.7ZM1729.6 916.7V914.2H1731.2V916.7ZM1732.8 916.7V916.0H1734.4V916.7ZM1734.4 916.7V915.4H1736.0V916.7ZM1736.0 916.7V915.8H1737.6V916.7ZM1737.6 916.7V916.2H1739.2V916.7ZM1739.2 916.7V916.3H1740.8V916.7ZM1742.4 916.7V914.9H1744.0V916.7ZM1744.0 916.7V916.3H1745.6V916.7ZM1745.6 916.7V915.1H1747.2V916.7ZM1747.2 916.7V915.7H1748.8V916.7ZM1748.8 916.7V914.7H1750.4V916.7ZM1750.4 916.7V915.0H1752.0V916.7ZM1752.0 916.7V916.1H1753.6V916.7ZM1755.2 916.7V915.9H1756.8V916.7ZM1760.0 916.7V916.0H1761.6V916.7ZM1761.6 916.7V916.3H1763.2V916.7ZM1763.2 916.7V913.5H1764.8V916.7ZM1766.4 916.7V916.3H1768.0V916.7ZM1768.0 916.7V914.5H1769.6V916.7ZM1769.6 916.7V914.1H1771.2V916.7ZM1772.8 916.7V915.7H1774.4V916.7ZM1774.4 916.7V916.1H1776.0V916.7ZM1777.6 916.7V914.4H1779.2V916.7ZM1779.2 916.7V915.4H1780.8V916.7ZM1780.8 916.7V916.3H1782.4V916.7ZM1785.6 916.7V916.0H1787.2V916.7ZM1787.2 916.7V915.3H1788.8V916.7ZM1790.4 916.7V915.4H1792.0V916.7ZM1792.0 916.7V914.3H1793.6V916.7ZM1795.2 916.7V914.3H1796.8V916.7ZM1796.8 916.7V916.0H1798.4V916.7ZM1798.4 916.7V914.2H1800.0V916.7ZM1800.0 916.7V915.3H1801.6V916.7ZM1803.2 916.7V915.3H1804.8V916.7ZM1804.8 916.7V914.9H1806.4V916.7ZM1808.0 916.7V914.9H1809.6V916.7ZM1809.6 916.7V915.7H1811.2V916.7ZM1811.2 916.7V915.6H1812.8V916.7ZM1812.8 916.7V916.3H1814.4V916.7ZM1814.4 916.7V916.0H1816.0V916.7ZM1816.0 916.7V915.6H1817.6V916.7ZM1817.6 916.7V915.9H1819.2V916.7ZM1819.2 916.7V914.6H1820.8V916.7ZM1822.4 916.7V915.5H1824.0V916.7ZM1824.0 916.7V916.1H1825.6V916.7ZM1825.6 916.7V915.6H1827.2V916.7ZM1830.4 916.7V914.5H1832.0V916.7ZM1833.6 916.7V914.6H1835.2V916.7ZM1835.2 916.7V914.8H1836.8V916.7ZM1836.8 916.7V914.1H1838.4V916.7ZM1838.4 916.7V915.8H1840.0V916.7ZM1840.0 916.7V914.0H1841.6V916.7ZM1841.6 916.7V916.2H1843.2V916.7ZM1848.0 916.7V914.2H1849.6V916.7ZM1849.6 916.7V914.7H1851.2V916.7ZM1852.8 916.7V916.2H1854.4V916.7ZM1857.6 916.7V916.1H1859.2V916.7ZM1859.2 916.7V915.8H1860.8V916.7ZM1860.8 916.7V916.2H1862.4V916.7ZM1862.4 916.7V916.2H1864.0V916.7ZM1864.0 916.7V915.8H1865.6V916.7ZM1865.6 916.7V915.8H1867.2V916.7ZM1868.8 916.7V915.5H1870.4V916.7ZM1870.4 916.7V916.1H1872.0V916.7ZM1872.0 916.7V916.1H1873.6V916.7ZM1875.2 916.7V914.3H1876.8V916.7ZM1876.8 916.7V916.3H1878.4V916.7ZM1878.4 916.7V915.8H1880.0V916.7ZM1880.0 916.7V916.0H1881.6V916.7ZM1883.2 916.7V915.3H1884.8V916.7ZM1884.8 916.7V914.2H1886.4V916.7ZM1886.4 916.7V916.2H1888.0V916.7ZM1889.6 916.7V914.2H1891.2V916.7ZM1891.2 916.7V915.3H1892.8V916.7ZM1892.8 916.7V915.5H1894.4V916.7ZM1894.4 916.7V915.8H1896.0V916.7ZM1896.0 916.7V915.7H1897.6V916.7ZM1900.8 916.7V914.1H1902.4V916.7ZM1902.4 916.7V916.2H1904.0V916.7ZM1904.0 916.7V914.9H1905.6V916.7ZM1907.2 916.7V915.6H1908.8V916.7ZM1908.8 916.7V915.4H1910.4V916.7ZM1910.4 916.7V915.1H1912.0V916.7ZM1912.0 916.7V914.6H1913.6V916.7ZM1913.6 916.7V915.0H1915.2V916.7ZM1915.2 916.7V915.2H1916.8V916.7ZM1916.8 916.7V915.6H1918.4V916.7ZM1918.4 916.7V916.3H1920.0V916.7ZM1920.0 916.7V915.9H1921.6V916.7ZM1921.6 916.7V915.0H1923.2V916.7ZM1923.2 916.7V916.3H1924.8V916.7ZM1924.8 916.7V915.8H1926.4V916.7ZM1926.4 916.7V914.5H1928.0V916.7ZM1929.6 916.7V914.9H1931.2V916.7ZM1931.2 916.7V916.2H1932.8V916.7ZM1932.8 916.7V914.7H1934.4V916.7ZM1934.4 916.7V915.8H1936.0V916.7ZM1936.0 916.7V916.2H1937.6V916.7ZM1937.6 916.7V914.9H1939.2V916.7ZM1939.2 916.7V915.7H1940.8V916.7ZM1940.8 916.7V914.1H1942.4V916.7ZM1942.4 916.7V915.3H1944.0V916.7ZM1944.0 916.7V914.9H1945.6V916.7ZM1945.6 916.7V915.8H1947.2V916.7ZM1948.8 916.7V915.9H1950.4V916.7ZM1950.4 916.7V915.0H1952.0V916.7ZM1952.0 916.7V915.0H1953.6V916.7ZM1953.6 916.7V916.3H1955.2V916.7ZM1956.8 916.7V916.0H1958.4V916.7ZM1958.4 916.7V916.2H1960.0V916.7ZM1960.0 916.7V916.1H1961.6V916.7ZM1961.6 916.7V915.4H1963.2V916.7ZM1963.2 916.7V914.5H1964.8V916.7ZM1964.8 916.7V915.8H1966.4V916.7ZM1966.4 916.7V916.3H1968.0V916.7ZM1969.6 916.7V914.5H1971.2V916.7ZM1971.2 916.7V913.8H1972.8V916.7ZM1972.8 916.7V915.2H1974.4V916.7ZM1974.4 916.7V916.1H1976.0V916.7ZM1976.0 916.7V914.6H1977.6V916.7ZM1977.6 916.7V916.1H1979.2V916.7ZM1979.2 916.7V916.3H1980.8V916.7ZM1980.8 916.7V914.5H1982.4V916.7ZM1982.4 916.7V916.0H1984.0V916.7ZM1984.0 916.7V915.3H1985.6V916.7ZM1987.2 916.7V915.4H1988.8V916.7ZM1988.8 916.7V913.1H1990.4V916.7ZM1992.0 916.7V914.9H1993.6V916.7ZM1993.6 916.7V916.3H1995.2V916.7ZM1995.2 916.7V914.3H1996.8V916.7ZM1998.4 916.7V914.7H2000.0V916.7ZM2001.6 916.7V915.3H2003.2V916.7ZM2006.4 916.7V916.3H2008.0V916.7ZM2008.0 916.7V914.2H2009.6V916.7ZM2009.6 916.7V916.3H2011.2V916.7ZM2011.2 916.7V914.4H2012.8V916.7ZM2014.4 916.7V913.3H2016.0V916.7ZM2016.0 916.7V916.1H2017.6V916.7ZM2019.2 916.7V914.6H2020.8V916.7ZM2022.4 916.7V914.9H2024.0V916.7ZM2027.2 916.7V916.3H2028.8V916.7ZM2030.4 916.7V915.7H2032.0V916.7ZM2032.0 916.7V916.2H2033.6V916.7ZM2033.6 916.7V914.9H2035.2V916.7ZM2035.2 916.7V915.4H2036.8V916.7ZM2036.8 916.7V913.4H2038.4V916.7ZM2040.0 916.7V916.3H2041.6V916.7ZM2041.6 916.7V914.9H2043.2V916.7ZM2043.2 916.7V914.8H2044.8V916.7ZM2044.8 916.7V915.7H2046.4V916.7ZM2046.4 916.7V915.9H2048.0V916.7ZM2049.6 916.7V915.8H2051.2V916.7ZM2051.2 916.7V915.2H2052.8V916.7ZM2052.8 916.7V915.5H2054.4V916.7ZM2054.4 916.7V913.2H2056.0V916.7ZM2060.8 916.7V915.1H2062.4V916.7ZM2062.4 916.7V916.3H2064.0V916.7ZM2064.0 916.7V913.5H2065.6V916.7ZM2068.8 916.7V916.3H2070.4V916.7ZM2072.0 916.7V916.1H2073.6V916.7ZM2076.8 916.7V916.0H2078.4V916.7ZM2078.4 916.7V916.3H2080.0V916.7ZM2080.0 916.7V915.8H2081.6V916.7ZM2081.6 916.7V915.4H2083.2V916.7ZM2083.2 916.7V916.2H2084.8V916.7ZM2086.4 916.7V916.1H2088.0V916.7ZM2088.0 916.7V913.4H2089.6V916.7ZM2089.6 916.7V915.8H2091.2V916.7ZM2091.2 916.7V914.3H2092.8V916.7ZM2092.8 916.7V914.2H2094.4V916.7ZM2094.4 916.7V914.9H2096.0V916.7ZM2096.0 916.7V915.2H2097.6V916.7ZM2097.6 916.7V916.2H2099.2V916.7ZM2100.8 916.7V916.2H2102.4V916.7ZM2104.0 916.7V916.2H2105.6V916.7ZM2105.6 916.7V916.1H2106.0V916.7Z" fill="#E4222B"/>
<rect x="1177.4" y="916.0" width="928.5999999999999" height="1.4" fill="#E4222B"/>
<text x="2104.6" y="909.0" font-size="21" fill="#DA2830" stroke="#DA2830" text-anchor="end">0 - 1.2</text>
<text x="1183.7" y="934.9" font-size="22.8" fill="#26408E" stroke="#26408E">H3K27me3</text>
<path d="M1179.0 943.0V942.6H1180.6V943.0ZM1180.6 943.0V942.4H1182.2V943.0ZM1182.2 943.0V942.6H1183.8V943.0ZM1187.0 943.0V941.7H1188.6V943.0ZM1188.6 943.0V941.8H1190.2V943.0ZM1190.2 943.0V942.5H1191.8V943.0ZM1191.8 943.0V942.2H1193.4V943.0ZM1193.4 943.0V942.3H1195.0V943.0ZM1201.4 943.0V942.6H1203.0V943.0ZM1203.0 943.0V942.2H1204.6V943.0ZM1217.4 943.0V942.6H1219.0V943.0ZM1219.0 943.0V942.6H1220.6V943.0ZM1225.4 943.0V942.3H1227.0V943.0ZM1227.0 943.0V942.1H1228.6V943.0ZM1228.6 943.0V942.3H1230.2V943.0ZM1230.2 943.0V942.6H1231.8V943.0ZM1235.0 943.0V942.1H1236.6V943.0ZM1238.2 943.0V941.8H1239.8V943.0ZM1239.8 943.0V942.3H1241.4V943.0ZM1251.0 943.0V942.6H1252.6V943.0ZM1259.0 943.0V942.5H1260.6V943.0ZM1263.8 943.0V942.6H1265.4V943.0ZM1265.4 943.0V942.3H1267.0V943.0ZM1268.6 943.0V942.6H1270.2V943.0ZM1271.8 943.0V942.5H1273.4V943.0ZM1276.6 943.0V942.6H1278.2V943.0ZM1279.8 943.0V942.4H1281.4V943.0ZM1281.4 943.0V942.4H1283.0V943.0ZM1284.6 943.0V942.6H1286.2V943.0ZM1286.2 943.0V942.6H1287.8V943.0ZM1292.6 943.0V942.6H1294.2V943.0ZM1305.4 943.0V942.1H1307.0V943.0ZM1308.6 943.0V942.5H1310.2V943.0ZM1310.2 943.0V942.0H1311.8V943.0ZM1313.4 943.0V942.5H1315.0V943.0ZM1319.8 943.0V942.4H1321.4V943.0ZM1321.4 943.0V942.4H1323.0V943.0ZM1323.0 943.0V941.9H1324.6V943.0ZM1324.6 943.0V942.6H1326.2V943.0ZM1329.4 943.0V942.6H1331.0V943.0ZM1332.6 943.0V942.4H1334.2V943.0ZM1334.2 943.0V942.6H1335.8V943.0ZM1335.8 943.0V942.2H1337.4V943.0ZM1340.6 943.0V942.1H1342.2V943.0ZM1342.2 943.0V942.6H1343.8V943.0ZM1345.4 943.0V942.6H1347.0V943.0ZM1347.0 943.0V942.5H1348.6V943.0ZM1353.4 943.0V942.4H1355.0V943.0ZM1355.0 943.0V941.9H1356.6V943.0ZM1358.2 943.0V942.6H1359.8V943.0ZM1359.8 943.0V942.3H1361.4V943.0ZM1361.4 943.0V942.1H1363.0V943.0ZM1364.6 943.0V942.6H1366.2V943.0ZM1367.8 943.0V942.6H1369.4V943.0ZM1371.0 943.0V942.2H1372.6V943.0ZM1372.6 943.0V942.4H1374.2V943.0ZM1374.2 943.0V942.4H1375.8V943.0ZM1380.6 943.0V942.1H1382.2V943.0ZM1393.4 943.0V942.1H1395.0V943.0ZM1395.0 943.0V942.3H1396.6V943.0ZM1396.6 943.0V942.5H1398.2V943.0ZM1399.8 943.0V942.5H1401.4V943.0ZM1403.0 943.0V942.4H1404.6V943.0ZM1409.4 943.0V942.5H1411.0V943.0ZM1415.8 943.0V942.5H1417.4V943.0ZM1419.0 943.0V942.6H1420.6V943.0ZM1420.6 943.0V942.1H1422.2V943.0ZM1422.2 943.0V941.8H1423.8V943.0ZM1425.4 943.0V942.3H1427.0V943.0ZM1433.4 943.0V942.1H1435.0V943.0ZM1441.4 943.0V942.5H1443.0V943.0ZM1446.2 943.0V942.4H1447.8V943.0ZM1447.8 943.0V942.1H1449.4V943.0ZM1449.4 943.0V942.6H1451.0V943.0ZM1451.0 943.0V942.1H1452.6V943.0ZM1455.8 943.0V942.0H1457.4V943.0ZM1462.2 943.0V941.9H1463.8V943.0ZM1465.4 943.0V941.9H1467.0V943.0ZM1468.6 943.0V942.4H1470.2V943.0ZM1471.8 943.0V942.6H1473.4V943.0ZM1476.6 943.0V942.1H1478.2V943.0ZM1479.8 943.0V942.2H1481.4V943.0ZM1481.4 943.0V942.6H1483.0V943.0ZM1483.0 943.0V942.5H1484.6V943.0ZM1484.6 943.0V942.5H1486.2V943.0ZM1486.2 943.0V942.5H1487.8V943.0ZM1487.8 943.0V942.5H1489.4V943.0ZM1491.0 943.0V942.0H1492.6V943.0ZM1492.6 943.0V942.6H1494.2V943.0ZM1494.2 943.0V941.8H1495.8V943.0ZM1495.8 943.0V942.0H1497.4V943.0ZM1497.4 943.0V942.3H1499.0V943.0ZM1500.6 943.0V942.5H1502.2V943.0ZM1503.8 943.0V942.2H1505.4V943.0ZM1505.4 943.0V942.3H1507.0V943.0ZM1508.6 943.0V942.6H1510.2V943.0ZM1510.2 943.0V942.1H1511.8V943.0ZM1515.0 943.0V942.6H1516.6V943.0ZM1516.6 943.0V942.6H1518.2V943.0ZM1518.2 943.0V942.6H1519.8V943.0ZM1529.4 943.0V942.6H1531.0V943.0ZM1531.0 943.0V942.5H1532.6V943.0ZM1532.6 943.0V942.6H1534.2V943.0ZM1534.2 943.0V942.3H1535.8V943.0ZM1540.6 943.0V942.0H1542.2V943.0ZM1543.8 943.0V941.8H1545.4V943.0ZM1551.8 943.0V941.8H1553.4V943.0ZM1556.6 943.0V942.6H1558.2V943.0ZM1558.2 943.0V942.5H1559.8V943.0ZM1561.4 943.0V942.5H1563.0V943.0ZM1567.8 943.0V942.1H1569.4V943.0ZM1569.4 943.0V942.4H1571.0V943.0ZM1577.4 943.0V942.6H1579.0V943.0ZM1582.2 943.0V941.9H1583.8V943.0ZM1587.0 943.0V942.3H1588.6V943.0ZM1595.0 943.0V942.0H1596.6V943.0ZM1598.2 943.0V942.5H1599.8V943.0ZM1599.8 943.0V942.6H1601.4V943.0ZM1603.0 943.0V941.9H1604.6V943.0ZM1609.4 943.0V942.6H1611.0V943.0ZM1611.0 943.0V942.5H1612.6V943.0ZM1614.2 943.0V942.0H1615.8V943.0ZM1623.8 943.0V942.5H1625.4V943.0ZM1625.4 943.0V942.6H1627.0V943.0ZM1627.0 943.0V942.0H1628.6V943.0ZM1630.2 943.0V942.2H1631.8V943.0ZM1633.4 943.0V941.9H1635.0V943.0ZM1638.2 943.0V941.9H1639.8V943.0ZM1646.2 943.0V942.1H1647.8V943.0ZM1649.4 943.0V941.8H1651.0V943.0ZM1652.6 943.0V942.6H1654.2V943.0ZM1659.0 943.0V942.5H1660.6V943.0ZM1663.8 943.0V942.1H1665.4V943.0ZM1665.4 943.0V942.4H1667.0V943.0ZM1670.2 943.0V942.4H1671.8V943.0ZM1673.4 943.0V942.6H1675.0V943.0ZM1676.6 943.0V942.5H1678.2V943.0ZM1679.8 943.0V942.2H1681.4V943.0ZM1681.4 943.0V941.6H1683.0V943.0ZM1684.6 943.0V942.6H1686.2V943.0ZM1686.2 943.0V942.6H1687.8V943.0ZM1689.4 943.0V942.6H1691.0V943.0ZM1692.6 943.0V942.6H1694.2V943.0ZM1695.8 943.0V942.3H1697.4V943.0ZM1697.4 943.0V942.5H1699.0V943.0ZM1702.2 943.0V942.1H1703.8V943.0ZM1705.4 943.0V942.6H1707.0V943.0ZM1708.6 943.0V942.5H1710.2V943.0ZM1710.2 943.0V942.3H1711.8V943.0ZM1713.4 943.0V941.9H1715.0V943.0ZM1715.0 943.0V942.6H1716.6V943.0ZM1716.6 943.0V942.5H1718.2V943.0ZM1718.2 943.0V942.2H1719.8V943.0ZM1724.6 943.0V942.3H1726.2V943.0ZM1729.4 943.0V942.3H1731.0V943.0ZM1731.0 943.0V941.8H1732.6V943.0ZM1737.4 943.0V941.7H1739.0V943.0ZM1740.6 943.0V942.1H1742.2V943.0ZM1745.4 943.0V942.0H1747.0V943.0ZM1747.0 943.0V941.8H1748.6V943.0ZM1748.6 943.0V942.6H1750.2V943.0ZM1751.8 943.0V941.8H1753.4V943.0ZM1753.4 943.0V942.3H1755.0V943.0ZM1759.8 943.0V942.6H1761.4V943.0ZM1763.0 943.0V942.1H1764.6V943.0ZM1766.2 943.0V942.0H1767.8V943.0ZM1769.4 943.0V942.6H1771.0V943.0ZM1780.6 943.0V942.0H1782.2V943.0ZM1795.0 943.0V941.8H1796.6V943.0ZM1798.2 943.0V942.2H1799.8V943.0ZM1799.8 943.0V942.4H1801.4V943.0ZM1801.4 943.0V942.0H1803.0V943.0ZM1803.0 943.0V942.6H1804.6V943.0ZM1804.6 943.0V942.6H1806.2V943.0ZM1809.4 943.0V942.4H1811.0V943.0ZM1811.0 943.0V942.3H1812.6V943.0ZM1812.6 943.0V942.5H1814.2V943.0ZM1817.4 943.0V942.6H1819.0V943.0ZM1820.6 943.0V942.5H1822.2V943.0ZM1825.4 943.0V942.6H1827.0V943.0ZM1827.0 943.0V942.0H1828.6V943.0ZM1828.6 943.0V942.0H1830.2V943.0ZM1830.2 943.0V942.4H1831.8V943.0ZM1835.0 943.0V942.6H1836.6V943.0ZM1838.2 943.0V942.6H1839.8V943.0ZM1839.8 943.0V942.3H1841.4V943.0ZM1847.8 943.0V942.6H1849.4V943.0ZM1849.4 943.0V942.6H1851.0V943.0ZM1857.4 943.0V942.6H1859.0V943.0ZM1859.0 943.0V942.6H1860.6V943.0ZM1863.8 943.0V941.9H1865.4V943.0ZM1865.4 943.0V942.4H1867.0V943.0ZM1878.2 943.0V942.4H1879.8V943.0ZM1879.8 943.0V942.5H1881.4V943.0ZM1881.4 943.0V942.1H1883.0V943.0ZM1891.0 943.0V942.6H1892.6V943.0ZM1892.6 943.0V942.6H1894.2V943.0ZM1899.0 943.0V941.9H1900.6V943.0ZM1900.6 943.0V942.5H1902.2V943.0ZM1902.2 943.0V941.8H1903.8V943.0ZM1905.4 943.0V942.6H1907.0V943.0ZM1908.6 943.0V942.6H1910.2V943.0ZM1910.2 943.0V942.5H1911.8V943.0ZM1918.2 943.0V942.1H1919.8V943.0ZM1923.0 943.0V942.1H1924.6V943.0ZM1929.4 943.0V942.4H1931.0V943.0ZM1945.4 943.0V942.2H1947.0V943.0ZM1947.0 943.0V942.5H1948.6V943.0ZM1948.6 943.0V942.5H1950.2V943.0ZM1950.2 943.0V941.9H1951.8V943.0ZM1951.8 943.0V942.0H1953.4V943.0ZM1955.0 943.0V942.6H1956.6V943.0ZM1956.6 943.0V942.4H1958.2V943.0ZM1961.4 943.0V942.0H1963.0V943.0ZM1964.6 943.0V942.3H1966.2V943.0ZM1969.4 943.0V942.1H1971.0V943.0ZM1974.2 943.0V942.2H1975.8V943.0ZM1980.6 943.0V942.5H1982.2V943.0ZM1990.2 943.0V942.4H1991.8V943.0ZM1991.8 943.0V942.5H1993.4V943.0ZM1996.6 943.0V941.9H1998.2V943.0ZM1999.8 943.0V942.4H2001.4V943.0ZM2004.6 943.0V942.5H2006.2V943.0ZM2006.2 943.0V942.6H2007.8V943.0ZM2012.6 943.0V942.4H2014.2V943.0ZM2028.6 943.0V942.4H2030.2V943.0ZM2030.2 943.0V941.8H2031.8V943.0ZM2038.2 943.0V942.2H2039.8V943.0ZM2049.4 943.0V942.6H2051.0V943.0ZM2054.2 943.0V942.5H2055.8V943.0ZM2055.8 943.0V941.8H2057.4V943.0ZM2057.4 943.0V941.8H2059.0V943.0ZM2059.0 943.0V942.5H2060.6V943.0ZM2062.2 943.0V942.6H2063.8V943.0ZM2063.8 943.0V942.5H2065.4V943.0ZM2065.4 943.0V942.6H2067.0V943.0ZM2068.6 943.0V942.2H2070.2V943.0ZM2070.2 943.0V942.2H2071.8V943.0ZM2071.8 943.0V942.4H2073.4V943.0ZM2073.4 943.0V942.6H2075.0V943.0ZM2075.0 943.0V942.2H2076.6V943.0ZM2076.6 943.0V942.6H2078.2V943.0ZM2081.4 943.0V942.3H2083.0V943.0ZM2083.0 943.0V942.6H2084.6V943.0ZM2084.6 943.0V942.5H2086.2V943.0ZM2087.8 943.0V942.0H2089.4V943.0ZM2089.4 943.0V942.5H2091.0V943.0ZM2091.0 943.0V942.2H2092.6V943.0ZM2092.6 943.0V942.6H2094.2V943.0ZM2094.2 943.0V942.1H2095.8V943.0ZM2100.6 943.0V942.1H2102.2V943.0Z" fill="#2D4EA2"/>
<rect x="1177.4" y="942.3" width="928.5999999999999" height="1.4" fill="#2D4EA2"/>
<text x="2104.6" y="935.9" font-size="21" fill="#26408E" stroke="#26408E" text-anchor="end">0 - 1.0</text>
<rect x="1167.8" y="968.5" width="3.6" height="82.0" fill="#000"/>
<text transform="translate(1098,1008) rotate(-90)" font-size="24.5" text-anchor="middle" stroke="#000">cortex</text>
<text transform="translate(1124,1006.8) rotate(-90)" font-size="24.5" text-anchor="middle" stroke="#000">culture</text>
<text transform="translate(1151,1006.7) rotate(-90)" font-size="24.5" text-anchor="middle" stroke="#000">(7 day)</text>
<text x="1183.7" y="981.2" font-size="22.8" fill="#E6823A" stroke="#E6823A">H3K4me3</text>
<path d="M1177.4 988.6V988.0H1179.0V988.6ZM1179.0 988.6V987.8H1180.6V988.6ZM1185.4 988.6V987.3H1187.0V988.6ZM1187.0 988.6V988.2H1188.6V988.6ZM1188.6 988.6V987.2H1190.2V988.6ZM1190.2 988.6V988.2H1191.8V988.6ZM1191.8 988.6V988.2H1193.4V988.6ZM1193.4 988.6V986.3H1195.0V988.6ZM1198.2 988.6V987.3H1199.8V988.6ZM1206.2 988.6V987.9H1207.8V988.6ZM1207.8 988.6V986.7H1209.4V988.6ZM1209.4 988.6V987.9H1211.0V988.6ZM1212.6 988.6V987.6H1214.2V988.6ZM1214.2 988.6V988.0H1215.8V988.6ZM1215.8 988.6V986.1H1217.4V988.6ZM1219.0 988.6V985.1H1220.6V988.6ZM1220.6 988.6V986.2H1222.2V988.6ZM1222.2 988.6V987.9H1223.8V988.6ZM1223.8 988.6V987.6H1225.4V988.6ZM1228.6 988.6V987.9H1230.2V988.6ZM1238.2 988.6V987.0H1239.8V988.6ZM1241.4 988.6V988.1H1243.0V988.6ZM1246.2 988.6V986.5H1247.8V988.6ZM1247.8 988.6V987.6H1249.4V988.6ZM1251.0 988.6V988.1H1252.6V988.6ZM1252.6 988.6V988.0H1254.2V988.6ZM1254.2 988.6V986.7H1255.8V988.6ZM1257.4 988.6V988.2H1259.0V988.6ZM1260.6 988.6V987.4H1262.2V988.6ZM1265.4 988.6V987.9H1267.0V988.6ZM1268.6 988.6V987.2H1270.2V988.6ZM1270.2 988.6V987.0H1271.8V988.6ZM1271.8 988.6V985.3H1273.4V988.6ZM1283.0 988.6V987.0H1284.6V988.6ZM1284.6 988.6V986.2H1286.2V988.6ZM1292.6 988.6V986.9H1294.2V988.6ZM1294.2 988.6V987.4H1295.8V988.6ZM1295.8 988.6V987.4H1297.4V988.6ZM1310.2 988.6V987.3H1311.8V988.6ZM1313.4 988.6V987.1H1315.0V988.6ZM1315.0 988.6V986.2H1316.6V988.6ZM1321.4 988.6V988.1H1323.0V988.6ZM1323.0 988.6V988.1H1324.6V988.6ZM1326.2 988.6V986.6H1327.8V988.6ZM1329.4 988.6V988.1H1331.0V988.6ZM1331.0 988.6V985.6H1332.6V988.6ZM1332.6 988.6V986.5H1334.2V988.6ZM1334.2 988.6V988.2H1335.8V988.6ZM1335.8 988.6V987.7H1337.4V988.6ZM1342.2 988.6V988.1H1343.8V988.6ZM1343.8 988.6V986.7H1345.4V988.6ZM1345.4 988.6V988.2H1347.0V988.6ZM1348.6 988.6V987.1H1350.2V988.6ZM1350.2 988.6V987.9H1351.8V988.6ZM1351.8 988.6V986.3H1353.4V988.6ZM1353.4 988.6V988.1H1355.0V988.6ZM1359.8 988.6V988.2H1361.4V988.6ZM1361.4 988.6V987.4H1363.0V988.6ZM1363.0 988.6V988.2H1364.6V988.6ZM1364.6 988.6V987.1H1366.2V988.6ZM1366.2 988.6V985.9H1367.8V988.6ZM1372.6 988.6V987.1H1374.2V988.6ZM1375.8 988.6V987.6H1377.0V988.6ZM1377.0 988.6V980.9H1378.6V988.6ZM1378.6 988.6V981.8H1380.0V988.6ZM1380.0 988.6V987.6H1381.6V988.6ZM1381.6 988.6V986.8H1383.2V988.6ZM1383.2 988.6V987.5H1384.8V988.6ZM1384.8 988.6V988.0H1385.7V988.6ZM1385.7 988.6V984.9H1387.3V988.6ZM1387.3 988.6V985.0H1388.9V988.6ZM1388.9 988.6V984.7H1390.5V988.6ZM1390.5 988.6V984.4H1392.1V988.6ZM1392.1 988.6V986.3H1393.7V988.6ZM1393.7 988.6V984.5H1395.3V988.6ZM1395.3 988.6V986.0H1396.9V988.6ZM1396.9 988.6V986.3H1397.1V988.6ZM1397.1 988.6V968.7H1398.7V988.6ZM1398.7 988.6V976.3H1400.0V988.6ZM1400.0 988.6V980.7H1401.6V988.6ZM1401.6 988.6V977.0H1403.2V988.6ZM1403.2 988.6V978.6H1404.8V988.6ZM1404.8 988.6V979.4H1406.4V988.6ZM1406.4 988.6V977.0H1407.1V988.6ZM1407.1 988.6V987.1H1408.7V988.6ZM1408.7 988.6V987.2H1410.3V988.6ZM1410.3 988.6V987.5H1411.9V988.6ZM1411.9 988.6V987.5H1413.5V988.6ZM1413.5 988.6V987.3H1415.1V988.6ZM1415.1 988.6V987.9H1415.7V988.6ZM1415.7 988.6V981.8H1417.3V988.6ZM1417.3 988.6V975.4H1418.9V988.6ZM1418.9 988.6V978.2H1420.5V988.6ZM1420.5 988.6V981.2H1422.1V988.6ZM1422.1 988.6V977.4H1423.7V988.6ZM1423.7 988.6V978.0H1425.3V988.6ZM1425.3 988.6V976.8H1425.7V988.6ZM1425.7 988.6V985.5H1427.3V988.6ZM1427.3 988.6V984.1H1428.9V988.6ZM1428.9 988.6V986.1H1430.0V988.6ZM1430.0 988.6V975.3H1431.6V988.6ZM1431.6 988.6V974.4H1433.2V988.6ZM1433.2 988.6V980.6H1434.8V988.6ZM1434.8 988.6V979.2H1435.7V988.6ZM1435.7 988.6V985.8H1437.3V988.6ZM1437.3 988.6V986.8H1438.9V988.6ZM1438.9 988.6V986.2H1439.3V988.6ZM1439.3 988.6V981.4H1440.9V988.6ZM1440.9 988.6V981.1H1442.5V988.6ZM1442.5 988.6V980.2H1444.1V988.6ZM1444.1 988.6V982.8H1445.7V988.6ZM1445.7 988.6V981.4H1447.3V988.6ZM1447.3 988.6V983.0H1448.9V988.6ZM1448.9 988.6V983.0H1450.5V988.6ZM1450.5 988.6V982.2H1452.1V988.6ZM1452.1 988.6V980.7H1453.7V988.6ZM1453.7 988.6V980.9H1455.3V988.6ZM1455.3 988.6V981.4H1456.9V988.6ZM1456.9 988.6V982.0H1457.1V988.6ZM1457.1 988.6V980.6H1458.7V988.6ZM1458.7 988.6V979.4H1460.3V988.6ZM1460.3 988.6V981.0H1461.9V988.6ZM1461.9 988.6V978.2H1463.5V988.6ZM1463.5 988.6V978.3H1465.1V988.6ZM1465.1 988.6V978.0H1466.7V988.6ZM1466.7 988.6V981.2H1468.3V988.6ZM1468.3 988.6V980.8H1469.9V988.6ZM1469.9 988.6V979.3H1470.0V988.6ZM1470.0 988.6V985.9H1471.6V988.6ZM1471.6 988.6V985.7H1473.2V988.6ZM1473.2 988.6V985.7H1474.8V988.6ZM1474.8 988.6V985.7H1476.4V988.6ZM1476.4 988.6V987.6H1478.0V988.6ZM1478.0 988.6V986.1H1479.6V988.6ZM1479.6 988.6V986.2H1481.2V988.6ZM1481.2 988.6V987.7H1482.8V988.6ZM1482.8 988.6V986.0H1484.4V988.6ZM1484.4 988.6V986.1H1486.0V988.6ZM1486.0 988.6V985.2H1487.6V988.6ZM1487.6 988.6V985.6H1489.2V988.6ZM1489.2 988.6V986.0H1490.8V988.6ZM1490.8 988.6V987.3H1492.4V988.6ZM1492.4 988.6V986.1H1494.0V988.6ZM1494.0 988.6V985.2H1495.6V988.6ZM1495.6 988.6V987.4H1497.2V988.6ZM1497.2 988.6V986.4H1498.8V988.6ZM1498.8 988.6V986.4H1500.4V988.6ZM1500.4 988.6V986.1H1502.0V988.6ZM1502.0 988.6V986.9H1503.6V988.6ZM1503.6 988.6V986.3H1505.2V988.6ZM1505.2 988.6V986.4H1506.8V988.6ZM1506.8 988.6V985.9H1508.4V988.6ZM1508.4 988.6V986.9H1510.0V988.6ZM1510.0 988.6V986.9H1511.0V988.6ZM1511.0 988.6V988.0H1512.6V988.6ZM1512.6 988.6V987.3H1514.2V988.6ZM1514.2 988.6V987.7H1515.8V988.6ZM1515.8 988.6V986.1H1517.4V988.6ZM1517.4 988.6V985.1H1519.0V988.6ZM1519.0 988.6V987.9H1520.6V988.6ZM1522.2 988.6V986.2H1523.8V988.6ZM1523.8 988.6V988.1H1525.4V988.6ZM1525.4 988.6V986.7H1527.0V988.6ZM1527.0 988.6V987.3H1528.6V988.6ZM1528.6 988.6V988.1H1530.2V988.6ZM1530.2 988.6V987.7H1531.8V988.6ZM1533.4 988.6V988.0H1535.0V988.6ZM1538.2 988.6V984.7H1539.8V988.6ZM1539.8 988.6V986.5H1541.4V988.6ZM1541.4 988.6V988.0H1543.0V988.6ZM1544.6 988.6V987.7H1546.2V988.6ZM1549.4 988.6V986.2H1551.0V988.6ZM1555.8 988.6V986.5H1557.4V988.6ZM1557.4 988.6V987.9H1559.0V988.6ZM1559.0 988.6V985.1H1560.6V988.6ZM1565.4 988.6V988.1H1567.0V988.6ZM1568.6 988.6V988.0H1570.2V988.6ZM1571.8 988.6V987.4H1573.4V988.6ZM1579.8 988.6V986.9H1581.4V988.6ZM1581.4 988.6V987.9H1583.0V988.6ZM1589.4 988.6V986.6H1591.0V988.6ZM1592.6 988.6V988.2H1594.2V988.6ZM1594.2 988.6V987.3H1595.8V988.6ZM1607.0 988.6V987.2H1608.6V988.6ZM1611.8 988.6V987.7H1613.4V988.6ZM1613.4 988.6V988.1H1615.0V988.6ZM1615.0 988.6V988.1H1616.6V988.6ZM1616.6 988.6V987.5H1618.2V988.6ZM1618.2 988.6V988.1H1619.8V988.6ZM1621.4 988.6V986.8H1623.0V988.6ZM1623.0 988.6V988.1H1624.6V988.6ZM1624.6 988.6V988.2H1626.2V988.6ZM1626.2 988.6V988.0H1627.8V988.6ZM1627.8 988.6V988.1H1629.4V988.6ZM1631.0 988.6V988.2H1632.6V988.6ZM1632.6 988.6V987.6H1634.2V988.6ZM1634.2 988.6V987.2H1635.8V988.6ZM1635.8 988.6V987.2H1637.4V988.6ZM1637.4 988.6V987.9H1639.0V988.6ZM1639.0 988.6V987.9H1640.6V988.6ZM1643.8 988.6V985.8H1645.4V988.6ZM1645.4 988.6V988.2H1647.0V988.6ZM1647.0 988.6V987.7H1648.6V988.6ZM1650.2 988.6V987.7H1651.8V988.6ZM1653.4 988.6V987.7H1655.0V988.6ZM1655.0 988.6V987.2H1656.6V988.6ZM1661.4 988.6V988.2H1663.0V988.6ZM1671.0 988.6V988.0H1672.6V988.6ZM1675.8 988.6V988.0H1677.4V988.6ZM1677.4 988.6V986.1H1679.0V988.6ZM1680.6 988.6V988.2H1682.2V988.6ZM1682.2 988.6V985.6H1683.8V988.6ZM1685.4 988.6V988.0H1687.0V988.6ZM1690.2 988.6V986.6H1691.8V988.6ZM1695.0 988.6V988.2H1696.6V988.6ZM1699.8 988.6V986.8H1701.4V988.6ZM1701.4 988.6V987.1H1703.0V988.6ZM1703.0 988.6V987.9H1704.6V988.6ZM1709.4 988.6V986.4H1711.0V988.6ZM1711.0 988.6V986.8H1712.6V988.6ZM1712.6 988.6V987.0H1714.2V988.6ZM1715.8 988.6V988.2H1717.4V988.6ZM1717.4 988.6V986.9H1719.0V988.6ZM1723.8 988.6V986.2H1725.4V988.6ZM1725.4 988.6V987.3H1727.0V988.6ZM1727.0 988.6V986.0H1728.6V988.6ZM1728.6 988.6V988.0H1730.2V988.6ZM1730.2 988.6V987.3H1731.8V988.6ZM1731.8 988.6V988.0H1733.4V988.6ZM1736.6 988.6V987.6H1738.2V988.6ZM1738.2 988.6V987.7H1739.8V988.6ZM1741.4 988.6V987.7H1743.0V988.6ZM1744.6 988.6V988.1H1746.2V988.6ZM1746.2 988.6V988.2H1747.8V988.6ZM1747.8 988.6V986.6H1749.4V988.6ZM1749.4 988.6V987.7H1751.0V988.6ZM1751.0 988.6V986.5H1752.6V988.6ZM1752.6 988.6V988.0H1754.2V988.6ZM1762.2 988.6V988.1H1763.8V988.6ZM1765.4 988.6V988.2H1767.0V988.6ZM1768.6 988.6V987.7H1770.2V988.6ZM1770.2 988.6V987.6H1771.8V988.6ZM1771.8 988.6V988.2H1773.4V988.6ZM1773.4 988.6V987.1H1775.0V988.6ZM1779.8 988.6V988.2H1781.4V988.6ZM1781.4 988.6V987.2H1783.0V988.6ZM1784.6 988.6V988.1H1786.2V988.6ZM1787.8 988.6V987.1H1789.4V988.6ZM1789.4 988.6V988.1H1791.0V988.6ZM1794.2 988.6V988.2H1795.8V988.6ZM1800.6 988.6V987.5H1802.2V988.6ZM1802.2 988.6V987.9H1803.8V988.6ZM1807.0 988.6V985.7H1808.6V988.6ZM1811.8 988.6V986.2H1813.4V988.6ZM1815.0 988.6V986.3H1816.6V988.6ZM1816.6 988.6V987.5H1818.2V988.6ZM1818.2 988.6V987.6H1819.8V988.6ZM1819.8 988.6V988.2H1821.4V988.6ZM1823.0 988.6V987.8H1824.6V988.6ZM1827.8 988.6V988.2H1829.4V988.6ZM1829.4 988.6V987.8H1831.0V988.6ZM1832.6 988.6V987.9H1834.2V988.6ZM1834.2 988.6V987.4H1835.8V988.6ZM1840.6 988.6V987.1H1842.2V988.6ZM1842.2 988.6V986.8H1843.8V988.6ZM1843.8 988.6V988.1H1845.4V988.6ZM1847.0 988.6V987.5H1848.6V988.6ZM1850.2 988.6V986.6H1851.8V988.6ZM1851.8 988.6V986.9H1853.4V988.6ZM1853.4 988.6V986.3H1855.0V988.6ZM1855.0 988.6V986.2H1856.6V988.6ZM1856.6 988.6V985.3H1858.2V988.6ZM1859.8 988.6V986.2H1861.4V988.6ZM1866.2 988.6V988.1H1867.8V988.6ZM1872.6 988.6V988.0H1874.2V988.6ZM1883.8 988.6V987.8H1885.4V988.6ZM1888.6 988.6V986.1H1890.2V988.6ZM1890.2 988.6V987.1H1891.8V988.6ZM1901.4 988.6V986.9H1903.0V988.6ZM1906.2 988.6V988.2H1907.8V988.6ZM1912.6 988.6V987.9H1914.2V988.6ZM1915.8 988.6V987.8H1917.4V988.6ZM1919.0 988.6V988.0H1920.6V988.6ZM1920.6 988.6V987.2H1922.2V988.6ZM1922.2 988.6V987.7H1923.8V988.6ZM1923.8 988.6V987.6H1925.4V988.6ZM1925.4 988.6V988.1H1927.0V988.6ZM1927.0 988.6V987.3H1928.6V988.6ZM1928.6 988.6V986.7H1930.2V988.6ZM1930.2 988.6V988.0H1931.8V988.6ZM1933.4 988.6V986.9H1935.0V988.6ZM1935.0 988.6V988.0H1936.6V988.6ZM1936.6 988.6V988.0H1938.2V988.6ZM1938.2 988.6V987.6H1939.8V988.6ZM1941.4 988.6V986.5H1943.0V988.6ZM1946.2 988.6V987.9H1947.8V988.6ZM1951.0 988.6V986.7H1952.6V988.6ZM1952.6 988.6V988.0H1954.2V988.6ZM1954.2 988.6V987.2H1955.8V988.6ZM1955.8 988.6V988.2H1957.4V988.6ZM1962.2 988.6V986.7H1963.8V988.6ZM1963.8 988.6V986.5H1965.4V988.6ZM1967.0 988.6V988.2H1968.6V988.6ZM1968.6 988.6V986.2H1970.2V988.6ZM1971.8 988.6V986.8H1973.4V988.6ZM1983.0 988.6V988.1H1984.6V988.6ZM1984.6 988.6V986.8H1986.2V988.6ZM1986.2 988.6V987.4H1987.8V988.6ZM1987.8 988.6V988.0H1989.4V988.6ZM1995.8 988.6V987.9H1997.4V988.6ZM1997.4 988.6V986.8H1999.0V988.6ZM1999.0 988.6V985.0H2000.6V988.6ZM2016.6 988.6V987.9H2018.2V988.6ZM2026.2 988.6V986.7H2027.8V988.6ZM2029.4 988.6V986.3H2031.0V988.6ZM2032.6 988.6V986.2H2034.2V988.6ZM2034.2 988.6V986.4H2035.8V988.6ZM2035.8 988.6V988.1H2037.4V988.6ZM2037.4 988.6V987.0H2039.0V988.6ZM2039.0 988.6V988.1H2040.6V988.6ZM2045.4 988.6V987.0H2047.0V988.6ZM2048.6 988.6V987.2H2050.2V988.6ZM2050.2 988.6V987.1H2051.8V988.6ZM2056.6 988.6V987.1H2058.2V988.6ZM2063.0 988.6V987.2H2064.6V988.6ZM2064.6 988.6V986.1H2066.2V988.6ZM2066.2 988.6V986.7H2067.8V988.6ZM2074.2 988.6V987.3H2075.8V988.6ZM2075.8 988.6V986.7H2077.4V988.6ZM2077.4 988.6V987.9H2079.0V988.6ZM2082.2 988.6V988.1H2083.8V988.6ZM2087.0 988.6V988.2H2088.6V988.6ZM2093.4 988.6V986.2H2095.0V988.6ZM2096.6 988.6V988.2H2098.2V988.6ZM2098.2 988.6V986.3H2099.8V988.6ZM2099.8 988.6V988.1H2101.4V988.6ZM2103.0 988.6V987.0H2104.6V988.6Z" fill="#F5A21E"/>
<rect x="1177.4" y="987.9" width="928.5999999999999" height="1.4" fill="#F5A21E"/>
<text x="2104.6" y="981.5" font-size="21" fill="#E6823A" stroke="#E6823A" text-anchor="end">0 - 1.2</text>
<text x="1183.7" y="1007.3" font-size="22.8" fill="#DA2830" stroke="#DA2830">H3K27ac</text>
<path d="M1177.4 1015.0V1014.5H1179.0V1015.0ZM1180.6 1015.0V1013.1H1182.2V1015.0ZM1182.2 1015.0V1014.4H1183.8V1015.0ZM1185.4 1015.0V1014.6H1187.0V1015.0ZM1188.6 1015.0V1014.3H1190.2V1015.0ZM1190.2 1015.0V1011.6H1191.8V1015.0ZM1191.8 1015.0V1013.0H1193.4V1015.0ZM1193.4 1015.0V1014.0H1195.0V1015.0ZM1196.6 1015.0V1013.8H1198.2V1015.0ZM1199.8 1015.0V1013.7H1201.4V1015.0ZM1201.4 1015.0V1013.8H1203.0V1015.0ZM1203.0 1015.0V1013.2H1204.6V1015.0ZM1204.6 1015.0V1011.6H1206.2V1015.0ZM1207.8 1015.0V1014.6H1209.4V1015.0ZM1209.4 1015.0V1012.3H1211.0V1015.0ZM1211.0 1015.0V1013.9H1212.6V1015.0ZM1212.6 1015.0V1013.4H1214.2V1015.0ZM1215.8 1015.0V1012.1H1217.4V1015.0ZM1217.4 1015.0V1014.4H1219.0V1015.0ZM1219.0 1015.0V1011.5H1220.6V1015.0ZM1220.6 1015.0V1012.8H1222.2V1015.0ZM1223.8 1015.0V1011.6H1225.4V1015.0ZM1225.4 1015.0V1012.3H1227.0V1015.0ZM1228.6 1015.0V1014.5H1230.2V1015.0ZM1230.2 1015.0V1013.9H1231.8V1015.0ZM1231.8 1015.0V1011.6H1233.4V1015.0ZM1238.2 1015.0V1014.5H1239.8V1015.0ZM1239.8 1015.0V1014.3H1241.4V1015.0ZM1241.4 1015.0V1013.9H1243.0V1015.0ZM1243.0 1015.0V1013.6H1244.6V1015.0ZM1244.6 1015.0V1014.1H1246.2V1015.0ZM1249.4 1015.0V1012.8H1251.0V1015.0ZM1252.6 1015.0V1014.5H1254.2V1015.0ZM1254.2 1015.0V1014.3H1255.8V1015.0ZM1257.4 1015.0V1013.6H1259.0V1015.0ZM1259.0 1015.0V1014.6H1260.6V1015.0ZM1260.6 1015.0V1010.3H1262.2V1015.0ZM1262.2 1015.0V1013.7H1263.8V1015.0ZM1263.8 1015.0V1014.5H1265.4V1015.0ZM1268.6 1015.0V1014.6H1270.2V1015.0ZM1271.8 1015.0V1012.3H1273.4V1015.0ZM1273.4 1015.0V1013.8H1275.0V1015.0ZM1275.0 1015.0V1014.1H1276.6V1015.0ZM1278.2 1015.0V1013.7H1279.8V1015.0ZM1279.8 1015.0V1014.5H1281.4V1015.0ZM1281.4 1015.0V1014.1H1283.0V1015.0ZM1287.8 1015.0V1011.3H1289.4V1015.0ZM1289.4 1015.0V1014.0H1291.0V1015.0ZM1291.0 1015.0V1011.5H1292.6V1015.0ZM1292.6 1015.0V1014.0H1294.2V1015.0ZM1294.2 1015.0V1010.1H1295.8V1015.0ZM1295.8 1015.0V1013.9H1297.4V1015.0ZM1297.4 1015.0V1014.6H1299.0V1015.0ZM1299.0 1015.0V1014.4H1300.6V1015.0ZM1300.6 1015.0V1012.6H1302.2V1015.0ZM1302.2 1015.0V1012.6H1303.8V1015.0ZM1303.8 1015.0V1014.6H1305.4V1015.0ZM1308.6 1015.0V1014.4H1310.2V1015.0ZM1310.2 1015.0V1014.1H1311.8V1015.0ZM1313.4 1015.0V1013.8H1315.0V1015.0ZM1315.0 1015.0V1014.5H1316.6V1015.0ZM1318.2 1015.0V1014.6H1319.8V1015.0ZM1319.8 1015.0V1014.5H1321.4V1015.0ZM1324.6 1015.0V1014.1H1326.2V1015.0ZM1326.2 1015.0V1014.3H1327.8V1015.0ZM1329.4 1015.0V1011.9H1331.0V1015.0ZM1331.0 1015.0V1014.3H1332.6V1015.0ZM1332.6 1015.0V1014.6H1334.2V1015.0ZM1335.8 1015.0V1012.0H1337.4V1015.0ZM1340.6 1015.0V1014.3H1342.2V1015.0ZM1342.2 1015.0V1012.6H1343.8V1015.0ZM1343.8 1015.0V1011.1H1345.4V1015.0ZM1347.0 1015.0V1013.8H1348.6V1015.0ZM1348.6 1015.0V1010.5H1350.2V1015.0ZM1350.2 1015.0V1013.3H1351.8V1015.0ZM1353.4 1015.0V1014.4H1355.0V1015.0ZM1355.0 1015.0V1013.6H1356.6V1015.0ZM1356.6 1015.0V1012.7H1358.2V1015.0ZM1358.2 1015.0V1014.6H1359.8V1015.0ZM1359.8 1015.0V1014.1H1361.4V1015.0ZM1361.4 1015.0V1014.5H1363.0V1015.0ZM1363.0 1015.0V1012.2H1364.6V1015.0ZM1364.6 1015.0V1014.3H1366.2V1015.0ZM1366.2 1015.0V1011.5H1367.8V1015.0ZM1367.8 1015.0V1014.5H1369.4V1015.0ZM1369.4 1015.0V1014.0H1371.0V1015.0ZM1371.0 1015.0V1011.5H1372.6V1015.0ZM1372.6 1015.0V1010.1H1374.2V1015.0ZM1374.2 1015.0V1013.1H1375.8V1015.0ZM1375.8 1015.0V1010.7H1377.4V1015.0ZM1377.4 1015.0V1013.2H1379.0V1015.0ZM1380.6 1015.0V1012.0H1382.2V1015.0ZM1383.8 1015.0V1011.9H1385.4V1015.0ZM1385.4 1015.0V1014.6H1387.0V1015.0ZM1387.0 1015.0V1013.6H1388.6V1015.0ZM1388.6 1015.0V1012.9H1390.2V1015.0ZM1390.2 1015.0V1012.0H1391.8V1015.0ZM1391.8 1015.0V1014.4H1392.9V1015.0ZM1392.9 1015.0V1004.0H1394.5V1015.0ZM1394.5 1015.0V1008.5H1396.1V1015.0ZM1396.1 1015.0V1005.7H1397.7V1015.0ZM1397.7 1015.0V1005.9H1399.3V1015.0ZM1399.3 1015.0V1004.5H1400.9V1015.0ZM1400.9 1015.0V1003.4H1402.5V1015.0ZM1402.5 1015.0V1008.4H1402.9V1015.0ZM1402.9 1015.0V994.3H1404.5V1015.0ZM1404.5 1015.0V997.2H1406.1V1015.0ZM1406.1 1015.0V994.3H1407.7V1015.0ZM1407.7 1015.0V999.4H1409.3V1015.0ZM1409.3 1015.0V1002.8H1410.9V1015.0ZM1410.9 1015.0V996.1H1412.5V1015.0ZM1412.5 1015.0V1002.7H1414.1V1015.0ZM1414.1 1015.0V997.7H1415.7V1015.0ZM1415.7 1015.0V1003.5H1417.3V1015.0ZM1417.3 1015.0V1002.0H1418.9V1015.0ZM1418.9 1015.0V1004.2H1420.5V1015.0ZM1420.5 1015.0V1000.2H1422.1V1015.0ZM1422.1 1015.0V1000.2H1422.9V1015.0ZM1422.9 1015.0V1011.9H1424.5V1015.0ZM1424.5 1015.0V1011.8H1426.1V1015.0ZM1426.1 1015.0V1010.4H1427.7V1015.0ZM1427.7 1015.0V1009.6H1428.6V1015.0ZM1428.6 1015.0V998.5H1430.2V1015.0ZM1430.2 1015.0V1003.5H1431.8V1015.0ZM1431.8 1015.0V1001.3H1433.4V1015.0ZM1433.4 1015.0V1003.3H1435.0V1015.0ZM1435.0 1015.0V1004.9H1436.6V1015.0ZM1436.6 1015.0V1000.9H1438.2V1015.0ZM1438.2 1015.0V998.1H1439.8V1015.0ZM1439.8 1015.0V1002.4H1440.0V1015.0ZM1440.0 1015.0V1008.6H1441.6V1015.0ZM1441.6 1015.0V1008.6H1443.2V1015.0ZM1443.2 1015.0V1006.1H1444.8V1015.0ZM1444.8 1015.0V1008.5H1446.4V1015.0ZM1446.4 1015.0V1004.7H1448.0V1015.0ZM1448.0 1015.0V1005.1H1449.6V1015.0ZM1449.6 1015.0V1008.1H1451.2V1015.0ZM1451.2 1015.0V1009.6H1452.8V1015.0ZM1452.8 1015.0V1008.3H1454.4V1015.0ZM1454.4 1015.0V1007.7H1456.0V1015.0ZM1456.0 1015.0V1004.3H1457.1V1015.0ZM1457.1 1015.0V1008.2H1458.7V1015.0ZM1458.7 1015.0V1005.6H1460.3V1015.0ZM1460.3 1015.0V1009.1H1461.9V1015.0ZM1461.9 1015.0V1005.9H1463.5V1015.0ZM1463.5 1015.0V1006.6H1465.1V1015.0ZM1465.1 1015.0V1005.0H1466.7V1015.0ZM1466.7 1015.0V1005.4H1468.3V1015.0ZM1468.3 1015.0V1006.0H1469.9V1015.0ZM1469.9 1015.0V1009.3H1470.0V1015.0ZM1470.0 1015.0V1007.9H1471.6V1015.0ZM1471.6 1015.0V1008.9H1473.2V1015.0ZM1473.2 1015.0V1005.3H1474.8V1015.0ZM1474.8 1015.0V1004.4H1476.4V1015.0ZM1476.4 1015.0V1005.8H1478.0V1015.0ZM1478.0 1015.0V1009.1H1479.6V1015.0ZM1479.6 1015.0V1009.6H1481.2V1015.0ZM1481.2 1015.0V1008.9H1482.8V1015.0ZM1482.8 1015.0V1008.1H1482.9V1015.0ZM1482.9 1015.0V1008.2H1484.5V1015.0ZM1484.5 1015.0V1008.9H1486.1V1015.0ZM1486.1 1015.0V1009.7H1487.7V1015.0ZM1487.7 1015.0V1008.1H1489.3V1015.0ZM1489.3 1015.0V1009.5H1490.9V1015.0ZM1490.9 1015.0V1008.1H1492.5V1015.0ZM1492.5 1015.0V1011.3H1494.1V1015.0ZM1494.1 1015.0V1011.2H1495.7V1015.0ZM1495.7 1015.0V1010.3H1497.3V1015.0ZM1497.3 1015.0V1009.5H1498.9V1015.0ZM1498.9 1015.0V1009.4H1500.5V1015.0ZM1500.5 1015.0V1009.1H1502.1V1015.0ZM1502.1 1015.0V1010.2H1503.7V1015.0ZM1503.7 1015.0V1010.1H1505.3V1015.0ZM1505.3 1015.0V1011.2H1505.7V1015.0ZM1505.7 1015.0V1011.3H1507.3V1015.0ZM1507.3 1015.0V1011.8H1508.9V1015.0ZM1508.9 1015.0V1012.4H1510.5V1015.0ZM1510.5 1015.0V1011.8H1512.1V1015.0ZM1512.1 1015.0V1010.2H1513.7V1015.0ZM1513.7 1015.0V1012.2H1515.3V1015.0ZM1515.3 1015.0V1010.2H1516.9V1015.0ZM1516.9 1015.0V1012.2H1517.1V1015.0ZM1518.7 1015.0V1014.6H1520.3V1015.0ZM1520.3 1015.0V1014.5H1521.9V1015.0ZM1521.9 1015.0V1014.0H1523.5V1015.0ZM1523.5 1015.0V1011.8H1525.1V1015.0ZM1525.1 1015.0V1013.9H1526.7V1015.0ZM1526.7 1015.0V1013.3H1528.3V1015.0ZM1528.3 1015.0V1013.6H1529.9V1015.0ZM1533.1 1015.0V1014.4H1534.7V1015.0ZM1534.7 1015.0V1013.7H1536.3V1015.0ZM1536.3 1015.0V1012.8H1537.9V1015.0ZM1539.5 1015.0V1012.9H1541.1V1015.0ZM1541.1 1015.0V1014.0H1542.7V1015.0ZM1542.7 1015.0V1013.1H1544.3V1015.0ZM1544.3 1015.0V1014.6H1545.9V1015.0ZM1545.9 1015.0V1014.5H1547.5V1015.0ZM1547.5 1015.0V1012.6H1549.1V1015.0ZM1549.1 1015.0V1012.4H1550.7V1015.0ZM1550.7 1015.0V1014.3H1552.3V1015.0ZM1555.5 1015.0V1014.6H1557.1V1015.0ZM1557.1 1015.0V1013.8H1558.7V1015.0ZM1558.7 1015.0V1014.6H1560.3V1015.0ZM1560.3 1015.0V1014.4H1561.9V1015.0ZM1563.5 1015.0V1013.9H1565.1V1015.0ZM1565.1 1015.0V1014.2H1566.7V1015.0ZM1566.7 1015.0V1013.2H1568.3V1015.0ZM1568.3 1015.0V1011.9H1569.9V1015.0ZM1569.9 1015.0V1013.8H1571.5V1015.0ZM1571.5 1015.0V1012.3H1573.1V1015.0ZM1573.1 1015.0V1013.8H1574.7V1015.0ZM1574.7 1015.0V1014.3H1576.3V1015.0ZM1576.3 1015.0V1014.4H1577.9V1015.0ZM1577.9 1015.0V1011.8H1579.5V1015.0ZM1579.5 1015.0V1012.1H1581.1V1015.0ZM1581.1 1015.0V1014.6H1582.7V1015.0ZM1582.7 1015.0V1014.5H1584.3V1015.0ZM1585.9 1015.0V1013.4H1587.5V1015.0ZM1590.7 1015.0V1012.0H1592.3V1015.0ZM1592.3 1015.0V1013.4H1593.9V1015.0ZM1593.9 1015.0V1014.5H1595.5V1015.0ZM1597.1 1015.0V1012.8H1598.7V1015.0ZM1598.7 1015.0V1014.6H1600.3V1015.0ZM1601.9 1015.0V1012.5H1603.5V1015.0ZM1603.5 1015.0V1014.6H1605.1V1015.0ZM1605.1 1015.0V1013.5H1606.7V1015.0ZM1606.7 1015.0V1013.7H1608.3V1015.0ZM1608.3 1015.0V1013.8H1609.9V1015.0ZM1609.9 1015.0V1014.3H1611.5V1015.0ZM1611.5 1015.0V1013.6H1613.1V1015.0ZM1613.1 1015.0V1013.5H1614.7V1015.0ZM1614.7 1015.0V1014.6H1616.3V1015.0ZM1616.3 1015.0V1014.2H1617.9V1015.0ZM1617.9 1015.0V1014.6H1619.5V1015.0ZM1619.5 1015.0V1011.7H1621.1V1015.0ZM1621.1 1015.0V1014.6H1622.7V1015.0ZM1622.7 1015.0V1014.5H1624.3V1015.0ZM1624.3 1015.0V1014.5H1625.9V1015.0ZM1625.9 1015.0V1012.2H1627.5V1015.0ZM1629.1 1015.0V1011.8H1630.7V1015.0ZM1630.7 1015.0V1013.3H1632.3V1015.0ZM1635.5 1015.0V1013.5H1637.1V1015.0ZM1637.1 1015.0V1014.0H1638.7V1015.0ZM1638.7 1015.0V1013.4H1640.3V1015.0ZM1640.3 1015.0V1013.6H1641.9V1015.0ZM1641.9 1015.0V1014.1H1643.5V1015.0ZM1643.5 1015.0V1014.5H1645.1V1015.0ZM1645.1 1015.0V1014.6H1646.7V1015.0ZM1648.3 1015.0V1012.7H1649.9V1015.0ZM1649.9 1015.0V1014.1H1651.5V1015.0ZM1651.5 1015.0V1012.9H1653.1V1015.0ZM1653.1 1015.0V1013.2H1654.7V1015.0ZM1654.7 1015.0V1011.6H1656.3V1015.0ZM1656.3 1015.0V1011.7H1657.9V1015.0ZM1657.9 1015.0V1009.9H1659.5V1015.0ZM1662.7 1015.0V1014.6H1664.3V1015.0ZM1664.3 1015.0V1013.4H1665.9V1015.0ZM1665.9 1015.0V1013.0H1667.5V1015.0ZM1667.5 1015.0V1012.5H1669.1V1015.0ZM1669.1 1015.0V1014.3H1670.7V1015.0ZM1670.7 1015.0V1013.4H1672.3V1015.0ZM1677.1 1015.0V1011.9H1678.7V1015.0ZM1678.7 1015.0V1012.2H1680.3V1015.0ZM1680.3 1015.0V1011.7H1681.9V1015.0ZM1681.9 1015.0V1012.7H1683.5V1015.0ZM1685.1 1015.0V1011.8H1686.7V1015.0ZM1686.7 1015.0V1014.4H1688.3V1015.0ZM1688.3 1015.0V1014.6H1689.9V1015.0ZM1689.9 1015.0V1014.1H1691.5V1015.0ZM1691.5 1015.0V1014.6H1693.1V1015.0ZM1694.7 1015.0V1011.8H1696.3V1015.0ZM1697.9 1015.0V1014.5H1699.5V1015.0ZM1701.1 1015.0V1013.9H1702.7V1015.0ZM1702.7 1015.0V1014.6H1704.3V1015.0ZM1704.3 1015.0V1014.6H1705.9V1015.0ZM1705.9 1015.0V1013.3H1707.5V1015.0ZM1713.9 1015.0V1012.7H1715.5V1015.0ZM1715.5 1015.0V1011.6H1717.1V1015.0ZM1718.7 1015.0V1012.7H1720.3V1015.0ZM1723.5 1015.0V1012.6H1725.1V1015.0ZM1726.7 1015.0V1012.1H1728.3V1015.0ZM1729.9 1015.0V1014.5H1731.5V1015.0ZM1734.7 1015.0V1012.7H1736.3V1015.0ZM1737.9 1015.0V1014.3H1739.5V1015.0ZM1741.1 1015.0V1014.6H1742.7V1015.0ZM1742.7 1015.0V1013.0H1744.3V1015.0ZM1744.3 1015.0V1014.6H1745.9V1015.0ZM1745.9 1015.0V1014.6H1747.5V1015.0ZM1749.1 1015.0V1014.2H1750.7V1015.0ZM1750.7 1015.0V1014.2H1752.3V1015.0ZM1752.3 1015.0V1014.3H1753.9V1015.0ZM1753.9 1015.0V1012.4H1755.5V1015.0ZM1755.5 1015.0V1012.7H1757.1V1015.0ZM1758.7 1015.0V1013.7H1760.3V1015.0ZM1760.3 1015.0V1012.5H1761.9V1015.0ZM1763.5 1015.0V1014.4H1765.1V1015.0ZM1765.1 1015.0V1014.6H1766.7V1015.0ZM1766.7 1015.0V1012.8H1768.3V1015.0ZM1768.3 1015.0V1014.6H1769.9V1015.0ZM1769.9 1015.0V1014.6H1771.5V1015.0ZM1771.5 1015.0V1014.6H1773.1V1015.0ZM1773.1 1015.0V1013.8H1774.7V1015.0ZM1774.7 1015.0V1014.1H1776.3V1015.0ZM1777.9 1015.0V1013.7H1779.5V1015.0ZM1781.1 1015.0V1013.5H1782.7V1015.0ZM1784.3 1015.0V1011.7H1785.9V1015.0ZM1785.9 1015.0V1011.6H1787.5V1015.0ZM1787.5 1015.0V1014.1H1789.1V1015.0ZM1789.1 1015.0V1013.2H1790.7V1015.0ZM1790.7 1015.0V1014.6H1792.3V1015.0ZM1792.3 1015.0V1012.1H1793.9V1015.0ZM1793.9 1015.0V1014.6H1795.5V1015.0ZM1795.5 1015.0V1014.4H1797.1V1015.0ZM1798.7 1015.0V1014.1H1800.3V1015.0ZM1800.3 1015.0V1013.7H1801.9V1015.0ZM1803.5 1015.0V1014.6H1805.1V1015.0ZM1805.1 1015.0V1014.4H1806.7V1015.0ZM1806.7 1015.0V1014.0H1808.3V1015.0ZM1808.3 1015.0V1014.6H1809.9V1015.0ZM1809.9 1015.0V1011.6H1811.5V1015.0ZM1811.5 1015.0V1014.5H1813.1V1015.0ZM1813.1 1015.0V1014.4H1814.7V1015.0ZM1814.7 1015.0V1011.6H1816.3V1015.0ZM1819.5 1015.0V1011.9H1821.1V1015.0ZM1821.1 1015.0V1013.9H1822.7V1015.0ZM1824.3 1015.0V1014.6H1825.9V1015.0ZM1825.9 1015.0V1014.4H1827.5V1015.0ZM1827.5 1015.0V1011.8H1829.1V1015.0ZM1829.1 1015.0V1012.5H1830.7V1015.0ZM1830.7 1015.0V1014.2H1832.3V1015.0ZM1832.3 1015.0V1014.6H1833.9V1015.0ZM1833.9 1015.0V1014.0H1835.5V1015.0ZM1835.5 1015.0V1014.6H1837.1V1015.0ZM1837.1 1015.0V1014.2H1838.7V1015.0ZM1838.7 1015.0V1014.6H1840.3V1015.0ZM1840.3 1015.0V1012.1H1841.9V1015.0ZM1843.5 1015.0V1013.8H1845.1V1015.0ZM1845.1 1015.0V1009.5H1846.7V1015.0ZM1846.7 1015.0V1014.6H1848.3V1015.0ZM1851.5 1015.0V1013.0H1853.1V1015.0ZM1853.1 1015.0V1014.1H1854.7V1015.0ZM1854.7 1015.0V1009.5H1856.3V1015.0ZM1856.3 1015.0V1014.5H1857.9V1015.0ZM1857.9 1015.0V1012.7H1859.5V1015.0ZM1859.5 1015.0V1014.6H1861.1V1015.0ZM1861.1 1015.0V1013.9H1862.7V1015.0ZM1862.7 1015.0V1009.3H1864.3V1015.0ZM1864.3 1015.0V1012.8H1865.9V1015.0ZM1865.9 1015.0V1012.1H1867.5V1015.0ZM1867.5 1015.0V1013.4H1869.1V1015.0ZM1869.1 1015.0V1014.6H1870.7V1015.0ZM1870.7 1015.0V1012.3H1872.3V1015.0ZM1872.3 1015.0V1014.4H1873.9V1015.0ZM1873.9 1015.0V1014.6H1875.5V1015.0ZM1877.1 1015.0V1014.4H1878.7V1015.0ZM1878.7 1015.0V1013.9H1880.3V1015.0ZM1880.3 1015.0V1014.5H1881.9V1015.0ZM1883.5 1015.0V1014.3H1885.1V1015.0ZM1885.1 1015.0V1014.5H1886.7V1015.0ZM1886.7 1015.0V1011.6H1888.3V1015.0ZM1888.3 1015.0V1012.8H1889.9V1015.0ZM1889.9 1015.0V1014.6H1891.5V1015.0ZM1891.5 1015.0V1013.1H1893.1V1015.0ZM1893.1 1015.0V1014.2H1894.7V1015.0ZM1894.7 1015.0V1011.7H1896.3V1015.0ZM1896.3 1015.0V1011.4H1897.9V1015.0ZM1897.9 1015.0V1014.5H1899.5V1015.0ZM1899.5 1015.0V1011.4H1901.1V1015.0ZM1901.1 1015.0V1014.6H1902.7V1015.0ZM1902.7 1015.0V1013.0H1904.3V1015.0ZM1904.3 1015.0V1012.3H1905.9V1015.0ZM1905.9 1015.0V1013.8H1907.5V1015.0ZM1907.5 1015.0V1012.4H1909.1V1015.0ZM1909.1 1015.0V1013.8H1910.7V1015.0ZM1910.7 1015.0V1013.6H1912.3V1015.0ZM1913.9 1015.0V1014.6H1915.5V1015.0ZM1915.5 1015.0V1013.4H1917.1V1015.0ZM1917.1 1015.0V1012.8H1918.7V1015.0ZM1918.7 1015.0V1014.4H1920.3V1015.0ZM1921.9 1015.0V1012.7H1923.5V1015.0ZM1923.5 1015.0V1013.6H1925.1V1015.0ZM1925.1 1015.0V1014.6H1926.7V1015.0ZM1928.3 1015.0V1014.6H1929.9V1015.0ZM1929.9 1015.0V1014.4H1931.5V1015.0ZM1931.5 1015.0V1014.3H1933.1V1015.0ZM1933.1 1015.0V1014.6H1934.7V1015.0ZM1936.3 1015.0V1014.0H1937.9V1015.0ZM1939.5 1015.0V1013.6H1941.1V1015.0ZM1941.1 1015.0V1014.1H1942.7V1015.0ZM1944.3 1015.0V1014.3H1945.9V1015.0ZM1945.9 1015.0V1013.9H1947.5V1015.0ZM1947.5 1015.0V1014.0H1949.1V1015.0ZM1949.1 1015.0V1014.6H1950.7V1015.0ZM1952.3 1015.0V1014.6H1953.9V1015.0ZM1955.5 1015.0V1014.1H1957.1V1015.0ZM1957.1 1015.0V1014.4H1958.7V1015.0ZM1961.9 1015.0V1014.4H1963.5V1015.0ZM1963.5 1015.0V1010.3H1965.1V1015.0ZM1966.7 1015.0V1014.3H1968.3V1015.0ZM1969.9 1015.0V1013.9H1971.5V1015.0ZM1973.1 1015.0V1013.8H1974.7V1015.0ZM1974.7 1015.0V1014.5H1976.3V1015.0ZM1976.3 1015.0V1014.5H1977.9V1015.0ZM1979.5 1015.0V1013.3H1981.1V1015.0ZM1981.1 1015.0V1013.1H1982.7V1015.0ZM1982.7 1015.0V1013.7H1984.3V1015.0ZM1984.3 1015.0V1013.9H1985.9V1015.0ZM1985.9 1015.0V1014.3H1987.5V1015.0ZM1987.5 1015.0V1009.5H1989.1V1015.0ZM1989.1 1015.0V1014.0H1990.7V1015.0ZM1990.7 1015.0V1014.1H1992.3V1015.0ZM1993.9 1015.0V1014.6H1995.5V1015.0ZM1998.7 1015.0V1014.5H2000.3V1015.0ZM2000.3 1015.0V1013.6H2001.9V1015.0ZM2001.9 1015.0V1012.5H2003.5V1015.0ZM2003.5 1015.0V1012.4H2005.1V1015.0ZM2005.1 1015.0V1012.6H2006.7V1015.0ZM2008.3 1015.0V1011.9H2009.9V1015.0ZM2011.5 1015.0V1012.9H2013.1V1015.0ZM2014.7 1015.0V1012.0H2016.3V1015.0ZM2016.3 1015.0V1014.0H2017.9V1015.0ZM2017.9 1015.0V1013.6H2019.5V1015.0ZM2021.1 1015.0V1013.2H2022.7V1015.0ZM2024.3 1015.0V1014.2H2025.9V1015.0ZM2025.9 1015.0V1014.2H2027.5V1015.0ZM2027.5 1015.0V1013.5H2029.1V1015.0ZM2029.1 1015.0V1012.0H2030.7V1015.0ZM2030.7 1015.0V1014.2H2032.3V1015.0ZM2033.9 1015.0V1009.9H2035.5V1015.0ZM2037.1 1015.0V1013.6H2038.7V1015.0ZM2038.7 1015.0V1013.4H2040.3V1015.0ZM2040.3 1015.0V1014.6H2041.9V1015.0ZM2041.9 1015.0V1014.2H2043.5V1015.0ZM2043.5 1015.0V1010.2H2045.1V1015.0ZM2045.1 1015.0V1013.9H2046.7V1015.0ZM2048.3 1015.0V1012.6H2049.9V1015.0ZM2051.5 1015.0V1013.2H2053.1V1015.0ZM2053.1 1015.0V1012.9H2054.7V1015.0ZM2054.7 1015.0V1013.5H2056.3V1015.0ZM2056.3 1015.0V1014.2H2057.9V1015.0ZM2057.9 1015.0V1010.7H2059.5V1015.0ZM2059.5 1015.0V1014.6H2061.1V1015.0ZM2062.7 1015.0V1011.9H2064.3V1015.0ZM2064.3 1015.0V1012.7H2065.9V1015.0ZM2065.9 1015.0V1014.6H2067.5V1015.0ZM2067.5 1015.0V1014.1H2069.1V1015.0ZM2069.1 1015.0V1013.6H2070.7V1015.0ZM2070.7 1015.0V1013.0H2072.3V1015.0ZM2073.9 1015.0V1011.7H2075.5V1015.0ZM2075.5 1015.0V1013.4H2077.1V1015.0ZM2077.1 1015.0V1014.0H2078.7V1015.0ZM2078.7 1015.0V1009.7H2080.3V1015.0ZM2080.3 1015.0V1014.4H2081.9V1015.0ZM2081.9 1015.0V1014.5H2083.5V1015.0ZM2083.5 1015.0V1014.2H2085.1V1015.0ZM2085.1 1015.0V1014.6H2086.7V1015.0ZM2086.7 1015.0V1014.2H2088.3V1015.0ZM2088.3 1015.0V1013.6H2089.9V1015.0ZM2089.9 1015.0V1013.2H2091.5V1015.0ZM2091.5 1015.0V1012.4H2093.1V1015.0ZM2093.1 1015.0V1014.4H2094.7V1015.0ZM2096.3 1015.0V1014.2H2097.9V1015.0ZM2099.5 1015.0V1009.6H2101.1V1015.0ZM2101.1 1015.0V1014.4H2102.7V1015.0ZM2104.3 1015.0V1014.4H2105.9V1015.0Z" fill="#E4222B"/>
<rect x="1177.4" y="1014.3" width="928.5999999999999" height="1.4" fill="#E4222B"/>
<text x="2104.6" y="1007.6" font-size="21" fill="#DA2830" stroke="#DA2830" text-anchor="end">0 - 0.6</text>
<text x="1183.7" y="1034.6" font-size="22.8" fill="#26408E" stroke="#26408E">H3K27me3</text>
<path d="M1177.4 1041.6V1040.8H1179.0V1041.6ZM1179.0 1041.6V1041.2H1180.6V1041.6ZM1180.6 1041.6V1040.9H1182.2V1041.6ZM1182.2 1041.6V1040.2H1183.8V1041.6ZM1185.4 1041.6V1041.0H1187.0V1041.6ZM1187.0 1041.6V1041.1H1188.6V1041.6ZM1188.6 1041.6V1040.9H1190.2V1041.6ZM1190.2 1041.6V1040.6H1191.8V1041.6ZM1195.0 1041.6V1041.2H1196.6V1041.6ZM1199.8 1041.6V1041.0H1201.4V1041.6ZM1201.4 1041.6V1040.2H1203.0V1041.6ZM1204.6 1041.6V1041.1H1206.2V1041.6ZM1211.0 1041.6V1041.1H1212.6V1041.6ZM1214.2 1041.6V1040.8H1215.8V1041.6ZM1215.8 1041.6V1041.0H1217.4V1041.6ZM1217.4 1041.6V1041.2H1219.0V1041.6ZM1222.2 1041.6V1040.2H1223.8V1041.6ZM1227.0 1041.6V1041.0H1228.6V1041.6ZM1238.2 1041.6V1041.2H1239.8V1041.6ZM1241.4 1041.6V1040.7H1243.0V1041.6ZM1244.6 1041.6V1040.8H1246.2V1041.6ZM1246.2 1041.6V1040.9H1247.8V1041.6ZM1247.8 1041.6V1040.5H1249.4V1041.6ZM1251.0 1041.6V1041.1H1252.6V1041.6ZM1255.8 1041.6V1040.9H1257.4V1041.6ZM1260.6 1041.6V1040.9H1262.2V1041.6ZM1262.2 1041.6V1041.0H1263.8V1041.6ZM1265.4 1041.6V1041.2H1267.0V1041.6ZM1270.2 1041.6V1041.2H1271.8V1041.6ZM1283.0 1041.6V1040.7H1284.6V1041.6ZM1287.8 1041.6V1041.1H1289.4V1041.6ZM1297.4 1041.6V1040.7H1299.0V1041.6ZM1311.8 1041.6V1040.7H1313.4V1041.6ZM1315.0 1041.6V1040.4H1316.6V1041.6ZM1318.2 1041.6V1040.6H1319.8V1041.6ZM1319.8 1041.6V1040.5H1321.4V1041.6ZM1326.2 1041.6V1041.2H1327.8V1041.6ZM1327.8 1041.6V1041.1H1329.4V1041.6ZM1329.4 1041.6V1040.3H1331.0V1041.6ZM1331.0 1041.6V1041.1H1332.6V1041.6ZM1334.2 1041.6V1041.1H1335.8V1041.6ZM1335.8 1041.6V1040.2H1337.4V1041.6ZM1340.6 1041.6V1040.8H1342.2V1041.6ZM1342.2 1041.6V1040.4H1343.8V1041.6ZM1343.8 1041.6V1040.6H1345.4V1041.6ZM1345.4 1041.6V1040.8H1347.0V1041.6ZM1348.6 1041.6V1040.6H1350.2V1041.6ZM1353.4 1041.6V1041.2H1355.0V1041.6ZM1355.0 1041.6V1041.2H1356.6V1041.6ZM1359.8 1041.6V1041.2H1361.4V1041.6ZM1363.0 1041.6V1040.5H1364.6V1041.6ZM1364.6 1041.6V1041.0H1366.2V1041.6ZM1369.4 1041.6V1041.2H1371.0V1041.6ZM1371.0 1041.6V1040.8H1372.6V1041.6ZM1374.2 1041.6V1040.4H1375.8V1041.6ZM1375.8 1041.6V1040.3H1377.4V1041.6ZM1377.4 1041.6V1040.8H1379.0V1041.6ZM1380.6 1041.6V1041.2H1382.2V1041.6ZM1382.2 1041.6V1040.9H1383.8V1041.6ZM1388.6 1041.6V1040.8H1390.2V1041.6ZM1393.4 1041.6V1040.6H1395.0V1041.6ZM1396.6 1041.6V1040.8H1398.2V1041.6ZM1403.0 1041.6V1040.5H1404.6V1041.6ZM1404.6 1041.6V1040.6H1406.2V1041.6ZM1406.2 1041.6V1040.3H1407.8V1041.6ZM1409.4 1041.6V1041.2H1411.0V1041.6ZM1411.0 1041.6V1041.1H1412.6V1041.6ZM1412.6 1041.6V1040.5H1414.2V1041.6ZM1415.8 1041.6V1041.0H1417.4V1041.6ZM1420.6 1041.6V1040.5H1422.2V1041.6ZM1422.2 1041.6V1040.9H1423.8V1041.6ZM1423.8 1041.6V1040.8H1425.4V1041.6ZM1425.4 1041.6V1041.0H1427.0V1041.6ZM1428.6 1041.6V1040.2H1430.2V1041.6ZM1431.8 1041.6V1041.2H1433.4V1041.6ZM1433.4 1041.6V1041.1H1435.0V1041.6ZM1435.0 1041.6V1041.1H1436.6V1041.6ZM1438.2 1041.6V1040.3H1439.8V1041.6ZM1439.8 1041.6V1040.8H1441.4V1041.6ZM1441.4 1041.6V1041.2H1443.0V1041.6ZM1444.6 1041.6V1040.3H1446.2V1041.6ZM1447.0 1041.6V1040.2H1448.6V1041.6ZM1448.6 1041.6V1040.1H1450.2V1041.6ZM1450.2 1041.6V1040.6H1451.8V1041.6ZM1451.8 1041.6V1040.8H1453.4V1041.6ZM1453.4 1041.6V1040.4H1455.0V1041.6ZM1455.0 1041.6V1040.2H1456.6V1041.6ZM1456.6 1041.6V1040.5H1458.2V1041.6ZM1458.2 1041.6V1041.0H1459.8V1041.6ZM1459.8 1041.6V1041.0H1461.4V1041.6ZM1461.4 1041.6V1041.0H1463.0V1041.6ZM1463.0 1041.6V1040.8H1464.6V1041.6ZM1464.6 1041.6V1040.3H1466.2V1041.6ZM1466.2 1041.6V1040.9H1467.8V1041.6ZM1467.8 1041.6V1040.2H1469.4V1041.6ZM1469.4 1041.6V1040.1H1471.0V1041.6ZM1471.0 1041.6V1040.0H1472.6V1041.6ZM1472.6 1041.6V1040.6H1474.2V1041.6ZM1474.2 1041.6V1040.0H1475.8V1041.6ZM1475.8 1041.6V1040.2H1477.0V1041.6ZM1477.0 1041.6V1038.4H1478.6V1041.6ZM1478.6 1041.6V1039.4H1480.2V1041.6ZM1480.2 1041.6V1039.0H1481.8V1041.6ZM1481.8 1041.6V1039.2H1483.4V1041.6ZM1483.4 1041.6V1038.2H1485.0V1041.6ZM1485.0 1041.6V1039.0H1486.6V1041.6ZM1486.6 1041.6V1039.5H1488.2V1041.6ZM1488.2 1041.6V1039.8H1489.8V1041.6ZM1489.8 1041.6V1039.3H1491.4V1041.6ZM1491.4 1041.6V1039.2H1493.0V1041.6ZM1493.0 1041.6V1038.9H1494.6V1041.6ZM1494.6 1041.6V1039.2H1496.2V1041.6ZM1496.2 1041.6V1039.5H1497.8V1041.6ZM1497.8 1041.6V1038.9H1499.4V1041.6ZM1499.4 1041.6V1039.7H1501.0V1041.6ZM1501.0 1041.6V1039.4H1502.6V1041.6ZM1502.6 1041.6V1039.0H1504.2V1041.6ZM1504.2 1041.6V1038.1H1505.8V1041.6ZM1505.8 1041.6V1038.0H1507.4V1041.6ZM1507.4 1041.6V1038.0H1509.0V1041.6ZM1509.0 1041.6V1039.8H1510.6V1041.6ZM1510.6 1041.6V1039.8H1512.2V1041.6ZM1512.2 1041.6V1039.0H1513.8V1041.6ZM1513.8 1041.6V1038.3H1515.4V1041.6ZM1515.4 1041.6V1039.4H1517.0V1041.6ZM1517.0 1041.6V1039.3H1518.6V1041.6ZM1518.6 1041.6V1038.8H1520.2V1041.6ZM1520.2 1041.6V1039.1H1521.8V1041.6ZM1521.8 1041.6V1038.7H1523.4V1041.6ZM1523.4 1041.6V1039.2H1525.0V1041.6ZM1525.0 1041.6V1039.0H1526.6V1041.6ZM1526.6 1041.6V1039.5H1528.2V1041.6ZM1528.2 1041.6V1038.4H1529.8V1041.6ZM1529.8 1041.6V1038.9H1531.4V1041.6ZM1531.4 1041.6V1038.1H1533.0V1041.6ZM1533.0 1041.6V1038.3H1534.6V1041.6ZM1534.6 1041.6V1038.1H1536.2V1041.6ZM1536.2 1041.6V1038.3H1537.8V1041.6ZM1537.8 1041.6V1039.5H1539.4V1041.6ZM1539.4 1041.6V1039.5H1541.0V1041.6ZM1541.0 1041.6V1039.8H1542.6V1041.6ZM1542.6 1041.6V1039.2H1544.2V1041.6ZM1544.2 1041.6V1039.3H1545.7V1041.6ZM1550.5 1041.6V1040.0H1552.1V1041.6ZM1555.3 1041.6V1040.6H1556.9V1041.6ZM1556.9 1041.6V1039.9H1558.5V1041.6ZM1558.5 1041.6V1041.1H1560.1V1041.6ZM1561.7 1041.6V1040.4H1563.3V1041.6ZM1563.3 1041.6V1041.1H1564.9V1041.6ZM1564.9 1041.6V1041.0H1566.5V1041.6ZM1566.5 1041.6V1041.2H1568.1V1041.6ZM1568.1 1041.6V1040.7H1569.7V1041.6ZM1569.7 1041.6V1041.2H1571.3V1041.6ZM1572.9 1041.6V1041.2H1574.5V1041.6ZM1574.5 1041.6V1040.9H1576.1V1041.6ZM1576.1 1041.6V1041.1H1577.7V1041.6ZM1579.3 1041.6V1040.3H1580.9V1041.6ZM1582.5 1041.6V1041.0H1584.1V1041.6ZM1584.1 1041.6V1041.0H1585.7V1041.6ZM1587.3 1041.6V1041.1H1588.9V1041.6ZM1588.9 1041.6V1040.5H1590.5V1041.6ZM1590.5 1041.6V1040.8H1592.1V1041.6ZM1593.7 1041.6V1040.7H1595.3V1041.6ZM1595.3 1041.6V1040.7H1596.9V1041.6ZM1598.5 1041.6V1040.0H1600.1V1041.6ZM1601.7 1041.6V1041.0H1603.3V1041.6ZM1609.7 1041.6V1041.0H1611.3V1041.6ZM1612.9 1041.6V1041.2H1614.5V1041.6ZM1617.7 1041.6V1040.9H1619.3V1041.6ZM1619.3 1041.6V1041.2H1620.9V1041.6ZM1622.5 1041.6V1040.7H1624.1V1041.6ZM1624.1 1041.6V1041.0H1625.7V1041.6ZM1625.7 1041.6V1041.1H1627.3V1041.6ZM1633.7 1041.6V1040.7H1635.3V1041.6ZM1635.3 1041.6V1040.9H1636.9V1041.6ZM1640.1 1041.6V1040.5H1641.7V1041.6ZM1644.9 1041.6V1040.8H1646.5V1041.6ZM1646.5 1041.6V1040.3H1648.1V1041.6ZM1654.5 1041.6V1040.8H1656.1V1041.6ZM1656.1 1041.6V1040.3H1657.7V1041.6ZM1657.7 1041.6V1040.2H1659.3V1041.6ZM1665.7 1041.6V1040.5H1667.3V1041.6ZM1672.1 1041.6V1040.8H1673.7V1041.6ZM1673.7 1041.6V1040.4H1675.3V1041.6ZM1675.3 1041.6V1040.2H1676.9V1041.6ZM1676.9 1041.6V1040.7H1678.5V1041.6ZM1680.1 1041.6V1040.2H1681.7V1041.6ZM1681.7 1041.6V1040.8H1683.3V1041.6ZM1683.3 1041.6V1040.5H1684.9V1041.6ZM1684.9 1041.6V1041.1H1686.5V1041.6ZM1692.9 1041.6V1040.3H1694.5V1041.6ZM1696.1 1041.6V1041.1H1697.7V1041.6ZM1705.7 1041.6V1040.3H1707.3V1041.6ZM1707.3 1041.6V1040.6H1708.9V1041.6ZM1708.9 1041.6V1041.2H1710.5V1041.6ZM1710.5 1041.6V1040.4H1712.1V1041.6ZM1712.1 1041.6V1040.3H1713.7V1041.6ZM1713.7 1041.6V1041.2H1715.3V1041.6ZM1716.9 1041.6V1040.9H1718.5V1041.6ZM1718.5 1041.6V1041.1H1720.1V1041.6ZM1723.3 1041.6V1041.2H1724.9V1041.6ZM1724.9 1041.6V1041.1H1726.5V1041.6ZM1728.1 1041.6V1041.0H1729.7V1041.6ZM1729.7 1041.6V1040.8H1731.3V1041.6ZM1731.3 1041.6V1040.5H1732.9V1041.6ZM1734.5 1041.6V1040.9H1736.1V1041.6ZM1737.7 1041.6V1040.5H1739.3V1041.6ZM1740.9 1041.6V1040.1H1742.5V1041.6ZM1747.3 1041.6V1040.7H1748.9V1041.6ZM1748.9 1041.6V1040.0H1750.5V1041.6ZM1750.5 1041.6V1041.1H1752.1V1041.6ZM1752.1 1041.6V1040.8H1753.7V1041.6ZM1753.7 1041.6V1041.1H1755.3V1041.6ZM1755.3 1041.6V1041.0H1756.9V1041.6ZM1756.9 1041.6V1041.0H1758.5V1041.6ZM1758.5 1041.6V1040.9H1760.1V1041.6ZM1764.9 1041.6V1040.7H1766.5V1041.6ZM1769.7 1041.6V1041.0H1771.3V1041.6ZM1777.7 1041.6V1041.2H1779.3V1041.6ZM1780.9 1041.6V1040.6H1782.5V1041.6ZM1782.5 1041.6V1041.2H1784.1V1041.6ZM1785.7 1041.6V1041.2H1787.3V1041.6ZM1788.9 1041.6V1041.1H1790.5V1041.6ZM1790.5 1041.6V1041.2H1792.1V1041.6ZM1792.1 1041.6V1040.8H1793.7V1041.6ZM1796.9 1041.6V1041.1H1798.5V1041.6ZM1798.5 1041.6V1041.0H1800.1V1041.6ZM1800.1 1041.6V1039.8H1801.7V1041.6ZM1801.7 1041.6V1041.1H1803.3V1041.6ZM1804.9 1041.6V1040.6H1806.5V1041.6ZM1814.5 1041.6V1041.0H1816.1V1041.6ZM1822.5 1041.6V1040.4H1824.1V1041.6ZM1824.1 1041.6V1041.1H1825.7V1041.6ZM1825.7 1041.6V1040.7H1827.3V1041.6ZM1830.5 1041.6V1041.1H1832.1V1041.6ZM1832.1 1041.6V1040.6H1833.7V1041.6ZM1835.3 1041.6V1041.0H1836.9V1041.6ZM1836.9 1041.6V1040.9H1838.5V1041.6ZM1838.5 1041.6V1041.0H1840.1V1041.6ZM1840.1 1041.6V1040.8H1841.7V1041.6ZM1843.3 1041.6V1040.9H1844.9V1041.6ZM1844.9 1041.6V1041.0H1846.5V1041.6ZM1846.5 1041.6V1040.6H1848.1V1041.6ZM1851.3 1041.6V1041.2H1852.9V1041.6ZM1859.3 1041.6V1041.2H1860.9V1041.6ZM1860.9 1041.6V1041.2H1862.5V1041.6ZM1862.5 1041.6V1040.5H1864.1V1041.6ZM1864.1 1041.6V1041.2H1865.7V1041.6ZM1867.3 1041.6V1041.2H1868.9V1041.6ZM1868.9 1041.6V1041.0H1870.5V1041.6ZM1873.7 1041.6V1040.4H1875.3V1041.6ZM1875.3 1041.6V1040.9H1876.9V1041.6ZM1878.5 1041.6V1041.0H1880.1V1041.6ZM1880.1 1041.6V1041.2H1881.7V1041.6ZM1881.7 1041.6V1040.1H1883.3V1041.6ZM1883.3 1041.6V1040.8H1884.9V1041.6ZM1896.1 1041.6V1040.7H1897.7V1041.6ZM1897.7 1041.6V1041.1H1899.3V1041.6ZM1899.3 1041.6V1041.2H1900.9V1041.6ZM1902.5 1041.6V1039.9H1904.1V1041.6ZM1904.1 1041.6V1040.2H1905.7V1041.6ZM1908.9 1041.6V1040.6H1910.5V1041.6ZM1920.1 1041.6V1041.0H1921.7V1041.6ZM1923.3 1041.6V1040.9H1924.9V1041.6ZM1926.5 1041.6V1041.0H1928.1V1041.6ZM1931.3 1041.6V1040.7H1932.9V1041.6ZM1936.1 1041.6V1040.3H1937.7V1041.6ZM1937.7 1041.6V1040.4H1939.3V1041.6ZM1940.9 1041.6V1041.0H1942.5V1041.6ZM1942.5 1041.6V1040.6H1944.1V1041.6ZM1948.9 1041.6V1041.2H1950.5V1041.6ZM1953.7 1041.6V1040.5H1955.3V1041.6ZM1955.3 1041.6V1041.1H1956.9V1041.6ZM1958.5 1041.6V1041.0H1960.1V1041.6ZM1961.7 1041.6V1041.0H1963.3V1041.6ZM1964.9 1041.6V1041.0H1966.5V1041.6ZM1968.1 1041.6V1041.2H1969.7V1041.6ZM1969.7 1041.6V1040.3H1971.3V1041.6ZM1972.9 1041.6V1041.1H1974.5V1041.6ZM1974.5 1041.6V1040.7H1976.1V1041.6ZM1977.7 1041.6V1040.4H1979.3V1041.6ZM1979.3 1041.6V1041.1H1980.9V1041.6ZM1984.1 1041.6V1041.2H1985.7V1041.6ZM1987.3 1041.6V1041.0H1988.9V1041.6ZM1993.7 1041.6V1041.1H1995.3V1041.6ZM1995.3 1041.6V1040.4H1996.9V1041.6ZM2000.1 1041.6V1040.8H2001.7V1041.6ZM2001.7 1041.6V1041.1H2003.3V1041.6ZM2004.9 1041.6V1040.6H2006.5V1041.6ZM2006.5 1041.6V1040.9H2008.1V1041.6ZM2012.9 1041.6V1040.7H2014.5V1041.6ZM2016.1 1041.6V1040.6H2017.7V1041.6ZM2019.3 1041.6V1040.7H2020.9V1041.6ZM2022.5 1041.6V1040.8H2024.1V1041.6ZM2025.7 1041.6V1040.8H2027.3V1041.6ZM2030.5 1041.6V1041.2H2032.1V1041.6ZM2033.7 1041.6V1041.1H2035.3V1041.6ZM2036.9 1041.6V1040.6H2038.5V1041.6ZM2041.7 1041.6V1041.0H2043.3V1041.6ZM2043.3 1041.6V1040.4H2044.9V1041.6ZM2048.1 1041.6V1041.2H2049.7V1041.6ZM2049.7 1041.6V1040.9H2051.3V1041.6ZM2073.7 1041.6V1041.2H2075.3V1041.6ZM2075.3 1041.6V1040.7H2076.9V1041.6ZM2076.9 1041.6V1041.2H2078.5V1041.6ZM2078.5 1041.6V1041.0H2080.1V1041.6ZM2080.1 1041.6V1041.1H2081.7V1041.6ZM2083.3 1041.6V1041.2H2084.9V1041.6ZM2084.9 1041.6V1040.9H2086.5V1041.6ZM2086.5 1041.6V1040.8H2088.1V1041.6ZM2088.1 1041.6V1040.8H2089.7V1041.6ZM2089.7 1041.6V1040.7H2091.3V1041.6ZM2092.9 1041.6V1040.8H2094.5V1041.6ZM2094.5 1041.6V1041.2H2096.1V1041.6ZM2100.9 1041.6V1041.2H2102.5V1041.6ZM2105.7 1041.6V1040.5H2106.0V1041.6Z" fill="#2D4EA2"/>
<rect x="1177.4" y="1040.8999999999999" width="928.5999999999999" height="1.4" fill="#2D4EA2"/>
<text x="2104.6" y="1033.3" font-size="21" fill="#26408E" stroke="#26408E" text-anchor="end">0 - 0.8</text>
<rect x="1427.7" y="644.3" width="27.799999999999955" height="416.70000000000005" fill="rgba(232,60,62,0.21)"/>
<rect x="1469" y="644.3" width="80.70000000000005" height="416.70000000000005" fill="rgba(38,62,150,0.205)"/>
<rect x="1442.9" y="1046.6" width="618.0999999999999" height="1.4" fill="#2B3A7A"/>
<rect x="1442.9" y="1046.0" width="7.7999999999999545" height="2.6" fill="#2B3A7A"/>
<rect x="1533.6" y="1045.3" width="15.0" height="4" fill="#2B3A7A"/>
<rect x="2011.7" y="1045.7" width="49.299999999999955" height="3.2" fill="#2B3A7A"/>
<circle cx="1500.7" cy="1047.3" r="2.2" fill="#2B3A7A"/>
<circle cx="1605" cy="1047.3" r="2.2" fill="#2B3A7A"/>
<circle cx="1614" cy="1047.3" r="2.2" fill="#2B3A7A"/>
<circle cx="1781" cy="1047.3" r="2.2" fill="#2B3A7A"/>
<circle cx="1831" cy="1047.3" r="2.2" fill="#2B3A7A"/>
<text x="1358.0" y="1070.0" font-size="27.8" fill="#000" stroke="#000" font-style="italic">Nr4a3</text>
<text x="176.7" y="1192" font-size="28.7" font-weight="bold" stroke="#000"><tspan font-style="italic">Fos</tspan> (IEG, bipartite)</text>
<text x="896.0" y="1198.3" font-size="21" fill="#000" stroke="#000" text-anchor="end">5 kb</text>
<rect x="902.7" y="1195.8" width="344.0" height="3" fill="#000"/>
<text x="1252.7" y="1198.3" font-size="21" fill="#000" stroke="#000">mm10 chr12</text>
<text x="188.0" y="1227.0" font-size="21.6" fill="#000" stroke="#000">85,465,000</text>
<text x="361.7" y="1227.0" font-size="21.6" fill="#000" stroke="#000">85,467,500</text>
<text x="533.0" y="1227.0" font-size="21.6" fill="#000" stroke="#000">85,470,000</text>
<text x="706.7" y="1227.0" font-size="21.6" fill="#000" stroke="#000">85,472,500</text>
<text x="913.0" y="1227.0" font-size="21.6" fill="#000" stroke="#000">85,475,500</text>
<text x="1086.0" y="1227.0" font-size="21.6" fill="#000" stroke="#000">85,478,000</text>
<text x="1258.0" y="1227.0" font-size="21.6" fill="#000" stroke="#000">85,480,500</text>
<text x="750.0" y="1265.7" font-size="28" fill="#E4222B" stroke="#E4222B">Promoter</text>
<text x="919.3" y="1265.7" font-size="28" fill="#2B479A" stroke="#2B479A">Gene body</text>
<text x="0.4" y="1291.7" font-size="21.3" fill="#DA2830" stroke="#DA2830">PreFix H3K27ac</text>
<path d="M181.4 1299.0V1295.4H194.3V1299.0ZM194.3 1299.0V1293.1H200.7V1299.0ZM200.7 1299.0V1298.3H207.1V1299.0ZM207.1 1299.0V1296.0H214.3V1299.0ZM221.4 1299.0V1291.7H227.9V1299.0ZM227.9 1299.0V1296.4H235.0V1299.0ZM235.0 1299.0V1298.5H240.0V1299.0ZM240.0 1299.0V1296.4H255.7V1299.0ZM262.0 1299.0V1297.2H271.4V1299.0ZM271.4 1299.0V1295.4H276.4V1299.0ZM276.4 1299.0V1298.5H282.0V1299.0ZM290.0 1299.0V1296.0H304.3V1299.0ZM304.3 1299.0V1297.9H311.0V1299.0ZM318.6 1299.0V1296.0H325.0V1299.0ZM330.7 1299.0V1297.9H345.7V1299.0ZM352.0 1299.0V1297.9H359.0V1299.0ZM380.0 1299.0V1297.9H394.3V1299.0ZM400.7 1299.0V1291.7H414.3V1299.0ZM421.4 1299.0V1293.1H428.6V1299.0ZM428.6 1299.0V1296.4H435.7V1299.0ZM435.7 1299.0V1296.0H449.3V1299.0ZM449.3 1299.0V1291.7H455.7V1299.0ZM462.9 1299.0V1297.9H474.0V1299.0ZM474.0 1299.0V1295.4H476.4V1299.0ZM476.4 1299.0V1295.4H490.7V1299.0ZM497.1 1299.0V1291.7H504.3V1299.0ZM504.3 1299.0V1298.3H511.4V1299.0ZM511.4 1299.0V1290.0H517.9V1299.0ZM532.0 1299.0V1298.0H538.0V1299.0ZM553.0 1299.0V1298.0H559.3V1299.0ZM559.3 1299.0V1296.0H566.4V1299.0ZM566.4 1299.0V1298.0H573.0V1299.0ZM594.3 1299.0V1295.0H600.7V1299.0ZM607.9 1299.0V1296.0H621.4V1299.0ZM628.0 1299.0V1298.2H635.0V1299.0ZM635.0 1299.0V1295.0H649.3V1299.0ZM656.4 1299.0V1296.4H670.0V1299.0ZM670.0 1299.0V1290.0H677.1V1299.0ZM677.1 1299.0V1295.4H684.3V1299.0ZM684.3 1299.0V1290.0H690.7V1299.0ZM690.7 1299.0V1291.7H697.9V1299.0ZM704.3 1299.0V1286.4H711.4V1299.0ZM711.4 1299.0V1290.0H718.6V1299.0ZM718.6 1299.0V1293.1H725.0V1299.0ZM725.0 1299.0V1282.1H732.1V1299.0ZM732.1 1299.0V1283.6H739.3V1299.0ZM739.3 1299.0V1286.4H752.9V1299.0ZM760.0 1299.0V1291.7H767.1V1299.0ZM767.1 1299.0V1293.6H770.0V1299.0ZM770.0 1299.0V1293.6H780.7V1299.0ZM780.7 1299.0V1288.3H787.1V1299.0ZM787.1 1299.0V1295.0H794.3V1299.0ZM794.3 1299.0V1298.5H801.4V1299.0ZM801.4 1299.0V1284.0H807.9V1299.0ZM807.9 1299.0V1273.6H815.0V1299.0ZM815.0 1299.0V1285.7H822.1V1299.0ZM822.1 1299.0V1292.1H828.6V1299.0ZM828.6 1299.0V1283.6H835.7V1299.0ZM835.7 1299.0V1292.1H842.9V1299.0ZM842.9 1299.0V1282.1H849.3V1299.0ZM849.3 1299.0V1290.3H855.7V1299.0ZM855.7 1299.0V1284.0H862.9V1299.0ZM862.9 1299.0V1288.3H870.0V1299.0ZM870.0 1299.0V1292.1H890.7V1299.0ZM890.7 1299.0V1286.4H904.3V1299.0ZM904.3 1299.0V1295.4H911.4V1299.0ZM911.4 1299.0V1286.4H918.6V1299.0ZM918.6 1299.0V1298.3H925.0V1299.0ZM925.0 1299.0V1291.4H932.1V1299.0ZM932.1 1299.0V1296.0H938.6V1299.0ZM945.7 1299.0V1292.9H952.9V1299.0ZM966.4 1299.0V1295.0H980.0V1299.0ZM980.0 1299.0V1291.7H987.1V1299.0ZM987.1 1299.0V1296.0H993.6V1299.0ZM993.6 1299.0V1295.0H1000.7V1299.0ZM1000.7 1299.0V1298.5H1007.9V1299.0ZM1007.9 1299.0V1296.0H1021.4V1299.0ZM1021.4 1299.0V1298.5H1028.6V1299.0ZM1028.6 1299.0V1292.9H1035.7V1299.0ZM1035.7 1299.0V1296.0H1042.9V1299.0ZM1042.9 1299.0V1298.5H1050.0V1299.0ZM1050.0 1299.0V1298.7H1070.7V1299.0ZM1070.7 1299.0V1296.0H1077.0V1299.0ZM1077.0 1299.0V1295.0H1083.6V1299.0ZM1083.6 1299.0V1295.4H1097.9V1299.0ZM1097.9 1299.0V1293.1H1105.0V1299.0ZM1125.0 1299.0V1295.0H1132.1V1299.0ZM1132.1 1299.0V1298.3H1145.0V1299.0ZM1145.0 1299.0V1298.3H1152.0V1299.0ZM1166.0 1299.0V1298.3H1174.0V1299.0ZM1180.7 1299.0V1296.0H1194.3V1299.0ZM1208.0 1299.0V1296.4H1215.7V1299.0ZM1215.7 1299.0V1295.4H1222.0V1299.0ZM1222.0 1299.0V1296.4H1236.0V1299.0ZM1242.9 1299.0V1295.0H1250.0V1299.0ZM1250.0 1299.0V1293.1H1256.4V1299.0ZM1256.4 1299.0V1296.0H1263.6V1299.0ZM1270.7 1299.0V1298.3H1291.0V1299.0ZM1291.0 1299.0V1296.0H1298.0V1299.0ZM1325.7 1299.0V1295.4H1339.3V1299.0ZM1339.3 1299.0V1293.1H1347.1V1299.0Z" fill="#E4222B"/>
<rect x="181.7" y="1298.3" width="1166.6" height="1.4" fill="#E4222B"/>
<text x="1352.7" y="1287.3" font-size="21" fill="#DA2830" stroke="#DA2830" text-anchor="end">0 - 0.5</text>
<text x="0.4" y="1324.0" font-size="21.3" fill="#26408E" stroke="#26408E">PreFix H3K27me3</text>
<path d="M182.9 1331.7V1330.8H194.3V1331.7ZM194.3 1331.7V1329.4H207.9V1331.7ZM207.9 1331.7V1326.8H215.7V1331.7ZM215.7 1331.7V1330.8H222.0V1331.7ZM222.0 1331.7V1329.1H229.0V1331.7ZM229.0 1331.7V1331.0H277.0V1331.7ZM277.0 1331.7V1330.8H285.0V1331.7ZM285.0 1331.7V1329.4H319.0V1331.7ZM325.7 1331.7V1327.7H332.9V1331.7ZM332.9 1331.7V1330.8H347.0V1331.7ZM347.0 1331.7V1329.4H360.0V1331.7ZM360.0 1331.7V1328.7H374.3V1331.7ZM374.3 1331.7V1330.1H387.9V1331.7ZM387.9 1331.7V1327.7H395.0V1331.7ZM395.0 1331.7V1330.8H401.4V1331.7ZM401.4 1331.7V1328.7H415.7V1331.7ZM415.7 1331.7V1330.8H435.7V1331.7ZM435.7 1331.7V1329.7H448.6V1331.7ZM448.6 1331.7V1328.3H463.6V1331.7ZM463.6 1331.7V1330.1H476.0V1331.7ZM476.0 1331.7V1330.6H485.0V1331.7ZM485.0 1331.7V1328.7H491.4V1331.7ZM491.4 1331.7V1330.8H498.0V1331.7ZM498.0 1331.7V1330.1H512.0V1331.7ZM512.1 1331.7V1329.4H519.0V1331.7ZM519.0 1331.7V1330.7H532.9V1331.7ZM532.9 1331.7V1328.0H540.0V1331.7ZM540.0 1331.7V1331.1H553.0V1331.7ZM553.0 1331.7V1330.1H560.7V1331.7ZM560.7 1331.7V1328.7H567.0V1331.7ZM567.0 1331.7V1330.1H589.0V1331.7ZM589.0 1331.7V1330.8H595.0V1331.7ZM595.0 1331.7V1327.7H602.1V1331.7ZM602.1 1331.7V1328.7H608.6V1331.7ZM608.6 1331.7V1327.3H615.7V1331.7ZM615.7 1331.7V1330.1H622.9V1331.7ZM622.9 1331.7V1327.3H636.4V1331.7ZM636.4 1331.7V1328.0H657.1V1331.7ZM657.1 1331.7V1329.7H678.0V1331.7ZM678.0 1331.7V1328.3H685.0V1331.7ZM685.0 1331.7V1330.1H705.0V1331.7ZM705.0 1331.7V1329.7H718.6V1331.7ZM718.6 1331.7V1327.7H740.0V1331.7ZM740.0 1331.7V1325.1H746.4V1331.7ZM746.4 1331.7V1328.0H767.1V1331.7ZM767.1 1331.7V1330.1H774.3V1331.7ZM774.3 1331.7V1324.4H781.4V1331.7ZM781.4 1331.7V1330.1H788.6V1331.7ZM788.6 1331.7V1330.8H808.0V1331.7ZM808.0 1331.7V1330.6H828.0V1331.7ZM828.0 1331.7V1330.9H844.3V1331.7ZM844.3 1331.7V1327.3H851.4V1331.7ZM851.4 1331.7V1330.1H857.1V1331.7ZM857.1 1331.7V1327.7H864.3V1331.7ZM864.3 1331.7V1329.1H876.4V1331.7ZM876.4 1331.7V1326.8H884.3V1331.7ZM884.3 1331.7V1326.3H891.4V1331.7ZM891.4 1331.7V1322.3H905.0V1331.7ZM905.0 1331.7V1316.6H912.9V1331.7ZM912.9 1331.7V1318.0H919.3V1331.7ZM919.3 1331.7V1322.6H926.4V1331.7ZM926.4 1331.7V1319.7H932.9V1331.7ZM932.9 1331.7V1318.3H940.0V1331.7ZM940.0 1331.7V1320.6H947.1V1331.7ZM947.1 1331.7V1318.7H953.6V1331.7ZM953.6 1331.7V1320.6H960.7V1331.7ZM960.7 1331.7V1319.4H967.9V1331.7ZM967.9 1331.7V1312.6H981.4V1331.7ZM981.4 1331.7V1306.6H988.6V1331.7ZM988.6 1331.7V1305.1H995.0V1331.7ZM995.0 1331.7V1308.0H1002.1V1331.7ZM1002.1 1331.7V1322.0H1009.3V1331.7ZM1009.3 1331.7V1308.7H1015.7V1331.7ZM1015.7 1331.7V1317.7H1022.9V1331.7ZM1022.9 1331.7V1314.0H1036.4V1331.7ZM1036.4 1331.7V1320.1H1043.6V1331.7ZM1043.6 1331.7V1323.0H1050.0V1331.7ZM1050.0 1331.7V1328.7H1057.1V1331.7ZM1057.1 1331.7V1330.1H1063.6V1331.7ZM1063.6 1331.7V1323.0H1071.4V1331.7ZM1071.4 1331.7V1325.1H1092.1V1331.7ZM1092.1 1331.7V1323.0H1098.6V1331.7ZM1098.6 1331.7V1325.8H1105.7V1331.7ZM1105.7 1331.7V1328.7H1112.9V1331.7ZM1112.9 1331.7V1329.7H1127.1V1331.7ZM1127.1 1331.7V1325.4H1134.3V1331.7ZM1134.3 1331.7V1326.8H1140.7V1331.7ZM1140.7 1331.7V1329.1H1154.3V1331.7ZM1154.3 1331.7V1327.3H1167.9V1331.7ZM1167.9 1331.7V1330.1H1181.4V1331.7ZM1181.4 1331.7V1329.4H1188.6V1331.7ZM1188.6 1331.7V1324.8H1195.0V1331.7ZM1195.0 1331.7V1330.9H1209.0V1331.7ZM1209.0 1331.7V1329.4H1215.7V1331.7ZM1215.7 1331.7V1330.9H1230.0V1331.7ZM1230.0 1331.7V1326.6H1244.3V1331.7ZM1244.3 1331.7V1328.7H1250.0V1331.7ZM1250.0 1331.7V1327.3H1257.9V1331.7ZM1257.9 1331.7V1330.9H1264.3V1331.7ZM1264.3 1331.7V1328.0H1271.4V1331.7ZM1271.4 1331.7V1330.9H1278.6V1331.7ZM1278.6 1331.7V1327.3H1285.7V1331.7ZM1285.7 1331.7V1326.6H1299.3V1331.7ZM1299.3 1331.7V1328.7H1306.4V1331.7ZM1306.4 1331.7V1330.1H1320.0V1331.7ZM1320.0 1331.7V1329.1H1326.4V1331.7ZM1326.4 1331.7V1328.3H1340.7V1331.7ZM1340.7 1331.7V1329.4H1348.3V1331.7Z" fill="#2D4EA2"/>
<rect x="181.7" y="1331.0" width="1166.6" height="1.4" fill="#2D4EA2"/>
<text x="1352.7" y="1320.7" font-size="21" fill="#26408E" stroke="#26408E" text-anchor="end">0 - 0.6</text>
<rect x="771" y="1270" width="104.70000000000005" height="79.29999999999995" fill="rgba(232,60,62,0.21)"/>
<rect x="901" y="1270" width="166.70000000000005" height="79.29999999999995" fill="rgba(38,62,150,0.205)"/>
<rect x="828" y="1338.6" width="233.70000000000005" height="1.4" fill="#333"/>
<rect x="836.7" y="1337.8" width="10.0" height="3" fill="#333"/>
<rect x="900" y="1337.55" width="17" height="3.5" fill="#333"/>
<rect x="945.7" y="1337.55" width="7.0" height="3.5" fill="#333"/>
<rect x="961.7" y="1337.3" width="43.299999999999955" height="4" fill="#333"/>
<text x="786.0" y="1358.0" font-size="27.8" fill="#000" stroke="#000" font-style="italic">Fos</text>
<text x="176.7" y="1406.7" font-size="28.7" font-weight="bold" stroke="#000"><tspan font-style="italic">Egr1</tspan> (IEG, bipartite)</text>
<text x="685.0" y="1412.5" font-size="21" fill="#000" stroke="#000" text-anchor="end">5 kb</text>
<rect x="690" y="1409.3" width="556.7" height="3" fill="#000"/>
<text x="1252.7" y="1412.5" font-size="21" fill="#000" stroke="#000">mm10 chr18</text>
<text x="233.3" y="1437.7" font-size="21.6" fill="#000" stroke="#000">34,857,500</text>
<text x="511.7" y="1437.7" font-size="21.6" fill="#000" stroke="#000">34,860,000</text>
<text x="790.0" y="1437.7" font-size="21.6" fill="#000" stroke="#000">34,862,500</text>
<text x="1067.7" y="1437.7" font-size="21.6" fill="#000" stroke="#000">34,865,000</text>
<text x="0.4" y="1472.7" font-size="21.3" fill="#DA2830" stroke="#DA2830">PreFix H3K27ac</text>
<path d="M182.7 1480.5V1479.4H192.1V1480.5ZM203.6 1480.5V1477.2H215.0V1480.5ZM215.0 1480.5V1474.4H225.7V1480.5ZM225.7 1480.5V1476.5H237.1V1480.5ZM237.1 1480.5V1477.2H248.6V1480.5ZM271.0 1480.5V1479.4H282.0V1480.5ZM293.0 1480.5V1479.4H304.3V1480.5ZM304.3 1480.5V1467.6H315.0V1480.5ZM326.4 1480.5V1476.5H337.1V1480.5ZM337.1 1480.5V1472.9H348.6V1480.5ZM348.6 1480.5V1477.6H359.3V1480.5ZM359.3 1480.5V1473.4H370.7V1480.5ZM370.7 1480.5V1474.4H382.1V1480.5ZM392.9 1480.5V1476.2H403.6V1480.5ZM403.6 1480.5V1477.6H415.0V1480.5ZM415.0 1480.5V1476.2H425.7V1480.5ZM425.7 1480.5V1469.4H437.1V1480.5ZM437.1 1480.5V1470.9H459.3V1480.5ZM459.3 1480.5V1469.4H470.7V1480.5ZM470.7 1480.5V1471.1H475.0V1480.5ZM475.0 1480.5V1471.1H482.1V1480.5ZM482.1 1480.5V1474.8H493.6V1480.5ZM493.6 1480.5V1452.5H504.3V1480.5ZM504.3 1480.5V1464.8H515.7V1480.5ZM515.7 1480.5V1466.8H526.4V1480.5ZM526.4 1480.5V1463.4H537.9V1480.5ZM537.9 1480.5V1452.5H548.6V1480.5ZM548.6 1480.5V1462.2H560.0V1480.5ZM560.0 1480.5V1454.8H571.4V1480.5ZM571.4 1480.5V1460.1H582.1V1480.5ZM582.1 1480.5V1453.4H593.6V1480.5ZM593.6 1480.5V1464.8H604.3V1480.5ZM604.3 1480.5V1463.4H615.7V1480.5ZM615.7 1480.5V1469.6H626.4V1480.5ZM626.4 1480.5V1453.4H637.9V1480.5ZM637.9 1480.5V1464.8H648.6V1480.5ZM648.6 1480.5V1470.8H671.4V1480.5ZM671.4 1480.5V1476.5H693.6V1480.5ZM693.6 1480.5V1467.9H704.3V1480.5ZM704.3 1480.5V1474.4H727.1V1480.5ZM727.1 1480.5V1469.6H737.9V1480.5ZM737.9 1480.5V1474.4H749.3V1480.5ZM749.3 1480.5V1461.5H760.0V1480.5ZM760.0 1480.5V1474.4H770.0V1480.5ZM770.0 1480.5V1475.1H782.1V1480.5ZM782.1 1480.5V1467.6H793.6V1480.5ZM793.6 1480.5V1477.6H805.0V1480.5ZM805.0 1480.5V1469.4H815.7V1480.5ZM815.7 1480.5V1476.2H837.9V1480.5ZM837.9 1480.5V1479.7H849.3V1480.5ZM849.3 1480.5V1477.2H860.0V1480.5ZM860.0 1480.5V1469.4H871.4V1480.5ZM871.4 1480.5V1474.4H882.9V1480.5ZM882.9 1480.5V1476.5H893.6V1480.5ZM893.6 1480.5V1466.8H905.0V1480.5ZM905.0 1480.5V1471.1H915.7V1480.5ZM915.7 1480.5V1479.4H927.1V1480.5ZM927.1 1480.5V1474.4H937.9V1480.5ZM937.9 1480.5V1477.2H949.3V1480.5ZM960.0 1480.5V1479.4H971.4V1480.5ZM982.9 1480.5V1477.2H1015.7V1480.5ZM1015.7 1480.5V1479.7H1027.1V1480.5ZM1027.1 1480.5V1476.2H1037.9V1480.5ZM1105.0 1480.5V1479.4H1116.4V1480.5ZM1116.4 1480.5V1474.4H1127.1V1480.5ZM1127.1 1480.5V1477.6H1138.6V1480.5ZM1138.6 1480.5V1479.4H1149.3V1480.5ZM1171.0 1480.5V1479.4H1182.9V1480.5ZM1182.9 1480.5V1474.4H1194.3V1480.5ZM1194.3 1480.5V1476.2H1205.0V1480.5ZM1227.0 1480.5V1477.6H1238.6V1480.5ZM1238.6 1480.5V1479.4H1283.0V1480.5ZM1305.0 1480.5V1476.5H1316.4V1480.5ZM1316.4 1480.5V1471.5H1327.1V1480.5ZM1327.1 1480.5V1477.6H1348.3V1480.5Z" fill="#E4222B"/>
<rect x="182.7" y="1479.8" width="1165.6" height="1.4" fill="#E4222B"/>
<text x="1352.7" y="1468.3" font-size="21" fill="#DA2830" stroke="#DA2830" text-anchor="end">0 - 0.5</text>
<text x="0.4" y="1506.0" font-size="21.3" fill="#26408E" stroke="#26408E">PreFix H3K27me3</text>
<path d="M182.7 1514.0V1512.6H192.1V1514.0ZM192.1 1514.0V1506.4H203.6V1514.0ZM203.6 1514.0V1512.9H215.0V1514.0ZM215.0 1514.0V1510.0H225.7V1514.0ZM236.0 1514.0V1513.3H248.6V1514.0ZM248.6 1514.0V1512.6H271.0V1514.0ZM304.3 1514.0V1512.6H315.0V1514.0ZM315.0 1514.0V1513.3H326.4V1514.0ZM337.1 1514.0V1512.6H348.6V1514.0ZM348.6 1514.0V1513.3H359.3V1514.0ZM359.3 1514.0V1510.0H370.7V1514.0ZM370.7 1514.0V1511.1H382.1V1514.0ZM382.1 1514.0V1513.0H392.9V1514.0ZM403.6 1514.0V1513.3H415.0V1514.0ZM415.0 1514.0V1510.0H437.1V1514.0ZM437.1 1514.0V1512.6H448.6V1514.0ZM459.3 1514.0V1513.3H475.0V1514.0ZM482.1 1514.0V1509.7H492.9V1514.0ZM492.9 1514.0V1512.6H515.7V1514.0ZM526.4 1514.0V1511.1H537.9V1514.0ZM537.9 1514.0V1512.6H548.6V1514.0ZM560.0 1514.0V1509.4H570.7V1514.0ZM582.1 1514.0V1511.9H593.6V1514.0ZM593.6 1514.0V1509.4H604.3V1514.0ZM626.4 1514.0V1513.3H671.4V1514.0ZM671.4 1514.0V1511.9H682.1V1514.0ZM682.1 1514.0V1512.9H693.6V1514.0ZM693.6 1514.0V1508.3H704.3V1514.0ZM704.3 1514.0V1507.1H715.7V1514.0ZM715.7 1514.0V1509.7H727.1V1514.0ZM727.1 1514.0V1507.6H737.9V1514.0ZM737.9 1514.0V1506.6H749.3V1514.0ZM749.3 1514.0V1496.9H760.0V1514.0ZM771.4 1514.0V1502.6H782.1V1514.0ZM782.1 1514.0V1507.6H805.0V1514.0ZM805.0 1514.0V1499.0H827.1V1514.0ZM827.1 1514.0V1506.6H837.9V1514.0ZM837.9 1514.0V1494.7H849.3V1514.0ZM849.3 1514.0V1506.1H860.0V1514.0ZM860.0 1514.0V1493.3H871.4V1514.0ZM871.4 1514.0V1498.6H882.9V1514.0ZM882.9 1514.0V1502.6H893.6V1514.0ZM893.6 1514.0V1495.7H905.0V1514.0ZM905.0 1514.0V1498.0H915.7V1514.0ZM915.7 1514.0V1504.7H927.1V1514.0ZM927.1 1514.0V1500.9H937.9V1514.0ZM937.9 1514.0V1506.9H971.4V1514.0ZM971.4 1514.0V1498.3H993.6V1514.0ZM993.6 1514.0V1507.6H1005.0V1514.0ZM1005.0 1514.0V1504.0H1015.7V1514.0ZM1015.7 1514.0V1509.0H1027.1V1514.0ZM1027.1 1514.0V1507.1H1049.3V1514.0ZM1049.3 1514.0V1509.7H1060.7V1514.0ZM1060.7 1514.0V1511.1H1071.4V1514.0ZM1071.4 1514.0V1512.6H1082.9V1514.0ZM1082.9 1514.0V1513.5H1094.3V1514.0ZM1094.3 1514.0V1511.1H1105.0V1514.0ZM1105.0 1514.0V1509.0H1116.4V1514.0ZM1116.4 1514.0V1504.7H1127.1V1514.0ZM1127.1 1514.0V1513.2H1138.6V1514.0ZM1138.6 1514.0V1511.1H1149.3V1514.0ZM1149.3 1514.0V1506.1H1160.0V1514.0ZM1160.0 1514.0V1513.2H1171.4V1514.0ZM1171.4 1514.0V1509.0H1182.9V1514.0ZM1182.9 1514.0V1510.0H1194.3V1514.0ZM1194.3 1514.0V1511.1H1205.0V1514.0ZM1205.0 1514.0V1507.1H1216.4V1514.0ZM1216.4 1514.0V1513.2H1238.6V1514.0ZM1238.6 1514.0V1511.1H1260.7V1514.0ZM1272.0 1514.0V1513.3H1294.3V1514.0ZM1294.3 1514.0V1506.1H1305.0V1514.0ZM1305.0 1514.0V1512.3H1316.4V1514.0ZM1316.4 1514.0V1511.1H1327.1V1514.0ZM1327.1 1514.0V1513.2H1339.3V1514.0ZM1339.3 1514.0V1509.7H1348.3V1514.0Z" fill="#2D4EA2"/>
<rect x="182.7" y="1513.3" width="1165.6" height="1.4" fill="#2D4EA2"/>
<text x="1352.7" y="1501.7" font-size="21" fill="#26408E" stroke="#26408E" text-anchor="end">0 - 0.6</text>
<rect x="549.3" y="1451.5" width="160.0" height="79.5" fill="rgba(232,60,62,0.21)"/>
<rect x="749.3" y="1451.5" width="236.70000000000005" height="79.5" fill="rgba(38,62,150,0.205)"/>
<rect x="671.4" y="1525.0" width="417.19999999999993" height="1.4" fill="#333"/>
<rect x="704.3" y="1524.45" width="5.7000000000000455" height="2.5" fill="#333"/>
<rect x="710" y="1523.8" width="25.700000000000045" height="3.8" fill="#333"/>
<rect x="811.4" y="1523.7" width="145.0" height="4" fill="#333"/>
<rect x="986.4" y="1524.5" width="102.19999999999993" height="2.4" fill="#333"/>
<text x="590.0" y="1546.7" font-size="27.8" fill="#000" stroke="#000" font-style="italic">Egr1</text>
<text x="178.3" y="1616.7" font-size="28.7" font-weight="bold" stroke="#000"><tspan font-style="italic">Fosb</tspan> (IEG, bipartite)</text>
<text x="891.7" y="1619.3" font-size="21" fill="#000" stroke="#000" text-anchor="end">5 kb</text>
<rect x="895" y="1615.8" width="361.70000000000005" height="3" fill="#000"/>
<text x="1261.7" y="1619.3" font-size="21" fill="#000" stroke="#000">mm10 chr7</text>
<text x="212.7" y="1647.3" font-size="21.6" fill="#000" stroke="#000">19,297,500</text>
<text x="430.7" y="1647.3" font-size="21.6" fill="#000" stroke="#000">19,300,500</text>
<text x="648.3" y="1647.3" font-size="21.6" fill="#000" stroke="#000">19,303,500</text>
<text x="866.0" y="1647.3" font-size="21.6" fill="#000" stroke="#000">19,306,500</text>
<text x="1084.0" y="1647.3" font-size="21.6" fill="#000" stroke="#000">19,309,500</text>
<text x="1.4" y="1683.3" font-size="21.3" fill="#DA2830" stroke="#DA2830">PreFix H3K27ac</text>
<path d="M182.7 1690.0V1688.1H186.4V1690.0ZM186.4 1690.0V1689.3H194.3V1690.0ZM194.3 1690.0V1686.4H201.4V1690.0ZM201.4 1690.0V1688.1H208.6V1690.0ZM222.9 1690.0V1683.6H230.7V1690.0ZM230.7 1690.0V1689.3H237.1V1690.0ZM237.1 1690.0V1686.4H244.3V1690.0ZM252.1 1690.0V1688.1H259.3V1690.0ZM259.3 1690.0V1683.6H266.4V1690.0ZM274.3 1690.0V1689.3H281.4V1690.0ZM281.4 1690.0V1684.3H288.6V1690.0ZM296.4 1690.0V1689.3H302.9V1690.0ZM302.9 1690.0V1688.1H310.0V1690.0ZM310.0 1690.0V1689.3H317.1V1690.0ZM317.1 1690.0V1688.1H324.3V1690.0ZM332.1 1690.0V1689.3H339.3V1690.0ZM339.3 1690.0V1688.1H346.4V1690.0ZM353.6 1690.0V1688.1H360.7V1690.0ZM367.9 1690.0V1684.3H375.7V1690.0ZM375.7 1690.0V1689.3H382.9V1690.0ZM390.0 1690.0V1688.1H397.1V1690.0ZM397.1 1690.0V1677.1H405.0V1690.0ZM411.4 1690.0V1689.3H419.3V1690.0ZM419.3 1690.0V1684.7H426.4V1690.0ZM426.4 1690.0V1688.1H433.6V1690.0ZM440.7 1690.0V1689.3H455.7V1690.0ZM462.9 1690.0V1686.4H470.0V1690.0ZM470.0 1690.0V1688.1H477.0V1690.0ZM477.0 1690.0V1689.3H492.1V1690.0ZM492.1 1690.0V1671.9H499.3V1690.0ZM499.3 1690.0V1678.1H506.4V1690.0ZM506.4 1690.0V1677.1H513.6V1690.0ZM513.6 1690.0V1683.3H520.7V1690.0ZM520.7 1690.0V1686.4H527.9V1690.0ZM527.9 1690.0V1689.3H535.0V1690.0ZM535.0 1690.0V1681.4H542.1V1690.0ZM542.1 1690.0V1684.7H556.4V1690.0ZM556.4 1690.0V1683.3H563.6V1690.0ZM563.6 1690.0V1686.7H571.4V1690.0ZM571.4 1690.0V1689.3H578.6V1690.0ZM578.6 1690.0V1686.7H585.7V1690.0ZM585.7 1690.0V1689.3H592.9V1690.0ZM600.7 1690.0V1677.1H607.9V1690.0ZM607.9 1690.0V1688.1H615.0V1690.0ZM636.4 1690.0V1688.1H644.3V1690.0ZM644.3 1690.0V1689.3H658.6V1690.0ZM658.6 1690.0V1688.1H665.7V1690.0ZM673.6 1690.0V1689.3H687.9V1690.0ZM687.9 1690.0V1686.4H695.0V1690.0ZM695.0 1690.0V1689.3H702.1V1690.0ZM702.1 1690.0V1684.7H709.3V1690.0ZM709.3 1690.0V1688.1H723.6V1690.0ZM723.6 1690.0V1689.5H730.7V1690.0ZM730.7 1690.0V1688.1H738.6V1690.0ZM738.6 1690.0V1689.5H745.7V1690.0ZM745.7 1690.0V1688.1H752.9V1690.0ZM752.9 1690.0V1684.7H760.7V1690.0ZM760.7 1690.0V1681.4H767.9V1690.0ZM767.9 1690.0V1688.1H775.0V1690.0ZM775.0 1690.0V1688.1H775.1V1690.0ZM782.1 1690.0V1686.4H789.3V1690.0ZM789.3 1690.0V1684.7H796.4V1690.0ZM804.3 1690.0V1683.3H811.4V1690.0ZM811.4 1690.0V1688.1H832.9V1690.0ZM832.9 1690.0V1689.3H840.0V1690.0ZM840.0 1690.0V1688.1H847.9V1690.0ZM855.0 1690.0V1688.1H862.1V1690.0ZM862.1 1690.0V1689.3H869.3V1690.0ZM884.3 1690.0V1684.3H891.4V1690.0ZM891.4 1690.0V1688.1H898.6V1690.0ZM898.6 1690.0V1686.7H905.7V1690.0ZM905.7 1690.0V1688.1H912.9V1690.0ZM912.9 1690.0V1686.1H920.0V1690.0ZM920.0 1690.0V1689.3H927.1V1690.0ZM927.1 1690.0V1686.1H934.3V1690.0ZM934.3 1690.0V1682.9H941.4V1690.0ZM948.6 1690.0V1686.1H956.4V1690.0ZM964.3 1690.0V1689.3H978.6V1690.0ZM978.6 1690.0V1681.4H992.9V1690.0ZM992.9 1690.0V1685.0H1000.0V1690.0ZM1000.0 1690.0V1681.4H1014.3V1690.0ZM1014.3 1690.0V1688.1H1021.4V1690.0ZM1021.4 1690.0V1663.3H1029.3V1690.0ZM1029.3 1690.0V1673.3H1036.4V1690.0ZM1036.4 1690.0V1681.4H1043.6V1690.0ZM1043.6 1690.0V1688.1H1057.9V1690.0ZM1057.9 1690.0V1683.3H1065.0V1690.0ZM1065.0 1690.0V1684.3H1065.7V1690.0ZM1065.7 1690.0V1688.1H1072.9V1690.0ZM1072.9 1690.0V1681.9H1080.0V1690.0ZM1080.0 1690.0V1689.3H1087.1V1690.0ZM1087.1 1690.0V1688.1H1094.3V1690.0ZM1094.3 1690.0V1689.3H1101.4V1690.0ZM1101.4 1690.0V1684.7H1109.3V1690.0ZM1116.4 1690.0V1688.1H1130.7V1690.0ZM1130.7 1690.0V1689.3H1137.9V1690.0ZM1137.9 1690.0V1688.1H1145.0V1690.0ZM1145.0 1690.0V1689.3H1152.1V1690.0ZM1152.1 1690.0V1676.7H1160.0V1690.0ZM1160.0 1690.0V1688.1H1167.1V1690.0ZM1167.1 1690.0V1684.7H1174.3V1690.0ZM1174.3 1690.0V1678.1H1182.1V1690.0ZM1182.1 1690.0V1675.7H1189.3V1690.0ZM1189.3 1690.0V1670.0H1196.4V1690.0ZM1196.4 1690.0V1677.9H1203.6V1690.0ZM1203.6 1690.0V1686.1H1217.9V1690.0ZM1217.9 1690.0V1689.3H1225.0V1690.0ZM1225.0 1690.0V1688.1H1232.9V1690.0ZM1232.9 1690.0V1689.5H1255.0V1690.0ZM1255.0 1690.0V1689.5H1270.0V1690.0ZM1270.0 1690.0V1689.5H1290.7V1690.0ZM1290.7 1690.0V1686.1H1305.0V1690.0ZM1305.0 1690.0V1683.3H1312.1V1690.0ZM1312.1 1690.0V1689.7H1349.3V1690.0Z" fill="#E4222B"/>
<rect x="182.7" y="1689.3" width="1166.6" height="1.4" fill="#E4222B"/>
<text x="1354.0" y="1679.3" font-size="21" fill="#DA2830" stroke="#DA2830" text-anchor="end">0 - 0.5</text>
<text x="1.4" y="1716.0" font-size="21.3" fill="#26408E" stroke="#26408E">PreFix H3K27me3</text>
<path d="M182.7 1724.0V1723.2H230.7V1724.0ZM230.7 1724.0V1722.4H237.8V1724.0ZM237.8 1724.0V1723.5H252.1V1724.0ZM252.1 1724.0V1721.0H259.3V1724.0ZM259.3 1724.0V1723.5H288.6V1724.0ZM288.6 1724.0V1721.0H295.7V1724.0ZM295.7 1724.0V1723.5H302.9V1724.0ZM302.9 1724.0V1722.4H310.0V1724.0ZM310.0 1724.0V1723.5H317.1V1724.0ZM317.1 1724.0V1721.9H331.4V1724.0ZM331.4 1724.0V1723.5H353.6V1724.0ZM353.6 1724.0V1720.4H361.4V1724.0ZM361.4 1724.0V1722.4H375.7V1724.0ZM375.7 1724.0V1723.5H390.0V1724.0ZM390.0 1724.0V1723.0H397.0V1724.0ZM397.0 1724.0V1723.5H404.0V1724.0ZM404.0 1724.0V1723.0H411.0V1724.0ZM411.0 1724.0V1723.5H433.6V1724.0ZM433.6 1724.0V1721.0H448.6V1724.0ZM448.6 1724.0V1722.4H462.9V1724.0ZM462.9 1724.0V1720.4H470.0V1724.0ZM470.0 1724.0V1723.5H476.4V1724.0ZM476.4 1724.0V1722.9H484.0V1724.0ZM499.0 1724.0V1723.0H513.0V1724.0ZM521.0 1724.0V1723.0H528.0V1724.0ZM535.0 1724.0V1723.0H542.9V1724.0ZM542.9 1724.0V1717.6H549.3V1724.0ZM549.3 1724.0V1716.7H557.1V1724.0ZM557.1 1724.0V1721.0H563.6V1724.0ZM563.6 1724.0V1721.4H578.6V1724.0ZM578.6 1724.0V1720.0H585.7V1724.0ZM585.7 1724.0V1717.6H600.7V1724.0ZM600.7 1724.0V1723.3H607.9V1724.0ZM607.9 1724.0V1715.3H615.0V1724.0ZM615.0 1724.0V1719.0H630.0V1724.0ZM630.0 1724.0V1720.4H637.1V1724.0ZM637.1 1724.0V1717.9H644.3V1724.0ZM644.3 1724.0V1715.3H651.4V1724.0ZM651.4 1724.0V1720.0H665.7V1724.0ZM665.7 1724.0V1715.3H673.6V1724.0ZM673.6 1724.0V1722.1H680.7V1724.0ZM680.7 1724.0V1717.1H687.9V1724.0ZM687.9 1724.0V1720.0H695.0V1724.0ZM695.0 1724.0V1715.0H702.1V1724.0ZM702.1 1724.0V1717.6H710.0V1724.0ZM710.0 1724.0V1711.9H717.1V1724.0ZM717.1 1724.0V1715.0H731.4V1724.0ZM731.4 1724.0V1706.7H738.6V1724.0ZM738.6 1724.0V1709.6H745.7V1724.0ZM745.7 1724.0V1701.9H752.9V1724.0ZM752.9 1724.0V1709.0H760.7V1724.0ZM760.7 1724.0V1713.6H767.9V1724.0ZM767.9 1724.0V1702.9H775.0V1724.0ZM775.0 1724.0V1707.6H789.3V1724.0ZM789.3 1724.0V1710.0H796.4V1724.0ZM796.4 1724.0V1706.4H804.3V1724.0ZM804.3 1724.0V1700.4H811.4V1724.0ZM811.4 1724.0V1709.6H818.6V1724.0ZM818.6 1724.0V1707.9H825.7V1724.0ZM825.7 1724.0V1706.1H832.9V1724.0ZM832.9 1724.0V1716.1H840.0V1724.0ZM840.0 1724.0V1706.4H847.9V1724.0ZM847.9 1724.0V1714.7H855.0V1724.0ZM855.0 1724.0V1707.9H862.1V1724.0ZM862.1 1724.0V1713.3H869.3V1724.0ZM869.3 1724.0V1710.7H877.1V1724.0ZM877.1 1724.0V1705.0H884.3V1724.0ZM884.3 1724.0V1708.1H891.4V1724.0ZM891.4 1724.0V1705.0H898.6V1724.0ZM898.6 1724.0V1714.7H905.7V1724.0ZM905.7 1724.0V1718.1H920.0V1724.0ZM920.0 1724.0V1716.1H934.3V1724.0ZM934.3 1724.0V1718.1H941.4V1724.0ZM941.4 1724.0V1717.6H949.3V1724.0ZM949.3 1724.0V1712.9H956.4V1724.0ZM956.4 1724.0V1721.9H971.4V1724.0ZM971.4 1724.0V1717.6H978.6V1724.0ZM978.6 1724.0V1722.4H985.7V1724.0ZM985.7 1724.0V1721.0H992.9V1724.0ZM992.9 1724.0V1722.9H1007.0V1724.0ZM1007.0 1724.0V1723.5H1015.0V1724.0ZM1015.0 1724.0V1720.0H1022.1V1724.0ZM1022.1 1724.0V1723.5H1029.3V1724.0ZM1029.3 1724.0V1722.4H1036.4V1724.0ZM1036.4 1724.0V1723.5H1057.9V1724.0ZM1057.9 1724.0V1721.4H1065.0V1724.0ZM1065.0 1724.0V1722.1H1070.0V1724.0ZM1070.0 1724.0V1723.5H1080.0V1724.0ZM1080.0 1724.0V1721.9H1095.0V1724.0ZM1095.0 1724.0V1716.4H1102.1V1724.0ZM1102.1 1724.0V1721.9H1109.3V1724.0ZM1109.3 1724.0V1717.6H1116.4V1724.0ZM1116.4 1724.0V1723.5H1131.0V1724.0ZM1131.0 1724.0V1723.0H1138.0V1724.0ZM1138.0 1724.0V1723.5H1145.0V1724.0ZM1145.0 1724.0V1723.0H1152.0V1724.0ZM1152.0 1724.0V1723.5H1160.0V1724.0ZM1160.0 1724.0V1722.9H1188.6V1724.0ZM1188.6 1724.0V1720.0H1195.7V1724.0ZM1195.7 1724.0V1723.5H1203.6V1724.0ZM1203.6 1724.0V1721.9H1211.0V1724.0ZM1211.0 1724.0V1723.5H1217.9V1724.0ZM1217.9 1724.0V1720.7H1232.9V1724.0ZM1232.9 1724.0V1723.5H1240.0V1724.0ZM1240.0 1724.0V1721.4H1254.3V1724.0ZM1254.3 1724.0V1723.5H1261.0V1724.0ZM1261.0 1724.0V1723.0H1268.0V1724.0ZM1268.0 1724.0V1723.5H1276.0V1724.0ZM1276.0 1724.0V1722.9H1297.9V1724.0ZM1297.9 1724.0V1720.0H1305.0V1724.0ZM1305.0 1724.0V1723.5H1312.1V1724.0ZM1312.1 1724.0V1721.0H1326.4V1724.0ZM1326.4 1724.0V1723.5H1333.6V1724.0ZM1333.6 1724.0V1721.0H1340.7V1724.0ZM1340.7 1724.0V1722.4H1349.3V1724.0Z" fill="#2D4EA2"/>
<rect x="182.7" y="1723.3" width="1166.6" height="1.4" fill="#2D4EA2"/>
<text x="1354.0" y="1711.7" font-size="21" fill="#26408E" stroke="#26408E" text-anchor="end">0 - 1.0</text>
<rect x="1040" y="1662" width="194" height="78" fill="rgba(232,60,62,0.21)"/>
<rect x="683.3" y="1662" width="309.4000000000001" height="78" fill="rgba(38,62,150,0.205)"/>
<rect x="615.7" y="1730.2" width="532.8999999999999" height="1.4" fill="#26307A"/>
<rect x="615.7" y="1729.8000000000002" width="154.29999999999995" height="2.2" fill="#26307A"/>
<rect x="770" y="1729.0" width="34.299999999999955" height="3.8" fill="#26307A"/>
<rect x="895.7" y="1729.0" width="7.199999999999932" height="3.8" fill="#26307A"/>
<rect x="935.7" y="1729.0" width="23.59999999999991" height="3.8" fill="#26307A"/>
<rect x="1095" y="1729.0" width="9.299999999999955" height="3.8" fill="#26307A"/>
<rect x="1104.3" y="1729.7" width="44.299999999999955" height="2.4" fill="#26307A"/>
<text x="1156.7" y="1756.0" font-size="27.8" fill="#000" stroke="#000" font-style="italic">Fosb</text>
</svg>
</body></html>
